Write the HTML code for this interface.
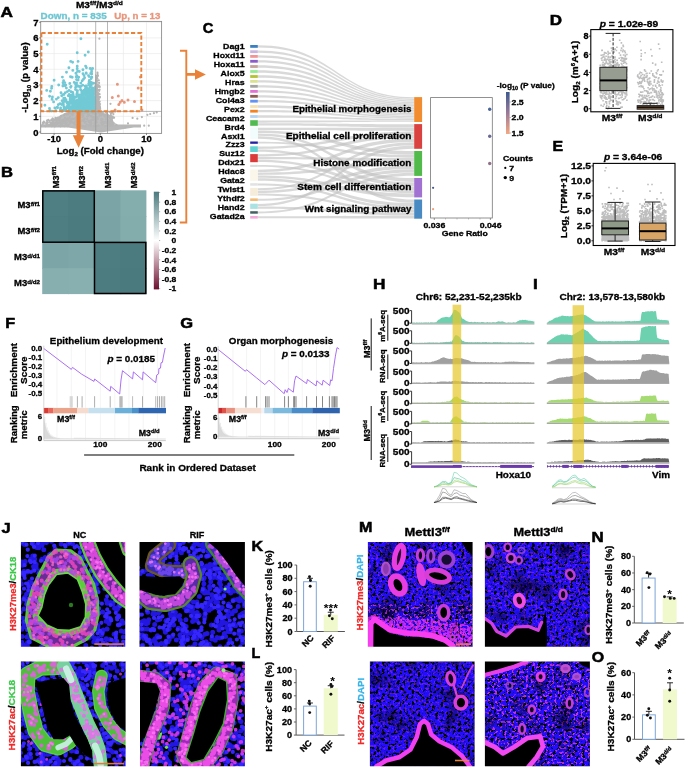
<!DOCTYPE html>
<html><head><meta charset="utf-8"><style>
html,body{margin:0;padding:0;background:#fff;width:685px;height:769px;overflow:hidden}
svg{display:block;filter:blur(0.3px)}
text{font-family:"Liberation Sans",sans-serif}
</style></head><body>
<svg width="685" height="769" viewBox="0 0 685 769" font-family="Liberation Sans, sans-serif"><text x="0" y="0" font-size="15.0" font-weight="bold" fill="#000" stroke="#000" stroke-width="0.55" transform="translate(0.60 17.40) scale(1.150 1)">A</text>
<text x="0" y="3.24" font-size="9.0" font-weight="bold" text-anchor="middle" fill="#000" stroke="#000" stroke-width="0.3" transform="translate(99.40 4.90) scale(1.12 1)">M3<tspan font-size="5.94" dy="-2.70">f/f</tspan><tspan dy="2.7" font-size="9.0">/M3</tspan><tspan font-size="5.9" dy="-2.7">d/d</tspan></text>
<text x="0" y="3.20" font-size="8.9" font-weight="bold" text-anchor="start" fill="#6ec6d3" stroke="#6ec6d3" stroke-width="0.3" textLength="66.20" lengthAdjust="spacingAndGlyphs" transform="translate(40.60 15.70)">Down, n = 835</text>
<text x="0" y="3.20" font-size="8.9" font-weight="bold" text-anchor="start" fill="#e8967c" stroke="#e8967c" stroke-width="0.3" textLength="46.20" lengthAdjust="spacingAndGlyphs" transform="translate(114.20 15.70)">Up, n = 13</text>
<line x1="54.10" y1="21.40" x2="54.10" y2="133.40" stroke="#e6e6e6" stroke-width="0.6"/>
<line x1="77.20" y1="21.40" x2="77.20" y2="133.40" stroke="#e6e6e6" stroke-width="0.6"/>
<line x1="123.40" y1="21.40" x2="123.40" y2="133.40" stroke="#e6e6e6" stroke-width="0.6"/>
<line x1="146.50" y1="21.40" x2="146.50" y2="133.40" stroke="#e6e6e6" stroke-width="0.6"/>
<line x1="40.70" y1="116.32" x2="161.60" y2="116.32" stroke="#e6e6e6" stroke-width="0.6"/>
<line x1="40.70" y1="100.64" x2="161.60" y2="100.64" stroke="#e6e6e6" stroke-width="0.6"/>
<line x1="40.70" y1="84.96" x2="161.60" y2="84.96" stroke="#e6e6e6" stroke-width="0.6"/>
<line x1="40.70" y1="69.28" x2="161.60" y2="69.28" stroke="#e6e6e6" stroke-width="0.6"/>
<line x1="40.70" y1="53.60" x2="161.60" y2="53.60" stroke="#e6e6e6" stroke-width="0.6"/>
<line x1="40.70" y1="37.92" x2="161.60" y2="37.92" stroke="#e6e6e6" stroke-width="0.6"/>
<line x1="40.70" y1="22.24" x2="161.60" y2="22.24" stroke="#e6e6e6" stroke-width="0.6"/>
<path d="M41 124.6 H141 V127.4 H134 L101 132.6 L68 127.4 H41 Z" fill="#b8b8b8"/>
<path d="M50 126 L54 119 L60 115.5 L66 112.5 L72 111.4 L94.8 111.4 L95.2 74 L97.6 76 L98.1 100 L99.5 110.5 L104 113 L109 116 L113 121 L117 124.8 L100 125 Z" fill="#bcbcbc"/>
<path d="M65.7 124.3h0M89.2 125.4h0M80.9 121.1h0M47.6 125.2h0M72.9 114.2h0M51.4 123.2h0M87.5 112.4h0M83.9 120.6h0M112.5 125.8h0M104.0 122.2h0M52.9 124.8h0M64.6 114.4h0M55.5 117.8h0M88.3 121.0h0M81.8 125.6h0M46.8 123.4h0M91.3 120.1h0M65.0 117.8h0M75.0 122.0h0M99.4 116.1h0M60.0 118.0h0M80.2 113.5h0M94.8 122.2h0M112.7 124.8h0M72.5 115.2h0M53.4 119.2h0M97.3 118.0h0M105.2 121.8h0M92.3 117.7h0M84.1 119.7h0M102.7 112.4h0M76.5 116.6h0M88.9 111.7h0M101.4 122.3h0M70.2 116.6h0M54.6 124.8h0M51.8 122.8h0M70.5 113.5h0M48.3 119.8h0M81.9 113.4h0M101.2 113.6h0M62.5 120.3h0M68.2 113.3h0M111.1 124.3h0M55.2 123.1h0M59.3 119.3h0M84.7 122.6h0M69.0 118.1h0M110.8 116.2h0M79.5 117.3h0M91.0 125.7h0M107.0 114.9h0M105.2 114.6h0M70.6 120.6h0M47.0 125.5h0M57.5 124.1h0M66.9 125.7h0M42.6 124.3h0M49.8 121.1h0M86.5 124.3h0M60.6 121.3h0M68.6 124.7h0M103.3 111.7h0M75.9 119.3h0M48.7 125.0h0M67.1 122.6h0M101.9 124.1h0M80.4 124.3h0M81.4 126.1h0M80.4 111.9h0M104.4 116.1h0M61.2 121.0h0M80.7 114.9h0M66.2 123.2h0M100.7 111.8h0M103.6 114.5h0M101.2 115.5h0M58.8 118.8h0M68.0 126.1h0M44.6 122.3h0M61.1 116.2h0M111.0 119.9h0M109.7 111.8h0M110.9 121.1h0M58.3 123.1h0M56.6 123.5h0M87.2 113.1h0M102.7 119.4h0M89.3 114.6h0M107.7 114.9h0M96.3 119.4h0M66.4 114.6h0M112.1 120.6h0M71.3 112.4h0M94.5 124.0h0M51.6 124.3h0M107.3 114.5h0M112.7 116.7h0M67.6 118.3h0M51.9 126.3h0M112.1 116.8h0M80.3 112.6h0M73.6 113.5h0M101.7 123.4h0M60.6 122.1h0M59.8 117.8h0M61.1 120.3h0M67.9 119.7h0M84.3 113.0h0M72.7 112.8h0M78.5 118.6h0M80.0 126.2h0M74.1 123.8h0M54.9 119.5h0M94.5 118.2h0M65.9 118.8h0M82.3 114.8h0M60.3 122.4h0M97.9 118.9h0M82.8 115.2h0M107.9 119.9h0M86.4 119.0h0M79.2 116.2h0M74.9 118.6h0M76.8 112.5h0M92.6 113.5h0M110.0 122.6h0M82.6 112.5h0M102.7 124.5h0M51.3 119.9h0M47.7 122.9h0M98.7 113.1h0M89.8 124.4h0M105.8 112.1h0M71.1 119.3h0M113.4 114.1h0M54.1 120.1h0M79.5 121.5h0M56.6 121.8h0M94.3 126.2h0M82.2 120.0h0M43.8 121.6h0M87.2 118.9h0M99.0 112.0h0M50.1 122.6h0M61.9 124.6h0M72.8 112.9h0M101.2 122.7h0M83.4 116.1h0M49.0 125.7h0M91.8 120.2h0M88.0 114.6h0M75.0 121.5h0M82.2 112.7h0M61.7 124.6h0M80.3 123.0h0M50.4 124.1h0M46.2 123.5h0M64.9 122.0h0M96.9 122.2h0M78.4 123.9h0M67.4 126.2h0M60.5 126.3h0M95.0 118.3h0M56.1 119.4h0M109.5 124.9h0M101.2 120.1h0M78.0 114.1h0M70.7 119.0h0M91.8 111.9h0M67.1 114.1h0M93.2 117.0h0M71.5 121.3h0M46.4 124.6h0M60.9 124.1h0M104.9 116.5h0M62.7 122.9h0M63.5 119.7h0M53.8 119.9h0M112.2 118.4h0M64.7 121.2h0M76.5 119.0h0M56.9 119.0h0M42.9 122.6h0M49.0 120.6h0M45.5 126.2h0M64.3 123.0h0M84.5 118.6h0M96.3 116.7h0M93.8 113.4h0M70.4 121.7h0M113.1 124.3h0M94.4 116.9h0M106.4 117.2h0M95.1 114.4h0M52.5 118.7h0M78.7 114.1h0M100.2 114.2h0M84.4 113.2h0M91.5 116.2h0M59.0 126.0h0M52.1 121.1h0M82.5 117.2h0M87.4 116.4h0M77.6 126.5h0M99.7 115.4h0M78.6 118.5h0M89.8 125.5h0M95.3 122.8h0M47.9 122.6h0M94.8 123.5h0M95.5 112.0h0M77.9 120.8h0M76.9 116.3h0M97.5 117.3h0M88.6 125.4h0M53.1 122.7h0M95.8 122.0h0M83.2 126.3h0M46.9 122.5h0M90.7 116.2h0M90.9 122.2h0M79.5 119.6h0M75.9 124.7h0M106.5 123.5h0M112.6 112.6h0M101.3 112.1h0M74.7 122.5h0M57.6 117.9h0M52.7 118.7h0M110.8 124.5h0M101.3 118.9h0M106.1 116.0h0M77.4 126.1h0M74.8 122.0h0M52.6 121.4h0M65.2 114.0h0M102.6 124.7h0M108.9 115.9h0M107.1 122.2h0M69.2 120.7h0M114.1 117.7h0M68.4 120.1h0M62.3 125.8h0M60.4 122.6h0M79.1 123.7h0M69.3 112.3h0M105.9 114.4h0M87.7 112.9h0M109.9 118.3h0M94.1 125.8h0M95.0 119.8h0M96.4 116.9h0M63.0 125.8h0M108.9 124.6h0M76.4 121.4h0M63.9 115.5h0M112.5 122.6h0M89.5 122.0h0M82.5 120.6h0M54.5 124.1h0M78.1 123.2h0M107.4 111.7h0M74.8 124.4h0M56.3 125.2h0M67.0 125.2h0M59.7 122.7h0M83.3 113.3h0M96.2 120.4h0M72.2 118.7h0M69.5 121.5h0M47.0 122.4h0M111.8 124.6h0M78.6 117.1h0M104.3 123.3h0M62.0 122.8h0M71.2 119.9h0M110.9 113.9h0M105.1 126.2h0M106.7 119.5h0M84.6 126.5h0M70.6 112.7h0M101.7 113.8h0M112.2 122.8h0M50.4 124.2h0M80.0 116.4h0M110.0 115.8h0M88.9 115.1h0M75.3 118.3h0M88.8 122.0h0M51.7 122.8h0M88.1 116.1h0M50.6 125.5h0M80.1 117.8h0M70.3 123.2h0M85.6 126.4h0M64.1 119.6h0M111.2 116.9h0M105.8 119.4h0M59.4 122.8h0M111.3 116.0h0M64.6 126.2h0M78.2 116.5h0M72.6 122.7h0M90.3 112.7h0M58.8 126.0h0M66.8 120.2h0M91.4 123.6h0M99.6 115.5h0M78.7 123.5h0M112.0 121.9h0M101.3 123.1h0M78.1 123.7h0M58.5 120.3h0M90.2 112.4h0M53.0 120.7h0M52.7 125.7h0M46.9 120.7h0M106.9 113.4h0M95.0 111.7h0M109.3 121.6h0M96.0 126.0h0M90.1 120.9h0M69.3 121.6h0M54.7 126.5h0M62.6 121.3h0M111.0 124.7h0M111.6 123.4h0M68.1 114.3h0M101.4 120.1h0M69.2 112.8h0M56.4 121.1h0M106.8 126.1h0M72.0 114.4h0M97.5 125.9h0M45.0 125.6h0M108.4 122.7h0M96.1 113.1h0M66.8 122.5h0M111.1 117.3h0M61.3 115.8h0M65.2 122.4h0M108.2 117.1h0M110.1 126.2h0M59.3 119.4h0M111.1 112.3h0M70.2 122.8h0M73.3 119.2h0M109.0 123.8h0M100.0 115.5h0M101.5 115.0h0M86.0 121.6h0M65.4 121.1h0M98.6 125.3h0M60.3 125.5h0M105.8 111.8h0M61.5 125.3h0M93.4 119.9h0M59.3 120.3h0M87.0 116.5h0M96.1 113.9h0M90.1 124.7h0M102.8 122.1h0M83.1 121.0h0M95.4 123.5h0M60.3 122.9h0M98.0 99.4h0M97.6 103.4h0M99.2 85.5h0M100.2 108.9h0M97.4 78.5h0M95.0 100.8h0M95.4 105.2h0M99.9 97.4h0M99.6 94.2h0M96.2 80.3h0M100.0 108.7h0M98.1 86.9h0M96.0 97.6h0M95.5 104.5h0M96.2 87.8h0M98.4 104.6h0M94.8 99.3h0M98.5 105.3h0M96.5 104.6h0M99.2 90.0h0M95.1 108.9h0M96.9 89.9h0M98.3 109.3h0M95.7 83.7h0M97.0 101.2h0M96.5 89.2h0M96.7 95.6h0M96.8 104.8h0M98.8 104.6h0M97.1 78.5h0M97.0 75.8h0M97.3 106.3h0M94.8 89.8h0M95.2 86.8h0M96.8 91.8h0M95.6 101.2h0M97.6 74.0h0M95.4 92.4h0M95.9 107.8h0M97.4 110.9h0M99.9 96.8h0M99.8 86.9h0M99.3 106.4h0M99.1 103.8h0M97.0 77.4h0M99.4 105.4h0M96.0 96.3h0M97.6 96.9h0M95.4 102.7h0M95.0 89.4h0M99.0 111.6h0M99.4 108.2h0M98.1 89.9h0M98.2 100.2h0M97.1 88.5h0M97.1 85.3h0M97.2 94.6h0M97.5 103.2h0M97.3 105.6h0M97.4 108.7h0M95.5 95.0h0M95.3 94.5h0M97.6 111.5h0M98.3 109.7h0M98.8 80.3h0M97.6 110.9h0M97.5 97.2h0M100.0 107.4h0M97.5 72.7h0M99.8 106.2h0M95.1 98.3h0M98.9 106.5h0M99.7 101.5h0M99.3 107.1h0M97.5 74.2h0M95.9 102.1h0M97.6 99.7h0M95.0 105.5h0M95.4 90.7h0M98.3 98.0h0M99.6 89.7h0M98.0 75.8h0M98.2 96.5h0M99.2 102.0h0M96.8 80.8h0M97.2 105.7h0M98.9 111.1h0M99.3 102.4h0M98.0 85.1h0M96.5 113.1h0M94.9 106.9h0M98.2 94.9h0M97.6 75.3h0M95.5 103.6h0M98.4 112.2h0M94.8 98.2h0M95.3 98.1h0M96.0 88.5h0M98.0 104.5h0M98.2 93.1h0M96.1 106.9h0M95.3 86.2h0M97.0 102.0h0M97.9 98.4h0M98.3 94.4h0M95.0 90.7h0M97.0 103.1h0M94.8 89.9h0M100.0 107.2h0M95.9 87.4h0M97.6 86.0h0M99.3 105.8h0M96.5 100.5h0M99.1 82.9h0M98.9 93.5h0M98.9 94.0h0M96.0 108.7h0M96.0 111.5h0M96.6 81.4h0M98.7 101.9h0M97.8 94.7h0M99.1 91.0h0M96.2 86.0h0M100.1 104.0h0M99.6 112.5h0M96.2 103.2h0M98.9 99.3h0M144.2 125.7h0M148.8 125.7h0M128.0 123.4h0M132.6 117.9h0M137.3 118.7h0M141.9 117.1h0M147.4 114.8h0M150.2 114.0h0M153.9 113.2h0M156.7 112.4h0M125.7 127.3h0M116.5 124.9h0M99.4 38.7h0M110.5 103.8h0M115.1 111.6h0M43.5 123.4h0M47.2 122.6h0M107.2 117.9h0M111.8 119.5h0" stroke="#b5b5b5" stroke-width="2.2" stroke-linecap="round" fill="none"/>
<path d="M66 111.4 L74 104 L80 97 L86 91 L94.8 86 L94.8 111.4 Z" fill="#78cbd7"/>
<path d="M83.9 107.4h0M84.6 77.7h0M77.3 95.9h0M63.5 94.4h0M88.7 83.8h0M70.1 99.4h0M84.5 106.1h0M89.3 110.2h0M72.2 77.2h0M92.4 109.7h0M91.7 74.0h0M89.6 110.9h0M87.1 110.7h0M86.4 94.5h0M72.7 92.5h0M74.4 104.9h0M85.8 87.3h0M79.9 110.3h0M63.0 82.7h0M60.4 109.7h0M74.3 108.1h0M91.4 84.7h0M91.9 87.7h0M74.1 97.2h0M71.6 106.5h0M88.6 91.3h0M90.3 108.1h0M87.4 111.0h0M78.9 107.1h0M89.4 104.8h0M68.9 105.8h0M75.6 84.4h0M90.3 97.7h0M77.9 103.2h0M91.4 90.4h0M79.9 100.4h0M73.4 107.9h0M90.0 87.1h0M89.2 108.7h0M83.6 91.0h0M75.4 101.8h0M94.2 88.8h0M87.0 105.3h0M76.9 86.1h0M92.1 106.6h0M54.9 107.9h0M88.7 109.7h0M76.2 97.0h0M69.2 94.4h0M80.5 89.5h0M83.9 104.1h0M83.5 104.2h0M89.3 80.4h0M90.3 110.9h0M91.2 78.6h0M82.2 101.5h0M69.7 107.5h0M71.0 102.6h0M67.4 91.6h0M89.3 96.6h0M86.2 108.9h0M82.7 85.2h0M80.4 108.7h0M71.4 103.2h0M91.5 109.4h0M73.1 102.6h0M85.6 108.3h0M86.7 106.2h0M85.5 108.9h0M64.1 108.9h0M94.5 100.9h0M80.0 108.8h0M85.3 92.9h0M60.6 109.8h0M69.3 104.5h0M65.3 92.7h0M91.8 103.2h0M86.9 109.7h0M72.4 108.0h0M91.4 104.1h0M91.9 89.2h0M87.9 97.2h0M76.4 102.5h0M80.5 104.0h0M77.2 92.2h0M80.0 99.3h0M85.1 91.8h0M84.2 93.2h0M89.1 81.4h0M90.9 84.3h0M69.2 95.2h0M83.2 106.0h0M80.5 97.3h0M80.6 89.8h0M84.7 93.7h0M86.1 103.5h0M85.6 102.7h0M82.4 95.4h0M83.0 73.7h0M84.9 90.1h0M72.6 104.4h0M49.8 110.8h0M91.9 100.2h0M79.3 71.5h0M70.2 101.0h0M77.3 100.3h0M81.9 93.5h0M71.1 86.4h0M92.9 100.9h0M60.6 108.0h0M73.2 95.0h0M72.7 109.5h0M91.3 106.8h0M90.3 104.1h0M77.5 103.6h0M93.3 94.4h0M86.9 107.7h0M84.3 92.2h0M75.8 107.8h0M87.3 88.5h0M85.8 109.3h0M87.5 90.2h0M86.1 102.4h0M72.8 99.7h0M88.3 105.2h0M52.4 96.9h0M81.9 102.4h0M67.0 106.4h0M86.5 86.0h0M92.2 105.1h0M87.0 104.6h0M84.2 107.2h0M85.2 111.3h0M90.0 93.2h0M92.3 106.2h0M82.5 102.1h0M73.4 96.1h0M84.5 105.0h0M65.3 110.5h0M80.6 86.5h0M70.6 109.2h0M78.5 86.2h0M92.8 111.1h0M92.6 68.5h0M87.7 109.8h0M84.3 109.1h0M91.8 105.3h0M66.1 109.0h0M70.5 108.7h0M78.1 80.0h0M72.2 95.7h0M76.5 79.6h0M87.2 108.2h0M63.9 94.6h0M67.9 103.2h0M89.5 81.1h0M82.5 107.5h0M90.3 109.2h0M89.0 102.4h0M94.5 109.1h0M75.3 100.4h0M93.7 83.3h0M62.9 102.4h0M93.4 99.6h0M78.6 104.7h0M67.3 103.6h0M88.4 97.0h0M93.1 97.0h0M72.3 95.1h0M90.7 73.5h0M72.0 101.2h0M53.6 101.9h0M91.3 93.4h0M92.1 97.5h0M77.3 104.9h0M66.7 102.2h0M66.6 108.0h0M90.2 103.2h0M76.1 86.6h0M84.9 106.4h0M86.8 101.4h0M79.8 106.8h0M49.6 96.3h0M92.9 89.1h0M87.7 106.3h0M82.1 98.8h0M75.5 110.7h0M72.9 93.2h0M79.0 110.6h0M81.0 106.3h0M84.0 75.4h0M94.3 98.1h0M78.7 77.3h0M70.2 98.0h0M77.4 94.5h0M79.1 98.5h0M89.9 95.8h0M84.3 102.7h0M94.1 108.5h0M87.1 110.8h0M89.1 96.3h0M58.3 104.8h0M81.9 99.6h0M68.5 107.1h0M89.2 105.9h0M78.3 103.4h0M70.4 110.5h0M64.6 99.5h0M86.6 87.8h0M92.7 99.2h0M79.0 111.1h0M85.9 104.4h0M73.3 102.2h0M88.2 96.7h0M90.7 107.9h0M93.1 111.2h0M92.4 95.1h0M63.5 110.0h0M64.8 82.6h0M92.6 93.4h0M92.5 107.4h0M93.7 110.6h0M84.1 90.3h0M87.3 92.8h0M62.9 110.1h0M76.7 102.6h0M75.9 73.3h0M93.7 93.5h0M51.8 111.1h0M70.7 87.3h0M92.5 110.1h0M84.7 108.7h0M69.8 83.5h0M88.9 104.8h0M94.3 99.2h0M71.6 109.1h0M85.4 88.8h0M79.1 97.3h0M76.6 103.7h0M72.8 70.4h0M75.5 89.6h0M82.1 110.4h0M85.7 105.6h0M64.9 98.2h0M63.7 98.3h0M90.3 106.1h0M63.4 104.6h0M79.7 95.0h0M66.4 88.1h0M73.6 106.6h0M81.8 103.6h0M94.6 98.8h0M80.8 110.7h0M62.9 86.0h0M82.1 99.3h0M63.8 106.8h0M76.8 95.0h0M70.5 76.7h0M90.7 99.9h0M89.0 88.8h0M86.3 73.4h0M68.4 107.5h0M75.2 102.5h0M79.2 108.0h0M93.9 89.2h0M67.0 102.6h0M69.1 90.4h0M79.0 107.6h0M63.6 80.8h0M77.8 100.9h0M72.8 108.3h0M91.5 108.3h0M83.9 104.9h0M71.3 99.6h0M78.3 109.0h0M83.2 110.7h0M78.7 109.7h0M94.5 97.2h0M92.5 98.5h0M85.3 105.3h0M91.4 110.8h0M82.0 99.5h0M80.4 107.0h0M91.6 70.0h0M77.5 90.7h0M76.8 107.2h0M55.9 110.8h0M91.6 110.1h0M84.7 110.6h0M63.3 102.7h0M82.9 69.8h0M89.6 98.4h0M91.5 104.2h0M64.1 107.1h0M66.0 99.6h0M68.3 95.7h0M62.6 104.3h0M93.9 107.1h0M90.2 105.2h0M65.2 85.7h0M74.1 110.6h0M88.8 96.6h0M86.0 91.5h0M91.6 71.7h0M88.5 98.7h0M82.2 91.3h0M83.2 107.1h0M85.7 109.4h0M84.7 107.5h0M93.6 109.1h0M93.6 93.5h0M92.4 108.2h0M57.6 107.8h0M86.2 72.9h0M71.4 109.2h0M68.9 102.9h0M63.4 85.2h0M72.9 97.3h0M80.3 86.9h0M90.3 102.1h0M88.4 107.8h0M88.1 110.5h0M90.0 109.1h0M74.2 82.4h0M93.0 108.9h0M77.7 106.8h0M86.7 108.7h0M82.1 101.8h0M79.8 109.6h0M61.7 95.7h0M82.4 108.0h0M81.2 107.1h0M92.8 108.1h0M83.5 79.3h0M86.8 110.5h0M81.0 111.1h0M89.4 109.2h0M80.5 111.3h0M84.7 108.4h0M77.1 103.2h0M84.8 99.3h0M88.6 109.2h0M82.6 93.8h0M68.9 108.2h0M88.5 98.1h0M91.4 101.6h0M93.1 97.9h0M83.6 93.9h0M86.5 108.1h0M74.4 110.3h0M92.9 93.3h0M77.8 110.5h0M89.2 85.3h0M80.8 83.1h0M91.8 77.3h0M94.6 102.2h0M85.7 108.4h0M85.3 86.2h0M88.1 104.8h0M87.4 98.6h0M74.6 103.0h0M94.2 101.1h0M75.6 87.4h0M76.6 83.0h0M83.4 104.5h0M71.1 91.7h0M82.1 101.7h0M74.4 100.4h0M93.0 111.0h0M83.2 108.5h0M92.4 109.8h0M94.7 110.9h0M64.1 109.9h0M91.3 111.1h0M84.4 98.4h0M76.8 94.2h0M85.4 109.8h0M76.7 110.7h0M75.4 109.4h0M75.2 106.7h0M94.0 109.5h0M87.3 98.7h0M89.7 83.4h0M81.7 91.9h0M77.4 108.8h0M76.7 104.4h0M60.0 103.6h0M83.9 104.2h0M77.6 71.3h0M92.2 107.4h0M79.8 105.5h0M51.6 88.3h0M76.3 76.9h0M81.9 110.5h0M65.1 101.0h0M57.3 107.3h0M84.6 103.6h0M84.1 100.6h0M83.0 110.3h0M76.8 111.0h0M86.7 109.2h0M66.5 72.3h0M89.3 97.1h0M82.2 80.8h0M62.6 110.8h0M86.5 95.3h0M84.6 106.8h0M58.3 97.6h0M84.8 107.2h0M77.2 68.8h0M92.5 106.5h0M86.6 109.5h0M72.2 98.6h0M75.5 106.9h0M89.3 102.4h0M85.5 109.4h0M92.8 109.3h0M90.2 106.5h0M78.4 107.4h0M77.0 85.5h0M83.8 98.0h0M73.0 108.1h0M84.5 93.8h0M74.4 97.9h0M89.7 102.4h0M90.2 107.8h0M83.3 101.2h0M78.4 111.1h0M80.0 105.2h0M86.8 99.8h0M85.4 101.8h0M84.1 106.4h0M46.7 90.4h0M91.4 82.4h0M89.6 103.1h0M79.5 103.1h0M88.5 92.5h0M85.6 66.1h0M87.2 92.4h0M86.2 105.2h0M82.3 95.4h0M70.6 87.0h0M73.1 101.0h0M92.8 91.2h0M67.4 102.2h0M89.1 76.6h0M69.3 109.4h0M93.7 90.8h0M93.6 98.9h0M52.1 99.3h0M94.2 103.7h0M87.7 98.1h0M61.7 104.6h0M77.2 93.2h0M89.3 106.4h0M78.4 104.5h0M81.3 105.8h0M87.3 101.5h0M63.3 103.0h0M89.1 109.1h0M81.8 99.2h0M88.5 75.6h0M91.3 105.8h0M77.2 66.3h0M68.3 108.1h0M62.0 111.2h0M78.5 110.6h0M76.8 75.6h0M87.0 90.3h0M80.5 101.0h0M88.2 105.1h0M79.6 98.6h0M70.8 95.4h0M62.2 100.8h0M81.7 104.1h0M85.4 99.7h0M79.4 101.9h0M86.2 105.4h0M64.7 108.7h0M89.0 105.9h0M47.2 44.2h0M80.9 38.7h0M77.2 52.8h0M78.1 61.4h0M70.7 61.4h0M72.6 62.2h0M68.9 67.7h0M88.3 52.0h0M85.1 55.2h0M44.9 105.3h0M49.5 108.5h0M54.1 80.3h0M51.8 86.5h0M58.7 85.0h0M62.4 77.1h0M65.7 85.0h0M86.4 67.7h0M90.1 68.5h0M56.4 99.1h0M50.4 91.2h0M61.0 92.8h0" stroke="#72c9d6" stroke-width="2.9" stroke-linecap="round" fill="none"/>
<path d="M117.4 84.2h0M118.3 95.9h0M122.0 100.6h0M120.2 102.2h0M124.3 102.2h0M128.0 99.9h0M134.5 101.4h0M138.2 88.1h0M140.5 77.1h0M112.3 97.5h0M118.8 104.6h0M115.1 110.0h0M141.9 110.0h0" stroke="#e8967c" stroke-width="3.0" stroke-linecap="round" fill="none"/>
<line x1="95.70" y1="21.40" x2="95.70" y2="133.40" stroke="#9a9a9a" stroke-width="0.7"/>
<line x1="107.50" y1="21.40" x2="107.50" y2="133.40" stroke="#9a9a9a" stroke-width="0.7"/>
<line x1="40.70" y1="111.40" x2="161.60" y2="111.40" stroke="#9a9a9a" stroke-width="0.7"/>
<rect x="40.70" y="21.40" width="120.90" height="112.00" fill="none" stroke="#8c8c8c" stroke-width="0.9"/>
<text x="0" y="3.10" font-size="8.6" font-weight="bold" text-anchor="end" fill="#000" stroke="#000" stroke-width="0.3" transform="translate(38.60 132.40) scale(1.1 1)">0</text>
<line x1="39.10" y1="132.00" x2="40.70" y2="132.00" stroke="#555" stroke-width="0.7"/>
<text x="0" y="3.10" font-size="8.6" font-weight="bold" text-anchor="end" fill="#000" stroke="#000" stroke-width="0.3" transform="translate(38.60 116.72) scale(1.1 1)">1</text>
<line x1="39.10" y1="116.32" x2="40.70" y2="116.32" stroke="#555" stroke-width="0.7"/>
<text x="0" y="3.10" font-size="8.6" font-weight="bold" text-anchor="end" fill="#000" stroke="#000" stroke-width="0.3" transform="translate(38.60 101.04) scale(1.1 1)">2</text>
<line x1="39.10" y1="100.64" x2="40.70" y2="100.64" stroke="#555" stroke-width="0.7"/>
<text x="0" y="3.10" font-size="8.6" font-weight="bold" text-anchor="end" fill="#000" stroke="#000" stroke-width="0.3" transform="translate(38.60 85.36) scale(1.1 1)">3</text>
<line x1="39.10" y1="84.96" x2="40.70" y2="84.96" stroke="#555" stroke-width="0.7"/>
<text x="0" y="3.10" font-size="8.6" font-weight="bold" text-anchor="end" fill="#000" stroke="#000" stroke-width="0.3" transform="translate(38.60 69.68) scale(1.1 1)">4</text>
<line x1="39.10" y1="69.28" x2="40.70" y2="69.28" stroke="#555" stroke-width="0.7"/>
<text x="0" y="3.10" font-size="8.6" font-weight="bold" text-anchor="end" fill="#000" stroke="#000" stroke-width="0.3" transform="translate(38.60 54.00) scale(1.1 1)">5</text>
<line x1="39.10" y1="53.60" x2="40.70" y2="53.60" stroke="#555" stroke-width="0.7"/>
<text x="0" y="3.10" font-size="8.6" font-weight="bold" text-anchor="end" fill="#000" stroke="#000" stroke-width="0.3" transform="translate(38.60 38.32) scale(1.1 1)">6</text>
<line x1="39.10" y1="37.92" x2="40.70" y2="37.92" stroke="#555" stroke-width="0.7"/>
<text x="0" y="3.10" font-size="8.6" font-weight="bold" text-anchor="end" fill="#000" stroke="#000" stroke-width="0.3" transform="translate(38.60 22.64) scale(1.1 1)">7</text>
<line x1="39.10" y1="22.24" x2="40.70" y2="22.24" stroke="#555" stroke-width="0.7"/>
<text x="0" y="3.10" font-size="8.6" font-weight="bold" text-anchor="middle" fill="#000" stroke="#000" stroke-width="0.3" transform="translate(54.10 139.20) scale(1.1 1)">-10</text>
<line x1="54.10" y1="133.40" x2="54.10" y2="135.00" stroke="#555" stroke-width="0.7"/>
<text x="0" y="3.10" font-size="8.6" font-weight="bold" text-anchor="middle" fill="#000" stroke="#000" stroke-width="0.3" transform="translate(100.30 139.20) scale(1.1 1)">0</text>
<line x1="100.30" y1="133.40" x2="100.30" y2="135.00" stroke="#555" stroke-width="0.7"/>
<text x="0" y="3.10" font-size="8.6" font-weight="bold" text-anchor="middle" fill="#000" stroke="#000" stroke-width="0.3" transform="translate(146.50 139.20) scale(1.1 1)">10</text>
<line x1="146.50" y1="133.40" x2="146.50" y2="135.00" stroke="#555" stroke-width="0.7"/>
<text x="0" y="3.17" font-size="8.8" font-weight="bold" text-anchor="middle" fill="#000" stroke="#000" stroke-width="0.3" transform="translate(100.30 150.60) scale(1.1 1)">Log<tspan font-size="5.6" dy="2.2">2</tspan><tspan dy="-2.2"> (Fold change)</tspan></text>
<text x="0" y="3.17" font-size="8.8" font-weight="bold" text-anchor="middle" fill="#000" stroke="#000" stroke-width="0.3" transform="translate(25.20 77.50) rotate(-90) scale(1.1 1)">-Log<tspan font-size="5.6" dy="2.2">10</tspan><tspan dy="-2.2"> (p value)</tspan></text>
<rect x="41.4" y="33.0" width="99.9" height="78.2" fill="none" stroke="#e98238" stroke-width="1.9" stroke-dasharray="4.2 2.2"/>
<path d="M76.6 111.2 H80.6 V135.2 H84.4 L78.6 147.8 L72.8 135.2 H76.6 Z" fill="#e98238"/>
<path d="M180 50.8 H186.3 V222.5 H179.8" fill="none" stroke="#e98238" stroke-width="1.9"/>
<path d="M186 73.1 H195 V69.2 L205.9 74.4 L195 79.7 V75.7 H186 Z" fill="#e98238"/>
<text x="0" y="0" font-size="15.0" font-weight="bold" fill="#000" stroke="#000" stroke-width="0.55" transform="translate(1.00 176.70) scale(1.111 1)">B</text>
<rect x="42.20" y="190.30" width="26.85" height="26.75" fill="#4f7f83"/>
<rect x="68.25" y="190.30" width="26.85" height="26.75" fill="#4c7c80"/>
<rect x="94.30" y="190.30" width="26.85" height="26.75" fill="#7aa4a6"/>
<rect x="120.35" y="190.30" width="26.05" height="26.75" fill="#84adae"/>
<rect x="42.20" y="216.25" width="26.85" height="26.75" fill="#4e7e82"/>
<rect x="68.25" y="216.25" width="26.85" height="26.75" fill="#4b7b7f"/>
<rect x="94.30" y="216.25" width="26.85" height="26.75" fill="#79a3a5"/>
<rect x="120.35" y="216.25" width="26.05" height="26.75" fill="#83acad"/>
<rect x="42.20" y="242.20" width="26.85" height="26.75" fill="#7ca5a7"/>
<rect x="68.25" y="242.20" width="26.85" height="26.75" fill="#7ea7a9"/>
<rect x="94.30" y="242.20" width="26.85" height="26.75" fill="#4d7d81"/>
<rect x="120.35" y="242.20" width="26.05" height="26.75" fill="#4b7b7f"/>
<rect x="42.20" y="268.15" width="26.85" height="25.95" fill="#87afb0"/>
<rect x="68.25" y="268.15" width="26.85" height="25.95" fill="#88b0b1"/>
<rect x="94.30" y="268.15" width="26.85" height="25.95" fill="#4c7c80"/>
<rect x="120.35" y="268.15" width="26.05" height="25.95" fill="#4a7a7e"/>
<rect x="42.80" y="190.90" width="51.50" height="51.30" fill="none" stroke="#000" stroke-width="1.5"/>
<rect x="94.50" y="242.40" width="51.30" height="51.10" fill="none" stroke="#000" stroke-width="1.5"/>
<text x="0" y="0.00" font-size="8.6" font-weight="bold" text-anchor="start" fill="#000" stroke="#000" stroke-width="0.3" transform="translate(59.02 188.50) rotate(-90) scale(1.1 1)">M3<tspan font-size="5.68" dy="-2.58">f/f1</tspan></text>
<text x="0" y="0.00" font-size="8.6" font-weight="bold" text-anchor="start" fill="#000" stroke="#000" stroke-width="0.3" transform="translate(85.08 188.50) rotate(-90) scale(1.1 1)">M3<tspan font-size="5.68" dy="-2.58">f/f2</tspan></text>
<text x="0" y="0.00" font-size="8.6" font-weight="bold" text-anchor="start" fill="#000" stroke="#000" stroke-width="0.3" transform="translate(111.12 188.50) rotate(-90) scale(1.1 1)">M3<tspan font-size="5.68" dy="-2.58">d/d1</tspan></text>
<text x="0" y="0.00" font-size="8.6" font-weight="bold" text-anchor="start" fill="#000" stroke="#000" stroke-width="0.3" transform="translate(137.18 188.50) rotate(-90) scale(1.1 1)">M3<tspan font-size="5.68" dy="-2.58">d/d2</tspan></text>
<text x="0" y="3.10" font-size="8.6" font-weight="bold" text-anchor="end" fill="#000" stroke="#000" stroke-width="0.3" transform="translate(40.00 205.28) scale(1.1 1)">M3<tspan font-size="5.68" dy="-2.58">f/f1</tspan></text>
<text x="0" y="3.10" font-size="8.6" font-weight="bold" text-anchor="end" fill="#000" stroke="#000" stroke-width="0.3" transform="translate(40.00 231.23) scale(1.1 1)">M3<tspan font-size="5.68" dy="-2.58">f/f2</tspan></text>
<text x="0" y="3.10" font-size="8.6" font-weight="bold" text-anchor="end" fill="#000" stroke="#000" stroke-width="0.3" transform="translate(40.00 257.18) scale(1.1 1)">M3<tspan font-size="5.68" dy="-2.58">d/d1</tspan></text>
<text x="0" y="3.10" font-size="8.6" font-weight="bold" text-anchor="end" fill="#000" stroke="#000" stroke-width="0.3" transform="translate(40.00 283.12) scale(1.1 1)">M3<tspan font-size="5.68" dy="-2.58">d/d2</tspan></text>
<defs><linearGradient id="cbB" x1="0" y1="0" x2="0" y2="1"><stop offset="0" stop-color="#4a7a7e"/><stop offset="0.5" stop-color="#ffffff"/><stop offset="1" stop-color="#6e0f30"/></linearGradient></defs>
<rect x="153.80" y="191.70" width="5.20" height="97.70" fill="url(#cbB)"/>
<text x="0" y="2.74" font-size="7.6" font-weight="bold" text-anchor="end" fill="#000" stroke="#000" stroke-width="0.3" transform="translate(176.30 192.50) scale(1.12 1)">1</text>
<line x1="159.00" y1="192.50" x2="160.20" y2="192.50" stroke="#666" stroke-width="0.5"/>
<text x="0" y="2.74" font-size="7.6" font-weight="bold" text-anchor="end" fill="#000" stroke="#000" stroke-width="0.3" transform="translate(176.30 202.11) scale(1.12 1)">0.8</text>
<line x1="159.00" y1="202.11" x2="160.20" y2="202.11" stroke="#666" stroke-width="0.5"/>
<text x="0" y="2.74" font-size="7.6" font-weight="bold" text-anchor="end" fill="#000" stroke="#000" stroke-width="0.3" transform="translate(176.30 211.72) scale(1.12 1)">0.6</text>
<line x1="159.00" y1="211.72" x2="160.20" y2="211.72" stroke="#666" stroke-width="0.5"/>
<text x="0" y="2.74" font-size="7.6" font-weight="bold" text-anchor="end" fill="#000" stroke="#000" stroke-width="0.3" transform="translate(176.30 221.33) scale(1.12 1)">0.4</text>
<line x1="159.00" y1="221.33" x2="160.20" y2="221.33" stroke="#666" stroke-width="0.5"/>
<text x="0" y="2.74" font-size="7.6" font-weight="bold" text-anchor="end" fill="#000" stroke="#000" stroke-width="0.3" transform="translate(176.30 230.94) scale(1.12 1)">0.2</text>
<line x1="159.00" y1="230.94" x2="160.20" y2="230.94" stroke="#666" stroke-width="0.5"/>
<text x="0" y="2.74" font-size="7.6" font-weight="bold" text-anchor="end" fill="#000" stroke="#000" stroke-width="0.3" transform="translate(176.30 240.55) scale(1.12 1)">0</text>
<line x1="159.00" y1="240.55" x2="160.20" y2="240.55" stroke="#666" stroke-width="0.5"/>
<text x="0" y="2.74" font-size="7.6" font-weight="bold" text-anchor="end" fill="#000" stroke="#000" stroke-width="0.3" transform="translate(176.30 250.16) scale(1.12 1)">-0.2</text>
<line x1="159.00" y1="250.16" x2="160.20" y2="250.16" stroke="#666" stroke-width="0.5"/>
<text x="0" y="2.74" font-size="7.6" font-weight="bold" text-anchor="end" fill="#000" stroke="#000" stroke-width="0.3" transform="translate(176.30 259.77) scale(1.12 1)">-0.4</text>
<line x1="159.00" y1="259.77" x2="160.20" y2="259.77" stroke="#666" stroke-width="0.5"/>
<text x="0" y="2.74" font-size="7.6" font-weight="bold" text-anchor="end" fill="#000" stroke="#000" stroke-width="0.3" transform="translate(176.30 269.38) scale(1.12 1)">-0.6</text>
<line x1="159.00" y1="269.38" x2="160.20" y2="269.38" stroke="#666" stroke-width="0.5"/>
<text x="0" y="2.74" font-size="7.6" font-weight="bold" text-anchor="end" fill="#000" stroke="#000" stroke-width="0.3" transform="translate(176.30 278.99) scale(1.12 1)">-0.8</text>
<line x1="159.00" y1="278.99" x2="160.20" y2="278.99" stroke="#666" stroke-width="0.5"/>
<text x="0" y="2.74" font-size="7.6" font-weight="bold" text-anchor="end" fill="#000" stroke="#000" stroke-width="0.3" transform="translate(176.30 288.60) scale(1.12 1)">-1</text>
<line x1="159.00" y1="288.60" x2="160.20" y2="288.60" stroke="#666" stroke-width="0.5"/>
<text x="0" y="0" font-size="15.0" font-weight="bold" fill="#000" stroke="#000" stroke-width="0.55" transform="translate(202.70 33.40) scale(0.982 1)">C</text>
<text x="0" y="2.81" font-size="7.8" font-weight="bold" text-anchor="end" fill="#000" stroke="#000" stroke-width="0.3" transform="translate(244.60 46.40) scale(1.13 1)">Dag1</text>
<text x="0" y="2.81" font-size="7.8" font-weight="bold" text-anchor="end" fill="#000" stroke="#000" stroke-width="0.3" transform="translate(244.60 55.33) scale(1.13 1)">Hoxd11</text>
<text x="0" y="2.81" font-size="7.8" font-weight="bold" text-anchor="end" fill="#000" stroke="#000" stroke-width="0.3" transform="translate(244.60 64.26) scale(1.13 1)">Hoxa11</text>
<text x="0" y="2.81" font-size="7.8" font-weight="bold" text-anchor="end" fill="#000" stroke="#000" stroke-width="0.3" transform="translate(244.60 73.19) scale(1.13 1)">Alox5</text>
<text x="0" y="2.81" font-size="7.8" font-weight="bold" text-anchor="end" fill="#000" stroke="#000" stroke-width="0.3" transform="translate(244.60 82.12) scale(1.13 1)">Hras</text>
<text x="0" y="2.81" font-size="7.8" font-weight="bold" text-anchor="end" fill="#000" stroke="#000" stroke-width="0.3" transform="translate(244.60 91.05) scale(1.13 1)">Hmgb2</text>
<text x="0" y="2.81" font-size="7.8" font-weight="bold" text-anchor="end" fill="#000" stroke="#000" stroke-width="0.3" transform="translate(244.60 99.98) scale(1.13 1)">Col4a3</text>
<text x="0" y="2.81" font-size="7.8" font-weight="bold" text-anchor="end" fill="#000" stroke="#000" stroke-width="0.3" transform="translate(244.60 108.91) scale(1.13 1)">Pex2</text>
<text x="0" y="2.81" font-size="7.8" font-weight="bold" text-anchor="end" fill="#000" stroke="#000" stroke-width="0.3" transform="translate(244.60 117.84) scale(1.13 1)">Ceacam2</text>
<text x="0" y="2.81" font-size="7.8" font-weight="bold" text-anchor="end" fill="#000" stroke="#000" stroke-width="0.3" transform="translate(244.60 126.77) scale(1.13 1)">Brd4</text>
<text x="0" y="2.81" font-size="7.8" font-weight="bold" text-anchor="end" fill="#000" stroke="#000" stroke-width="0.3" transform="translate(244.60 135.70) scale(1.13 1)">Asxl1</text>
<text x="0" y="2.81" font-size="7.8" font-weight="bold" text-anchor="end" fill="#000" stroke="#000" stroke-width="0.3" transform="translate(244.60 144.63) scale(1.13 1)">Zzz3</text>
<text x="0" y="2.81" font-size="7.8" font-weight="bold" text-anchor="end" fill="#000" stroke="#000" stroke-width="0.3" transform="translate(244.60 153.56) scale(1.13 1)">Suz12</text>
<text x="0" y="2.81" font-size="7.8" font-weight="bold" text-anchor="end" fill="#000" stroke="#000" stroke-width="0.3" transform="translate(244.60 162.49) scale(1.13 1)">Ddx21</text>
<text x="0" y="2.81" font-size="7.8" font-weight="bold" text-anchor="end" fill="#000" stroke="#000" stroke-width="0.3" transform="translate(244.60 171.42) scale(1.13 1)">Hdac8</text>
<text x="0" y="2.81" font-size="7.8" font-weight="bold" text-anchor="end" fill="#000" stroke="#000" stroke-width="0.3" transform="translate(244.60 180.35) scale(1.13 1)">Gata2</text>
<text x="0" y="2.81" font-size="7.8" font-weight="bold" text-anchor="end" fill="#000" stroke="#000" stroke-width="0.3" transform="translate(244.60 189.28) scale(1.13 1)">Twist1</text>
<text x="0" y="2.81" font-size="7.8" font-weight="bold" text-anchor="end" fill="#000" stroke="#000" stroke-width="0.3" transform="translate(244.60 198.21) scale(1.13 1)">Ythdf2</text>
<text x="0" y="2.81" font-size="7.8" font-weight="bold" text-anchor="end" fill="#000" stroke="#000" stroke-width="0.3" transform="translate(244.60 207.14) scale(1.13 1)">Hand2</text>
<text x="0" y="2.81" font-size="7.8" font-weight="bold" text-anchor="end" fill="#000" stroke="#000" stroke-width="0.3" transform="translate(244.60 216.07) scale(1.13 1)">Gatad2a</text>
<g fill="#c2c2c2" fill-opacity="0.62"><path d="M257.8 45.25 C336.0 45.25 336.0 97.22 414.2 97.22 L414.2 98.53 C336.0 98.53 336.0 47.55 257.8 47.55 Z"/><path d="M257.8 50.55 C336.0 50.55 336.0 98.78 414.2 98.78 L414.2 100.09 C336.0 100.09 336.0 52.85 257.8 52.85 Z"/><path d="M257.8 55.25 C336.0 55.25 336.0 100.34 414.2 100.34 L414.2 101.64 C336.0 101.64 336.0 57.55 257.8 57.55 Z"/><path d="M257.8 60.15 C336.0 60.15 336.0 101.89 414.2 101.89 L414.2 103.20 C336.0 103.20 336.0 62.45 257.8 62.45 Z"/><path d="M257.8 65.35 C336.0 65.35 336.0 103.45 414.2 103.45 L414.2 104.76 C336.0 104.76 336.0 67.65 257.8 67.65 Z"/><path d="M257.8 70.35 C336.0 70.35 336.0 105.01 414.2 105.01 L414.2 106.31 C336.0 106.31 336.0 72.65 257.8 72.65 Z"/><path d="M257.8 75.35 C336.0 75.35 336.0 106.56 414.2 106.56 L414.2 107.87 C336.0 107.87 336.0 77.65 257.8 77.65 Z"/><path d="M257.8 80.25 C336.0 80.25 336.0 108.12 414.2 108.12 L414.2 109.42 C336.0 109.42 336.0 82.55 257.8 82.55 Z"/><path d="M257.8 85.15 C336.0 85.15 336.0 109.67 414.2 109.67 L414.2 110.98 C336.0 110.98 336.0 87.45 257.8 87.45 Z"/><path d="M257.8 90.25 C336.0 90.25 336.0 111.23 414.2 111.23 L414.2 112.54 C336.0 112.54 336.0 92.55 257.8 92.55 Z"/><path d="M257.8 95.15 C336.0 95.15 336.0 112.79 414.2 112.79 L414.2 114.09 C336.0 114.09 336.0 97.45 257.8 97.45 Z"/><path d="M257.8 100.05 C336.0 100.05 336.0 114.34 414.2 114.34 L414.2 115.65 C336.0 115.65 336.0 102.35 257.8 102.35 Z"/><path d="M257.8 105.35 C336.0 105.35 336.0 115.90 414.2 115.90 L414.2 117.21 C336.0 117.21 336.0 107.65 257.8 107.65 Z"/><path d="M257.8 110.05 C336.0 110.05 336.0 117.46 414.2 117.46 L414.2 118.76 C336.0 118.76 336.0 112.35 257.8 112.35 Z"/><path d="M257.8 115.35 C336.0 115.35 336.0 119.01 414.2 119.01 L414.2 120.32 C336.0 120.32 336.0 117.65 257.8 117.65 Z"/><path d="M257.8 120.45 C336.0 120.45 336.0 120.57 414.2 120.57 L414.2 121.87 C336.0 121.87 336.0 122.75 257.8 122.75 Z"/><path d="M257.8 123.25 C336.0 123.25 336.0 124.22 414.2 124.22 L414.2 127.56 C336.0 127.56 336.0 125.55 257.8 125.55 Z"/><path d="M257.8 127.75 C336.0 127.75 336.0 127.81 414.2 127.81 L414.2 131.21 C336.0 131.21 336.0 130.10 257.8 130.10 Z"/><path d="M257.8 130.60 C336.0 130.60 336.0 151.12 414.2 151.12 L414.2 154.72 C336.0 154.72 336.0 132.95 257.8 132.95 Z"/><path d="M257.8 133.45 C336.0 133.45 336.0 178.12 414.2 178.12 L414.2 182.02 C336.0 182.02 336.0 135.80 257.8 135.80 Z"/><path d="M257.8 136.30 C336.0 136.30 336.0 199.62 414.2 199.62 L414.2 202.79 C336.0 202.79 336.0 138.65 257.8 138.65 Z"/><path d="M257.8 141.75 C336.0 141.75 336.0 154.97 414.2 154.97 L414.2 157.83 C336.0 157.83 336.0 143.55 257.8 143.55 Z"/><path d="M257.8 146.55 C336.0 146.55 336.0 131.46 414.2 131.46 L414.2 134.86 C336.0 134.86 336.0 148.90 257.8 148.90 Z"/><path d="M257.8 149.40 C336.0 149.40 336.0 182.27 414.2 182.27 L414.2 186.16 C336.0 186.16 336.0 151.75 257.8 151.75 Z"/><path d="M257.8 154.35 C336.0 154.35 336.0 135.11 414.2 135.11 L414.2 138.32 C336.0 138.32 336.0 156.55 257.8 156.55 Z"/><path d="M257.8 157.05 C336.0 157.05 336.0 158.08 414.2 158.08 L414.2 161.48 C336.0 161.48 336.0 159.25 257.8 159.25 Z"/><path d="M257.8 159.75 C336.0 159.75 336.0 186.41 414.2 186.41 L414.2 190.08 C336.0 190.08 336.0 161.95 257.8 161.95 Z"/><path d="M257.8 165.05 C336.0 165.05 336.0 190.33 414.2 190.33 L414.2 193.13 C336.0 193.13 336.0 166.65 257.8 166.65 Z"/><path d="M257.8 169.75 C336.0 169.75 336.0 138.57 414.2 138.57 L414.2 141.97 C336.0 141.97 336.0 172.10 257.8 172.10 Z"/><path d="M257.8 172.60 C336.0 172.60 336.0 161.73 414.2 161.73 L414.2 165.33 C336.0 165.33 336.0 174.95 257.8 174.95 Z"/><path d="M257.8 175.45 C336.0 175.45 336.0 193.38 414.2 193.38 L414.2 197.27 C336.0 197.27 336.0 177.80 257.8 177.80 Z"/><path d="M257.8 178.30 C336.0 178.30 336.0 203.04 414.2 203.04 L414.2 206.20 C336.0 206.20 336.0 180.65 257.8 180.65 Z"/><path d="M257.8 183.45 C336.0 183.45 336.0 206.45 414.2 206.45 L414.2 209.19 C336.0 209.19 336.0 185.45 257.8 185.45 Z"/><path d="M257.8 188.15 C336.0 188.15 336.0 142.22 414.2 142.22 L414.2 145.34 C336.0 145.34 336.0 190.28 257.8 190.28 Z"/><path d="M257.8 190.78 C336.0 190.78 336.0 165.58 414.2 165.58 L414.2 168.89 C336.0 168.89 336.0 192.92 257.8 192.92 Z"/><path d="M257.8 193.42 C336.0 193.42 336.0 209.44 414.2 209.44 L414.2 212.35 C336.0 212.35 336.0 195.55 257.8 195.55 Z"/><path d="M257.8 198.65 C336.0 198.65 336.0 169.14 414.2 169.14 L414.2 172.40 C336.0 172.40 336.0 200.75 257.8 200.75 Z"/><path d="M257.8 203.95 C336.0 203.95 336.0 145.59 414.2 145.59 L414.2 148.67 C336.0 148.67 336.0 206.05 257.8 206.05 Z"/><path d="M257.8 206.55 C336.0 206.55 336.0 212.60 414.2 212.60 L414.2 215.46 C336.0 215.46 336.0 208.65 257.8 208.65 Z"/><path d="M257.8 211.45 C336.0 211.45 336.0 172.65 414.2 172.65 L414.2 175.78 C336.0 175.78 336.0 213.45 257.8 213.45 Z"/><path d="M257.8 216.25 C336.0 216.25 336.0 215.71 414.2 215.71 L414.2 218.57 C336.0 218.57 336.0 218.35 257.8 218.35 Z"/></g>
<rect x="250.20" y="45.00" width="7.60" height="2.80" fill="#3b7fc0"/>
<rect x="250.20" y="50.30" width="7.60" height="2.80" fill="#c7b3dd"/>
<rect x="250.20" y="55.00" width="7.60" height="2.80" fill="#f09494"/>
<rect x="250.20" y="59.90" width="7.60" height="2.80" fill="#8c5cc9"/>
<rect x="250.20" y="65.10" width="7.60" height="2.80" fill="#c4a29a"/>
<rect x="250.20" y="70.10" width="7.60" height="2.80" fill="#92ea92"/>
<rect x="250.20" y="75.10" width="7.60" height="2.80" fill="#b2c232"/>
<rect x="250.20" y="80.00" width="7.60" height="2.80" fill="#dae292"/>
<rect x="250.20" y="84.90" width="7.60" height="2.80" fill="#a2a2a2"/>
<rect x="250.20" y="90.00" width="7.60" height="2.80" fill="#e272d2"/>
<rect x="250.20" y="94.90" width="7.60" height="2.80" fill="#8c5c52"/>
<rect x="250.20" y="99.80" width="7.60" height="2.80" fill="#6292f2"/>
<rect x="250.20" y="105.10" width="7.60" height="2.80" fill="#f2e2b2"/>
<rect x="250.20" y="109.80" width="7.60" height="2.80" fill="#f28222"/>
<rect x="250.20" y="115.10" width="7.60" height="2.80" fill="#b2d2f2"/>
<rect x="250.20" y="120.20" width="7.60" height="5.60" fill="#52ba52"/>
<rect x="250.20" y="127.50" width="7.60" height="11.40" fill="#f2fcfc"/>
<rect x="250.20" y="141.50" width="7.60" height="2.30" fill="#2222a2"/>
<rect x="250.20" y="146.30" width="7.60" height="5.70" fill="#62d2d2"/>
<rect x="250.20" y="154.10" width="7.60" height="8.10" fill="#da3a3a"/>
<rect x="250.20" y="164.80" width="7.60" height="2.10" fill="#dadada"/>
<rect x="250.20" y="169.50" width="7.60" height="11.40" fill="#faf6ea"/>
<rect x="250.20" y="183.20" width="7.60" height="2.50" fill="#e2e2e2"/>
<rect x="250.20" y="187.90" width="7.60" height="7.90" fill="#f6ecda"/>
<rect x="250.20" y="198.40" width="7.60" height="2.60" fill="#f2ba72"/>
<rect x="250.20" y="203.70" width="7.60" height="5.20" fill="#aae2e2"/>
<rect x="250.20" y="211.20" width="7.60" height="2.50" fill="#426262"/>
<rect x="250.20" y="216.00" width="7.60" height="2.60" fill="#f2aada"/>
<rect x="414.20" y="97.10" width="7.90" height="24.90" fill="#f28c30"/>
<rect x="414.20" y="124.10" width="7.90" height="24.70" fill="#da4242"/>
<rect x="414.20" y="151.00" width="7.90" height="24.90" fill="#52ba4a"/>
<rect x="414.20" y="178.00" width="7.90" height="19.40" fill="#a272d2"/>
<rect x="414.20" y="199.50" width="7.90" height="19.20" fill="#4a8ac2"/>
<text x="0" y="3.31" font-size="9.2" font-weight="bold" text-anchor="end" fill="#000" stroke="#000" stroke-width="0.3" textLength="119.00" lengthAdjust="spacingAndGlyphs" transform="translate(411.40 108.60)">Epithelial morphogenesis</text>
<text x="0" y="3.31" font-size="9.2" font-weight="bold" text-anchor="end" fill="#000" stroke="#000" stroke-width="0.3" textLength="125.50" lengthAdjust="spacingAndGlyphs" transform="translate(411.40 135.30)">Epithelial cell proliferation</text>
<text x="0" y="3.31" font-size="9.2" font-weight="bold" text-anchor="end" fill="#000" stroke="#000" stroke-width="0.3" textLength="98.20" lengthAdjust="spacingAndGlyphs" transform="translate(411.40 162.90)">Histone modification</text>
<text x="0" y="3.31" font-size="9.2" font-weight="bold" text-anchor="end" fill="#000" stroke="#000" stroke-width="0.3" textLength="114.20" lengthAdjust="spacingAndGlyphs" transform="translate(411.40 187.00)">Stem cell differentiation</text>
<text x="0" y="3.31" font-size="9.2" font-weight="bold" text-anchor="end" fill="#000" stroke="#000" stroke-width="0.3" textLength="106.60" lengthAdjust="spacingAndGlyphs" transform="translate(411.40 208.80)">Wnt signaling pathway</text>
<rect x="430.60" y="97.60" width="61.70" height="120.40" fill="none" stroke="#777" stroke-width="0.8"/>
<line x1="434.30" y1="218.00" x2="434.30" y2="220.00" stroke="#555" stroke-width="0.6"/>
<line x1="490.40" y1="218.00" x2="490.40" y2="220.00" stroke="#555" stroke-width="0.6"/>
<line x1="445.50" y1="218.00" x2="445.50" y2="219.50" stroke="#888" stroke-width="0.5"/>
<line x1="457.00" y1="218.00" x2="457.00" y2="219.50" stroke="#888" stroke-width="0.5"/>
<line x1="468.50" y1="218.00" x2="468.50" y2="219.50" stroke="#888" stroke-width="0.5"/>
<line x1="480.00" y1="218.00" x2="480.00" y2="219.50" stroke="#888" stroke-width="0.5"/>
<circle cx="489.7" cy="109.3" r="1.7" fill="#47659a"/>
<circle cx="489.7" cy="136.3" r="1.7" fill="#6a6a94"/>
<circle cx="489.7" cy="163.5" r="1.7" fill="#8f7088"/>
<circle cx="433.1" cy="187.8" r="1.1" fill="#4a5a8c"/>
<circle cx="433.1" cy="209.2" r="1.1" fill="#f0a07c"/>
<text x="0" y="2.74" font-size="7.6" font-weight="bold" text-anchor="middle" fill="#000" stroke="#000" stroke-width="0.3" transform="translate(434.40 224.80) scale(1.15 1)">0.036</text>
<text x="0" y="2.74" font-size="7.6" font-weight="bold" text-anchor="middle" fill="#000" stroke="#000" stroke-width="0.3" transform="translate(490.60 224.80) scale(1.15 1)">0.046</text>
<text x="0" y="2.74" font-size="7.6" font-weight="bold" text-anchor="middle" fill="#000" stroke="#000" stroke-width="0.3" transform="translate(464.70 233.00) scale(1.15 1)">Gene Ratio</text>
<defs><linearGradient id="cbC" x1="0" y1="0" x2="0" y2="1"><stop offset="0" stop-color="#3c5a8e"/><stop offset="0.5" stop-color="#9a7a98"/><stop offset="1" stop-color="#f4a882"/></linearGradient></defs>
<rect x="506.00" y="92.00" width="3.60" height="42.00" fill="url(#cbC)"/>
<text x="0" y="2.66" font-size="7.4" font-weight="bold" text-anchor="start" fill="#000" stroke="#000" stroke-width="0.3" transform="translate(496.80 85.60) scale(1.12 1)">-log<tspan font-size="4.9" dy="1.8">10</tspan><tspan dy="-1.8"> (P value)</tspan></text>
<text x="0" y="2.74" font-size="7.6" font-weight="bold" text-anchor="start" fill="#000" stroke="#000" stroke-width="0.3" transform="translate(511.60 102.00) scale(1.15 1)">2.5</text>
<line x1="509.60" y1="102.00" x2="510.80" y2="102.00" stroke="#555" stroke-width="0.5"/>
<text x="0" y="2.74" font-size="7.6" font-weight="bold" text-anchor="start" fill="#000" stroke="#000" stroke-width="0.3" transform="translate(511.60 117.50) scale(1.15 1)">2.0</text>
<line x1="509.60" y1="117.50" x2="510.80" y2="117.50" stroke="#555" stroke-width="0.5"/>
<text x="0" y="2.74" font-size="7.6" font-weight="bold" text-anchor="start" fill="#000" stroke="#000" stroke-width="0.3" transform="translate(511.60 133.00) scale(1.15 1)">1.5</text>
<line x1="509.60" y1="133.00" x2="510.80" y2="133.00" stroke="#555" stroke-width="0.5"/>
<text x="0" y="2.74" font-size="7.6" font-weight="bold" text-anchor="start" fill="#000" stroke="#000" stroke-width="0.3" transform="translate(503.00 158.00) scale(1.15 1)">Counts</text>
<circle cx="505.3" cy="167.9" r="1.1" fill="#000"/>
<text x="0" y="2.74" font-size="7.6" font-weight="bold" text-anchor="start" fill="#000" stroke="#000" stroke-width="0.3" transform="translate(509.20 167.90) scale(1.15 1)">7</text>
<circle cx="505.3" cy="177.6" r="1.7" fill="#000"/>
<text x="0" y="2.74" font-size="7.6" font-weight="bold" text-anchor="start" fill="#000" stroke="#000" stroke-width="0.3" transform="translate(509.20 177.80) scale(1.15 1)">9</text>
<text x="0" y="0" font-size="15.0" font-weight="bold" fill="#000" stroke="#000" stroke-width="0.55" transform="translate(549.70 25.40) scale(1.133 1)">D</text>
<text x="0" y="3.24" font-size="9.0" font-weight="bold" text-anchor="middle" fill="#000" stroke="#000" stroke-width="0.3" transform="translate(628.90 23.30) scale(1.14 1)"><tspan font-style="italic">p</tspan> = 1.02e-89</text>
<path d="M613.8 51.1h0M603.0 83.6h0M622.2 61.1h0M626.7 94.2h0M604.2 67.4h0M607.8 90.1h0M605.1 97.9h0M604.9 81.0h0M609.5 94.0h0M626.8 95.0h0M611.1 82.6h0M621.3 83.1h0M600.1 87.9h0M608.2 57.5h0M618.0 68.4h0M605.3 96.8h0M607.2 99.2h0M617.5 79.4h0M615.5 90.0h0M604.2 86.3h0M620.5 75.5h0M604.6 74.1h0M614.1 75.3h0M621.8 70.2h0M601.7 98.7h0M608.7 53.3h0M619.3 77.6h0M607.2 85.4h0M602.7 72.2h0M609.4 62.9h0M612.1 91.2h0M624.0 83.6h0M615.7 76.3h0M616.7 63.6h0M606.7 83.8h0M623.1 45.4h0M608.5 69.9h0M608.2 56.8h0M616.3 96.5h0M625.6 62.2h0M606.6 84.1h0M606.0 98.6h0M608.3 64.0h0M621.4 67.1h0M606.6 92.2h0M605.0 72.9h0M626.2 66.8h0M603.1 84.7h0M614.4 60.5h0M601.8 91.5h0M603.3 69.3h0M606.6 73.1h0M605.2 92.4h0M600.9 82.0h0M617.9 68.6h0M619.1 84.5h0M602.5 72.1h0M603.5 83.3h0M612.0 50.6h0M604.3 65.3h0M609.5 103.6h0M625.9 82.2h0M605.6 94.4h0M606.1 62.2h0M612.2 85.2h0M607.0 63.2h0M624.3 62.0h0M606.6 92.3h0M616.4 87.4h0M603.3 72.4h0M613.9 49.2h0M620.8 91.5h0M610.4 82.9h0M608.4 90.6h0M610.5 96.4h0M623.0 71.4h0M608.7 74.7h0M615.2 83.5h0M609.8 86.0h0M601.8 92.6h0M608.4 79.7h0M619.4 78.5h0M607.6 71.7h0M620.9 107.4h0M623.8 60.4h0M607.5 74.4h0M600.8 85.9h0M609.5 89.4h0M611.1 100.2h0M606.7 92.6h0M622.9 99.8h0M604.9 92.7h0M603.1 62.3h0M619.2 58.2h0M601.1 92.8h0M605.3 70.8h0M608.2 77.4h0M608.4 82.9h0M617.2 76.7h0M615.4 67.0h0M619.3 53.0h0M618.5 80.1h0M609.4 63.2h0M621.0 50.4h0M607.7 79.5h0M616.4 50.5h0M601.3 71.6h0M621.4 79.4h0M605.7 72.2h0M602.3 57.6h0M618.8 92.8h0M622.4 99.8h0M607.6 63.8h0M611.4 48.1h0M625.1 59.7h0M622.4 88.7h0M617.0 103.3h0M618.9 84.6h0M611.6 78.2h0M603.4 82.3h0M619.0 79.3h0M621.8 84.3h0M626.2 81.0h0M617.2 60.3h0M601.6 90.9h0M609.7 82.8h0M608.4 88.5h0M603.7 74.2h0M606.4 85.8h0M606.5 101.8h0M625.3 96.3h0M609.5 81.3h0M603.8 89.4h0M615.2 49.1h0M614.8 93.9h0M620.5 55.1h0M616.2 68.5h0M612.5 59.7h0M603.1 76.7h0M607.8 108.6h0M601.6 86.4h0M607.6 71.6h0M612.1 71.8h0M603.1 57.0h0M609.8 87.5h0M604.5 64.2h0M626.8 77.6h0M620.3 78.7h0M626.5 58.5h0M615.2 67.3h0M611.7 65.8h0M605.1 68.4h0M624.8 81.6h0M617.4 80.2h0M617.6 104.7h0M606.8 105.6h0M600.7 79.4h0M620.9 71.2h0M605.0 72.8h0M617.2 90.6h0M604.5 59.7h0M620.0 73.4h0M608.8 108.0h0M608.6 68.1h0M610.0 53.2h0M622.4 93.7h0M606.5 84.3h0M617.0 60.4h0M622.1 74.5h0M625.5 88.9h0M604.3 97.8h0M608.1 79.0h0M618.6 85.2h0M604.4 82.7h0M602.4 65.4h0M605.2 63.6h0M619.5 75.5h0M623.1 50.1h0M621.2 79.1h0M617.9 90.9h0M613.9 74.0h0M611.8 92.0h0M618.0 73.0h0M604.4 64.3h0M615.2 84.4h0M609.4 63.7h0M608.7 77.5h0M612.4 73.5h0M623.4 46.5h0M626.3 85.7h0M621.9 58.8h0M601.6 84.8h0M608.0 89.1h0M615.4 98.6h0M617.5 62.8h0M608.1 84.8h0M600.8 97.4h0M605.1 52.9h0M602.3 86.9h0M617.8 94.8h0M611.2 93.8h0M614.3 65.0h0M603.1 93.9h0M604.9 85.8h0M603.0 64.7h0M623.3 92.1h0M614.3 79.8h0M606.8 72.8h0M606.1 99.2h0M615.5 78.3h0M615.9 65.6h0M602.2 67.6h0M611.9 84.7h0M623.3 76.4h0M620.4 102.9h0M603.1 87.3h0M602.8 55.0h0M622.4 81.1h0M625.9 87.0h0M615.2 73.7h0M621.0 78.4h0M601.6 87.9h0M600.4 78.4h0M616.0 64.8h0M619.1 76.7h0M611.5 67.0h0M623.5 63.2h0M615.2 93.5h0M604.5 52.6h0M620.1 95.1h0M618.4 93.9h0M622.3 57.7h0M619.9 69.0h0M625.6 69.3h0M616.3 80.5h0M602.7 84.2h0M603.1 106.2h0M625.0 88.1h0M605.2 85.0h0M612.1 90.2h0M603.1 69.0h0M600.6 97.0h0M605.0 58.4h0M615.0 61.9h0M610.3 85.5h0M603.9 56.9h0M618.6 66.1h0M621.8 93.2h0M609.2 77.2h0M604.1 80.5h0M621.6 80.0h0M622.1 70.1h0M618.3 77.5h0M604.3 93.3h0M622.8 68.7h0M616.5 104.2h0M602.0 60.2h0M624.1 84.8h0M615.9 70.2h0M609.7 70.6h0M612.6 77.1h0M609.5 93.2h0M600.2 86.8h0M600.6 91.9h0M612.4 86.3h0M603.9 75.0h0M618.1 80.1h0M613.5 81.4h0M607.1 67.5h0M625.8 96.8h0M626.8 87.6h0M620.8 60.3h0M623.6 75.5h0M617.1 76.3h0M609.8 101.3h0M623.6 85.1h0M625.3 52.7h0M620.6 85.2h0M620.0 91.6h0M609.5 101.5h0M614.9 80.9h0M609.1 84.2h0M608.7 76.6h0M609.9 62.0h0M606.6 80.9h0M603.7 78.3h0M600.2 65.4h0M612.0 68.0h0M615.4 91.9h0M601.8 82.7h0M608.1 70.8h0M614.9 88.6h0M625.3 56.5h0M615.8 98.4h0M602.2 50.3h0M626.7 70.9h0M609.6 61.3h0M623.4 77.2h0M601.8 95.8h0M607.4 76.5h0M604.4 79.8h0M607.2 76.3h0M610.8 82.7h0M605.4 90.0h0M617.5 104.3h0M605.3 98.2h0M616.2 83.7h0M623.6 55.0h0M609.2 66.2h0M614.5 73.2h0M623.6 72.1h0M605.7 101.9h0M608.8 106.6h0M610.9 79.8h0M618.3 102.0h0M611.2 82.4h0M601.2 75.1h0M613.3 89.4h0M616.1 89.6h0M600.4 80.4h0M625.0 62.5h0M601.5 97.6h0M608.9 98.3h0M602.5 95.9h0M620.7 74.9h0M602.4 72.5h0M614.5 73.3h0M615.9 94.6h0M616.2 100.9h0M608.9 87.3h0M619.2 80.3h0M620.6 91.6h0M620.9 77.5h0M626.4 92.8h0M614.1 91.6h0M625.4 76.0h0M612.8 78.3h0M617.7 78.1h0M626.7 77.4h0M606.2 94.1h0M600.8 79.4h0M603.6 86.4h0M615.0 62.7h0M604.9 72.9h0M604.0 66.0h0M604.8 85.1h0M604.4 82.3h0M606.5 53.3h0M626.5 74.8h0M609.3 101.6h0M621.6 79.5h0M624.4 92.9h0M602.9 76.3h0M617.4 80.3h0M610.9 85.3h0M615.2 76.1h0M611.1 83.8h0M616.9 47.2h0M606.1 97.7h0M611.7 79.8h0M606.2 67.6h0M617.4 72.1h0M608.1 54.7h0M615.4 68.9h0M604.2 80.0h0M607.2 59.4h0M620.3 103.3h0M609.0 74.1h0M613.1 90.9h0M618.4 72.6h0M616.1 85.5h0M623.8 99.1h0M605.7 73.8h0M621.1 68.8h0M623.3 89.4h0M626.9 66.9h0M608.0 51.6h0M626.3 72.2h0M600.3 78.5h0M619.9 72.2h0M602.6 84.3h0M602.4 68.2h0M609.2 59.3h0M623.8 58.3h0M626.5 91.7h0M621.4 68.6h0M618.6 77.3h0M606.3 61.9h0M611.6 75.3h0M626.8 77.2h0M608.5 77.8h0M613.2 74.0h0M603.7 85.1h0M618.5 88.4h0M604.0 75.5h0M603.0 81.0h0M609.5 97.8h0M609.4 78.8h0M623.8 70.9h0M619.7 40.2h0M607.1 81.0h0M601.9 70.1h0M611.0 61.9h0M615.0 74.7h0M618.6 81.1h0M617.6 77.9h0M618.6 98.4h0M626.5 85.0h0M610.8 62.4h0M608.6 97.1h0M610.5 59.5h0M603.9 91.6h0M627.0 69.2h0M625.0 58.6h0M606.9 79.0h0M606.5 91.2h0M605.4 89.3h0M621.2 57.5h0M624.5 59.9h0M608.8 57.1h0M617.4 72.4h0M626.2 92.5h0M600.0 83.7h0M613.8 80.4h0M606.3 107.1h0M610.2 97.1h0M619.2 98.2h0M616.5 94.5h0M618.3 68.0h0M614.7 89.2h0M606.0 60.1h0M624.5 88.9h0M612.8 87.5h0M612.9 83.0h0M606.0 98.1h0M614.3 57.5h0M614.1 52.1h0M606.4 107.5h0M604.7 84.5h0M617.3 72.2h0M622.3 95.1h0M601.2 55.3h0M610.3 98.8h0M603.3 65.6h0M604.2 104.4h0M609.6 79.7h0M621.7 72.5h0M602.4 96.4h0M610.7 81.9h0M612.1 55.9h0M612.9 80.1h0M604.0 71.9h0M618.4 104.5h0M606.4 92.2h0M610.0 65.8h0M600.5 87.8h0M605.4 66.9h0M604.8 84.5h0M619.4 81.9h0M606.5 81.8h0M622.5 66.2h0M623.2 61.2h0M605.4 67.8h0M616.7 103.9h0M610.0 67.0h0M609.9 63.6h0M619.2 75.1h0M617.5 84.1h0M621.9 64.5h0M615.6 88.8h0M625.0 67.5h0M619.2 64.9h0M610.1 41.3h0M601.9 86.6h0M620.4 91.6h0M613.4 93.3h0M624.3 66.7h0M616.0 79.5h0M612.5 83.2h0M611.2 108.3h0M612.8 72.7h0M613.3 66.8h0M613.8 90.2h0M620.0 69.3h0M610.8 100.2h0M615.0 57.1h0M620.8 73.8h0M606.0 78.7h0M602.1 87.3h0M602.4 76.7h0M620.3 86.2h0M618.4 84.4h0M619.2 81.7h0M618.7 84.8h0M611.3 79.1h0M622.1 107.1h0M609.0 73.7h0M614.0 85.9h0M607.4 77.9h0M606.9 80.7h0M623.2 66.3h0M611.3 97.0h0M601.4 86.0h0M621.7 90.1h0M623.1 50.5h0M601.4 80.1h0M614.5 69.3h0M613.2 91.8h0M615.8 67.4h0M605.4 98.1h0M624.8 58.9h0M608.5 84.4h0M614.4 81.4h0M608.7 96.4h0M607.4 68.9h0M619.2 76.0h0M621.7 91.9h0M625.2 93.9h0M612.0 89.0h0M611.7 75.8h0M617.3 83.3h0M601.9 50.4h0M616.1 70.4h0M615.1 64.8h0M621.6 48.1h0M618.2 102.8h0M608.0 79.4h0M603.9 72.5h0M624.8 51.1h0M602.6 77.8h0M621.2 72.8h0M617.8 64.4h0M607.0 84.5h0M604.2 60.2h0M601.5 92.7h0M622.6 81.2h0M607.9 83.9h0M608.6 77.4h0M615.1 59.4h0M608.8 60.4h0M622.7 51.7h0M626.5 63.7h0M610.6 57.1h0M617.3 64.9h0M606.0 76.6h0M612.5 86.2h0M619.7 81.6h0M603.1 100.7h0M622.4 69.7h0M626.9 54.5h0M625.4 55.4h0M609.4 92.3h0M620.3 81.8h0M602.5 78.9h0M616.1 76.7h0M603.8 86.1h0M607.3 81.3h0M606.1 56.3h0M625.0 98.2h0M626.1 59.2h0M609.3 75.4h0M601.4 58.5h0M609.0 87.4h0M620.0 90.7h0M604.8 76.0h0M601.9 76.6h0M615.1 92.3h0M621.3 63.5h0M616.1 68.6h0M613.9 83.6h0M602.6 78.7h0M615.6 84.6h0M609.5 86.2h0M604.4 95.7h0M604.6 63.5h0M622.7 66.7h0M623.6 84.6h0M602.5 88.4h0M623.7 78.6h0M614.5 66.3h0M603.2 67.5h0M614.5 88.7h0M613.7 77.8h0M610.9 86.5h0M605.5 72.1h0M623.5 71.7h0M613.5 71.5h0M625.5 77.6h0M613.2 81.4h0M618.6 74.5h0M606.2 99.1h0M607.1 79.7h0M600.8 88.6h0M607.9 94.3h0M624.0 68.1h0M606.3 62.2h0M616.1 69.4h0M601.7 74.5h0M606.6 103.4h0M601.1 105.4h0M622.0 97.1h0M609.2 95.7h0M624.9 73.3h0M600.3 95.6h0M611.0 64.9h0M602.4 85.5h0M618.3 78.8h0M604.1 54.6h0M605.4 84.4h0M605.9 72.6h0M626.9 100.2h0M621.4 42.9h0M621.0 97.6h0M624.5 77.4h0M605.4 79.5h0M616.9 101.6h0M602.5 64.3h0M619.4 102.0h0M626.1 85.0h0M618.2 72.2h0M622.4 79.9h0M625.3 88.0h0M622.5 58.6h0M621.7 94.0h0M622.3 93.6h0M621.2 88.5h0M625.9 70.7h0M614.4 89.1h0M626.1 72.4h0M621.3 82.2h0M649.4 103.1h0M661.1 99.7h0M657.9 81.0h0M659.0 82.1h0M646.3 90.7h0M637.6 76.1h0M658.6 108.1h0M649.4 97.7h0M653.6 105.6h0M644.5 95.5h0M658.5 91.5h0M642.3 107.0h0M646.9 104.8h0M647.8 93.4h0M663.2 71.4h0M641.7 96.0h0M662.1 108.7h0M646.7 77.1h0M647.3 81.4h0M639.5 73.8h0M646.9 91.4h0M651.1 84.0h0M647.0 73.3h0M655.3 106.5h0M660.7 91.2h0M641.1 59.6h0M652.8 73.9h0M656.9 106.9h0M645.1 97.7h0M654.4 92.3h0M662.5 82.3h0M641.7 81.7h0M646.5 76.5h0M660.3 99.3h0M638.9 108.1h0M662.6 99.8h0M662.0 101.4h0M644.3 102.0h0M662.6 94.6h0M659.3 99.6h0M641.5 78.3h0M654.9 90.4h0M661.4 98.0h0M644.3 97.4h0M652.2 107.1h0M644.4 78.2h0M655.1 92.1h0M640.4 100.9h0M655.5 85.4h0M656.8 93.3h0M658.4 78.7h0M651.1 97.1h0M646.3 73.5h0M650.6 81.6h0M648.0 82.6h0M658.0 98.0h0M657.1 102.8h0M656.8 73.6h0M640.9 83.4h0M644.7 81.2h0M643.0 87.1h0M655.1 92.3h0M655.7 77.4h0M641.1 50.3h0M651.9 55.9h0M640.4 107.2h0M652.3 99.6h0M642.9 99.1h0M638.3 77.1h0M648.5 107.6h0M647.9 92.7h0M660.1 85.7h0M646.1 77.3h0M641.0 105.9h0M649.3 82.1h0M648.0 91.7h0M648.9 100.6h0M642.6 86.4h0M656.9 87.7h0M656.2 72.8h0M637.8 100.4h0M644.4 80.5h0M645.4 98.1h0M646.7 91.1h0M640.2 77.3h0M663.3 94.4h0M658.9 77.7h0M652.1 88.0h0M638.1 100.5h0M663.0 81.0h0M659.4 107.1h0M652.7 63.1h0M649.6 81.4h0M651.4 107.1h0M650.1 99.7h0M661.1 100.7h0M652.9 90.5h0M654.0 103.7h0M656.3 91.5h0M647.9 93.5h0M654.4 80.8h0M661.1 90.3h0M663.2 106.3h0M654.0 88.8h0M662.9 107.2h0M661.7 62.3h0M661.7 92.7h0M641.5 72.8h0M656.0 108.4h0M641.7 101.9h0M660.6 104.6h0M652.0 108.6h0M653.0 89.1h0M645.1 52.8h0M658.6 44.1h0M642.9 103.9h0M662.9 107.5h0M656.5 94.9h0M647.1 75.6h0M662.9 108.1h0M640.5 108.4h0M649.3 85.3h0M654.4 100.5h0M661.2 80.1h0M659.6 48.7h0M649.0 102.1h0M646.6 98.8h0M649.0 102.4h0M657.3 83.2h0M644.6 69.9h0M660.5 106.2h0M657.6 95.9h0M640.2 77.7h0M647.0 96.5h0M651.3 71.0h0M648.1 87.7h0M639.8 81.8h0M661.1 107.1h0M642.1 107.2h0M655.5 85.7h0M644.2 79.3h0M662.6 105.1h0M653.0 85.6h0M639.2 96.8h0M641.2 99.4h0M644.6 70.4h0M645.4 101.8h0M649.1 107.2h0M646.4 105.0h0M643.4 107.5h0M644.7 77.4h0M654.6 97.1h0M641.2 82.9h0M647.5 79.4h0M639.2 86.5h0M647.0 104.1h0M644.0 103.3h0M640.4 102.6h0M657.4 105.3h0M643.2 97.3h0M660.1 94.9h0M659.2 93.1h0M649.5 93.4h0M650.0 105.0h0M648.9 105.8h0M661.9 96.2h0M656.8 105.9h0M659.8 74.7h0M651.1 103.0h0M639.7 94.8h0M649.5 83.2h0M645.8 105.8h0M663.1 101.5h0M650.9 49.5h0M656.8 97.0h0M653.2 99.6h0M662.1 103.0h0M661.0 75.2h0M639.6 105.9h0M641.2 56.1h0M648.0 108.6h0M643.6 108.2h0M650.3 88.7h0M659.2 84.5h0M649.4 89.5h0M646.4 96.3h0M641.7 107.8h0M644.2 108.7h0M641.1 86.8h0M662.5 105.6h0M660.5 97.2h0M641.9 95.3h0M660.6 91.0h0M644.5 75.1h0M640.2 41.5h0M660.1 105.7h0M659.6 97.1h0M640.5 83.2h0M660.9 98.2h0M660.8 101.2h0M644.1 101.6h0M651.1 92.5h0M653.7 105.8h0M637.7 82.5h0M654.3 82.2h0M648.7 84.1h0M662.5 100.6h0M646.9 99.6h0M643.3 78.8h0M638.4 102.1h0M652.6 96.1h0M655.8 86.2h0M650.0 100.3h0M662.5 104.8h0M654.0 76.1h0M657.4 71.0h0M658.9 101.0h0M652.8 75.5h0M644.6 90.8h0M655.6 64.3h0M663.2 107.3h0M661.8 97.4h0M651.1 102.9h0M638.9 94.3h0M639.9 100.5h0M658.1 81.5h0M642.4 95.4h0M655.5 64.9h0M658.4 106.5h0M642.5 98.4h0M643.5 77.3h0M642.5 99.0h0M643.8 104.5h0M651.4 92.7h0M643.2 107.5h0M660.9 94.5h0M654.7 91.6h0M659.0 103.0h0M645.6 71.3h0M638.9 100.0h0M641.4 53.8h0M642.6 74.5h0M656.1 91.1h0M639.3 78.4h0M644.1 107.9h0M649.9 100.0h0M649.1 78.6h0M640.2 72.3h0M638.5 83.9h0M649.6 73.2h0M657.0 97.0h0M647.7 91.6h0M657.5 104.1h0M639.3 107.6h0M642.0 81.8h0M640.7 92.1h0M640.5 103.2h0M649.8 106.9h0M649.6 85.1h0M642.5 80.1h0M646.3 104.5h0M649.7 78.1h0M645.9 102.9h0M648.4 108.3h0M637.8 75.0h0M662.3 85.0h0M658.8 95.4h0M647.3 99.3h0M661.1 98.2h0M643.9 88.8h0M656.4 77.3h0M654.6 77.0h0M641.0 85.8h0M646.5 95.6h0M641.1 75.6h0M654.5 79.7h0M646.3 96.2h0M643.1 78.2h0M640.1 95.4h0M639.3 83.1h0M642.7 104.5h0M662.3 93.0h0M660.9 87.9h0M652.4 96.5h0M659.1 85.9h0M660.4 89.8h0M646.9 100.6h0M661.3 81.5h0M648.7 95.7h0M658.8 100.3h0M656.9 94.8h0M663.3 100.2h0M642.7 92.0h0M656.5 93.1h0M641.2 92.3h0M658.2 69.7h0M651.8 103.7h0M661.5 74.8h0M660.9 91.7h0M652.1 88.8h0" stroke="#bebebe" stroke-width="1.6" stroke-linecap="square" fill="none"/>
<line x1="613.10" y1="33.40" x2="613.10" y2="67.30" stroke="#222" stroke-width="1.0" stroke-dasharray="3 1.5"/>
<line x1="613.10" y1="90.60" x2="613.10" y2="108.40" stroke="#222" stroke-width="1.0" stroke-dasharray="3 1.5"/>
<line x1="605.60" y1="33.40" x2="620.40" y2="33.40" stroke="#222" stroke-width="1.0"/>
<line x1="605.60" y1="108.40" x2="620.40" y2="108.40" stroke="#222" stroke-width="1.0"/>
<rect x="599.90" y="67.30" width="26.90" height="23.30" fill="#979d90" stroke="#222" stroke-width="1.0"/>
<line x1="599.90" y1="80.40" x2="626.80" y2="80.40" stroke="#000" stroke-width="2.0"/>
<line x1="650.30" y1="103.30" x2="650.30" y2="105.80" stroke="#222" stroke-width="0.8"/>
<line x1="643.00" y1="103.30" x2="657.50" y2="103.30" stroke="#222" stroke-width="1.0"/>
<rect x="637.10" y="105.60" width="26.70" height="3.60" fill="#7a5a3a" stroke="#222" stroke-width="0.9"/>
<line x1="637.10" y1="107.20" x2="663.80" y2="107.20" stroke="#000" stroke-width="1.2"/>
<rect x="590.80" y="29.60" width="82.10" height="82.20" fill="none" stroke="#000" stroke-width="1.1"/>
<text x="0" y="3.31" font-size="9.2" font-weight="bold" text-anchor="end" fill="#000" stroke="#000" stroke-width="0.3" transform="translate(588.60 108.70) scale(0.98 1)">0</text>
<line x1="588.80" y1="108.70" x2="590.80" y2="108.70" stroke="#000" stroke-width="0.8"/>
<text x="0" y="3.31" font-size="9.2" font-weight="bold" text-anchor="end" fill="#000" stroke="#000" stroke-width="0.3" transform="translate(588.60 90.55) scale(0.98 1)">2</text>
<line x1="588.80" y1="90.55" x2="590.80" y2="90.55" stroke="#000" stroke-width="0.8"/>
<text x="0" y="3.31" font-size="9.2" font-weight="bold" text-anchor="end" fill="#000" stroke="#000" stroke-width="0.3" transform="translate(588.60 72.40) scale(0.98 1)">4</text>
<line x1="588.80" y1="72.40" x2="590.80" y2="72.40" stroke="#000" stroke-width="0.8"/>
<text x="0" y="3.31" font-size="9.2" font-weight="bold" text-anchor="end" fill="#000" stroke="#000" stroke-width="0.3" transform="translate(588.60 54.25) scale(0.98 1)">6</text>
<line x1="588.80" y1="54.25" x2="590.80" y2="54.25" stroke="#000" stroke-width="0.8"/>
<text x="0" y="3.31" font-size="9.2" font-weight="bold" text-anchor="end" fill="#000" stroke="#000" stroke-width="0.3" transform="translate(588.60 36.10) scale(0.98 1)">8</text>
<line x1="588.80" y1="36.10" x2="590.80" y2="36.10" stroke="#000" stroke-width="0.8"/>
<text x="0" y="3.24" font-size="9.0" font-weight="bold" text-anchor="middle" fill="#000" stroke="#000" stroke-width="0.3" transform="translate(612.00 117.40) scale(1.14 1)">M3<tspan font-size="5.94" dy="-2.70">f/f</tspan></text>
<text x="0" y="3.24" font-size="9.0" font-weight="bold" text-anchor="middle" fill="#000" stroke="#000" stroke-width="0.3" transform="translate(650.30 117.40) scale(1.14 1)">M3<tspan font-size="5.94" dy="-2.70">d/d</tspan></text>
<text x="0" y="3.31" font-size="9.2" font-weight="bold" text-anchor="middle" fill="#000" stroke="#000" stroke-width="0.3" transform="translate(574.60 72.00) rotate(-90) scale(1.1 1)">Log<tspan font-size="5.6" dy="2.2">2</tspan><tspan dy="-2.2"> (m</tspan><tspan font-size="5.6" dy="-3">6</tspan><tspan dy="3">A+1)</tspan></text>
<text x="0" y="0" font-size="15.0" font-weight="bold" fill="#000" stroke="#000" stroke-width="0.55" transform="translate(552.40 150.70) scale(1.058 1)">E</text>
<text x="0" y="3.24" font-size="9.0" font-weight="bold" text-anchor="middle" fill="#000" stroke="#000" stroke-width="0.3" transform="translate(633.10 156.50) scale(1.14 1)"><tspan font-style="italic">p</tspan> = 3.64e-06</text>
<path d="M618.7 228.4h0M618.0 224.8h0M615.6 231.6h0M604.4 220.1h0M621.8 238.2h0M608.8 217.2h0M626.0 224.1h0M617.5 218.4h0M620.8 230.1h0M624.2 236.5h0M627.0 238.8h0M623.1 226.9h0M605.8 228.1h0M610.9 230.1h0M608.5 226.1h0M618.4 224.8h0M606.3 221.7h0M610.4 224.6h0M606.9 226.8h0M614.9 227.6h0M607.2 223.0h0M605.8 220.5h0M627.6 216.7h0M611.4 223.4h0M612.4 238.8h0M624.9 218.2h0M621.3 211.4h0M618.7 229.3h0M613.5 225.6h0M621.5 238.3h0M611.7 235.3h0M617.6 210.9h0M611.0 234.7h0M612.7 220.1h0M623.2 214.7h0M610.6 216.4h0M625.7 239.1h0M616.1 229.8h0M614.6 216.7h0M622.8 240.0h0M611.8 221.5h0M616.3 237.8h0M610.8 213.9h0M620.3 234.8h0M623.3 228.8h0M608.0 226.9h0M621.1 231.4h0M616.6 205.1h0M626.5 237.4h0M607.1 214.5h0M604.5 224.1h0M617.8 212.4h0M603.5 239.4h0M602.6 237.4h0M606.3 233.2h0M618.1 233.4h0M627.9 221.1h0M612.4 231.7h0M628.4 227.2h0M606.6 204.2h0M621.5 224.9h0M616.1 222.7h0M623.0 219.9h0M614.0 227.9h0M610.9 218.1h0M626.2 212.2h0M605.8 236.6h0M602.1 240.7h0M615.6 211.1h0M623.1 220.2h0M621.3 236.1h0M627.4 240.7h0M618.3 205.7h0M626.0 235.4h0M622.9 224.7h0M620.2 203.4h0M618.2 229.7h0M624.7 237.5h0M604.2 233.4h0M606.0 212.2h0M617.2 208.6h0M613.3 218.7h0M622.6 237.5h0M625.1 230.8h0M621.2 225.4h0M604.6 231.7h0M621.1 237.8h0M611.8 234.4h0M628.4 205.2h0M617.2 236.4h0M614.1 212.2h0M627.2 225.7h0M605.8 218.3h0M603.4 219.2h0M621.6 220.4h0M608.6 236.1h0M614.7 239.5h0M624.6 237.1h0M614.3 239.5h0M611.1 233.0h0M605.6 233.8h0M606.9 236.3h0M610.9 236.4h0M622.8 220.2h0M626.2 234.6h0M627.7 219.0h0M618.7 237.3h0M604.6 223.7h0M620.1 210.4h0M608.1 238.2h0M626.5 219.2h0M620.1 229.6h0M605.6 234.8h0M615.1 226.8h0M622.2 238.2h0M606.3 221.0h0M627.4 226.9h0M617.4 235.5h0M616.5 226.3h0M605.3 223.6h0M618.7 228.9h0M611.6 216.2h0M616.4 216.9h0M611.5 215.5h0M610.0 234.7h0M627.8 231.6h0M607.5 217.9h0M605.1 229.3h0M620.1 215.6h0M620.0 203.4h0M613.3 227.0h0M617.1 229.0h0M613.0 230.0h0M623.8 218.6h0M624.1 228.3h0M626.7 224.3h0M610.6 221.6h0M620.5 225.5h0M624.0 237.9h0M621.8 236.6h0M619.5 224.6h0M628.3 203.3h0M619.3 222.7h0M611.5 231.8h0M605.8 231.2h0M606.0 239.6h0M615.3 228.2h0M616.9 235.4h0M603.5 231.6h0M608.3 230.5h0M608.4 229.1h0M614.7 212.2h0M607.9 238.4h0M624.1 216.0h0M618.0 229.8h0M603.8 230.4h0M619.2 232.0h0M610.2 226.4h0M606.1 223.4h0M610.6 232.8h0M613.4 214.1h0M624.5 225.3h0M606.1 228.6h0M610.9 219.4h0M621.7 225.9h0M619.7 235.8h0M619.5 230.4h0M607.9 229.4h0M607.3 230.5h0M610.9 239.9h0M619.8 223.3h0M613.4 239.7h0M603.9 221.5h0M604.6 208.5h0M614.9 231.3h0M623.4 235.4h0M626.7 239.8h0M605.7 222.9h0M620.5 219.8h0M627.9 219.6h0M605.0 233.7h0M603.4 234.8h0M620.4 231.5h0M620.9 238.8h0M602.1 219.8h0M621.2 231.4h0M606.1 216.8h0M605.1 213.7h0M603.1 230.4h0M625.2 230.7h0M626.1 228.8h0M627.7 221.6h0M627.1 239.6h0M614.8 226.2h0M611.9 219.1h0M609.4 235.8h0M615.4 233.6h0M616.1 233.2h0M622.4 235.3h0M608.6 227.8h0M611.9 221.5h0M612.7 240.2h0M621.4 225.4h0M614.0 240.0h0M622.0 233.2h0M607.5 221.5h0M619.9 227.0h0M620.4 237.9h0M602.9 221.6h0M619.8 221.0h0M608.1 210.4h0M604.9 226.6h0M611.8 230.9h0M614.9 240.5h0M625.0 215.3h0M613.2 240.2h0M606.2 224.0h0M626.4 231.0h0M624.6 228.3h0M607.1 224.7h0M625.9 233.4h0M612.5 226.6h0M612.3 230.1h0M602.3 228.1h0M620.0 229.4h0M607.0 238.6h0M609.8 236.0h0M624.7 239.9h0M617.5 232.0h0M610.6 231.2h0M618.0 227.7h0M610.3 225.3h0M611.6 225.4h0M628.1 236.4h0M617.6 225.6h0M603.0 235.6h0M622.6 227.2h0M628.2 237.1h0M618.6 235.1h0M624.3 225.3h0M604.8 238.5h0M621.9 218.8h0M614.2 225.8h0M602.1 230.2h0M613.5 222.3h0M609.7 225.0h0M606.5 224.6h0M615.1 232.8h0M625.3 225.8h0M610.9 235.1h0M604.2 237.2h0M605.0 226.9h0M616.1 233.1h0M611.0 238.8h0M627.4 213.7h0M619.6 234.7h0M613.8 226.7h0M614.1 228.2h0M621.4 226.7h0M607.8 213.2h0M619.9 215.1h0M606.6 236.3h0M620.4 228.9h0M618.2 233.2h0M615.5 234.1h0M614.8 234.9h0M605.6 231.6h0M618.3 235.2h0M617.1 240.7h0M617.0 234.7h0M611.6 223.6h0M619.3 212.5h0M618.2 233.4h0M621.3 206.6h0M624.4 240.4h0M602.4 224.6h0M624.0 224.2h0M616.1 240.3h0M625.8 233.1h0M603.8 221.5h0M618.5 228.6h0M609.4 225.7h0M625.1 206.6h0M623.1 224.2h0M626.6 223.3h0M608.0 213.2h0M618.2 219.2h0M620.5 235.4h0M622.8 235.5h0M609.5 222.1h0M624.0 207.4h0M607.9 233.3h0M627.3 239.1h0M602.7 240.3h0M621.7 230.7h0M607.6 227.3h0M612.8 231.6h0M606.1 237.6h0M615.4 223.0h0M611.4 225.1h0M609.3 237.2h0M614.8 215.5h0M613.6 235.9h0M623.2 233.2h0M617.9 224.1h0M605.3 240.6h0M622.8 235.0h0M623.6 211.6h0M607.0 240.6h0M612.9 230.6h0M625.0 226.0h0M605.9 224.6h0M614.6 235.5h0M613.7 232.9h0M626.6 229.1h0M603.0 231.5h0M607.8 240.8h0M610.1 235.1h0M619.2 228.3h0M614.7 217.6h0M606.1 239.1h0M621.4 240.1h0M603.3 219.7h0M604.2 235.2h0M608.6 220.5h0M614.2 224.3h0M605.0 226.3h0M602.2 236.7h0M622.7 218.5h0M603.0 232.9h0M612.9 220.7h0M610.3 226.0h0M613.7 219.1h0M622.4 233.7h0M606.7 222.8h0M619.5 222.4h0M614.2 236.2h0M624.9 229.6h0M611.8 217.8h0M602.4 203.9h0M614.5 239.1h0M610.0 238.0h0M619.0 230.9h0M619.4 236.4h0M617.8 237.9h0M605.4 227.0h0M610.1 233.9h0M623.4 213.5h0M626.8 230.4h0M621.2 233.6h0M615.3 225.9h0M605.2 221.3h0M612.2 237.8h0M608.0 206.2h0M619.1 228.7h0M622.0 226.0h0M613.9 227.8h0M613.7 233.1h0M609.3 228.2h0M626.9 240.0h0M616.9 231.8h0M602.9 231.2h0M617.5 223.0h0M603.7 234.1h0M610.0 236.7h0M605.4 220.8h0M602.4 228.9h0M604.4 229.3h0M615.7 226.1h0M608.7 225.7h0M624.2 239.0h0M627.0 230.2h0M617.8 234.4h0M603.7 237.0h0M609.4 238.5h0M606.9 238.0h0M609.9 232.5h0M619.0 217.5h0M608.1 226.5h0M615.5 240.7h0M612.9 231.8h0M628.0 230.5h0M627.0 203.4h0M623.6 239.1h0M619.2 220.6h0M604.1 219.7h0M608.9 234.2h0M604.5 236.8h0M604.8 226.5h0M603.1 238.6h0M627.4 239.8h0M620.4 238.3h0M619.2 225.8h0M607.0 240.5h0M622.6 204.4h0M624.2 223.2h0M621.7 234.9h0M625.3 213.2h0M622.9 236.8h0M623.2 233.5h0M619.7 208.9h0M606.1 221.5h0M604.7 228.0h0M621.0 221.6h0M624.5 225.1h0M609.1 237.0h0M612.1 219.8h0M624.8 229.2h0M608.1 205.7h0M602.6 230.0h0M615.4 233.2h0M609.6 239.3h0M628.2 226.8h0M624.5 236.1h0M620.4 234.3h0M623.5 234.6h0M612.6 237.3h0M620.8 231.9h0M617.9 227.6h0M617.0 210.1h0M626.6 238.3h0M620.7 223.1h0M619.6 216.4h0M613.8 211.4h0M622.1 224.9h0M623.4 219.7h0M620.1 221.5h0M605.6 236.0h0M628.4 239.7h0M623.0 209.8h0M606.6 218.2h0M614.0 207.3h0M627.3 239.8h0M624.5 228.8h0M610.1 236.1h0M612.5 233.7h0M618.1 238.5h0M610.9 233.2h0M604.5 230.3h0M620.5 235.4h0M617.5 209.2h0M602.3 221.5h0M603.7 231.0h0M612.0 216.7h0M621.4 233.7h0M605.1 218.2h0M625.1 227.5h0M603.2 212.2h0M609.3 215.7h0M625.7 209.6h0M609.8 238.3h0M618.3 234.4h0M617.0 230.4h0M628.3 219.4h0M614.2 235.9h0M618.5 233.7h0M618.8 226.6h0M602.4 236.5h0M625.2 229.3h0M619.2 229.4h0M612.1 231.8h0M620.7 232.3h0M617.5 236.7h0M627.2 211.4h0M615.7 235.3h0M606.6 239.8h0M622.5 215.8h0M609.2 240.1h0M624.3 224.7h0M616.5 232.2h0M610.7 238.4h0M620.6 224.6h0M605.2 223.9h0M605.8 221.7h0M607.7 209.8h0M608.1 210.2h0M604.6 218.0h0M622.5 238.3h0M610.7 216.3h0M610.3 206.0h0M620.1 227.5h0M609.3 219.4h0M624.8 235.0h0M620.5 231.7h0M605.2 231.4h0M604.6 229.2h0M622.4 238.2h0M604.8 227.8h0M625.3 235.2h0M604.4 215.7h0M604.2 222.9h0M612.8 240.1h0M602.8 234.9h0M620.9 229.2h0M616.1 213.1h0M609.8 223.4h0M621.6 223.2h0M624.9 233.6h0M614.7 223.1h0M613.9 210.0h0M624.9 240.7h0M615.3 230.3h0M606.1 225.6h0M612.1 219.1h0M612.0 207.1h0M618.9 230.7h0M610.2 217.5h0M609.6 236.5h0M626.0 230.9h0M627.6 222.8h0M626.4 225.8h0M628.3 223.1h0M624.5 237.1h0M624.0 226.7h0M612.9 229.8h0M623.2 240.8h0M607.9 207.6h0M613.0 216.0h0M618.8 212.2h0M604.8 236.9h0M613.9 239.0h0M611.3 225.2h0M606.6 231.5h0M616.4 218.5h0M615.1 230.0h0M628.0 221.7h0M606.2 229.2h0M622.7 226.9h0M622.7 231.9h0M603.1 240.1h0M619.7 232.8h0M623.7 235.9h0M603.8 215.3h0M603.2 233.9h0M602.9 235.7h0M613.8 235.5h0M606.9 235.5h0M621.0 225.8h0M623.4 239.7h0M616.9 235.4h0M627.8 237.9h0M604.7 238.2h0M608.1 232.8h0M613.8 240.3h0M621.0 211.3h0M609.9 228.4h0M611.3 215.1h0M628.1 235.8h0M628.1 237.8h0M616.4 228.3h0M622.4 231.7h0M616.6 225.7h0M615.0 213.8h0M614.5 229.1h0M608.9 236.7h0M613.7 228.8h0M619.7 238.0h0M621.3 239.0h0M610.2 232.9h0M621.3 222.7h0M606.6 225.0h0M605.9 218.1h0M608.7 219.3h0M626.9 232.5h0M621.9 210.3h0M627.2 236.8h0M610.7 240.3h0M607.3 232.8h0M624.1 228.3h0M602.4 231.3h0M607.6 230.5h0M606.8 233.3h0M617.3 226.4h0M622.5 234.0h0M611.1 219.0h0M616.9 210.9h0M625.5 232.5h0M604.6 225.5h0M602.9 207.3h0M624.1 229.1h0M615.2 218.2h0M613.3 225.2h0M620.8 233.7h0M609.3 217.4h0M606.6 223.0h0M604.6 220.6h0M607.8 226.8h0M614.5 233.8h0M612.5 228.0h0M627.6 227.8h0M616.5 233.2h0M624.5 236.4h0M604.6 230.1h0M622.8 236.9h0M610.4 238.6h0M603.1 238.1h0M623.3 226.3h0M623.5 221.5h0M615.0 232.1h0M624.8 230.6h0M627.1 228.5h0M620.7 237.7h0M618.1 218.3h0M617.8 220.9h0M602.8 230.4h0M603.1 230.6h0M628.4 234.8h0M625.8 228.7h0M617.5 224.8h0M602.1 231.7h0M603.5 218.0h0M627.3 236.9h0M603.1 213.2h0M605.8 240.5h0M623.3 229.5h0M609.1 222.9h0M614.2 237.0h0M615.6 233.4h0M628.2 238.6h0M610.3 221.5h0M613.1 229.1h0M625.3 220.3h0M621.3 235.3h0M607.5 235.0h0M617.8 215.3h0M623.8 225.7h0M605.1 203.9h0M604.8 222.4h0M622.7 230.4h0M616.9 237.7h0M619.4 216.3h0M617.2 235.5h0M613.3 229.4h0M611.6 240.4h0M613.3 224.9h0M602.4 225.9h0M612.5 230.8h0M608.3 237.7h0M625.2 235.0h0M614.3 230.0h0M624.2 211.1h0M608.8 222.8h0M612.3 226.9h0M623.2 240.4h0M605.0 208.4h0M614.2 214.9h0M603.6 231.4h0M619.6 214.2h0M625.6 222.7h0M604.6 217.5h0M626.6 236.4h0M605.2 226.6h0M610.6 236.9h0M623.6 219.6h0M627.0 231.6h0M618.1 228.4h0M612.9 238.5h0M602.9 235.7h0M616.9 236.7h0M625.9 234.6h0M608.7 217.5h0M606.1 232.7h0M613.6 213.5h0M607.1 234.6h0M612.5 228.1h0M612.7 221.6h0M625.9 238.4h0M626.4 220.0h0M620.1 218.4h0M609.2 231.6h0M620.5 223.2h0M616.0 236.0h0M620.1 226.2h0M602.1 222.2h0M608.9 233.3h0M623.8 228.5h0M609.7 233.4h0M611.2 223.6h0M625.5 226.5h0M605.0 237.2h0M616.0 226.2h0M613.4 218.7h0M628.0 223.7h0M628.0 231.6h0M624.5 227.5h0M625.6 235.2h0M604.7 237.4h0M619.0 220.9h0M609.5 226.6h0M603.1 206.3h0M611.3 215.6h0M608.6 231.2h0M618.7 221.4h0M625.2 236.0h0M606.6 230.4h0M616.7 240.7h0M625.7 231.0h0M602.5 212.6h0M605.8 225.3h0M609.8 229.0h0M604.9 214.8h0M623.0 235.0h0M610.5 222.1h0M606.4 218.4h0M616.6 223.4h0M612.7 223.3h0M610.7 237.5h0M626.4 208.2h0M617.2 235.1h0M608.8 233.8h0M612.8 224.0h0M604.7 236.0h0M625.3 225.2h0M605.9 235.2h0M611.1 233.2h0M624.0 238.7h0M610.5 226.7h0M621.8 238.1h0M620.4 227.5h0M616.7 219.6h0M609.3 239.2h0M610.1 210.6h0M603.0 221.7h0M616.7 220.8h0M612.9 206.7h0M604.7 211.8h0M619.8 218.5h0M626.7 224.9h0M602.3 237.8h0M616.1 229.0h0M606.1 235.4h0M612.5 217.1h0M609.4 239.3h0M620.0 211.3h0M623.2 231.3h0M625.4 240.6h0M623.3 239.8h0M627.4 226.3h0M615.0 217.9h0M610.9 235.2h0M623.8 239.1h0M603.2 216.2h0M604.0 230.5h0M613.9 233.3h0M626.1 223.3h0M613.8 219.7h0M627.9 237.1h0M623.9 213.4h0M605.3 235.3h0M628.1 223.0h0M607.9 204.6h0M602.6 222.9h0M610.0 219.0h0M616.9 225.9h0M620.3 234.8h0M614.5 215.2h0M614.3 230.6h0M606.9 227.3h0M624.6 207.6h0M606.7 222.4h0M604.9 232.2h0M611.4 224.0h0M624.4 233.8h0M626.1 232.7h0M627.6 232.0h0M623.9 224.4h0M628.1 236.6h0M611.9 236.9h0M627.4 220.6h0M602.7 234.2h0M616.9 230.8h0M627.1 231.8h0M623.8 231.1h0M613.0 240.5h0M611.7 231.2h0M619.3 228.8h0M626.4 215.0h0M605.8 232.9h0M628.4 238.4h0M627.7 235.1h0M609.3 220.7h0M628.0 225.7h0M612.8 238.9h0M624.5 235.4h0M616.2 228.7h0M605.9 231.7h0M606.9 224.2h0M602.1 238.5h0M620.9 235.5h0M624.8 230.6h0M602.1 234.2h0M617.9 212.6h0M608.3 219.9h0M628.0 228.8h0M604.9 216.9h0M613.6 223.3h0M610.4 228.6h0M620.6 224.9h0M623.1 221.7h0M614.0 219.2h0M621.8 236.8h0M611.8 222.0h0M614.5 239.3h0M620.2 240.5h0M614.3 235.5h0M625.8 227.2h0M610.7 219.8h0M608.6 240.7h0M628.5 240.1h0M619.3 220.5h0M611.2 233.1h0M610.1 238.3h0M621.7 233.9h0M602.0 217.1h0M603.0 236.1h0M618.8 218.5h0M624.7 228.0h0M618.4 221.3h0M609.0 232.3h0M610.5 222.8h0M603.0 221.9h0M618.2 229.8h0M622.7 236.7h0M613.6 239.9h0M626.3 206.1h0M620.6 231.5h0M619.8 212.4h0M610.3 226.0h0M602.5 219.6h0M611.2 235.7h0M623.6 209.5h0M613.1 232.9h0M622.9 232.7h0M605.2 234.3h0M624.0 214.6h0M608.2 219.9h0M610.6 236.3h0M622.4 220.2h0M628.2 218.9h0M626.6 231.1h0M621.9 237.7h0M628.2 234.0h0M613.5 222.2h0M620.6 218.8h0M622.3 230.2h0M620.6 238.0h0M624.5 229.1h0M617.2 221.8h0M604.6 233.5h0M605.3 231.6h0M618.3 233.2h0M621.1 236.4h0M608.0 217.4h0M605.9 236.0h0M626.7 216.9h0M609.0 225.4h0M616.3 222.4h0M626.1 227.1h0M622.8 238.3h0M602.0 239.7h0M605.4 210.9h0M605.5 227.6h0M615.1 216.2h0M607.4 230.5h0M608.9 220.6h0M611.5 234.5h0M602.5 221.2h0M615.1 212.9h0M614.1 227.9h0M623.7 209.5h0M615.3 236.2h0M618.4 223.8h0M618.7 224.4h0M602.4 232.6h0M626.0 208.2h0M622.4 227.5h0M624.8 233.7h0M612.1 209.4h0M617.2 231.0h0M608.2 224.7h0M606.9 216.2h0M609.4 219.9h0M624.6 237.6h0M607.6 238.9h0M605.9 226.6h0M611.3 223.8h0M604.3 216.0h0M602.7 239.9h0M617.0 236.4h0M608.4 215.6h0M616.0 222.0h0M613.2 220.9h0M624.3 233.2h0M616.3 211.8h0M627.7 235.9h0M607.7 233.1h0M622.7 236.5h0M620.8 227.4h0M621.2 238.1h0M623.2 203.1h0M619.7 223.4h0M611.5 220.3h0M614.5 233.8h0M614.8 231.6h0M606.5 225.8h0M616.0 236.5h0M605.5 220.8h0M609.5 227.9h0M610.5 239.3h0M602.1 234.5h0M607.5 229.3h0M627.6 237.6h0M617.3 224.4h0M617.8 216.6h0M603.0 228.2h0M617.4 220.6h0M619.0 230.3h0M626.3 239.3h0M607.9 233.3h0M614.9 210.0h0M607.6 236.4h0M622.8 221.2h0M623.0 225.5h0M623.6 223.1h0M625.6 235.8h0M615.2 230.3h0M606.3 224.5h0M624.9 219.1h0M604.9 240.7h0M626.4 228.7h0M624.8 238.5h0M603.3 218.4h0M608.4 234.6h0M615.6 230.8h0M605.7 240.5h0M616.2 227.3h0M626.4 218.7h0M612.3 238.2h0M608.8 232.0h0M615.4 225.7h0M613.9 207.3h0M614.1 233.0h0M609.4 228.7h0M618.2 240.4h0M621.9 236.0h0M625.3 223.9h0M603.3 233.1h0M627.8 221.6h0M621.0 225.6h0M604.6 239.7h0M613.8 231.2h0M605.2 222.9h0M603.4 238.7h0M627.7 235.1h0M623.0 236.1h0M614.5 232.5h0M605.1 218.2h0M618.5 221.0h0M602.3 240.4h0M609.0 230.9h0M623.0 236.6h0M618.1 219.6h0M618.1 220.4h0M605.0 228.5h0M619.3 240.1h0M623.1 224.3h0M611.5 225.5h0M608.3 218.9h0M613.5 224.4h0M628.2 237.3h0M610.5 224.7h0M620.9 218.5h0M617.9 238.3h0M618.7 223.2h0M608.8 230.4h0M622.3 236.7h0M611.4 231.4h0M626.9 219.3h0M603.9 233.9h0M620.0 211.4h0M613.7 227.1h0M622.9 225.1h0M617.5 222.3h0M602.8 228.5h0M617.2 222.8h0M626.3 219.9h0M614.3 237.8h0M602.1 222.4h0M607.2 230.9h0M626.6 240.7h0M604.3 230.6h0M619.3 234.0h0M602.9 239.3h0M603.2 223.4h0M626.0 240.4h0M626.5 222.3h0M623.4 216.4h0M614.3 217.1h0M605.8 227.9h0M602.2 214.2h0M618.4 229.3h0M617.3 236.8h0M610.8 238.4h0M619.4 232.9h0M626.0 229.4h0M616.4 212.8h0M604.2 222.2h0M606.6 221.2h0M625.9 220.5h0M620.8 236.5h0M609.3 217.5h0M606.2 231.5h0M619.4 236.8h0M609.1 233.5h0M610.1 204.7h0M622.6 232.3h0M620.6 228.3h0M615.8 237.5h0M620.4 228.4h0M617.1 236.9h0M620.8 212.6h0M602.6 239.1h0M603.0 221.9h0M619.3 206.5h0M623.3 225.2h0M618.0 236.2h0M616.4 232.0h0M624.3 212.0h0M604.0 237.7h0M615.0 214.9h0M625.3 225.2h0M616.2 239.2h0M608.9 218.6h0M626.8 234.2h0M609.3 204.2h0M604.8 237.7h0M627.4 219.9h0M611.6 224.9h0M624.4 227.2h0M627.2 238.2h0M612.3 231.3h0M625.0 239.1h0M602.2 228.5h0M619.2 237.4h0M625.8 226.6h0M614.5 228.3h0M618.8 233.4h0M606.2 237.0h0M627.7 235.9h0M627.1 211.0h0M623.4 234.5h0M619.7 235.3h0M624.8 234.5h0M609.7 222.8h0M603.6 238.6h0M611.5 209.3h0M624.7 219.1h0M614.2 237.1h0M615.9 230.3h0M605.7 237.6h0M613.5 234.4h0M626.8 230.7h0M619.2 227.8h0M608.9 232.0h0M613.1 229.7h0M615.8 240.3h0M605.5 224.1h0M611.3 231.8h0M611.7 216.1h0M613.5 229.5h0M616.1 226.5h0M620.8 234.8h0M614.1 238.7h0M613.4 232.8h0M605.0 237.9h0M619.5 227.6h0M626.1 224.4h0M605.8 229.9h0M617.3 223.9h0M613.4 224.7h0M619.4 238.2h0M627.1 222.4h0M618.9 225.0h0M611.9 227.1h0M615.6 232.6h0M620.2 228.8h0M627.3 225.1h0M627.0 207.8h0M605.4 239.9h0M618.3 207.8h0M605.9 239.3h0M609.3 226.1h0M625.2 221.4h0M617.3 239.1h0M619.2 226.8h0M610.6 235.8h0M623.7 240.0h0M606.9 229.0h0M618.8 227.8h0M604.2 236.6h0M614.5 234.7h0M616.8 226.0h0M615.4 229.9h0M611.2 220.7h0M607.0 238.5h0M612.0 209.1h0M602.9 236.1h0M606.3 232.1h0M606.4 228.0h0M618.2 229.8h0M615.8 215.9h0M624.7 219.3h0M624.1 232.9h0M604.0 228.0h0M607.8 220.4h0M618.4 223.3h0M627.2 217.0h0M625.7 234.0h0M617.9 212.0h0M626.1 238.8h0M611.0 205.0h0M624.3 215.2h0M612.5 223.6h0M625.2 236.8h0M602.4 239.9h0M604.3 214.9h0M605.6 232.3h0M620.0 219.4h0M627.1 240.0h0M616.3 236.9h0M605.0 239.1h0M626.6 222.3h0M604.6 238.6h0M616.3 232.4h0M606.9 208.1h0M624.7 226.2h0M610.9 240.3h0M610.0 231.5h0M613.1 226.0h0M614.8 240.4h0M615.1 239.1h0M627.5 219.2h0M607.5 228.4h0M607.4 236.9h0M603.1 223.1h0M615.5 239.3h0M613.8 237.2h0M617.8 210.5h0M604.4 237.8h0M610.2 231.8h0M618.1 235.9h0M606.9 237.6h0M613.0 228.7h0M614.4 233.2h0M621.7 219.7h0M611.9 232.3h0M616.1 216.9h0M606.3 221.0h0M624.5 214.1h0M627.2 227.0h0M602.9 223.8h0M606.3 231.8h0M611.5 225.1h0M614.5 229.8h0M627.6 230.8h0M626.3 234.3h0M616.0 219.5h0M610.5 240.4h0M610.6 225.6h0M617.2 217.5h0M624.4 237.5h0M620.4 234.8h0M621.1 235.2h0M621.9 224.9h0M618.7 223.8h0M614.6 231.9h0M621.9 238.4h0M617.6 237.4h0M607.5 230.5h0M625.3 222.8h0M609.1 235.6h0M618.7 207.8h0M615.8 228.8h0M626.1 233.8h0M603.9 237.0h0M610.1 207.4h0M603.9 217.4h0M623.2 231.4h0M614.3 236.3h0M628.3 210.5h0M621.5 219.2h0M615.5 239.1h0M608.9 223.4h0M620.5 208.9h0M619.7 239.1h0M613.8 230.8h0M614.4 233.0h0M602.9 230.6h0M623.1 212.2h0M626.7 231.1h0M616.4 229.2h0M604.9 222.8h0M623.8 230.4h0M627.4 225.5h0M610.4 224.6h0M604.0 215.9h0M617.4 211.1h0M610.6 232.7h0M616.9 225.8h0M602.4 229.4h0M613.9 219.2h0M621.9 226.2h0M610.4 233.3h0M612.3 216.8h0M627.3 231.0h0M613.2 230.7h0M620.3 240.1h0M628.2 235.4h0M604.8 232.9h0M622.8 230.8h0M614.7 231.6h0M618.1 233.1h0M617.6 240.1h0M609.3 230.2h0M605.0 226.8h0M605.3 206.1h0M627.9 214.2h0M603.8 229.3h0M615.3 240.7h0M620.1 230.3h0M605.3 219.2h0M604.7 225.9h0M625.3 227.4h0M619.2 223.8h0M623.7 234.2h0M607.9 207.2h0M603.2 212.3h0M619.1 223.1h0M608.1 237.2h0M607.6 239.2h0M620.3 217.0h0M622.7 211.5h0M617.6 222.6h0M609.4 229.6h0M607.7 239.8h0M621.1 232.4h0M615.5 232.5h0M615.5 239.4h0M625.4 235.1h0M605.2 226.9h0M610.3 237.4h0M628.4 238.0h0M611.8 229.6h0M618.7 225.0h0M625.3 226.6h0M605.8 228.7h0M611.3 225.1h0M621.3 232.6h0M622.3 206.2h0M607.3 230.8h0M606.7 229.2h0M612.9 220.6h0M620.2 219.7h0M622.0 211.9h0M609.0 229.7h0M605.9 227.3h0M616.5 216.1h0M628.0 232.1h0M617.7 220.2h0M623.5 214.4h0M606.8 232.9h0M604.1 218.3h0M606.6 227.1h0M609.6 211.0h0M605.7 234.8h0M622.9 228.5h0M623.2 234.1h0M621.2 225.8h0M622.2 228.9h0M624.5 231.2h0M606.1 223.5h0M608.8 219.6h0M621.0 227.4h0M619.0 229.1h0M602.2 227.3h0M611.6 206.9h0M619.2 238.8h0M622.4 233.8h0M613.0 218.2h0M612.4 227.5h0M625.5 236.0h0M624.4 215.3h0M622.7 235.8h0M606.5 231.6h0M619.3 217.8h0M612.7 220.6h0M622.0 215.8h0M622.0 221.9h0M617.8 217.4h0M604.4 230.3h0M608.8 232.1h0M622.4 237.5h0M622.5 226.5h0M618.6 232.2h0M619.7 221.1h0M615.5 237.9h0M605.1 225.5h0M611.1 205.4h0M613.1 225.9h0M626.8 224.7h0M619.4 220.3h0M613.1 233.0h0M605.0 218.3h0M615.9 217.1h0M619.9 225.5h0M604.4 229.1h0M603.3 225.4h0M622.6 228.5h0M616.3 237.7h0M618.0 215.2h0M613.6 232.2h0M604.4 238.9h0M628.2 221.5h0M623.5 235.6h0M612.1 230.6h0M602.4 225.9h0M606.6 217.4h0M625.2 230.2h0M627.2 232.0h0M624.3 217.6h0M624.7 223.9h0M622.6 227.3h0M604.2 238.0h0M606.7 240.1h0M627.7 239.1h0M619.8 219.7h0M613.1 229.5h0M609.4 227.3h0M625.8 227.4h0M625.8 221.3h0M613.9 214.0h0M617.0 238.7h0M618.9 228.7h0M613.1 232.5h0M627.4 233.4h0M616.9 220.9h0M622.2 227.3h0M620.4 217.3h0M605.5 240.7h0M628.0 224.4h0M605.6 227.7h0M608.1 217.8h0M618.9 225.2h0M620.9 240.3h0M602.3 240.0h0M615.9 229.2h0M624.4 221.3h0M615.0 210.8h0M624.4 230.3h0M615.0 229.8h0M627.3 228.5h0M615.1 225.5h0M606.4 229.8h0M607.1 239.2h0M628.4 240.0h0M610.9 231.8h0M608.3 240.1h0M624.5 213.1h0M627.8 239.2h0M614.8 238.9h0M605.2 233.8h0M605.5 231.2h0M603.7 239.1h0M614.5 212.3h0M607.5 203.9h0M617.8 225.2h0M622.5 217.4h0M627.2 235.6h0M614.9 216.9h0M624.2 230.2h0M627.4 240.2h0M623.3 230.2h0M604.7 236.9h0M626.5 238.4h0M627.1 215.8h0M607.9 230.4h0M621.7 238.7h0M609.0 221.3h0M625.2 221.4h0M613.6 230.2h0M613.5 233.9h0M609.9 226.5h0M607.7 232.0h0M610.7 236.6h0M610.5 213.7h0M624.4 236.4h0M609.3 221.3h0M616.0 235.4h0M618.7 230.9h0M620.4 226.8h0M605.4 228.9h0M616.7 231.4h0M602.1 228.4h0M627.5 218.4h0M619.4 238.2h0M619.0 233.7h0M626.3 215.1h0M623.8 234.4h0M627.6 215.1h0M612.4 238.1h0M616.3 229.3h0M621.0 233.3h0M612.1 239.3h0M625.9 239.7h0M624.2 240.7h0M609.6 231.8h0M627.9 233.2h0M621.4 234.6h0M617.1 220.7h0M628.0 228.4h0M608.5 232.3h0M619.2 229.4h0M617.0 237.6h0M615.7 229.3h0M619.4 232.9h0M622.1 232.8h0M624.5 227.5h0M623.9 230.6h0M614.0 230.8h0M620.3 234.8h0M603.4 225.0h0M609.8 222.9h0M611.9 233.3h0M605.4 203.7h0M609.5 225.1h0M625.5 220.9h0M610.2 225.4h0M613.4 229.3h0M627.9 233.6h0M619.0 226.8h0M625.5 236.3h0M606.4 238.9h0M622.2 214.5h0M621.5 231.5h0M610.5 231.4h0M618.4 233.7h0M610.7 217.5h0M611.7 204.2h0M613.7 219.9h0M621.2 230.2h0M624.7 223.1h0M627.7 236.4h0M620.7 221.9h0M627.3 206.1h0M616.0 230.9h0M602.0 229.3h0M626.7 229.2h0M619.8 240.7h0M614.9 217.1h0M614.7 222.1h0M623.3 237.4h0M621.5 240.7h0M610.9 228.3h0M612.0 240.2h0M622.6 205.3h0M611.3 219.9h0M616.5 232.0h0M625.6 238.4h0M628.4 231.6h0M613.2 233.1h0M624.7 235.9h0M607.8 213.6h0M615.0 239.1h0M628.0 230.8h0M606.7 209.3h0M612.1 233.1h0M610.0 237.1h0M611.8 236.1h0M628.4 237.8h0M602.1 229.5h0M619.1 221.0h0M612.2 207.2h0M621.3 226.1h0M613.1 227.1h0M624.5 235.4h0M628.2 221.7h0M609.9 238.8h0M625.2 235.0h0M608.6 236.8h0M613.8 216.6h0M606.9 230.0h0M606.9 237.8h0M610.6 220.2h0M621.7 230.6h0M612.0 239.1h0M617.4 223.3h0M616.5 240.1h0M665.2 240.5h0M663.2 231.1h0M639.8 221.5h0M661.5 237.9h0M661.9 226.4h0M642.3 233.0h0M653.5 230.4h0M647.2 234.3h0M657.3 238.7h0M640.7 239.9h0M640.8 233.9h0M641.2 238.1h0M643.8 214.7h0M648.8 229.2h0M659.5 206.5h0M655.0 231.6h0M650.0 239.3h0M650.3 229.4h0M665.0 239.3h0M645.1 239.7h0M660.4 229.0h0M654.8 240.8h0M642.6 231.9h0M657.5 227.7h0M645.6 220.2h0M662.7 239.0h0M649.9 215.2h0M664.7 229.8h0M650.0 222.9h0M652.4 228.5h0M657.8 239.7h0M659.2 228.2h0M646.1 234.0h0M658.6 211.6h0M649.1 226.2h0M642.6 233.0h0M657.7 238.5h0M665.5 230.5h0M653.7 228.7h0M651.4 239.1h0M661.2 214.2h0M655.0 236.6h0M661.0 233.4h0M654.2 222.8h0M659.1 217.2h0M648.3 230.2h0M656.4 234.7h0M644.1 227.9h0M651.6 232.1h0M646.2 221.3h0M641.0 232.1h0M651.8 237.7h0M659.0 229.6h0M641.4 228.6h0M656.7 237.6h0M643.4 228.5h0M663.5 230.9h0M651.1 208.8h0M646.3 227.6h0M644.9 240.6h0M648.8 225.6h0M651.0 214.7h0M649.2 236.6h0M665.3 223.5h0M640.8 236.2h0M660.4 238.0h0M650.9 236.8h0M664.5 219.7h0M657.8 226.6h0M656.9 215.3h0M644.6 239.2h0M641.3 233.6h0M650.5 218.4h0M650.8 213.1h0M650.8 221.5h0M648.1 220.0h0M657.1 233.1h0M661.0 238.2h0M661.3 234.8h0M642.0 219.6h0M656.5 237.7h0M652.4 225.9h0M664.4 236.0h0M654.6 221.0h0M659.4 207.5h0M640.7 239.0h0M656.5 235.8h0M649.8 236.9h0M659.3 209.1h0M664.0 221.4h0M641.6 239.3h0M642.6 239.1h0M657.7 227.7h0M663.6 217.9h0M665.5 216.0h0M661.3 222.9h0M641.7 214.5h0M643.9 235.6h0M643.2 239.8h0M645.1 220.5h0M656.2 236.8h0M644.8 224.0h0M644.4 236.0h0M661.7 237.0h0M662.8 232.7h0M652.2 224.4h0M642.3 233.6h0M647.2 223.6h0M640.9 232.7h0M644.7 225.3h0M641.5 234.3h0M652.9 232.7h0M654.5 203.1h0M643.1 235.1h0M640.9 219.0h0M665.9 218.0h0M642.6 236.4h0M649.3 237.4h0M644.3 230.0h0M663.8 234.1h0M665.9 240.7h0M657.8 222.2h0M642.0 230.5h0M647.9 236.3h0M643.5 235.2h0M658.1 238.9h0M646.0 233.6h0M660.9 225.2h0M664.8 226.2h0M665.3 237.8h0M649.3 211.3h0M650.5 233.8h0M653.3 232.6h0M644.0 239.6h0M655.9 221.1h0M660.6 229.4h0M648.2 234.7h0M643.7 236.7h0M655.3 235.7h0M661.5 239.5h0M650.1 204.4h0M646.9 212.0h0M653.4 231.4h0M663.1 237.1h0M649.6 240.4h0M658.5 238.4h0M641.8 237.4h0M664.4 229.5h0M645.5 229.2h0M650.9 239.6h0M647.1 231.6h0M646.3 212.5h0M650.5 232.5h0M652.8 235.0h0M650.9 224.3h0M648.7 236.3h0M645.6 233.1h0M644.3 240.1h0M663.5 238.3h0M654.2 236.3h0M662.9 237.3h0M641.1 225.8h0M659.5 223.7h0M648.1 239.6h0M643.8 229.3h0M657.8 239.8h0M660.4 223.2h0M657.9 238.5h0M644.5 239.6h0M663.7 235.5h0M641.2 233.7h0M658.5 231.1h0M645.5 235.3h0M651.7 232.2h0M653.6 210.3h0M650.1 240.7h0M643.5 214.7h0M646.7 226.6h0M644.0 240.8h0M656.1 231.3h0M645.4 228.5h0M649.2 233.8h0M654.7 229.4h0M646.3 235.5h0M660.1 229.8h0M641.3 226.2h0M649.9 228.8h0M640.6 239.2h0M650.6 234.9h0M653.5 230.9h0M654.1 237.3h0M657.9 236.4h0M651.9 228.2h0M662.5 214.9h0M653.9 235.6h0M663.7 238.4h0M648.5 221.2h0M664.2 236.6h0M655.9 227.4h0M661.5 237.5h0M659.7 237.9h0M648.0 239.6h0M657.5 211.7h0M649.7 214.5h0M657.3 206.6h0M663.1 235.9h0M651.8 218.4h0M650.1 240.0h0M655.6 233.0h0M650.4 232.6h0M639.8 235.8h0M651.2 223.1h0M663.2 232.7h0M648.0 232.8h0M656.6 239.1h0M665.6 236.0h0M647.2 234.3h0M640.3 228.7h0M659.2 230.4h0M640.2 210.8h0M655.5 225.0h0M661.3 237.7h0M652.0 239.7h0M657.3 224.0h0M639.8 216.1h0M652.9 232.5h0M653.7 238.1h0M643.9 218.1h0M653.4 231.4h0M659.3 213.3h0M658.6 233.8h0M658.1 216.3h0M651.1 229.0h0M658.4 220.4h0M663.0 226.2h0M642.8 238.3h0M644.8 232.4h0M659.0 222.7h0M654.9 231.0h0M658.5 230.8h0M656.9 216.9h0M647.2 221.6h0M658.1 240.3h0M651.6 240.7h0M643.2 226.6h0M663.3 212.1h0M643.6 224.3h0M652.5 240.1h0M665.2 231.4h0M647.0 240.1h0M658.7 232.0h0M646.0 239.5h0M664.0 205.3h0M640.2 227.2h0M665.0 233.7h0M646.4 215.0h0M641.2 236.5h0M644.4 232.9h0M663.2 240.2h0M645.6 225.2h0M651.3 225.0h0M651.4 229.6h0M653.8 229.2h0M648.4 226.5h0M654.3 232.7h0M654.7 224.4h0M649.1 237.2h0M639.9 229.6h0M658.2 237.8h0M642.8 234.7h0M653.0 214.3h0M650.3 208.4h0M651.0 228.1h0M665.8 233.7h0M653.1 229.4h0M650.6 236.0h0M654.6 203.5h0M642.2 232.5h0M660.0 226.6h0M658.4 236.1h0M640.4 234.9h0M646.0 221.0h0M654.2 239.2h0M645.6 231.4h0M650.2 229.7h0M655.1 234.3h0M655.6 239.5h0M643.2 231.8h0M663.9 220.1h0M645.2 218.9h0M657.9 240.0h0M657.5 239.2h0M651.0 212.5h0M648.6 203.3h0M646.0 237.5h0M658.9 228.7h0M655.7 227.5h0M652.2 234.9h0M639.9 240.2h0M647.3 227.0h0M653.8 226.8h0M661.3 232.0h0M645.6 206.3h0M642.9 222.7h0M658.4 239.8h0M655.6 235.6h0M644.4 222.4h0M651.1 212.1h0M644.9 220.3h0M654.4 236.1h0M646.6 239.9h0M643.5 232.2h0M645.6 235.0h0M654.3 238.4h0M658.1 211.6h0M651.1 224.9h0M646.5 228.8h0M663.4 230.0h0M643.2 206.1h0M646.0 228.9h0M653.6 240.2h0M656.3 231.2h0M660.3 225.8h0M643.0 224.9h0M658.3 234.3h0M646.7 228.7h0M648.8 236.5h0M645.3 227.5h0M655.5 240.2h0M640.7 237.0h0M654.0 237.7h0M656.1 230.2h0M659.9 217.8h0M655.2 217.6h0M651.0 220.0h0M652.2 232.8h0M653.2 227.4h0M640.0 226.8h0M653.8 229.1h0M658.6 232.8h0M662.1 230.9h0M660.0 225.4h0M664.8 224.3h0M657.4 225.3h0M664.0 222.7h0M648.8 221.6h0M650.0 229.6h0M657.8 230.0h0M646.3 237.5h0M644.6 212.4h0M642.6 236.2h0M648.4 240.0h0M640.7 233.3h0M641.8 208.0h0M650.8 233.4h0M664.8 229.1h0M655.4 230.3h0M663.7 213.6h0M664.8 234.9h0M659.9 230.4h0M649.9 232.7h0M651.0 229.4h0M643.9 239.0h0M663.3 227.7h0M647.5 219.3h0M642.6 238.3h0M665.0 204.6h0M649.2 223.5h0M657.5 209.9h0M642.3 237.0h0M654.6 233.5h0M645.2 226.8h0M639.6 226.9h0M654.3 235.2h0M651.9 233.8h0M661.7 239.5h0M664.2 210.1h0M653.9 226.9h0M660.3 234.7h0M653.9 231.5h0M639.6 228.1h0M662.7 222.6h0M661.7 235.7h0M655.6 234.5h0M654.5 204.1h0M657.5 239.5h0M649.7 236.0h0M642.1 237.2h0M644.0 227.4h0M650.5 235.7h0M654.1 220.9h0M654.0 224.2h0M653.1 221.1h0M641.9 230.4h0M640.6 226.9h0M659.5 237.3h0M656.0 235.1h0M642.7 229.0h0M646.5 234.7h0M640.4 237.7h0M646.2 236.3h0M650.4 238.9h0M657.5 228.1h0M641.7 224.7h0M639.6 234.4h0M642.1 233.8h0M663.1 234.7h0M641.0 236.0h0M655.8 230.8h0M639.6 230.9h0M650.5 233.3h0M651.0 234.3h0M656.1 234.2h0M655.0 222.4h0M652.3 238.1h0M666.0 239.7h0M652.6 237.5h0M654.2 210.1h0M650.8 228.7h0M646.3 224.1h0M657.0 237.0h0M644.7 235.0h0M657.4 222.5h0M655.1 230.4h0M652.9 230.0h0M651.3 214.2h0M643.0 232.1h0M641.8 232.1h0M658.2 239.1h0M649.8 232.4h0M644.9 221.3h0M641.8 214.2h0M640.2 239.9h0M646.5 220.8h0M654.6 226.3h0M662.3 213.7h0M641.0 215.7h0M645.3 239.9h0M662.4 237.9h0M662.6 236.3h0M656.2 222.7h0M664.6 218.8h0M652.9 238.9h0M665.2 234.5h0M652.5 206.5h0M663.6 213.9h0M647.0 218.1h0M657.8 240.2h0M642.3 233.2h0M661.2 203.2h0M659.3 226.7h0M642.9 237.7h0M648.6 228.8h0M645.8 236.9h0M664.2 211.3h0M644.7 239.0h0M645.5 224.3h0M655.1 233.6h0M657.2 232.4h0M654.6 217.3h0M659.2 235.3h0M651.0 229.7h0M660.9 226.1h0M664.5 239.3h0M660.1 235.6h0M641.9 222.6h0M648.5 225.6h0M656.5 235.5h0M659.1 215.7h0M659.8 228.8h0M665.6 236.2h0M654.5 236.1h0M647.6 230.1h0M657.7 222.7h0M650.0 226.0h0M659.3 235.0h0M646.9 230.1h0M649.9 231.1h0M652.6 238.6h0M659.2 230.3h0M646.1 239.9h0M655.0 237.7h0M648.9 221.4h0M648.5 217.2h0M662.9 229.4h0M660.8 227.9h0M660.8 239.9h0M649.9 231.7h0M657.8 231.4h0M642.3 226.6h0M649.7 221.3h0M665.3 224.7h0M645.5 239.3h0M652.0 230.5h0M644.1 224.4h0M648.6 226.3h0M649.6 231.0h0M645.1 239.0h0M665.4 231.2h0M653.8 227.0h0M648.2 237.9h0M651.1 235.0h0M642.6 237.7h0M653.4 234.6h0M653.4 227.4h0M665.5 237.9h0M639.7 239.8h0M650.1 236.2h0M645.9 239.7h0M654.5 227.9h0M643.0 238.9h0M663.6 219.9h0M642.4 230.9h0M657.7 236.7h0M658.2 238.8h0M653.2 216.6h0M665.3 222.9h0M649.7 230.7h0M647.8 218.2h0M644.5 235.5h0M654.4 226.5h0M643.6 215.2h0M661.7 205.6h0M661.5 225.8h0M658.0 223.9h0M664.6 231.2h0M648.6 219.2h0M660.7 240.7h0M652.7 225.6h0M660.4 220.7h0M646.0 227.1h0M647.6 234.8h0M647.2 230.4h0M663.0 233.3h0M657.2 226.3h0M656.3 224.5h0M640.6 229.3h0M640.9 233.8h0M654.8 226.1h0M647.1 229.3h0M642.4 239.3h0M639.5 222.0h0M654.2 232.9h0M656.5 240.1h0M661.9 230.4h0M654.1 223.6h0M665.3 235.7h0M659.3 221.9h0M658.5 239.2h0M647.7 237.3h0M663.6 228.7h0M650.0 232.9h0M645.0 211.4h0M655.0 224.4h0M641.9 228.0h0M659.0 233.1h0M642.9 231.7h0M659.8 235.8h0M654.5 233.2h0M655.9 220.7h0M655.6 212.8h0M649.5 230.6h0M655.3 235.5h0M646.6 226.9h0M650.9 213.6h0M659.0 236.3h0M660.9 234.2h0M663.7 239.8h0M643.7 239.9h0M647.2 209.9h0M646.0 218.9h0M662.1 237.6h0M646.0 230.3h0M646.3 236.8h0M664.7 240.2h0M665.6 233.1h0M656.5 240.5h0M645.0 222.0h0M665.1 218.1h0M663.3 233.0h0M646.7 214.6h0M663.3 235.8h0M653.2 223.7h0M654.2 232.5h0M663.5 220.6h0M659.0 231.8h0M651.8 226.6h0M649.3 231.2h0M652.5 216.3h0M659.7 238.8h0M643.1 232.3h0M665.1 210.7h0M643.8 223.6h0M648.6 232.6h0M644.0 233.0h0M662.5 235.6h0M644.1 235.4h0M652.8 239.8h0M648.9 234.4h0M661.8 223.3h0M642.9 227.3h0M639.8 228.4h0M644.2 230.4h0M643.3 218.2h0M660.9 219.0h0M661.2 240.5h0M641.6 237.3h0M644.4 226.1h0M656.9 224.5h0M651.4 234.5h0M655.9 220.0h0M656.4 230.2h0M659.1 204.8h0M646.5 235.4h0M660.0 231.9h0M644.0 239.3h0M646.8 224.4h0M656.8 225.8h0M663.2 235.5h0M663.5 235.3h0M659.3 236.4h0M640.6 232.6h0M649.7 236.9h0M651.2 230.4h0M643.0 212.3h0M646.1 228.9h0M644.6 225.3h0M643.2 217.7h0M650.5 239.9h0M665.7 226.4h0M662.6 224.9h0M658.7 208.4h0M653.1 231.4h0M644.3 227.9h0M651.2 212.3h0M649.9 230.0h0M665.2 233.2h0M663.9 225.0h0M657.1 237.1h0M658.0 207.4h0M654.1 216.9h0M664.6 222.5h0M647.5 236.1h0M659.8 229.7h0M648.5 238.1h0M654.9 236.1h0M657.4 232.9h0M664.9 236.6h0M664.4 234.1h0M663.7 235.0h0M649.6 218.3h0M663.1 227.2h0M656.7 235.2h0M645.8 230.0h0M646.6 225.5h0M660.7 230.3h0M656.6 219.0h0M663.9 221.5h0M644.5 219.1h0M647.9 234.0h0M653.4 207.4h0M647.6 228.9h0M663.3 232.4h0M645.1 212.0h0M640.3 216.6h0M644.4 214.4h0M656.4 218.3h0M639.9 229.1h0M641.3 216.5h0M651.5 222.1h0M663.7 220.2h0M649.2 233.6h0M648.4 237.4h0M646.3 213.4h0M658.7 235.1h0M644.1 235.5h0M659.8 223.2h0M645.7 236.6h0M639.6 231.6h0M660.6 239.0h0M651.2 237.4h0M650.1 230.5h0M642.3 219.1h0M662.4 226.6h0M660.1 235.6h0M653.6 218.3h0M642.4 232.7h0M647.2 229.0h0M663.2 229.4h0M655.1 233.6h0M641.2 239.7h0M640.2 232.7h0M662.4 208.2h0M640.1 231.9h0M648.6 226.7h0M643.5 240.2h0M658.4 234.7h0M645.4 239.4h0M652.8 234.2h0M642.6 222.0h0M653.8 231.1h0M648.7 219.3h0M665.9 211.3h0M652.3 237.9h0M654.1 225.8h0M663.1 237.4h0M646.0 229.0h0M665.4 228.6h0M653.3 229.9h0M663.1 238.5h0M662.5 235.5h0M650.7 222.6h0M644.9 224.8h0M647.6 224.2h0M656.1 231.8h0M642.5 239.8h0M655.7 230.7h0M652.8 233.8h0M655.2 211.2h0M661.9 231.5h0M646.2 230.2h0M662.5 237.6h0M646.1 230.6h0M648.2 234.5h0M652.5 220.8h0M663.7 236.0h0M646.7 232.2h0M653.7 239.5h0M645.5 234.9h0M653.2 239.6h0M643.9 239.9h0M658.8 230.0h0M653.1 238.2h0M663.7 235.9h0M649.5 240.2h0M660.8 225.5h0M655.4 231.1h0M650.0 232.2h0M650.3 224.9h0M662.2 235.0h0M646.3 230.5h0M658.6 216.8h0M658.3 239.3h0M665.2 212.8h0M661.6 238.9h0M650.5 224.4h0M643.9 233.2h0M647.5 214.0h0M640.4 240.7h0M653.0 225.9h0M656.8 227.9h0M652.6 208.3h0M641.1 230.6h0M643.0 228.3h0M653.8 240.2h0M654.7 224.6h0M663.4 224.3h0M650.5 228.9h0M660.9 240.4h0M643.4 223.2h0M640.8 228.3h0M643.1 233.4h0M665.5 220.3h0M664.8 232.9h0M643.4 235.3h0M657.0 231.0h0M664.1 225.9h0M665.9 221.3h0M658.4 231.4h0M645.8 233.1h0M645.0 227.1h0M657.1 239.1h0M646.6 229.5h0M641.9 231.5h0M657.4 230.3h0M655.8 228.7h0M650.2 230.4h0M643.6 234.4h0M645.0 230.1h0M644.8 222.4h0M657.9 225.0h0M651.4 233.9h0M640.6 231.9h0M641.7 238.4h0M663.1 227.1h0M646.1 222.4h0M663.0 233.4h0M651.8 230.2h0M664.9 235.5h0M658.2 205.8h0M664.0 231.1h0M662.9 232.4h0M665.2 231.8h0M665.9 229.7h0M652.3 227.5h0M663.3 210.5h0M645.7 226.1h0M662.6 220.9h0M652.9 238.3h0M660.5 219.3h0M657.8 224.1h0M661.0 237.8h0M649.2 203.6h0M654.1 228.7h0M651.9 231.7h0M639.7 228.1h0M643.3 234.3h0M641.6 231.6h0M655.8 239.9h0M645.7 234.2h0M658.4 226.4h0M645.6 224.2h0M663.8 239.4h0M646.4 231.8h0M658.5 229.5h0M643.4 218.5h0M643.3 224.2h0M644.1 238.5h0M663.2 238.1h0M647.4 239.8h0M639.9 238.0h0M640.8 219.9h0M660.3 236.7h0M657.4 236.3h0M657.6 226.5h0M650.0 223.1h0M664.1 222.8h0M664.9 238.1h0M642.6 236.1h0M664.6 238.8h0M665.5 240.7h0M648.8 212.6h0M639.8 238.3h0M662.3 236.6h0M662.1 226.9h0M640.8 239.1h0M664.7 226.7h0M642.1 205.6h0M641.2 230.2h0M641.7 237.8h0M640.8 239.7h0M660.5 220.8h0M660.4 209.5h0M644.5 220.2h0M643.5 228.1h0M652.3 224.0h0M648.9 232.5h0M654.1 233.7h0M656.7 236.2h0M655.6 210.9h0M641.9 238.5h0M644.8 227.8h0M662.1 225.3h0M644.9 229.3h0M665.7 222.3h0M643.9 238.8h0M664.6 230.2h0M662.3 234.7h0M644.2 228.2h0M662.9 218.0h0M660.4 238.4h0M649.1 229.7h0M656.9 229.4h0M654.8 224.6h0M639.6 238.6h0M658.7 228.0h0M650.4 237.1h0M645.9 239.1h0M650.2 218.6h0M650.6 240.6h0M663.3 232.6h0M651.6 229.9h0M652.3 228.1h0M651.7 234.5h0M652.7 227.5h0M647.5 232.5h0M642.2 237.0h0M645.3 225.1h0M652.7 233.4h0M663.2 234.6h0M645.4 225.6h0M652.4 212.3h0M663.6 239.0h0M653.9 236.5h0M639.9 227.4h0M664.8 223.3h0M664.2 237.4h0M662.2 230.9h0M655.1 240.0h0M654.7 231.4h0M640.0 239.9h0M657.2 211.0h0M646.0 208.8h0M654.6 223.6h0M663.3 234.0h0M663.1 235.3h0M656.4 235.3h0M665.9 238.2h0M642.6 230.0h0M656.7 217.1h0M666.0 237.6h0M656.3 231.8h0M654.7 217.2h0M646.5 217.2h0M644.8 234.2h0M649.8 230.7h0M653.4 228.9h0M647.8 227.9h0M649.6 226.6h0M645.9 226.6h0M640.5 233.2h0M647.9 206.3h0M651.7 239.5h0M658.4 228.5h0M661.8 229.2h0M657.2 233.9h0M650.4 216.0h0M647.3 234.5h0M651.6 236.8h0M646.5 219.0h0M654.3 233.3h0M651.8 228.2h0M649.5 236.4h0M644.6 239.7h0M653.5 225.0h0M648.7 222.6h0M642.6 239.8h0M655.8 234.0h0M641.2 234.3h0M653.4 235.1h0M648.6 239.5h0M650.0 235.4h0M652.2 231.2h0M659.5 219.6h0M664.5 203.6h0M658.1 240.4h0M648.1 231.5h0M659.9 236.7h0M644.9 239.3h0M664.1 219.3h0M646.4 218.5h0M656.7 232.1h0M663.6 239.8h0M663.1 238.9h0M657.8 238.1h0M645.4 223.5h0M663.2 232.4h0M644.6 225.4h0M655.9 235.2h0M647.7 205.6h0M647.9 236.9h0M651.3 232.5h0M646.4 215.2h0M645.7 239.7h0M661.8 221.7h0M663.4 237.3h0M658.1 236.6h0M659.8 233.5h0M646.9 219.7h0M653.4 222.4h0M653.6 227.5h0M643.5 237.6h0M643.0 219.5h0M664.2 232.8h0M647.0 204.4h0M657.8 209.8h0M643.2 222.1h0M660.4 235.6h0M661.0 214.6h0M641.5 239.4h0M665.9 216.0h0M656.0 235.7h0M654.3 228.4h0M651.7 230.0h0M644.4 226.3h0M640.9 232.5h0M661.5 218.2h0M662.0 233.4h0M647.4 228.7h0M645.4 238.6h0M665.6 235.5h0M648.8 231.9h0M663.8 237.6h0M665.0 239.6h0M648.1 235.2h0M639.8 232.2h0M662.9 227.4h0M655.1 236.5h0M640.9 228.0h0M654.6 238.7h0M655.7 235.2h0M664.3 228.4h0M653.3 217.5h0M651.5 221.5h0M658.9 240.1h0M655.5 224.3h0M651.3 240.4h0M649.5 221.7h0M644.7 234.8h0M653.6 234.6h0M639.8 238.0h0M653.3 240.3h0M656.8 220.4h0M660.6 239.2h0M651.5 224.7h0M653.9 240.4h0M641.2 236.2h0M666.0 232.0h0M647.3 226.2h0M643.1 231.9h0M649.0 213.1h0M665.4 225.8h0M662.5 237.2h0M651.0 222.7h0M654.8 234.0h0M662.9 228.0h0M660.9 237.6h0M649.0 221.6h0M645.7 238.1h0M661.3 235.6h0M652.8 225.0h0M645.0 225.0h0M644.0 220.7h0M642.0 229.0h0M647.8 231.6h0M649.9 226.7h0M641.5 228.1h0M644.1 227.2h0M659.2 239.2h0M658.4 225.8h0M648.5 230.6h0M660.5 225.0h0M640.4 236.8h0M656.8 217.6h0M644.9 222.8h0M639.9 204.0h0M641.5 233.3h0M661.9 217.8h0M643.3 222.7h0M658.2 233.0h0M649.5 235.7h0M647.4 222.7h0M658.7 206.7h0M656.6 227.2h0M650.7 236.7h0M662.1 230.7h0M662.3 213.0h0M652.7 226.9h0M659.0 229.9h0M647.4 211.4h0M662.5 240.1h0M660.0 220.5h0M653.3 232.1h0M654.6 216.6h0M659.9 235.2h0M648.0 238.0h0M644.2 231.7h0M644.6 203.6h0M652.4 239.2h0M664.5 227.5h0M652.7 204.9h0M641.1 227.9h0M641.2 222.1h0M640.7 233.7h0M657.9 233.2h0M650.7 230.1h0M650.0 222.8h0M653.9 239.7h0M653.1 224.0h0M642.3 234.0h0M642.8 233.9h0M641.2 213.7h0M653.5 233.6h0M664.4 231.2h0M658.5 235.1h0M664.4 227.7h0M658.0 223.7h0M646.1 225.0h0M657.8 236.7h0M640.9 240.3h0M663.8 229.7h0M664.1 237.5h0M655.3 239.4h0M665.8 232.2h0M660.9 238.6h0M652.0 217.7h0M662.8 233.3h0M659.3 213.2h0M643.9 234.3h0M642.1 213.8h0M659.8 227.6h0M657.9 229.0h0M645.5 227.9h0M646.4 235.1h0M648.1 225.0h0M647.8 235.0h0M661.9 238.4h0M641.9 211.5h0M659.4 234.1h0M664.2 217.5h0M647.5 231.4h0M660.2 222.3h0M640.1 236.0h0M662.5 236.1h0M665.9 224.9h0M650.8 237.6h0M657.1 232.7h0M640.0 240.6h0M656.6 236.5h0M645.2 226.6h0M663.0 230.1h0M665.9 205.1h0M654.6 231.5h0M665.1 226.2h0M644.8 238.0h0M663.9 233.1h0M641.7 224.9h0M661.2 224.8h0M651.9 224.4h0M652.4 215.4h0M657.4 240.5h0M646.8 240.5h0M656.7 227.4h0M652.8 234.1h0M646.6 226.3h0M659.3 239.8h0M659.8 236.8h0M656.1 233.1h0M661.1 204.9h0M646.0 218.5h0M662.3 228.1h0M640.0 236.5h0M644.8 231.8h0M643.8 232.1h0M660.7 234.5h0M662.6 237.0h0M658.5 219.6h0M664.5 223.6h0M654.2 237.2h0M641.2 230.4h0M642.1 221.1h0M658.6 229.2h0M643.8 223.6h0M644.4 219.8h0M646.1 235.7h0M643.2 235.6h0M665.1 236.9h0M641.1 233.0h0M640.0 238.3h0M643.5 231.7h0M650.3 233.9h0M642.3 226.7h0M643.3 216.5h0M665.7 228.6h0M651.5 228.4h0M642.6 220.9h0M657.6 233.1h0M641.2 235.3h0M653.9 221.3h0M645.8 211.4h0M641.2 240.7h0M643.2 223.7h0M639.9 238.3h0M654.4 235.5h0M655.2 211.8h0M645.0 240.6h0M650.4 233.2h0M646.6 223.2h0M643.5 240.4h0M654.8 220.5h0M654.2 232.3h0M650.2 229.9h0M663.7 220.7h0M652.5 233.1h0M644.8 236.4h0M664.3 237.2h0M647.6 229.3h0M654.0 237.2h0M656.6 217.5h0M661.6 220.7h0M660.6 228.6h0M644.3 227.8h0M656.8 237.4h0M655.1 238.8h0M654.7 226.6h0M656.0 219.4h0M650.5 223.2h0M645.5 208.7h0M660.8 235.7h0M663.7 224.5h0M650.2 229.6h0M662.2 236.7h0M651.8 222.5h0M647.6 226.2h0M653.5 217.9h0M661.6 240.2h0M662.6 222.2h0M650.8 224.3h0M657.5 230.5h0M657.1 236.5h0M640.5 226.6h0M643.0 238.0h0M655.9 219.2h0M644.6 214.7h0M655.6 233.5h0M645.8 240.7h0M662.6 238.4h0M646.2 235.4h0M661.4 228.4h0M661.1 221.6h0M649.9 232.9h0M653.9 223.7h0M663.3 226.8h0M650.1 240.0h0M652.4 234.0h0M647.4 230.0h0M644.7 204.2h0M643.3 239.3h0M653.8 234.9h0M656.6 224.7h0M639.9 230.0h0M641.4 232.3h0M645.9 215.5h0M652.4 234.3h0M640.8 235.9h0M664.6 235.1h0M640.8 229.5h0M663.8 226.6h0M660.1 213.9h0M658.6 228.4h0M657.9 240.4h0M651.5 216.3h0M655.0 234.7h0M646.3 226.2h0M663.8 232.7h0M643.4 232.3h0M654.9 235.0h0M648.4 235.7h0M644.0 225.8h0M664.1 237.1h0M658.9 235.2h0M640.2 225.7h0M649.5 236.0h0M651.2 215.6h0M644.7 236.6h0M654.6 240.8h0M641.9 227.7h0M650.0 224.4h0M641.3 232.9h0M665.8 232.9h0M645.4 226.1h0M645.7 233.7h0M661.0 233.3h0M640.6 221.7h0M639.7 237.9h0M646.2 235.7h0M660.6 238.8h0M662.0 206.2h0M641.0 223.0h0M643.1 230.0h0M640.8 229.3h0M653.0 228.6h0M658.8 240.2h0M640.3 238.6h0M642.2 210.8h0M656.3 219.0h0M658.4 218.3h0M640.4 230.2h0M662.5 236.1h0M642.6 224.8h0M664.8 235.3h0M656.7 236.4h0M650.9 235.6h0M642.5 225.3h0M655.0 226.1h0M648.2 230.6h0M649.5 213.2h0M641.7 233.0h0M654.0 229.3h0M655.6 227.8h0M664.6 216.0h0M646.7 236.9h0M661.0 240.1h0M653.2 236.7h0M659.0 216.2h0M665.8 212.7h0M653.4 237.5h0M649.3 239.9h0M644.7 233.3h0M652.0 238.6h0M651.2 240.1h0M648.9 212.3h0M641.7 233.8h0M662.6 232.4h0M658.0 235.7h0M647.7 221.1h0M649.5 216.0h0M645.0 231.6h0M642.3 228.0h0M653.5 226.1h0M641.1 217.8h0M647.3 220.9h0M657.8 235.9h0M649.6 223.1h0M651.3 216.8h0M645.9 228.1h0M652.2 226.7h0M645.9 227.0h0M664.7 227.8h0M660.8 215.9h0M663.6 238.5h0M655.1 236.1h0M658.4 237.6h0M654.8 234.7h0M665.2 229.1h0M640.0 227.4h0M665.7 238.7h0M660.9 238.1h0M664.8 212.6h0M656.2 238.7h0M661.2 228.6h0M660.6 234.0h0M655.9 224.8h0M658.0 212.1h0M643.6 235.1h0M657.0 234.4h0M644.6 235.0h0M664.6 234.0h0M641.8 237.6h0M663.9 218.5h0M645.3 226.8h0M647.1 226.4h0M644.5 207.0h0M649.7 204.5h0M659.0 205.1h0M648.5 237.3h0M641.9 236.7h0M658.1 230.7h0M658.3 240.7h0M646.3 220.9h0M651.8 225.6h0M651.0 221.6h0M655.4 239.2h0M664.4 236.9h0M645.1 220.6h0M645.4 210.8h0M645.3 217.1h0M660.1 213.7h0M645.9 229.6h0M653.3 234.3h0M643.2 233.9h0M644.8 238.3h0M644.1 234.4h0M663.3 228.9h0M654.7 210.9h0M656.7 225.9h0M664.9 231.6h0M643.2 235.1h0M652.0 213.9h0M664.7 238.3h0M640.7 221.5h0M641.1 226.9h0M645.5 240.4h0M658.6 239.0h0M643.4 220.0h0M660.4 207.8h0M657.4 234.3h0M661.8 236.6h0M658.7 223.2h0M656.7 207.1h0M643.2 239.5h0M641.8 221.6h0M645.0 238.0h0M653.8 229.8h0M644.4 239.8h0M663.1 212.2h0M664.5 215.2h0M643.6 237.4h0M640.8 220.4h0M648.9 225.0h0M664.9 218.4h0M650.2 228.6h0M665.9 239.3h0M652.0 215.6h0M665.3 239.6h0M665.8 236.4h0M649.6 209.7h0M663.9 226.3h0M652.6 234.3h0M655.9 227.2h0M651.4 234.4h0M658.6 213.3h0M655.1 221.4h0M661.0 232.6h0M659.4 230.1h0M662.8 233.2h0M662.4 221.5h0M643.9 237.2h0M641.4 237.7h0M663.1 238.1h0M658.2 240.4h0M645.9 232.3h0M646.9 224.5h0M658.0 234.0h0M664.6 228.3h0M663.4 234.2h0M658.9 217.8h0M640.5 224.9h0M653.9 233.3h0M650.3 235.3h0M644.5 223.4h0M662.9 234.1h0M652.1 235.0h0M654.9 237.5h0M653.0 239.9h0M648.3 223.0h0M660.5 229.7h0M642.6 234.2h0M665.7 234.2h0M660.9 223.0h0M647.5 226.7h0M659.5 238.5h0M645.3 236.1h0M665.2 222.3h0M640.0 235.2h0M653.3 235.7h0M649.7 234.7h0M640.9 215.9h0M651.0 226.4h0M639.6 231.9h0M658.0 231.6h0M664.3 215.8h0M658.1 220.2h0M656.6 240.2h0M641.6 237.3h0M639.7 212.0h0M640.1 225.9h0M647.9 220.9h0M646.4 211.9h0M647.5 240.5h0M662.3 233.2h0M642.8 239.3h0M653.4 228.3h0M645.2 230.2h0M652.3 238.3h0M643.2 234.4h0M658.1 217.3h0M648.3 226.3h0M658.4 224.3h0M640.6 237.6h0M662.6 239.6h0M665.9 215.7h0M641.9 207.5h0M643.4 240.5h0M641.6 237.2h0M656.1 233.1h0M658.0 235.2h0M650.5 230.6h0M645.0 231.1h0M655.2 235.0h0M654.7 223.7h0M641.5 226.3h0M642.8 234.2h0M661.0 217.5h0M642.4 223.6h0M660.9 229.2h0M649.8 230.9h0M640.4 230.4h0M665.4 219.4h0M663.9 238.2h0M657.3 206.7h0M649.4 233.4h0M665.1 232.5h0M655.6 240.6h0M663.7 228.0h0M639.7 239.6h0M662.6 223.0h0M664.5 220.0h0M651.5 229.9h0M663.9 224.1h0M647.0 234.6h0M656.8 226.3h0M644.7 229.3h0M664.7 234.2h0M651.7 236.5h0M660.1 230.9h0M664.8 225.4h0M662.5 233.4h0M641.6 231.2h0M652.4 240.3h0M660.2 233.8h0M658.4 239.3h0M662.0 224.4h0M649.8 239.9h0M644.3 229.3h0M646.1 225.3h0M646.0 214.9h0M645.4 213.8h0M666.0 238.6h0M664.8 233.6h0M606.0 167.7h0M605.0 170.7h0M609.0 187.5h0M617.0 188.1h0M623.0 191.1h0M611.0 193.5h0M620.0 198.9h0M614.0 199.5h0M648.0 184.5h0M652.0 184.5h0M650.0 191.1h0M661.0 192.9h0M657.0 198.9h0M645.0 199.5h0M663.0 199.5h0" stroke="#bebebe" stroke-width="1.6" stroke-linecap="square" fill="none"/>
<line x1="615.10" y1="202.40" x2="615.10" y2="221.00" stroke="#222" stroke-width="1.0"/>
<line x1="615.10" y1="234.80" x2="615.10" y2="241.10" stroke="#222" stroke-width="1.0"/>
<line x1="607.50" y1="202.40" x2="622.70" y2="202.40" stroke="#222" stroke-width="1.0"/>
<line x1="607.50" y1="241.10" x2="622.70" y2="241.10" stroke="#222" stroke-width="1.0"/>
<rect x="601.80" y="221.00" width="26.70" height="13.80" fill="#909a88" stroke="#222" stroke-width="1.0"/>
<line x1="601.80" y1="228.40" x2="628.50" y2="228.40" stroke="#000" stroke-width="2.0"/>
<line x1="652.70" y1="202.00" x2="652.70" y2="223.10" stroke="#222" stroke-width="1.0"/>
<line x1="652.70" y1="240.00" x2="652.70" y2="241.50" stroke="#222" stroke-width="1.0"/>
<line x1="645.00" y1="202.00" x2="660.50" y2="202.00" stroke="#222" stroke-width="1.0"/>
<line x1="645.00" y1="241.50" x2="660.50" y2="241.50" stroke="#222" stroke-width="1.0"/>
<rect x="639.50" y="223.10" width="26.50" height="16.90" fill="#d8a566" stroke="#222" stroke-width="1.0"/>
<line x1="639.50" y1="231.20" x2="666.00" y2="231.20" stroke="#000" stroke-width="2.0"/>
<rect x="593.20" y="163.40" width="81.80" height="82.10" fill="none" stroke="#000" stroke-width="1.1"/>
<text x="0" y="3.31" font-size="9.2" font-weight="bold" text-anchor="end" fill="#000" stroke="#000" stroke-width="0.3" transform="translate(591.00 240.80) scale(1.12 1)">0.0</text>
<line x1="591.40" y1="240.80" x2="593.20" y2="240.80" stroke="#000" stroke-width="0.8"/>
<text x="0" y="3.31" font-size="9.2" font-weight="bold" text-anchor="end" fill="#000" stroke="#000" stroke-width="0.3" transform="translate(591.00 225.83) scale(1.12 1)">2.5</text>
<line x1="591.40" y1="225.83" x2="593.20" y2="225.83" stroke="#000" stroke-width="0.8"/>
<text x="0" y="3.31" font-size="9.2" font-weight="bold" text-anchor="end" fill="#000" stroke="#000" stroke-width="0.3" transform="translate(591.00 210.85) scale(1.12 1)">5.0</text>
<line x1="591.40" y1="210.85" x2="593.20" y2="210.85" stroke="#000" stroke-width="0.8"/>
<text x="0" y="3.31" font-size="9.2" font-weight="bold" text-anchor="end" fill="#000" stroke="#000" stroke-width="0.3" transform="translate(591.00 195.88) scale(1.12 1)">7.5</text>
<line x1="591.40" y1="195.88" x2="593.20" y2="195.88" stroke="#000" stroke-width="0.8"/>
<text x="0" y="3.31" font-size="9.2" font-weight="bold" text-anchor="end" fill="#000" stroke="#000" stroke-width="0.3" transform="translate(591.00 180.90) scale(1.12 1)">10.0</text>
<line x1="591.40" y1="180.90" x2="593.20" y2="180.90" stroke="#000" stroke-width="0.8"/>
<text x="0" y="3.31" font-size="9.2" font-weight="bold" text-anchor="end" fill="#000" stroke="#000" stroke-width="0.3" transform="translate(591.00 165.93) scale(1.12 1)">12.5</text>
<line x1="591.40" y1="165.93" x2="593.20" y2="165.93" stroke="#000" stroke-width="0.8"/>
<text x="0" y="3.24" font-size="9.0" font-weight="bold" text-anchor="middle" fill="#000" stroke="#000" stroke-width="0.3" transform="translate(614.00 251.80) scale(1.14 1)">M3<tspan font-size="5.94" dy="-2.70">f/f</tspan></text>
<text x="0" y="3.24" font-size="9.0" font-weight="bold" text-anchor="middle" fill="#000" stroke="#000" stroke-width="0.3" transform="translate(653.00 251.80) scale(1.14 1)">M3<tspan font-size="5.94" dy="-2.70">d/d</tspan></text>
<text x="0" y="3.31" font-size="9.2" font-weight="bold" text-anchor="middle" fill="#000" stroke="#000" stroke-width="0.3" transform="translate(563.30 206.00) rotate(-90) scale(1.1 1)">Log<tspan font-size="5.6" dy="2.2">2</tspan><tspan dy="-2.2"> (TPM+1)</tspan></text>
<text x="0" y="0" font-size="15.0" font-weight="bold" fill="#000" stroke="#000" stroke-width="0.55" transform="translate(5.20 328.00) scale(1.076 1)">F</text>
<text x="0" y="0" font-size="15.0" font-weight="bold" fill="#000" stroke="#000" stroke-width="0.55" transform="translate(180.30 328.20) scale(1.100 1)">G</text>
<line x1="57.00" y1="345.60" x2="57.00" y2="440.60" stroke="#ececec" stroke-width="0.6"/>
<line x1="71.30" y1="345.60" x2="71.30" y2="440.60" stroke="#ececec" stroke-width="0.6"/>
<line x1="85.50" y1="345.60" x2="85.50" y2="440.60" stroke="#ececec" stroke-width="0.6"/>
<line x1="100.40" y1="345.60" x2="100.40" y2="440.60" stroke="#ececec" stroke-width="0.6"/>
<line x1="114.80" y1="345.60" x2="114.80" y2="440.60" stroke="#ececec" stroke-width="0.6"/>
<line x1="129.00" y1="345.60" x2="129.00" y2="440.60" stroke="#ececec" stroke-width="0.6"/>
<line x1="143.20" y1="345.60" x2="143.20" y2="440.60" stroke="#ececec" stroke-width="0.6"/>
<line x1="157.40" y1="345.60" x2="157.40" y2="440.60" stroke="#ececec" stroke-width="0.6"/>
<path d="M43.8 438.3 L43.8 416.8 L44.3 419.9 L44.8 422.6 L45.3 424.8 L45.8 426.8 L46.3 428.5 L46.8 429.9 L47.3 431.1 L47.8 432.1 L48.3 433.0 L48.8 433.8 L49.3 434.4 L49.8 435.0 L50.3 435.5 L50.8 435.9 L51.3 436.2 L51.8 436.5 L52.3 436.8 L52.8 437.0 L53.3 437.2 L53.8 437.4 L54.3 437.5 L54.8 437.6 L55.3 437.7 L55.8 437.8 L56.3 437.9 L56.8 437.9 L57.3 438.0 L57.8 438.0 L58.3 438.1 L58.8 438.1 L59.3 438.1 L59.8 438.2 L60.3 438.2 L60.8 438.2 L61.3 438.2 L61.8 438.2 L62.3 438.2 L62.8 438.2 L63.3 438.3 L63.8 438.3 L64.3 438.3 L64.8 438.3 L65.3 438.3 L65.8 438.3 L66.3 438.3 L66.8 438.3 L67.3 438.3 L67.8 438.3 L68.3 438.3 L68.8 438.3 L69.3 438.3 L69.8 438.3 L70.3 438.3 L70.8 438.3 L71.3 438.3 L71.8 438.3 L72.3 438.3 L72.8 438.3 L73.3 438.3 L73.8 438.3 L73.8 437.7 L165.8 438.6 L165.8 439.5 L43.8 439.5Z" fill="#e0e0e0"/>
<line x1="44.80" y1="438.30" x2="44.80" y2="416.80" stroke="#d0d0d0" stroke-width="0.5"/>
<line x1="46.00" y1="438.30" x2="46.00" y2="422.89" stroke="#d0d0d0" stroke-width="0.5"/>
<line x1="47.20" y1="438.30" x2="47.20" y2="427.26" stroke="#d0d0d0" stroke-width="0.5"/>
<line x1="48.40" y1="438.30" x2="48.40" y2="430.39" stroke="#d0d0d0" stroke-width="0.5"/>
<line x1="49.60" y1="438.30" x2="49.60" y2="432.63" stroke="#d0d0d0" stroke-width="0.5"/>
<line x1="50.80" y1="438.30" x2="50.80" y2="434.24" stroke="#d0d0d0" stroke-width="0.5"/>
<line x1="52.00" y1="438.30" x2="52.00" y2="435.39" stroke="#d0d0d0" stroke-width="0.5"/>
<line x1="53.20" y1="438.30" x2="53.20" y2="436.22" stroke="#d0d0d0" stroke-width="0.5"/>
<line x1="54.40" y1="438.30" x2="54.40" y2="436.81" stroke="#d0d0d0" stroke-width="0.5"/>
<line x1="55.60" y1="438.30" x2="55.60" y2="437.23" stroke="#d0d0d0" stroke-width="0.5"/>
<line x1="56.80" y1="438.30" x2="56.80" y2="437.53" stroke="#d0d0d0" stroke-width="0.5"/>
<line x1="58.00" y1="438.30" x2="58.00" y2="437.75" stroke="#d0d0d0" stroke-width="0.5"/>
<line x1="59.20" y1="438.30" x2="59.20" y2="437.91" stroke="#d0d0d0" stroke-width="0.5"/>
<line x1="60.40" y1="438.30" x2="60.40" y2="438.02" stroke="#d0d0d0" stroke-width="0.5"/>
<line x1="61.60" y1="438.30" x2="61.60" y2="438.10" stroke="#d0d0d0" stroke-width="0.5"/>
<line x1="62.80" y1="438.30" x2="62.80" y2="438.16" stroke="#d0d0d0" stroke-width="0.5"/>
<line x1="64.00" y1="438.30" x2="64.00" y2="438.20" stroke="#d0d0d0" stroke-width="0.5"/>
<line x1="65.20" y1="438.30" x2="65.20" y2="438.23" stroke="#d0d0d0" stroke-width="0.5"/>
<line x1="66.40" y1="438.30" x2="66.40" y2="438.25" stroke="#d0d0d0" stroke-width="0.5"/>
<line x1="67.60" y1="438.30" x2="67.60" y2="438.26" stroke="#d0d0d0" stroke-width="0.5"/>
<line x1="43.80" y1="440.60" x2="165.80" y2="440.60" stroke="#bbb" stroke-width="0.8"/>
<line x1="70.20" y1="396.20" x2="70.20" y2="407.60" stroke="#c8c8c8" stroke-width="0.8"/>
<line x1="71.20" y1="396.20" x2="71.20" y2="407.60" stroke="#c8c8c8" stroke-width="0.8"/>
<line x1="72.20" y1="396.20" x2="72.20" y2="407.60" stroke="#c8c8c8" stroke-width="0.8"/>
<line x1="77.40" y1="396.20" x2="77.40" y2="407.60" stroke="#999" stroke-width="0.8"/>
<line x1="82.10" y1="396.20" x2="82.10" y2="407.60" stroke="#999" stroke-width="0.8"/>
<line x1="94.60" y1="396.20" x2="94.60" y2="407.60" stroke="#999" stroke-width="0.8"/>
<line x1="110.20" y1="396.20" x2="110.20" y2="407.60" stroke="#999" stroke-width="0.8"/>
<line x1="119.80" y1="396.20" x2="119.80" y2="407.60" stroke="#aaa" stroke-width="0.8"/>
<line x1="120.60" y1="396.20" x2="120.60" y2="407.60" stroke="#aaa" stroke-width="0.8"/>
<line x1="121.40" y1="396.20" x2="121.40" y2="407.60" stroke="#aaa" stroke-width="0.8"/>
<line x1="122.20" y1="396.20" x2="122.20" y2="407.60" stroke="#aaa" stroke-width="0.8"/>
<line x1="132.60" y1="396.20" x2="132.60" y2="407.60" stroke="#aaa" stroke-width="0.8"/>
<line x1="142.50" y1="396.20" x2="142.50" y2="407.60" stroke="#999" stroke-width="0.8"/>
<line x1="155.70" y1="396.20" x2="155.70" y2="407.60" stroke="#aaa" stroke-width="0.8"/>
<line x1="157.60" y1="396.20" x2="157.60" y2="407.60" stroke="#999" stroke-width="0.8"/>
<line x1="159.50" y1="396.20" x2="159.50" y2="407.60" stroke="#999" stroke-width="0.8"/>
<line x1="161.40" y1="396.20" x2="161.40" y2="407.60" stroke="#999" stroke-width="0.8"/>
<line x1="163.00" y1="396.20" x2="163.00" y2="407.60" stroke="#999" stroke-width="0.8"/>
<line x1="164.70" y1="396.20" x2="164.70" y2="407.60" stroke="#999" stroke-width="0.8"/>
<rect x="43.80" y="407.90" width="4.90" height="5.40" fill="#d93a34"/>
<rect x="48.50" y="407.90" width="5.00" height="5.40" fill="#e8675a"/>
<rect x="53.30" y="407.90" width="23.90" height="5.40" fill="#eba48c"/>
<rect x="77.00" y="407.90" width="11.60" height="5.40" fill="#f6dbcf"/>
<rect x="88.40" y="407.90" width="26.80" height="5.40" fill="#c6e0ef"/>
<rect x="115.00" y="407.90" width="17.20" height="5.40" fill="#6cb0da"/>
<rect x="132.00" y="407.90" width="6.50" height="5.40" fill="#4b92cb"/>
<rect x="138.30" y="407.90" width="27.70" height="5.40" fill="#2e66b1"/>
<path d="M43.8 348.5 L71.3 369.4 L72.5 367.4 L81.7 374.2 L94.0 381.4 L94.6 379.0 L110.2 391.2 L110.7 386.4 L119.7 394.0 L121.0 380.0 L122.5 370.7 L132.6 378.9 L133.4 371.9 L142.5 379.8 L143.1 371.9 L155.7 382.7 L156.7 375.1 L158.6 373.8 L158.9 368.5 L160.5 368.1 L161.0 362.8 L162.4 362.4 L163.5 356.0 L165.2 348.0" fill="none" stroke="#a15ff0" stroke-width="0.9" stroke-linejoin="round"/>
<line x1="43.80" y1="345.60" x2="43.80" y2="440.60" stroke="#bbb" stroke-width="0.6"/>
<text x="0" y="2.59" font-size="7.2" font-weight="bold" text-anchor="end" fill="#000" stroke="#000" stroke-width="0.3" transform="translate(42.20 348.60) scale(1.1 1)">0.0</text>
<text x="0" y="2.59" font-size="7.2" font-weight="bold" text-anchor="end" fill="#000" stroke="#000" stroke-width="0.3" transform="translate(42.20 357.54) scale(1.1 1)">-0.1</text>
<text x="0" y="2.59" font-size="7.2" font-weight="bold" text-anchor="end" fill="#000" stroke="#000" stroke-width="0.3" transform="translate(42.20 366.48) scale(1.1 1)">-0.2</text>
<text x="0" y="2.59" font-size="7.2" font-weight="bold" text-anchor="end" fill="#000" stroke="#000" stroke-width="0.3" transform="translate(42.20 375.42) scale(1.1 1)">-0.3</text>
<text x="0" y="2.59" font-size="7.2" font-weight="bold" text-anchor="end" fill="#000" stroke="#000" stroke-width="0.3" transform="translate(42.20 384.36) scale(1.1 1)">-0.4</text>
<text x="0" y="2.59" font-size="7.2" font-weight="bold" text-anchor="end" fill="#000" stroke="#000" stroke-width="0.3" transform="translate(42.20 393.30) scale(1.1 1)">-0.5</text>
<text x="0" y="2.59" font-size="7.2" font-weight="bold" text-anchor="end" fill="#000" stroke="#000" stroke-width="0.3" transform="translate(42.20 416.80) scale(1.1 1)">6</text>
<text x="0" y="2.59" font-size="7.2" font-weight="bold" text-anchor="end" fill="#000" stroke="#000" stroke-width="0.3" transform="translate(42.20 438.30) scale(1.1 1)">0</text>
<text x="0" y="2.74" font-size="7.6" font-weight="bold" text-anchor="middle" fill="#000" stroke="#000" stroke-width="0.3" transform="translate(100.30 444.50) scale(1.1 1)">100</text>
<text x="0" y="2.74" font-size="7.6" font-weight="bold" text-anchor="middle" fill="#000" stroke="#000" stroke-width="0.3" transform="translate(154.80 444.50) scale(1.1 1)">200</text>
<text x="0" y="3.46" font-size="9.6" font-weight="bold" text-anchor="middle" fill="#000" stroke="#000" stroke-width="0.3" transform="translate(106.40 340.70) scale(1.02 1)">Epithelium development</text>
<text x="0" y="3.46" font-size="9.6" font-weight="bold" text-anchor="start" fill="#000" stroke="#000" stroke-width="0.3" transform="translate(107.40 358.40) scale(1.03 1)"><tspan font-style="italic">p</tspan> = 0.0185</text>
<text x="0" y="3.02" font-size="8.4" font-weight="bold" text-anchor="start" fill="#000" stroke="#000" stroke-width="0.3" transform="translate(57.10 418.70) scale(1.05 1)">M3<tspan font-size="5.54" dy="-2.52">f/f</tspan></text>
<text x="0" y="3.02" font-size="8.4" font-weight="bold" text-anchor="start" fill="#000" stroke="#000" stroke-width="0.3" transform="translate(138.70 432.60) scale(1.05 1)">M3<tspan font-size="5.54" dy="-2.52">d/d</tspan></text>
<text x="0" y="3.46" font-size="9.6" font-weight="bold" text-anchor="middle" fill="#000" stroke="#000" stroke-width="0.3" transform="translate(13.10 370.20) rotate(-90) scale(1.03 1)">Enrichment</text>
<text x="0" y="3.46" font-size="9.6" font-weight="bold" text-anchor="middle" fill="#000" stroke="#000" stroke-width="0.3" transform="translate(23.10 370.20) rotate(-90) scale(1.03 1)">Score</text>
<text x="0" y="3.46" font-size="9.6" font-weight="bold" text-anchor="middle" fill="#000" stroke="#000" stroke-width="0.3" transform="translate(13.10 424.30) rotate(-90)">Ranking</text>
<text x="0" y="3.46" font-size="9.6" font-weight="bold" text-anchor="middle" fill="#000" stroke="#000" stroke-width="0.3" transform="translate(23.10 424.80) rotate(-90)">metric</text>
<line x1="233.00" y1="346.10" x2="233.00" y2="438.70" stroke="#ececec" stroke-width="0.6"/>
<line x1="246.60" y1="346.10" x2="246.60" y2="438.70" stroke="#ececec" stroke-width="0.6"/>
<line x1="260.50" y1="346.10" x2="260.50" y2="438.70" stroke="#ececec" stroke-width="0.6"/>
<line x1="274.70" y1="346.10" x2="274.70" y2="438.70" stroke="#ececec" stroke-width="0.6"/>
<line x1="288.40" y1="346.10" x2="288.40" y2="438.70" stroke="#ececec" stroke-width="0.6"/>
<line x1="302.20" y1="346.10" x2="302.20" y2="438.70" stroke="#ececec" stroke-width="0.6"/>
<line x1="316.50" y1="346.10" x2="316.50" y2="438.70" stroke="#ececec" stroke-width="0.6"/>
<line x1="329.70" y1="346.10" x2="329.70" y2="438.70" stroke="#ececec" stroke-width="0.6"/>
<path d="M218.2 436.4 L218.2 417.4 L218.7 420.1 L219.2 422.5 L219.7 424.5 L220.2 426.2 L220.7 427.7 L221.2 429.0 L221.7 430.0 L222.2 431.0 L222.7 431.7 L223.2 432.4 L223.7 433.0 L224.2 433.5 L224.7 433.9 L225.2 434.3 L225.7 434.6 L226.2 434.8 L226.7 435.1 L227.2 435.3 L227.7 435.4 L228.2 435.6 L228.7 435.7 L229.2 435.8 L229.7 435.9 L230.2 436.0 L230.7 436.0 L231.2 436.1 L231.7 436.1 L232.2 436.2 L232.7 436.2 L233.2 436.2 L233.7 436.3 L234.2 436.3 L234.7 436.3 L235.2 436.3 L235.7 436.3 L236.2 436.3 L236.7 436.3 L237.2 436.3 L237.7 436.4 L238.2 436.4 L238.7 436.4 L239.2 436.4 L239.7 436.4 L240.2 436.4 L240.7 436.4 L241.2 436.4 L241.7 436.4 L242.2 436.4 L242.7 436.4 L243.2 436.4 L243.7 436.4 L244.2 436.4 L244.7 436.4 L245.2 436.4 L245.7 436.4 L246.2 436.4 L246.7 436.4 L247.2 436.4 L247.7 436.4 L248.2 436.4 L248.2 435.8 L339.6 436.7 L339.6 437.6 L218.2 437.6Z" fill="#e0e0e0"/>
<line x1="219.20" y1="436.40" x2="219.20" y2="417.40" stroke="#d0d0d0" stroke-width="0.5"/>
<line x1="220.40" y1="436.40" x2="220.40" y2="422.79" stroke="#d0d0d0" stroke-width="0.5"/>
<line x1="221.60" y1="436.40" x2="221.60" y2="426.65" stroke="#d0d0d0" stroke-width="0.5"/>
<line x1="222.80" y1="436.40" x2="222.80" y2="429.41" stroke="#d0d0d0" stroke-width="0.5"/>
<line x1="224.00" y1="436.40" x2="224.00" y2="431.39" stroke="#d0d0d0" stroke-width="0.5"/>
<line x1="225.20" y1="436.40" x2="225.20" y2="432.81" stroke="#d0d0d0" stroke-width="0.5"/>
<line x1="226.40" y1="436.40" x2="226.40" y2="433.83" stroke="#d0d0d0" stroke-width="0.5"/>
<line x1="227.60" y1="436.40" x2="227.60" y2="434.56" stroke="#d0d0d0" stroke-width="0.5"/>
<line x1="228.80" y1="436.40" x2="228.80" y2="435.08" stroke="#d0d0d0" stroke-width="0.5"/>
<line x1="230.00" y1="436.40" x2="230.00" y2="435.45" stroke="#d0d0d0" stroke-width="0.5"/>
<line x1="231.20" y1="436.40" x2="231.20" y2="435.72" stroke="#d0d0d0" stroke-width="0.5"/>
<line x1="232.40" y1="436.40" x2="232.40" y2="435.91" stroke="#d0d0d0" stroke-width="0.5"/>
<line x1="233.60" y1="436.40" x2="233.60" y2="436.05" stroke="#d0d0d0" stroke-width="0.5"/>
<line x1="234.80" y1="436.40" x2="234.80" y2="436.15" stroke="#d0d0d0" stroke-width="0.5"/>
<line x1="236.00" y1="436.40" x2="236.00" y2="436.22" stroke="#d0d0d0" stroke-width="0.5"/>
<line x1="237.20" y1="436.40" x2="237.20" y2="436.27" stroke="#d0d0d0" stroke-width="0.5"/>
<line x1="238.40" y1="436.40" x2="238.40" y2="436.31" stroke="#d0d0d0" stroke-width="0.5"/>
<line x1="239.60" y1="436.40" x2="239.60" y2="436.33" stroke="#d0d0d0" stroke-width="0.5"/>
<line x1="240.80" y1="436.40" x2="240.80" y2="436.35" stroke="#d0d0d0" stroke-width="0.5"/>
<line x1="242.00" y1="436.40" x2="242.00" y2="436.37" stroke="#d0d0d0" stroke-width="0.5"/>
<line x1="218.20" y1="438.70" x2="339.60" y2="438.70" stroke="#bbb" stroke-width="0.8"/>
<line x1="245.90" y1="396.20" x2="245.90" y2="407.60" stroke="#666" stroke-width="0.8"/>
<line x1="256.70" y1="396.20" x2="256.70" y2="407.60" stroke="#666" stroke-width="0.8"/>
<line x1="265.60" y1="396.20" x2="265.60" y2="407.60" stroke="#666" stroke-width="0.8"/>
<line x1="267.10" y1="396.20" x2="267.10" y2="407.60" stroke="#666" stroke-width="0.8"/>
<line x1="269.00" y1="396.20" x2="269.00" y2="407.60" stroke="#666" stroke-width="0.8"/>
<line x1="284.60" y1="396.20" x2="284.60" y2="407.60" stroke="#666" stroke-width="0.8"/>
<line x1="288.40" y1="396.20" x2="288.40" y2="407.60" stroke="#666" stroke-width="0.8"/>
<line x1="293.70" y1="396.20" x2="293.70" y2="407.60" stroke="#666" stroke-width="0.8"/>
<line x1="294.60" y1="396.20" x2="294.60" y2="407.60" stroke="#666" stroke-width="0.8"/>
<line x1="296.00" y1="396.20" x2="296.00" y2="407.60" stroke="#666" stroke-width="0.8"/>
<line x1="306.60" y1="396.20" x2="306.60" y2="407.60" stroke="#666" stroke-width="0.8"/>
<line x1="316.50" y1="396.20" x2="316.50" y2="407.60" stroke="#666" stroke-width="0.8"/>
<line x1="322.50" y1="396.20" x2="322.50" y2="407.60" stroke="#666" stroke-width="0.8"/>
<line x1="329.40" y1="396.20" x2="329.40" y2="407.60" stroke="#666" stroke-width="0.8"/>
<line x1="332.00" y1="396.20" x2="332.00" y2="407.60" stroke="#666" stroke-width="0.8"/>
<line x1="333.20" y1="396.20" x2="333.20" y2="407.60" stroke="#666" stroke-width="0.8"/>
<line x1="334.50" y1="396.20" x2="334.50" y2="407.60" stroke="#666" stroke-width="0.8"/>
<line x1="335.80" y1="396.20" x2="335.80" y2="407.60" stroke="#666" stroke-width="0.8"/>
<line x1="337.00" y1="396.20" x2="337.00" y2="407.60" stroke="#666" stroke-width="0.8"/>
<rect x="218.20" y="407.90" width="4.00" height="5.40" fill="#cc2a2a"/>
<rect x="222.00" y="407.90" width="4.50" height="5.40" fill="#e05248"/>
<rect x="226.30" y="407.90" width="8.80" height="5.40" fill="#e9917f"/>
<rect x="234.90" y="407.90" width="26.70" height="5.40" fill="#f6ded3"/>
<rect x="261.40" y="407.90" width="3.10" height="5.40" fill="#eef4f8"/>
<rect x="264.30" y="407.90" width="8.70" height="5.40" fill="#b9d8ec"/>
<rect x="272.80" y="407.90" width="19.20" height="5.40" fill="#7bb9dd"/>
<rect x="291.80" y="407.90" width="20.70" height="5.40" fill="#4b8dc8"/>
<rect x="312.30" y="407.90" width="27.50" height="5.40" fill="#2f63ae"/>
<path d="M218.2 349.5 L245.3 371.3 L246.5 369.7 L256.7 378.0 L264.9 384.6 L269.0 380.2 L284.2 393.7 L285.2 389.7 L287.0 392.5 L288.4 388.4 L293.3 392.2 L294.6 380.8 L296.0 376.0 L306.6 383.6 L307.4 379.5 L316.1 385.9 L316.8 380.8 L322.2 385.2 L323.1 380.2 L329.7 385.5 L330.7 379.8 L332.0 380.8 L333.5 368.5 L335.4 356.1 L337.0 347.6 L339.2 349.1" fill="none" stroke="#a15ff0" stroke-width="0.9" stroke-linejoin="round"/>
<line x1="218.20" y1="346.10" x2="218.20" y2="438.70" stroke="#bbb" stroke-width="0.6"/>
<text x="0" y="2.59" font-size="7.2" font-weight="bold" text-anchor="end" fill="#000" stroke="#000" stroke-width="0.3" transform="translate(217.40 349.10) scale(1.1 1)">0.0</text>
<text x="0" y="2.59" font-size="7.2" font-weight="bold" text-anchor="end" fill="#000" stroke="#000" stroke-width="0.3" transform="translate(217.40 358.30) scale(1.1 1)">-0.1</text>
<text x="0" y="2.59" font-size="7.2" font-weight="bold" text-anchor="end" fill="#000" stroke="#000" stroke-width="0.3" transform="translate(217.40 367.50) scale(1.1 1)">-0.2</text>
<text x="0" y="2.59" font-size="7.2" font-weight="bold" text-anchor="end" fill="#000" stroke="#000" stroke-width="0.3" transform="translate(217.40 376.70) scale(1.1 1)">-0.3</text>
<text x="0" y="2.59" font-size="7.2" font-weight="bold" text-anchor="end" fill="#000" stroke="#000" stroke-width="0.3" transform="translate(217.40 385.90) scale(1.1 1)">-0.4</text>
<text x="0" y="2.59" font-size="7.2" font-weight="bold" text-anchor="end" fill="#000" stroke="#000" stroke-width="0.3" transform="translate(217.40 395.10) scale(1.1 1)">-0.5</text>
<text x="0" y="2.59" font-size="7.2" font-weight="bold" text-anchor="end" fill="#000" stroke="#000" stroke-width="0.3" transform="translate(217.40 417.40) scale(1.1 1)">6</text>
<text x="0" y="2.59" font-size="7.2" font-weight="bold" text-anchor="end" fill="#000" stroke="#000" stroke-width="0.3" transform="translate(217.40 436.40) scale(1.1 1)">0</text>
<text x="0" y="2.74" font-size="7.6" font-weight="bold" text-anchor="middle" fill="#000" stroke="#000" stroke-width="0.3" transform="translate(274.70 444.50) scale(1.1 1)">100</text>
<text x="0" y="2.74" font-size="7.6" font-weight="bold" text-anchor="middle" fill="#000" stroke="#000" stroke-width="0.3" transform="translate(328.80 444.50) scale(1.1 1)">200</text>
<text x="0" y="3.46" font-size="9.6" font-weight="bold" text-anchor="middle" fill="#000" stroke="#000" stroke-width="0.3" transform="translate(281.00 340.20) scale(1.02 1)">Organ morphogenesis</text>
<text x="0" y="3.46" font-size="9.6" font-weight="bold" text-anchor="start" fill="#000" stroke="#000" stroke-width="0.3" transform="translate(282.00 353.70) scale(1.03 1)"><tspan font-style="italic">p</tspan> = 0.0133</text>
<text x="0" y="3.02" font-size="8.4" font-weight="bold" text-anchor="start" fill="#000" stroke="#000" stroke-width="0.3" transform="translate(228.80 418.70) scale(1.05 1)">M3<tspan font-size="5.54" dy="-2.52">f/f</tspan></text>
<text x="0" y="3.02" font-size="8.4" font-weight="bold" text-anchor="start" fill="#000" stroke="#000" stroke-width="0.3" transform="translate(318.00 432.60) scale(1.05 1)">M3<tspan font-size="5.54" dy="-2.52">d/d</tspan></text>
<text x="0" y="3.46" font-size="9.6" font-weight="bold" text-anchor="middle" fill="#000" stroke="#000" stroke-width="0.3" transform="translate(187.00 370.20) rotate(-90) scale(1.03 1)">Enrichment</text>
<text x="0" y="3.46" font-size="9.6" font-weight="bold" text-anchor="middle" fill="#000" stroke="#000" stroke-width="0.3" transform="translate(197.00 370.20) rotate(-90) scale(1.03 1)">Score</text>
<text x="0" y="3.46" font-size="9.6" font-weight="bold" text-anchor="middle" fill="#000" stroke="#000" stroke-width="0.3" transform="translate(187.00 424.30) rotate(-90)">Ranking</text>
<text x="0" y="3.46" font-size="9.6" font-weight="bold" text-anchor="middle" fill="#000" stroke="#000" stroke-width="0.3" transform="translate(197.00 424.80) rotate(-90)">metric</text>
<line x1="84.10" y1="455.00" x2="294.30" y2="455.00" stroke="#555" stroke-width="1.3"/>
<text x="0" y="3.53" font-size="9.8" font-weight="bold" text-anchor="middle" fill="#000" stroke="#000" stroke-width="0.3" transform="translate(197.60 467.10) scale(1.02 1)">Rank in Ordered Dataset</text>
<text x="0" y="0" font-size="15.0" font-weight="bold" fill="#000" stroke="#000" stroke-width="0.55" transform="translate(373.00 289.10) scale(1.150 1)">H</text>
<text x="0" y="0" font-size="15.0" font-weight="bold" fill="#000" stroke="#000" stroke-width="0.55" transform="translate(533.00 288.80) scale(1.150 1)">I</text>
<text x="0" y="3.24" font-size="9.0" font-weight="bold" text-anchor="middle" fill="#000" stroke="#000" stroke-width="0.3" transform="translate(468.70 296.80) scale(1.12 1)">Chr6: 52,231-52,235kb</text>
<text x="0" y="3.24" font-size="9.0" font-weight="bold" text-anchor="middle" fill="#000" stroke="#000" stroke-width="0.3" transform="translate(612.30 296.80) scale(1.12 1)">Chr2: 13,578-13,580kb</text>
<path d="M411.8 323.2 L411.8 322.8 L412.5 322.5 L413.2 322.4 L413.9 322.4 L414.6 322.5 L415.3 322.7 L416.0 322.7 L416.7 322.3 L417.4 322.4 L418.1 322.7 L418.8 322.6 L419.5 322.5 L420.2 322.6 L420.9 322.7 L421.6 322.3 L422.3 322.7 L423.0 322.4 L423.7 322.5 L424.4 322.5 L425.1 322.3 L425.8 322.4 L426.5 322.3 L427.2 322.7 L427.9 322.3 L428.6 322.3 L429.3 322.7 L430.0 322.6 L430.7 322.3 L431.4 322.3 L432.1 322.4 L432.8 322.2 L433.5 322.6 L434.2 322.5 L434.9 322.2 L435.6 322.3 L436.3 322.2 L437.0 321.3 L437.7 320.6 L438.4 319.8 L439.1 319.6 L439.8 319.2 L440.5 318.5 L441.2 318.1 L441.9 317.8 L442.6 317.4 L443.3 317.5 L444.0 317.2 L444.7 317.2 L445.4 316.9 L446.1 316.8 L446.8 317.0 L447.5 317.1 L448.2 317.2 L448.9 317.3 L449.6 317.3 L450.3 316.7 L451.0 315.6 L451.7 314.8 L452.4 313.5 L453.1 311.9 L453.8 310.0 L454.5 309.7 L455.2 310.0 L455.9 310.1 L456.6 310.6 L457.3 311.1 L458.0 311.7 L458.7 312.2 L459.4 312.6 L460.1 313.7 L460.8 315.2 L461.5 317.2 L462.2 318.5 L462.9 318.7 L463.6 319.1 L464.3 319.4 L465.0 320.2 L465.7 320.6 L466.4 321.0 L467.1 321.2 L467.8 321.5 L468.5 321.8 L469.2 321.9 L469.9 321.9 L470.6 322.0 L471.3 321.8 L472.0 322.0 L472.7 322.2 L473.4 322.2 L474.1 322.0 L474.8 321.8 L475.5 322.0 L476.2 322.2 L476.9 322.2 L477.6 322.1 L478.3 322.2 L479.0 322.2 L479.7 322.3 L480.4 322.4 L481.1 322.0 L481.8 321.9 L482.5 322.0 L483.2 322.3 L483.9 322.1 L484.6 322.4 L485.3 322.4 L486.0 322.5 L486.7 322.3 L487.4 322.1 L488.1 322.3 L488.8 322.4 L489.5 322.3 L490.2 322.3 L490.9 322.5 L491.6 322.4 L492.3 322.1 L493.0 322.4 L493.7 322.1 L494.4 322.3 L495.1 322.6 L495.8 322.2 L496.5 322.1 L497.2 321.8 L497.9 321.6 L498.6 321.3 L499.3 321.6 L500.0 321.5 L500.7 321.7 L501.4 321.6 L502.1 321.3 L502.8 321.5 L503.5 321.8 L504.2 321.9 L504.9 322.2 L505.6 322.4 L506.3 322.7 L507.0 322.7 L507.7 322.5 L508.4 322.3 L509.1 322.4 L509.8 322.5 L510.5 322.6 L511.2 322.5 L511.9 322.7 L512.6 322.5 L513.3 322.3 L514.0 322.2 L514.7 322.6 L515.4 322.6 L516.1 322.3 L516.8 321.8 L517.5 321.2 L518.2 321.1 L518.9 320.7 L519.6 320.3 L520.3 320.1 L521.0 320.4 L521.7 320.1 L522.4 319.8 L523.1 319.9 L523.8 319.9 L524.5 320.0 L525.2 319.8 L525.9 320.1 L526.6 320.2 L527.3 320.3 L528.0 320.4 L528.7 320.7 L529.4 320.8 L530.1 320.6 L530.8 321.1 L531.5 320.9 L532.2 321.1 L532.9 321.2 L533.6 321.4 L534.3 321.2 L534.4 323.2Z" fill="#6dd0ae"/>
<line x1="411.80" y1="323.80" x2="534.40" y2="323.80" stroke="#a8a8a8" stroke-width="1.2"/>
<path d="M546.8 323.2 L546.8 322.8 L547.5 322.4 L548.2 322.0 L548.9 321.2 L549.6 320.8 L550.3 320.8 L551.0 320.4 L551.7 320.0 L552.4 319.7 L553.1 319.2 L553.8 318.6 L554.5 318.3 L555.2 318.1 L555.9 317.5 L556.6 317.6 L557.3 317.4 L558.0 317.2 L558.7 316.8 L559.4 316.6 L560.1 316.6 L560.8 316.2 L561.5 315.7 L562.2 315.6 L562.9 315.8 L563.6 315.7 L564.3 315.9 L565.0 316.0 L565.7 315.9 L566.4 316.2 L567.1 316.0 L567.8 316.1 L568.5 316.2 L569.2 316.2 L569.9 316.4 L570.6 316.0 L571.3 316.2 L572.0 316.0 L572.7 316.1 L573.4 315.7 L574.1 315.9 L574.8 315.4 L575.5 315.7 L576.2 315.2 L576.9 315.4 L577.6 314.9 L578.3 315.1 L579.0 315.1 L579.7 314.7 L580.4 314.8 L581.1 314.4 L581.8 314.4 L582.5 314.6 L583.2 314.6 L583.9 314.9 L584.6 315.0 L585.3 315.3 L586.0 315.3 L586.7 315.9 L587.4 316.4 L588.1 316.8 L588.8 317.3 L589.5 317.8 L590.2 318.3 L590.9 318.8 L591.6 319.3 L592.3 319.9 L593.0 320.0 L593.7 320.7 L594.4 321.0 L595.1 321.4 L595.8 321.3 L596.5 321.4 L597.2 321.6 L597.9 321.4 L598.6 321.5 L599.3 321.4 L600.0 321.4 L600.7 321.6 L601.4 321.7 L602.1 321.6 L602.8 321.3 L603.5 321.6 L604.2 321.6 L604.9 321.8 L605.6 321.6 L606.3 321.3 L607.0 321.5 L607.7 321.4 L608.4 321.3 L609.1 321.3 L609.8 321.4 L610.5 321.5 L611.2 321.6 L611.9 321.2 L612.6 321.3 L613.3 321.3 L614.0 321.7 L614.7 321.4 L615.4 321.3 L616.1 321.6 L616.8 321.5 L617.5 321.4 L618.2 321.5 L618.9 321.6 L619.6 321.6 L620.3 321.4 L621.0 321.6 L621.7 321.2 L622.4 321.4 L623.1 321.4 L623.8 321.4 L624.5 321.4 L625.2 321.2 L625.9 321.1 L626.6 321.3 L627.3 321.1 L628.0 321.2 L628.7 321.0 L629.4 321.1 L630.1 321.0 L630.8 321.4 L631.5 321.2 L632.2 321.3 L632.9 320.9 L633.6 321.2 L634.3 320.8 L635.0 321.1 L635.7 321.2 L636.4 320.9 L637.1 321.1 L637.8 321.0 L638.5 320.9 L639.2 320.7 L639.9 320.7 L640.6 320.6 L641.3 314.5 L642.0 311.9 L642.7 312.0 L643.4 312.0 L644.1 311.9 L644.8 311.9 L645.5 311.5 L646.2 311.6 L646.9 311.4 L647.6 311.3 L648.3 311.3 L649.0 311.2 L649.7 311.4 L650.4 311.2 L651.1 311.1 L651.8 311.3 L652.5 311.1 L653.2 311.4 L653.9 311.4 L654.6 311.1 L655.3 311.2 L656.0 311.0 L656.7 316.8 L657.4 319.4 L658.1 319.6 L658.8 319.3 L659.5 319.7 L660.2 319.9 L660.9 319.8 L661.6 319.8 L662.3 320.0 L663.0 320.3 L663.7 320.0 L664.4 320.0 L665.1 320.3 L665.8 320.0 L666.5 320.2 L667.2 320.2 L667.9 320.5 L668.6 320.5 L669.3 323.2 L669.3 323.2Z" fill="#6dd0ae"/>
<line x1="546.80" y1="323.80" x2="669.30" y2="323.80" stroke="#a8a8a8" stroke-width="1.2"/>
<line x1="411.60" y1="310.60" x2="411.60" y2="323.20" stroke="#222" stroke-width="0.9"/>
<line x1="409.80" y1="310.60" x2="411.60" y2="310.60" stroke="#222" stroke-width="0.9"/>
<line x1="409.80" y1="323.20" x2="411.60" y2="323.20" stroke="#222" stroke-width="0.9"/>
<text x="0" y="3.17" font-size="8.8" font-weight="bold" text-anchor="end" fill="#000" stroke="#000" stroke-width="0.3" transform="translate(409.60 310.90) scale(1.14 1)">500</text>
<text x="0" y="3.17" font-size="8.8" font-weight="bold" text-anchor="end" fill="#000" stroke="#000" stroke-width="0.3" transform="translate(409.60 322.70) scale(1.14 1)">0</text>
<path d="M411.8 343.1 L411.8 342.6 L412.5 342.6 L413.2 342.6 L413.9 342.9 L414.6 342.5 L415.3 342.9 L416.0 342.8 L416.7 342.8 L417.4 342.7 L418.1 342.9 L418.8 342.7 L419.5 342.8 L420.2 342.7 L420.9 342.7 L421.6 342.8 L422.3 342.5 L423.0 342.9 L423.7 342.8 L424.4 342.4 L425.1 342.7 L425.8 342.4 L426.5 342.7 L427.2 342.6 L427.9 342.6 L428.6 342.6 L429.3 342.3 L430.0 342.6 L430.7 342.4 L431.4 342.6 L432.1 342.6 L432.8 342.4 L433.5 342.3 L434.2 342.8 L434.9 342.5 L435.6 342.4 L436.3 342.5 L437.0 342.6 L437.7 342.4 L438.4 342.7 L439.1 342.5 L439.8 342.7 L440.5 342.3 L441.2 342.3 L441.9 342.4 L442.6 342.2 L443.3 342.2 L444.0 342.1 L444.7 342.3 L445.4 342.0 L446.1 342.0 L446.8 341.7 L447.5 342.1 L448.2 341.9 L448.9 341.7 L449.6 341.9 L450.3 341.6 L451.0 341.5 L451.7 341.8 L452.4 340.6 L453.1 339.2 L453.8 337.7 L454.5 336.6 L455.2 335.6 L455.9 334.9 L456.6 335.3 L457.3 335.5 L458.0 335.9 L458.7 336.6 L459.4 337.0 L460.1 338.1 L460.8 338.9 L461.5 339.8 L462.2 340.8 L462.9 341.0 L463.6 341.1 L464.3 341.7 L465.0 341.8 L465.7 342.0 L466.4 342.1 L467.1 342.1 L467.8 341.9 L468.5 342.3 L469.2 342.0 L469.9 342.2 L470.6 342.3 L471.3 342.1 L472.0 342.3 L472.7 342.2 L473.4 342.3 L474.1 342.2 L474.8 342.3 L475.5 341.9 L476.2 342.3 L476.9 342.2 L477.6 342.1 L478.3 342.1 L479.0 342.4 L479.7 342.0 L480.4 342.2 L481.1 342.4 L481.8 342.2 L482.5 342.1 L483.2 342.3 L483.9 342.1 L484.6 342.3 L485.3 342.1 L486.0 342.0 L486.7 342.1 L487.4 342.4 L488.1 342.3 L488.8 342.2 L489.5 342.3 L490.2 342.4 L490.9 342.2 L491.6 342.4 L492.3 342.4 L493.0 342.3 L493.7 342.0 L494.4 342.3 L495.1 342.0 L495.8 342.2 L496.5 342.2 L497.2 342.1 L497.9 342.2 L498.6 342.2 L499.3 342.3 L500.0 342.2 L500.7 342.1 L501.4 342.6 L502.1 342.1 L502.8 342.5 L503.5 342.2 L504.2 342.5 L504.9 342.2 L505.6 342.4 L506.3 342.5 L507.0 342.2 L507.7 342.5 L508.4 342.1 L509.1 342.4 L509.8 342.3 L510.5 342.4 L511.2 342.2 L511.9 342.4 L512.6 342.4 L513.3 342.5 L514.0 342.5 L514.7 342.6 L515.4 342.5 L516.1 342.5 L516.8 342.3 L517.5 342.6 L518.2 342.6 L518.9 342.2 L519.6 342.3 L520.3 342.6 L521.0 342.2 L521.7 342.3 L522.4 342.4 L523.1 342.2 L523.8 342.4 L524.5 342.6 L525.2 342.7 L525.9 342.7 L526.6 342.5 L527.3 342.4 L528.0 342.3 L528.7 342.7 L529.4 342.7 L530.1 342.7 L530.8 342.5 L531.5 342.3 L532.2 342.3 L532.9 342.7 L533.6 342.4 L534.3 342.7 L534.4 343.1Z" fill="#6dd0ae"/>
<line x1="411.80" y1="343.70" x2="534.40" y2="343.70" stroke="#a8a8a8" stroke-width="1.2"/>
<path d="M546.8 343.1 L546.8 342.7 L547.5 342.1 L548.2 341.6 L548.9 341.1 L549.6 340.6 L550.3 340.0 L551.0 339.4 L551.7 338.9 L552.4 338.4 L553.1 338.1 L553.8 337.8 L554.5 337.1 L555.2 336.7 L555.9 336.3 L556.6 336.0 L557.3 335.5 L558.0 335.5 L558.7 335.2 L559.4 335.3 L560.1 334.8 L560.8 334.6 L561.5 334.3 L562.2 334.2 L562.9 334.6 L563.6 334.2 L564.3 334.7 L565.0 334.4 L565.7 334.6 L566.4 334.4 L567.1 334.5 L567.8 334.6 L568.5 335.0 L569.2 334.8 L569.9 335.1 L570.6 335.0 L571.3 335.2 L572.0 335.2 L572.7 335.0 L573.4 334.4 L574.1 334.3 L574.8 333.8 L575.5 333.2 L576.2 333.1 L576.9 332.6 L577.6 332.1 L578.3 331.8 L579.0 331.2 L579.7 330.7 L580.4 330.5 L581.1 330.1 L581.8 329.2 L582.5 328.7 L583.2 328.8 L583.9 328.9 L584.6 329.8 L585.3 330.1 L586.0 330.2 L586.7 331.0 L587.4 331.1 L588.1 331.8 L588.8 332.3 L589.5 333.4 L590.2 334.0 L590.9 334.7 L591.6 335.5 L592.3 336.1 L593.0 337.2 L593.7 337.7 L594.4 338.2 L595.1 338.9 L595.8 339.6 L596.5 339.8 L597.2 340.5 L597.9 341.1 L598.6 341.0 L599.3 341.0 L600.0 340.9 L600.7 341.1 L601.4 341.3 L602.1 341.3 L602.8 341.1 L603.5 341.3 L604.2 341.0 L604.9 341.3 L605.6 341.0 L606.3 341.3 L607.0 341.0 L607.7 341.2 L608.4 340.9 L609.1 341.1 L609.8 341.1 L610.5 340.9 L611.2 341.2 L611.9 340.9 L612.6 341.2 L613.3 341.3 L614.0 341.2 L614.7 341.2 L615.4 341.1 L616.1 341.3 L616.8 340.9 L617.5 341.0 L618.2 341.0 L618.9 340.9 L619.6 341.3 L620.3 341.0 L621.0 340.9 L621.7 341.2 L622.4 341.1 L623.1 341.2 L623.8 340.8 L624.5 341.0 L625.2 340.8 L625.9 341.1 L626.6 340.9 L627.3 340.8 L628.0 341.0 L628.7 341.0 L629.4 341.1 L630.1 340.8 L630.8 340.9 L631.5 341.0 L632.2 340.9 L632.9 340.9 L633.6 341.0 L634.3 340.7 L635.0 340.9 L635.7 340.9 L636.4 340.8 L637.1 340.5 L637.8 340.6 L638.5 340.7 L639.2 340.2 L639.9 339.9 L640.6 333.0 L641.3 327.9 L642.0 327.7 L642.7 327.6 L643.4 327.2 L644.1 327.1 L644.8 326.9 L645.5 326.6 L646.2 326.6 L646.9 326.6 L647.6 326.5 L648.3 326.0 L649.0 326.1 L649.7 325.9 L650.4 325.9 L651.1 326.2 L651.8 326.3 L652.5 326.1 L653.2 326.3 L653.9 326.3 L654.6 326.3 L655.3 326.1 L656.0 325.9 L656.7 334.6 L657.4 338.1 L658.1 338.3 L658.8 338.5 L659.5 338.8 L660.2 338.9 L660.9 339.1 L661.6 339.4 L662.3 339.7 L663.0 339.6 L663.7 339.6 L664.4 339.9 L665.1 339.9 L665.8 340.1 L666.5 339.9 L667.2 340.1 L667.9 340.0 L668.6 340.2 L669.3 343.1 L669.3 343.1Z" fill="#6dd0ae"/>
<line x1="546.80" y1="343.70" x2="669.30" y2="343.70" stroke="#a8a8a8" stroke-width="1.2"/>
<line x1="411.60" y1="330.75" x2="411.60" y2="343.35" stroke="#222" stroke-width="0.9"/>
<line x1="409.80" y1="330.75" x2="411.60" y2="330.75" stroke="#222" stroke-width="0.9"/>
<line x1="409.80" y1="343.35" x2="411.60" y2="343.35" stroke="#222" stroke-width="0.9"/>
<text x="0" y="3.17" font-size="8.8" font-weight="bold" text-anchor="end" fill="#000" stroke="#000" stroke-width="0.3" transform="translate(409.60 331.05) scale(1.14 1)">500</text>
<text x="0" y="3.17" font-size="8.8" font-weight="bold" text-anchor="end" fill="#000" stroke="#000" stroke-width="0.3" transform="translate(409.60 342.85) scale(1.14 1)">0</text>
<path d="M411.8 363.0 L411.8 362.3 L412.5 362.6 L413.2 362.2 L413.9 362.3 L414.6 362.4 L415.3 362.5 L416.0 362.4 L416.7 362.3 L417.4 362.6 L418.1 362.4 L418.8 362.5 L419.5 362.5 L420.2 362.5 L420.9 362.2 L421.6 362.1 L422.3 362.4 L423.0 362.5 L423.7 362.5 L424.4 362.4 L425.1 362.3 L425.8 362.1 L426.5 362.2 L427.2 362.3 L427.9 362.2 L428.6 362.4 L429.3 362.3 L430.0 362.2 L430.7 362.2 L431.4 361.9 L432.1 361.6 L432.8 361.4 L433.5 361.4 L434.2 361.3 L434.9 360.8 L435.6 360.8 L436.3 360.7 L437.0 360.0 L437.7 360.0 L438.4 359.6 L439.1 359.5 L439.8 358.9 L440.5 358.4 L441.2 358.1 L441.9 358.0 L442.6 357.5 L443.3 357.3 L444.0 357.5 L444.7 357.6 L445.4 358.0 L446.1 358.1 L446.8 358.4 L447.5 358.4 L448.2 358.7 L448.9 358.7 L449.6 358.9 L450.3 358.6 L451.0 359.0 L451.7 359.0 L452.4 358.9 L453.1 359.0 L453.8 358.5 L454.5 358.2 L455.2 358.3 L455.9 358.0 L456.6 357.9 L457.3 358.1 L458.0 358.2 L458.7 358.2 L459.4 358.2 L460.1 358.4 L460.8 358.3 L461.5 358.3 L462.2 358.4 L462.9 358.8 L463.6 359.1 L464.3 359.2 L465.0 359.4 L465.7 359.4 L466.4 359.8 L467.1 359.9 L467.8 360.1 L468.5 360.2 L469.2 360.7 L469.9 360.8 L470.6 361.5 L471.3 361.7 L472.0 361.9 L472.7 361.8 L473.4 362.1 L474.1 361.8 L474.8 361.8 L475.5 362.0 L476.2 362.1 L476.9 362.2 L477.6 362.0 L478.3 362.3 L479.0 362.0 L479.7 362.2 L480.4 362.2 L481.1 362.0 L481.8 362.2 L482.5 362.3 L483.2 362.3 L483.9 362.0 L484.6 362.2 L485.3 362.0 L486.0 362.1 L486.7 362.4 L487.4 362.2 L488.1 362.1 L488.8 362.3 L489.5 362.4 L490.2 361.9 L490.9 362.3 L491.6 362.1 L492.3 362.2 L493.0 362.0 L493.7 362.4 L494.4 362.5 L495.1 362.2 L495.8 362.2 L496.5 362.1 L497.2 362.5 L497.9 362.4 L498.6 362.3 L499.3 362.4 L500.0 362.5 L500.7 362.4 L501.4 362.4 L502.1 362.2 L502.8 362.3 L503.5 362.3 L504.2 362.2 L504.9 361.8 L505.6 361.8 L506.3 361.9 L507.0 361.6 L507.7 361.9 L508.4 361.7 L509.1 361.4 L509.8 361.7 L510.5 361.7 L511.2 361.6 L511.9 361.7 L512.6 361.8 L513.3 361.5 L514.0 361.6 L514.7 361.7 L515.4 361.8 L516.1 361.8 L516.8 361.8 L517.5 361.8 L518.2 362.0 L518.9 361.8 L519.6 362.0 L520.3 362.1 L521.0 362.0 L521.7 361.9 L522.4 362.0 L523.1 362.1 L523.8 362.0 L524.5 362.0 L525.2 362.2 L525.9 361.9 L526.6 362.1 L527.3 362.1 L528.0 362.1 L528.7 362.0 L529.4 362.3 L530.1 362.3 L530.8 362.2 L531.5 362.4 L532.2 362.2 L532.9 362.4 L533.6 362.3 L534.3 362.3 L534.4 363.0Z" fill="#a0a0a0"/>
<line x1="411.80" y1="363.60" x2="534.40" y2="363.60" stroke="#a8a8a8" stroke-width="1.2"/>
<path d="M546.8 363.0 L546.8 362.4 L547.5 362.3 L548.2 362.3 L548.9 361.9 L549.6 361.7 L550.3 361.8 L551.0 361.3 L551.7 361.0 L552.4 360.7 L553.1 360.4 L553.8 360.6 L554.5 360.2 L555.2 360.0 L555.9 359.7 L556.6 359.3 L557.3 359.3 L558.0 359.0 L558.7 358.8 L559.4 358.7 L560.1 358.8 L560.8 358.8 L561.5 359.0 L562.2 358.8 L562.9 358.8 L563.6 358.5 L564.3 358.5 L565.0 358.7 L565.7 358.5 L566.4 358.3 L567.1 358.3 L567.8 358.4 L568.5 358.4 L569.2 358.3 L569.9 358.3 L570.6 358.0 L571.3 358.0 L572.0 357.9 L572.7 357.8 L573.4 358.2 L574.1 357.8 L574.8 357.9 L575.5 357.9 L576.2 357.6 L576.9 357.6 L577.6 357.5 L578.3 357.0 L579.0 357.3 L579.7 357.3 L580.4 357.0 L581.1 356.6 L581.8 356.5 L582.5 356.5 L583.2 356.4 L583.9 356.3 L584.6 355.9 L585.3 355.7 L586.0 355.8 L586.7 355.9 L587.4 356.0 L588.1 356.6 L588.8 356.9 L589.5 356.9 L590.2 357.2 L590.9 357.6 L591.6 358.1 L592.3 358.3 L593.0 358.5 L593.7 359.1 L594.4 359.4 L595.1 359.6 L595.8 360.2 L596.5 360.7 L597.2 360.7 L597.9 360.7 L598.6 360.7 L599.3 360.6 L600.0 360.8 L600.7 360.8 L601.4 360.8 L602.1 360.6 L602.8 360.8 L603.5 360.9 L604.2 360.8 L604.9 360.6 L605.6 360.6 L606.3 360.9 L607.0 360.6 L607.7 360.5 L608.4 360.8 L609.1 360.6 L609.8 360.6 L610.5 360.6 L611.2 360.8 L611.9 360.9 L612.6 360.5 L613.3 360.7 L614.0 360.5 L614.7 360.5 L615.4 360.5 L616.1 360.5 L616.8 360.5 L617.5 360.5 L618.2 360.4 L618.9 360.4 L619.6 360.4 L620.3 360.7 L621.0 360.4 L621.7 360.7 L622.4 360.7 L623.1 360.3 L623.8 360.4 L624.5 360.2 L625.2 360.5 L625.9 360.6 L626.6 360.5 L627.3 360.1 L628.0 360.1 L628.7 360.3 L629.4 360.2 L630.1 360.5 L630.8 360.0 L631.5 360.3 L632.2 360.3 L632.9 360.1 L633.6 360.1 L634.3 360.1 L635.0 359.9 L635.7 360.2 L636.4 359.8 L637.1 360.0 L637.8 359.9 L638.5 359.6 L639.2 359.6 L639.9 359.5 L640.6 359.4 L641.3 358.0 L642.0 354.6 L642.7 354.4 L643.4 354.2 L644.1 354.5 L644.8 354.2 L645.5 354.3 L646.2 354.0 L646.9 354.1 L647.6 353.9 L648.3 354.1 L649.0 354.1 L649.7 354.1 L650.4 354.2 L651.1 354.2 L651.8 354.3 L652.5 354.1 L653.2 354.2 L653.9 354.1 L654.6 354.2 L655.3 354.1 L656.0 354.4 L656.7 354.4 L657.4 354.4 L658.1 354.5 L658.8 354.8 L659.5 355.0 L660.2 355.1 L660.9 355.2 L661.6 355.4 L662.3 355.5 L663.0 355.5 L663.7 355.4 L664.4 355.6 L665.1 355.5 L665.8 355.9 L666.5 355.8 L667.2 355.8 L667.9 355.9 L668.6 356.0 L669.3 363.0 L669.3 363.0Z" fill="#a0a0a0"/>
<line x1="546.80" y1="363.60" x2="669.30" y2="363.60" stroke="#a8a8a8" stroke-width="1.2"/>
<line x1="411.60" y1="350.90" x2="411.60" y2="363.50" stroke="#222" stroke-width="0.9"/>
<line x1="409.80" y1="350.90" x2="411.60" y2="350.90" stroke="#222" stroke-width="0.9"/>
<line x1="409.80" y1="363.50" x2="411.60" y2="363.50" stroke="#222" stroke-width="0.9"/>
<text x="0" y="3.17" font-size="8.8" font-weight="bold" text-anchor="end" fill="#000" stroke="#000" stroke-width="0.3" transform="translate(409.60 351.20) scale(1.14 1)">500</text>
<text x="0" y="3.17" font-size="8.8" font-weight="bold" text-anchor="end" fill="#000" stroke="#000" stroke-width="0.3" transform="translate(409.60 363.00) scale(1.14 1)">0</text>
<path d="M411.8 382.9 L411.8 382.5 L412.5 382.8 L413.2 382.4 L413.9 382.6 L414.6 382.6 L415.3 382.7 L416.0 382.3 L416.7 382.6 L417.4 382.5 L418.1 382.6 L418.8 382.4 L419.5 382.5 L420.2 382.5 L420.9 382.7 L421.6 382.7 L422.3 382.4 L423.0 382.7 L423.7 382.4 L424.4 382.6 L425.1 382.3 L425.8 382.5 L426.5 382.6 L427.2 382.6 L427.9 382.5 L428.6 382.3 L429.3 382.3 L430.0 382.2 L430.7 382.1 L431.4 382.3 L432.1 382.6 L432.8 382.3 L433.5 382.4 L434.2 382.3 L434.9 382.5 L435.6 382.4 L436.3 382.4 L437.0 382.1 L437.7 381.8 L438.4 382.0 L439.1 381.8 L439.8 381.7 L440.5 381.5 L441.2 381.6 L441.9 381.5 L442.6 381.4 L443.3 381.6 L444.0 381.5 L444.7 381.5 L445.4 381.5 L446.1 381.4 L446.8 381.7 L447.5 381.8 L448.2 381.7 L448.9 381.4 L449.6 381.3 L450.3 381.7 L451.0 381.5 L451.7 381.4 L452.4 381.1 L453.1 381.0 L453.8 381.2 L454.5 380.8 L455.2 380.7 L455.9 380.8 L456.6 381.1 L457.3 380.9 L458.0 381.2 L458.7 380.9 L459.4 381.4 L460.1 381.3 L460.8 381.4 L461.5 381.2 L462.2 381.3 L462.9 381.5 L463.6 381.5 L464.3 381.7 L465.0 381.6 L465.7 382.0 L466.4 381.7 L467.1 381.6 L467.8 381.9 L468.5 382.0 L469.2 382.0 L469.9 382.2 L470.6 381.9 L471.3 382.3 L472.0 382.1 L472.7 382.0 L473.4 382.0 L474.1 382.2 L474.8 382.3 L475.5 382.0 L476.2 382.3 L476.9 382.0 L477.6 382.4 L478.3 382.0 L479.0 382.0 L479.7 382.2 L480.4 382.0 L481.1 382.0 L481.8 382.1 L482.5 382.3 L483.2 382.4 L483.9 382.4 L484.6 382.4 L485.3 382.1 L486.0 382.1 L486.7 382.0 L487.4 382.3 L488.1 382.3 L488.8 382.0 L489.5 382.1 L490.2 382.0 L490.9 382.5 L491.6 382.0 L492.3 382.3 L493.0 382.1 L493.7 382.4 L494.4 382.2 L495.1 382.1 L495.8 382.2 L496.5 382.2 L497.2 382.5 L497.9 382.1 L498.6 382.5 L499.3 382.1 L500.0 382.3 L500.7 382.2 L501.4 382.4 L502.1 382.2 L502.8 382.2 L503.5 382.4 L504.2 382.1 L504.9 382.4 L505.6 382.1 L506.3 382.5 L507.0 382.4 L507.7 382.5 L508.4 382.6 L509.1 382.5 L509.8 382.5 L510.5 382.3 L511.2 382.4 L511.9 382.6 L512.6 382.2 L513.3 382.3 L514.0 382.4 L514.7 382.5 L515.4 382.4 L516.1 382.2 L516.8 382.4 L517.5 382.4 L518.2 382.2 L518.9 382.5 L519.6 382.2 L520.3 382.6 L521.0 382.3 L521.7 382.6 L522.4 382.5 L523.1 382.6 L523.8 382.2 L524.5 382.2 L525.2 382.3 L525.9 382.4 L526.6 382.6 L527.3 382.4 L528.0 382.3 L528.7 382.4 L529.4 382.7 L530.1 382.2 L530.8 382.3 L531.5 382.4 L532.2 382.7 L532.9 382.4 L533.6 382.4 L534.3 382.7 L534.4 382.9Z" fill="#a0a0a0"/>
<line x1="411.80" y1="383.50" x2="534.40" y2="383.50" stroke="#a8a8a8" stroke-width="1.2"/>
<path d="M546.8 382.9 L546.8 382.4 L547.5 382.4 L548.2 382.1 L548.9 381.5 L549.6 381.2 L550.3 381.1 L551.0 381.0 L551.7 380.6 L552.4 380.4 L553.1 379.9 L553.8 379.8 L554.5 379.2 L555.2 379.3 L555.9 378.9 L556.6 378.4 L557.3 378.2 L558.0 378.1 L558.7 377.9 L559.4 377.8 L560.1 377.5 L560.8 377.7 L561.5 377.4 L562.2 377.3 L562.9 377.3 L563.6 377.4 L564.3 377.1 L565.0 377.2 L565.7 377.1 L566.4 376.6 L567.1 376.9 L567.8 376.4 L568.5 376.8 L569.2 376.7 L569.9 376.6 L570.6 376.2 L571.3 376.0 L572.0 376.3 L572.7 376.1 L573.4 376.1 L574.1 375.8 L574.8 375.7 L575.5 375.4 L576.2 375.1 L576.9 375.0 L577.6 374.9 L578.3 374.4 L579.0 374.2 L579.7 374.2 L580.4 373.8 L581.1 373.2 L581.8 373.1 L582.5 372.7 L583.2 372.3 L583.9 372.3 L584.6 371.9 L585.3 372.1 L586.0 372.1 L586.7 372.7 L587.4 373.0 L588.1 373.6 L588.8 374.2 L589.5 374.5 L590.2 375.2 L590.9 375.5 L591.6 375.9 L592.3 376.3 L593.0 377.1 L593.7 377.3 L594.4 377.9 L595.1 378.3 L595.8 379.1 L596.5 379.3 L597.2 379.9 L597.9 379.6 L598.6 379.5 L599.3 379.7 L600.0 379.7 L600.7 379.6 L601.4 379.6 L602.1 379.4 L602.8 379.5 L603.5 379.6 L604.2 379.7 L604.9 379.9 L605.6 379.5 L606.3 379.8 L607.0 379.5 L607.7 379.5 L608.4 379.4 L609.1 379.8 L609.8 379.6 L610.5 379.7 L611.2 379.7 L611.9 379.7 L612.6 379.4 L613.3 379.6 L614.0 379.5 L614.7 379.7 L615.4 379.5 L616.1 379.5 L616.8 379.7 L617.5 379.6 L618.2 379.6 L618.9 379.5 L619.6 379.7 L620.3 379.2 L621.0 379.5 L621.7 379.2 L622.4 379.6 L623.1 379.3 L623.8 379.2 L624.5 379.4 L625.2 379.4 L625.9 379.2 L626.6 379.3 L627.3 379.4 L628.0 379.0 L628.7 379.1 L629.4 379.1 L630.1 379.1 L630.8 378.9 L631.5 378.9 L632.2 379.2 L632.9 379.1 L633.6 379.0 L634.3 379.2 L635.0 379.0 L635.7 379.1 L636.4 378.8 L637.1 378.9 L637.8 378.9 L638.5 378.9 L639.2 378.9 L639.9 378.8 L640.6 376.5 L641.3 374.3 L642.0 371.9 L642.7 371.8 L643.4 371.3 L644.1 371.3 L644.8 371.4 L645.5 370.9 L646.2 371.1 L646.9 370.4 L647.6 370.4 L648.3 370.5 L649.0 370.2 L649.7 369.8 L650.4 369.8 L651.1 369.8 L651.8 370.0 L652.5 370.3 L653.2 370.1 L653.9 370.2 L654.6 370.5 L655.3 370.6 L656.0 370.4 L656.7 370.6 L657.4 371.4 L658.1 371.6 L658.8 372.3 L659.5 372.4 L660.2 372.7 L660.9 373.1 L661.6 373.0 L662.3 373.0 L663.0 373.3 L663.7 373.1 L664.4 373.6 L665.1 373.6 L665.8 373.7 L666.5 373.4 L667.2 373.6 L667.9 373.9 L668.6 373.7 L669.3 382.9 L669.3 382.9Z" fill="#a0a0a0"/>
<line x1="546.80" y1="383.50" x2="669.30" y2="383.50" stroke="#a8a8a8" stroke-width="1.2"/>
<line x1="411.60" y1="371.05" x2="411.60" y2="383.65" stroke="#222" stroke-width="0.9"/>
<line x1="409.80" y1="371.05" x2="411.60" y2="371.05" stroke="#222" stroke-width="0.9"/>
<line x1="409.80" y1="383.65" x2="411.60" y2="383.65" stroke="#222" stroke-width="0.9"/>
<text x="0" y="3.17" font-size="8.8" font-weight="bold" text-anchor="end" fill="#000" stroke="#000" stroke-width="0.3" transform="translate(409.60 371.35) scale(1.14 1)">500</text>
<text x="0" y="3.17" font-size="8.8" font-weight="bold" text-anchor="end" fill="#000" stroke="#000" stroke-width="0.3" transform="translate(409.60 383.15) scale(1.14 1)">0</text>
<path d="M411.8 402.8 L411.8 402.5 L412.5 402.5 L413.2 402.5 L413.9 402.4 L414.6 402.6 L415.3 402.5 L416.0 402.6 L416.7 402.4 L417.4 402.3 L418.1 402.6 L418.8 402.4 L419.5 402.5 L420.2 402.6 L420.9 402.6 L421.6 402.6 L422.3 402.3 L423.0 402.6 L423.7 402.5 L424.4 402.4 L425.1 402.5 L425.8 402.3 L426.5 402.4 L427.2 402.5 L427.9 402.2 L428.6 402.3 L429.3 402.1 L430.0 402.4 L430.7 402.2 L431.4 402.2 L432.1 402.2 L432.8 402.5 L433.5 402.4 L434.2 402.3 L434.9 402.5 L435.6 402.4 L436.3 402.1 L437.0 402.4 L437.7 402.2 L438.4 402.3 L439.1 402.2 L439.8 402.3 L440.5 402.3 L441.2 402.1 L441.9 402.1 L442.6 401.7 L443.3 401.9 L444.0 402.0 L444.7 401.7 L445.4 401.9 L446.1 401.5 L446.8 401.5 L447.5 401.3 L448.2 401.5 L448.9 401.3 L449.6 401.2 L450.3 400.8 L451.0 400.2 L451.7 399.4 L452.4 398.8 L453.1 398.3 L453.8 397.6 L454.5 397.0 L455.2 396.8 L455.9 396.9 L456.6 396.5 L457.3 396.7 L458.0 397.2 L458.7 397.9 L459.4 398.5 L460.1 398.9 L460.8 399.0 L461.5 399.4 L462.2 399.8 L462.9 400.1 L463.6 400.1 L464.3 400.7 L465.0 401.0 L465.7 401.1 L466.4 401.5 L467.1 401.4 L467.8 401.6 L468.5 401.4 L469.2 401.7 L469.9 401.9 L470.6 402.0 L471.3 402.3 L472.0 402.0 L472.7 402.0 L473.4 402.5 L474.1 402.2 L474.8 402.1 L475.5 402.0 L476.2 402.0 L476.9 402.0 L477.6 402.0 L478.3 402.4 L479.0 402.0 L479.7 402.0 L480.4 402.2 L481.1 402.0 L481.8 402.4 L482.5 402.3 L483.2 402.4 L483.9 402.3 L484.6 402.0 L485.3 402.1 L486.0 402.3 L486.7 402.3 L487.4 402.4 L488.1 402.3 L488.8 402.4 L489.5 402.3 L490.2 402.2 L490.9 402.3 L491.6 402.2 L492.3 402.3 L493.0 402.3 L493.7 402.3 L494.4 402.1 L495.1 402.1 L495.8 402.2 L496.5 402.1 L497.2 402.4 L497.9 402.5 L498.6 402.4 L499.3 402.5 L500.0 402.2 L500.7 402.1 L501.4 402.2 L502.1 402.4 L502.8 402.5 L503.5 402.2 L504.2 402.3 L504.9 402.5 L505.6 402.1 L506.3 402.2 L507.0 402.1 L507.7 402.1 L508.4 402.2 L509.1 402.1 L509.8 402.1 L510.5 402.5 L511.2 402.4 L511.9 402.3 L512.6 402.3 L513.3 402.5 L514.0 402.4 L514.7 402.2 L515.4 402.1 L516.1 402.4 L516.8 402.1 L517.5 402.2 L518.2 402.1 L518.9 402.5 L519.6 402.4 L520.3 402.3 L521.0 402.2 L521.7 402.2 L522.4 402.6 L523.1 402.3 L523.8 402.6 L524.5 402.5 L525.2 402.6 L525.9 402.4 L526.6 402.6 L527.3 402.3 L528.0 402.4 L528.7 402.2 L529.4 402.5 L530.1 402.1 L530.8 402.6 L531.5 402.6 L532.2 402.4 L532.9 402.4 L533.6 402.2 L534.3 402.6 L534.4 402.8Z" fill="#a6da72"/>
<line x1="411.80" y1="403.40" x2="534.40" y2="403.40" stroke="#a8a8a8" stroke-width="1.2"/>
<path d="M546.8 402.8 L546.8 402.5 L547.5 402.1 L548.2 401.6 L548.9 400.9 L549.6 400.5 L550.3 400.4 L551.0 400.3 L551.7 400.0 L552.4 400.1 L553.1 400.2 L553.8 400.0 L554.5 400.1 L555.2 399.9 L555.9 399.9 L556.6 399.8 L557.3 399.7 L558.0 399.4 L558.7 399.8 L559.4 399.8 L560.1 399.7 L560.8 399.6 L561.5 399.5 L562.2 399.3 L562.9 399.4 L563.6 399.6 L564.3 399.6 L565.0 399.4 L565.7 399.2 L566.4 399.5 L567.1 399.2 L567.8 399.4 L568.5 399.1 L569.2 399.1 L569.9 399.5 L570.6 399.1 L571.3 399.1 L572.0 399.2 L572.7 399.0 L573.4 398.8 L574.1 398.9 L574.8 398.8 L575.5 398.8 L576.2 398.9 L576.9 398.5 L577.6 398.7 L578.3 398.3 L579.0 398.6 L579.7 398.3 L580.4 398.4 L581.1 398.1 L581.8 398.0 L582.5 397.9 L583.2 397.8 L583.9 397.6 L584.6 398.0 L585.3 397.8 L586.0 397.6 L586.7 397.6 L587.4 398.1 L588.1 398.4 L588.8 398.4 L589.5 398.7 L590.2 399.1 L590.9 399.0 L591.6 399.5 L592.3 399.6 L593.0 400.2 L593.7 400.4 L594.4 400.8 L595.1 400.8 L595.8 401.2 L596.5 401.3 L597.2 401.6 L597.9 401.5 L598.6 401.6 L599.3 401.5 L600.0 401.7 L600.7 401.4 L601.4 401.8 L602.1 401.8 L602.8 401.8 L603.5 402.0 L604.2 402.2 L604.9 402.2 L605.6 401.8 L606.3 401.7 L607.0 401.9 L607.7 402.1 L608.4 402.1 L609.1 402.0 L609.8 402.1 L610.5 402.0 L611.2 402.0 L611.9 401.9 L612.6 401.7 L613.3 401.8 L614.0 401.6 L614.7 401.9 L615.4 402.0 L616.1 401.6 L616.8 401.7 L617.5 401.6 L618.2 401.8 L618.9 401.6 L619.6 401.9 L620.3 401.6 L621.0 401.6 L621.7 401.6 L622.4 401.6 L623.1 401.7 L623.8 401.7 L624.5 401.6 L625.2 401.5 L625.9 401.4 L626.6 401.6 L627.3 401.4 L628.0 401.5 L628.7 401.6 L629.4 401.3 L630.1 401.6 L630.8 401.1 L631.5 401.5 L632.2 401.4 L632.9 401.1 L633.6 401.2 L634.3 401.2 L635.0 401.1 L635.7 400.8 L636.4 400.9 L637.1 401.0 L637.8 400.7 L638.5 401.0 L639.2 401.0 L639.9 400.7 L640.6 397.9 L641.3 396.1 L642.0 396.3 L642.7 396.1 L643.4 396.3 L644.1 396.2 L644.8 395.9 L645.5 395.9 L646.2 395.8 L646.9 395.9 L647.6 395.8 L648.3 396.0 L649.0 395.9 L649.7 395.6 L650.4 395.7 L651.1 395.5 L651.8 395.9 L652.5 395.8 L653.2 395.5 L653.9 395.5 L654.6 395.5 L655.3 395.4 L656.0 395.7 L656.7 399.0 L657.4 400.8 L658.1 400.7 L658.8 400.9 L659.5 400.7 L660.2 400.9 L660.9 400.8 L661.6 400.7 L662.3 400.7 L663.0 400.6 L663.7 400.6 L664.4 400.9 L665.1 400.9 L665.8 400.9 L666.5 401.0 L667.2 400.8 L667.9 400.8 L668.6 400.9 L669.3 402.8 L669.3 402.8Z" fill="#a6da72"/>
<line x1="546.80" y1="403.40" x2="669.30" y2="403.40" stroke="#a8a8a8" stroke-width="1.2"/>
<line x1="411.60" y1="391.20" x2="411.60" y2="403.80" stroke="#222" stroke-width="0.9"/>
<line x1="409.80" y1="391.20" x2="411.60" y2="391.20" stroke="#222" stroke-width="0.9"/>
<line x1="409.80" y1="403.80" x2="411.60" y2="403.80" stroke="#222" stroke-width="0.9"/>
<text x="0" y="3.17" font-size="8.8" font-weight="bold" text-anchor="end" fill="#000" stroke="#000" stroke-width="0.3" transform="translate(409.60 391.50) scale(1.14 1)">500</text>
<text x="0" y="3.17" font-size="8.8" font-weight="bold" text-anchor="end" fill="#000" stroke="#000" stroke-width="0.3" transform="translate(409.60 403.30) scale(1.14 1)">0</text>
<path d="M411.8 422.7 L411.8 422.4 L412.5 422.5 L413.2 422.3 L413.9 422.6 L414.6 422.1 L415.3 422.5 L416.0 422.5 L416.7 422.2 L417.4 422.1 L418.1 422.5 L418.8 422.1 L419.5 422.3 L420.2 422.3 L420.9 421.6 L421.6 421.3 L422.3 420.8 L423.0 420.8 L423.7 420.7 L424.4 420.7 L425.1 420.7 L425.8 420.8 L426.5 420.8 L427.2 420.7 L427.9 420.7 L428.6 421.3 L429.3 421.6 L430.0 422.1 L430.7 422.4 L431.4 422.4 L432.1 422.2 L432.8 422.2 L433.5 422.3 L434.2 422.3 L434.9 422.4 L435.6 422.3 L436.3 422.2 L437.0 422.1 L437.7 422.1 L438.4 422.4 L439.1 422.4 L439.8 422.2 L440.5 422.1 L441.2 422.3 L441.9 422.1 L442.6 422.3 L443.3 422.3 L444.0 422.0 L444.7 422.3 L445.4 422.0 L446.1 422.1 L446.8 422.4 L447.5 422.1 L448.2 422.1 L448.9 422.3 L449.6 422.2 L450.3 421.7 L451.0 420.6 L451.7 419.4 L452.4 418.6 L453.1 417.5 L453.8 417.4 L454.5 416.8 L455.2 416.8 L455.9 416.2 L456.6 416.5 L457.3 416.8 L458.0 417.7 L458.7 417.8 L459.4 418.5 L460.1 418.5 L460.8 419.4 L461.5 419.6 L462.2 420.5 L462.9 420.6 L463.6 421.4 L464.3 421.9 L465.0 421.6 L465.7 421.7 L466.4 421.8 L467.1 422.0 L467.8 422.2 L468.5 422.1 L469.2 422.0 L469.9 422.2 L470.6 422.2 L471.3 422.5 L472.0 422.3 L472.7 422.4 L473.4 422.3 L474.1 422.2 L474.8 422.3 L475.5 422.5 L476.2 422.4 L476.9 422.4 L477.6 422.3 L478.3 422.4 L479.0 422.5 L479.7 422.4 L480.4 422.3 L481.1 422.1 L481.8 422.4 L482.5 422.1 L483.2 422.2 L483.9 422.1 L484.6 422.1 L485.3 422.2 L486.0 422.1 L486.7 422.5 L487.4 422.2 L488.1 422.4 L488.8 422.5 L489.5 422.4 L490.2 422.2 L490.9 422.5 L491.6 422.5 L492.3 422.1 L493.0 422.1 L493.7 422.5 L494.4 422.5 L495.1 422.5 L495.8 422.3 L496.5 422.1 L497.2 422.5 L497.9 422.3 L498.6 422.3 L499.3 422.2 L500.0 422.3 L500.7 422.2 L501.4 422.5 L502.1 422.1 L502.8 422.2 L503.5 422.5 L504.2 422.5 L504.9 422.1 L505.6 422.2 L506.3 422.4 L507.0 422.1 L507.7 422.2 L508.4 422.3 L509.1 422.5 L509.8 422.3 L510.5 422.4 L511.2 422.3 L511.9 422.4 L512.6 422.1 L513.3 422.4 L514.0 422.5 L514.7 422.4 L515.4 422.1 L516.1 422.3 L516.8 422.4 L517.5 422.1 L518.2 422.1 L518.9 422.3 L519.6 422.5 L520.3 422.4 L521.0 422.5 L521.7 422.1 L522.4 422.2 L523.1 422.4 L523.8 422.2 L524.5 422.1 L525.2 422.1 L525.9 422.5 L526.6 422.3 L527.3 422.2 L528.0 422.3 L528.7 422.3 L529.4 422.3 L530.1 422.3 L530.8 422.3 L531.5 422.4 L532.2 422.4 L532.9 422.3 L533.6 422.2 L534.3 422.5 L534.4 422.7Z" fill="#a6da72"/>
<line x1="411.80" y1="423.30" x2="534.40" y2="423.30" stroke="#a8a8a8" stroke-width="1.2"/>
<path d="M546.8 422.7 L546.8 422.4 L547.5 422.3 L548.2 421.7 L548.9 421.9 L549.6 421.5 L550.3 420.9 L551.0 420.8 L551.7 420.7 L552.4 420.3 L553.1 420.3 L553.8 420.3 L554.5 420.1 L555.2 420.0 L555.9 419.7 L556.6 419.5 L557.3 419.1 L558.0 419.0 L558.7 419.0 L559.4 418.8 L560.1 418.6 L560.8 418.5 L561.5 418.8 L562.2 418.6 L562.9 418.8 L563.6 418.8 L564.3 418.8 L565.0 418.7 L565.7 418.8 L566.4 418.7 L567.1 418.9 L567.8 418.8 L568.5 418.6 L569.2 418.6 L569.9 418.6 L570.6 418.6 L571.3 418.4 L572.0 418.6 L572.7 418.1 L573.4 418.1 L574.1 417.9 L574.8 418.2 L575.5 417.9 L576.2 417.9 L576.9 417.5 L577.6 417.4 L578.3 417.6 L579.0 417.1 L579.7 417.4 L580.4 417.3 L581.1 416.9 L581.8 416.9 L582.5 416.5 L583.2 416.8 L583.9 416.2 L584.6 416.2 L585.3 416.4 L586.0 416.8 L586.7 416.8 L587.4 417.4 L588.1 417.5 L588.8 417.9 L589.5 418.1 L590.2 418.1 L590.9 418.5 L591.6 419.1 L592.3 419.4 L593.0 419.8 L593.7 420.1 L594.4 420.5 L595.1 420.8 L595.8 421.2 L596.5 421.6 L597.2 421.3 L597.9 421.6 L598.6 421.7 L599.3 421.4 L600.0 421.7 L600.7 421.3 L601.4 421.3 L602.1 421.3 L602.8 421.6 L603.5 421.5 L604.2 421.7 L604.9 421.5 L605.6 421.3 L606.3 421.7 L607.0 421.7 L607.7 421.6 L608.4 421.6 L609.1 421.6 L609.8 421.6 L610.5 421.7 L611.2 421.4 L611.9 421.5 L612.6 421.4 L613.3 421.6 L614.0 421.3 L614.7 421.4 L615.4 421.5 L616.1 421.6 L616.8 421.3 L617.5 421.5 L618.2 421.5 L618.9 421.5 L619.6 421.7 L620.3 421.5 L621.0 421.7 L621.7 421.3 L622.4 421.4 L623.1 421.7 L623.8 421.6 L624.5 421.4 L625.2 421.5 L625.9 421.5 L626.6 421.5 L627.3 421.6 L628.0 421.5 L628.7 421.7 L629.4 421.7 L630.1 421.6 L630.8 421.7 L631.5 421.6 L632.2 421.5 L632.9 421.4 L633.6 421.3 L634.3 421.0 L635.0 421.1 L635.7 421.0 L636.4 421.1 L637.1 421.0 L637.8 421.0 L638.5 421.3 L639.2 421.1 L639.9 421.2 L640.6 420.8 L641.3 421.0 L642.0 420.9 L642.7 421.0 L643.4 420.6 L644.1 420.9 L644.8 420.9 L645.5 417.3 L646.2 413.8 L646.9 413.8 L647.6 413.6 L648.3 413.7 L649.0 413.9 L649.7 413.4 L650.4 413.8 L651.1 413.4 L651.8 413.3 L652.5 413.5 L653.2 413.4 L653.9 413.7 L654.6 413.7 L655.3 413.5 L656.0 413.6 L656.7 418.4 L657.4 420.3 L658.1 420.5 L658.8 420.2 L659.5 420.3 L660.2 420.5 L660.9 420.4 L661.6 420.5 L662.3 420.6 L663.0 420.5 L663.7 420.8 L664.4 420.5 L665.1 420.4 L665.8 420.9 L666.5 420.8 L667.2 420.7 L667.9 420.7 L668.6 420.7 L669.3 422.7 L669.3 422.7Z" fill="#a6da72"/>
<line x1="546.80" y1="423.30" x2="669.30" y2="423.30" stroke="#a8a8a8" stroke-width="1.2"/>
<line x1="411.60" y1="411.35" x2="411.60" y2="423.95" stroke="#222" stroke-width="0.9"/>
<line x1="409.80" y1="411.35" x2="411.60" y2="411.35" stroke="#222" stroke-width="0.9"/>
<line x1="409.80" y1="423.95" x2="411.60" y2="423.95" stroke="#222" stroke-width="0.9"/>
<text x="0" y="3.17" font-size="8.8" font-weight="bold" text-anchor="end" fill="#000" stroke="#000" stroke-width="0.3" transform="translate(409.60 411.65) scale(1.14 1)">500</text>
<text x="0" y="3.17" font-size="8.8" font-weight="bold" text-anchor="end" fill="#000" stroke="#000" stroke-width="0.3" transform="translate(409.60 423.45) scale(1.14 1)">0</text>
<path d="M411.8 442.6 L411.8 442.3 L412.5 442.4 L413.2 442.1 L413.9 442.3 L414.6 442.2 L415.3 442.1 L416.0 442.4 L416.7 442.3 L417.4 442.3 L418.1 442.5 L418.8 442.1 L419.5 442.4 L420.2 442.4 L420.9 442.4 L421.6 442.1 L422.3 441.9 L423.0 441.7 L423.7 441.3 L424.4 441.2 L425.1 441.1 L425.8 441.3 L426.5 441.2 L427.2 440.9 L427.9 441.2 L428.6 441.0 L429.3 441.0 L430.0 441.1 L430.7 441.0 L431.4 441.0 L432.1 441.0 L432.8 440.9 L433.5 441.1 L434.2 441.2 L434.9 441.1 L435.6 440.9 L436.3 441.0 L437.0 441.3 L437.7 441.0 L438.4 440.8 L439.1 441.2 L439.8 441.0 L440.5 441.1 L441.2 441.1 L441.9 441.0 L442.6 441.3 L443.3 441.4 L444.0 441.3 L444.7 441.1 L445.4 441.6 L446.1 441.5 L446.8 441.4 L447.5 441.2 L448.2 440.9 L448.9 440.9 L449.6 440.8 L450.3 440.8 L451.0 440.6 L451.7 440.3 L452.4 440.4 L453.1 440.4 L453.8 439.7 L454.5 439.8 L455.2 439.4 L455.9 439.4 L456.6 439.7 L457.3 440.0 L458.0 439.8 L458.7 440.1 L459.4 440.5 L460.1 441.0 L460.8 441.0 L461.5 441.1 L462.2 441.4 L462.9 441.2 L463.6 441.3 L464.3 441.6 L465.0 441.5 L465.7 441.3 L466.4 441.5 L467.1 441.6 L467.8 441.9 L468.5 442.1 L469.2 442.0 L469.9 441.9 L470.6 442.2 L471.3 442.3 L472.0 441.9 L472.7 442.3 L473.4 442.1 L474.1 441.9 L474.8 442.1 L475.5 442.4 L476.2 442.2 L476.9 442.0 L477.6 442.0 L478.3 442.3 L479.0 442.1 L479.7 442.1 L480.4 442.3 L481.1 442.3 L481.8 442.2 L482.5 442.2 L483.2 441.9 L483.9 442.2 L484.6 441.9 L485.3 442.4 L486.0 442.1 L486.7 442.3 L487.4 442.3 L488.1 442.2 L488.8 442.0 L489.5 442.1 L490.2 442.2 L490.9 442.0 L491.6 442.0 L492.3 442.0 L493.0 442.0 L493.7 442.3 L494.4 442.0 L495.1 441.9 L495.8 442.0 L496.5 442.1 L497.2 442.3 L497.9 442.0 L498.6 442.1 L499.3 442.0 L500.0 441.9 L500.7 442.3 L501.4 442.4 L502.1 441.9 L502.8 442.0 L503.5 442.4 L504.2 442.2 L504.9 442.0 L505.6 442.1 L506.3 442.1 L507.0 441.9 L507.7 442.4 L508.4 442.2 L509.1 442.3 L509.8 441.9 L510.5 442.1 L511.2 442.3 L511.9 442.0 L512.6 442.0 L513.3 442.2 L514.0 441.9 L514.7 442.3 L515.4 442.1 L516.1 441.9 L516.8 442.3 L517.5 442.1 L518.2 442.0 L518.9 442.0 L519.6 442.3 L520.3 442.2 L521.0 442.4 L521.7 442.2 L522.4 442.0 L523.1 442.3 L523.8 442.0 L524.5 442.3 L525.2 442.2 L525.9 442.1 L526.6 442.0 L527.3 442.0 L528.0 442.3 L528.7 442.2 L529.4 442.1 L530.1 442.0 L530.8 442.0 L531.5 442.3 L532.2 442.0 L532.9 442.1 L533.6 442.2 L534.3 442.3 L534.4 442.6Z" fill="#606060"/>
<line x1="411.80" y1="443.20" x2="534.40" y2="443.20" stroke="#a8a8a8" stroke-width="1.2"/>
<path d="M546.8 442.6 L546.8 442.4 L547.5 442.5 L548.2 442.1 L548.9 442.1 L549.6 441.8 L550.3 441.8 L551.0 441.8 L551.7 441.7 L552.4 441.5 L553.1 441.6 L553.8 441.4 L554.5 441.1 L555.2 441.2 L555.9 440.7 L556.6 440.7 L557.3 440.7 L558.0 440.6 L558.7 440.5 L559.4 440.3 L560.1 440.3 L560.8 440.2 L561.5 439.9 L562.2 439.9 L562.9 439.9 L563.6 439.9 L564.3 440.0 L565.0 439.8 L565.7 440.0 L566.4 440.1 L567.1 440.2 L567.8 440.0 L568.5 439.8 L569.2 439.8 L569.9 439.8 L570.6 440.1 L571.3 439.9 L572.0 439.8 L572.7 439.9 L573.4 439.8 L574.1 439.8 L574.8 440.0 L575.5 439.8 L576.2 440.0 L576.9 439.7 L577.6 439.9 L578.3 439.9 L579.0 439.6 L579.7 439.6 L580.4 439.6 L581.1 439.6 L581.8 439.7 L582.5 439.4 L583.2 439.4 L583.9 439.4 L584.6 439.3 L585.3 439.7 L586.0 439.4 L586.7 439.4 L587.4 439.8 L588.1 439.9 L588.8 439.6 L589.5 440.0 L590.2 439.9 L590.9 439.8 L591.6 440.2 L592.3 440.2 L593.0 440.7 L593.7 440.5 L594.4 440.7 L595.1 441.2 L595.8 441.2 L596.5 441.8 L597.2 441.6 L597.9 441.6 L598.6 441.7 L599.3 442.0 L600.0 441.8 L600.7 441.7 L601.4 441.6 L602.1 441.7 L602.8 441.6 L603.5 441.7 L604.2 441.6 L604.9 441.8 L605.6 441.8 L606.3 441.5 L607.0 441.6 L607.7 441.7 L608.4 441.7 L609.1 441.7 L609.8 441.6 L610.5 441.7 L611.2 441.6 L611.9 441.6 L612.6 441.6 L613.3 441.6 L614.0 441.7 L614.7 441.3 L615.4 441.6 L616.1 441.3 L616.8 441.2 L617.5 441.5 L618.2 441.5 L618.9 441.3 L619.6 441.2 L620.3 441.3 L621.0 441.1 L621.7 441.2 L622.4 441.0 L623.1 440.8 L623.8 440.5 L624.5 440.5 L625.2 440.2 L625.9 440.0 L626.6 440.2 L627.3 440.1 L628.0 440.3 L628.7 440.1 L629.4 440.0 L630.1 439.9 L630.8 440.2 L631.5 439.9 L632.2 439.9 L632.9 439.8 L633.6 440.2 L634.3 440.0 L635.0 440.1 L635.7 439.8 L636.4 439.8 L637.1 440.0 L637.8 439.7 L638.5 439.7 L639.2 439.9 L639.9 440.0 L640.6 439.7 L641.3 439.9 L642.0 439.7 L642.7 439.9 L643.4 439.6 L644.1 439.8 L644.8 439.3 L645.5 439.0 L646.2 438.5 L646.9 438.8 L647.6 438.6 L648.3 438.6 L649.0 438.5 L649.7 438.4 L650.4 438.5 L651.1 438.3 L651.8 438.7 L652.5 438.4 L653.2 438.5 L653.9 438.6 L654.6 438.6 L655.3 438.5 L656.0 438.5 L656.7 438.5 L657.4 438.3 L658.1 438.3 L658.8 438.5 L659.5 438.3 L660.2 438.4 L660.9 438.7 L661.6 438.3 L662.3 438.3 L663.0 438.5 L663.7 438.6 L664.4 438.4 L665.1 438.4 L665.8 438.6 L666.5 438.9 L667.2 438.7 L667.9 438.9 L668.6 438.8 L669.3 442.6 L669.3 442.6Z" fill="#606060"/>
<line x1="546.80" y1="443.20" x2="669.30" y2="443.20" stroke="#a8a8a8" stroke-width="1.2"/>
<line x1="411.60" y1="431.50" x2="411.60" y2="444.10" stroke="#222" stroke-width="0.9"/>
<line x1="409.80" y1="431.50" x2="411.60" y2="431.50" stroke="#222" stroke-width="0.9"/>
<line x1="409.80" y1="444.10" x2="411.60" y2="444.10" stroke="#222" stroke-width="0.9"/>
<text x="0" y="3.17" font-size="8.8" font-weight="bold" text-anchor="end" fill="#000" stroke="#000" stroke-width="0.3" transform="translate(409.60 431.80) scale(1.14 1)">500</text>
<text x="0" y="3.17" font-size="8.8" font-weight="bold" text-anchor="end" fill="#000" stroke="#000" stroke-width="0.3" transform="translate(409.60 443.60) scale(1.14 1)">0</text>
<path d="M411.8 462.5 L411.8 462.3 L412.5 462.4 L413.2 462.3 L413.9 462.3 L414.6 462.3 L415.3 462.2 L416.0 462.2 L416.7 462.2 L417.4 462.3 L418.1 462.3 L418.8 462.2 L419.5 462.3 L420.2 462.2 L420.9 462.2 L421.6 462.2 L422.3 462.2 L423.0 462.2 L423.7 462.2 L424.4 462.3 L425.1 462.2 L425.8 462.2 L426.5 461.9 L427.2 462.2 L427.9 461.9 L428.6 461.7 L429.3 461.7 L430.0 461.6 L430.7 461.6 L431.4 461.6 L432.1 461.7 L432.8 461.5 L433.5 461.6 L434.2 461.2 L434.9 461.3 L435.6 461.4 L436.3 461.4 L437.0 461.2 L437.7 461.4 L438.4 461.1 L439.1 461.1 L439.8 461.4 L440.5 461.2 L441.2 461.3 L441.9 461.0 L442.6 461.3 L443.3 461.4 L444.0 461.3 L444.7 460.9 L445.4 461.1 L446.1 461.0 L446.8 461.1 L447.5 460.9 L448.2 461.0 L448.9 461.0 L449.6 460.9 L450.3 460.8 L451.0 460.7 L451.7 460.8 L452.4 460.7 L453.1 461.0 L453.8 460.9 L454.5 460.5 L455.2 460.9 L455.9 460.8 L456.6 461.0 L457.3 460.9 L458.0 461.1 L458.7 460.8 L459.4 461.3 L460.1 461.0 L460.8 461.0 L461.5 461.3 L462.2 461.2 L462.9 461.3 L463.6 461.6 L464.3 461.5 L465.0 461.7 L465.7 461.7 L466.4 461.9 L467.1 461.9 L467.8 461.6 L468.5 461.8 L469.2 461.7 L469.9 462.0 L470.6 462.1 L471.3 462.0 L472.0 462.2 L472.7 461.9 L473.4 462.3 L474.1 462.3 L474.8 462.2 L475.5 462.1 L476.2 462.2 L476.9 462.3 L477.6 462.1 L478.3 461.9 L479.0 462.1 L479.7 462.2 L480.4 462.1 L481.1 462.2 L481.8 462.3 L482.5 462.2 L483.2 462.2 L483.9 462.0 L484.6 462.2 L485.3 461.9 L486.0 462.3 L486.7 462.2 L487.4 462.3 L488.1 462.0 L488.8 462.3 L489.5 462.1 L490.2 462.1 L490.9 462.0 L491.6 462.1 L492.3 462.2 L493.0 461.9 L493.7 462.1 L494.4 462.3 L495.1 462.1 L495.8 462.1 L496.5 462.3 L497.2 462.4 L497.9 462.1 L498.6 462.0 L499.3 462.2 L500.0 462.1 L500.7 462.3 L501.4 462.0 L502.1 462.0 L502.8 462.1 L503.5 461.9 L504.2 462.2 L504.9 462.2 L505.6 462.4 L506.3 462.2 L507.0 462.0 L507.7 462.0 L508.4 462.2 L509.1 462.2 L509.8 462.1 L510.5 462.4 L511.2 462.2 L511.9 462.0 L512.6 462.4 L513.3 462.4 L514.0 462.2 L514.7 462.1 L515.4 462.2 L516.1 462.2 L516.8 462.0 L517.5 461.9 L518.2 461.9 L518.9 462.3 L519.6 462.3 L520.3 462.3 L521.0 462.0 L521.7 462.1 L522.4 462.2 L523.1 462.4 L523.8 462.0 L524.5 461.9 L525.2 462.3 L525.9 462.3 L526.6 462.4 L527.3 462.0 L528.0 462.3 L528.7 462.4 L529.4 462.0 L530.1 462.1 L530.8 462.2 L531.5 462.3 L532.2 462.0 L532.9 462.3 L533.6 462.1 L534.3 462.1 L534.4 462.5Z" fill="#606060"/>
<line x1="411.80" y1="463.10" x2="534.40" y2="463.10" stroke="#a8a8a8" stroke-width="1.2"/>
<path d="M546.8 462.5 L546.8 462.3 L547.5 462.2 L548.2 462.2 L548.9 462.3 L549.6 462.3 L550.3 462.3 L551.0 462.1 L551.7 461.8 L552.4 461.8 L553.1 462.0 L553.8 461.9 L554.5 461.6 L555.2 461.6 L555.9 461.8 L556.6 461.8 L557.3 461.8 L558.0 461.5 L558.7 461.6 L559.4 461.5 L560.1 461.5 L560.8 461.4 L561.5 461.5 L562.2 461.8 L562.9 461.4 L563.6 461.6 L564.3 461.3 L565.0 461.4 L565.7 461.3 L566.4 461.3 L567.1 461.2 L567.8 461.2 L568.5 461.1 L569.2 461.2 L569.9 461.4 L570.6 461.1 L571.3 461.2 L572.0 461.0 L572.7 461.0 L573.4 460.9 L574.1 461.1 L574.8 461.0 L575.5 460.9 L576.2 460.9 L576.9 460.4 L577.6 460.3 L578.3 460.5 L579.0 460.4 L579.7 460.3 L580.4 460.2 L581.1 460.4 L581.8 459.9 L582.5 460.3 L583.2 460.3 L583.9 459.9 L584.6 460.0 L585.3 459.8 L586.0 459.8 L586.7 459.8 L587.4 459.7 L588.1 459.6 L588.8 459.9 L589.5 459.9 L590.2 460.1 L590.9 460.1 L591.6 460.7 L592.3 460.7 L593.0 461.0 L593.7 461.2 L594.4 461.0 L595.1 461.2 L595.8 461.5 L596.5 461.6 L597.2 461.7 L597.9 461.5 L598.6 461.7 L599.3 461.9 L600.0 462.0 L600.7 462.0 L601.4 461.9 L602.1 462.1 L602.8 461.6 L603.5 461.8 L604.2 461.7 L604.9 461.6 L605.6 462.0 L606.3 462.0 L607.0 461.8 L607.7 461.8 L608.4 461.8 L609.1 461.7 L609.8 461.4 L610.5 461.5 L611.2 461.4 L611.9 461.5 L612.6 461.3 L613.3 461.2 L614.0 461.6 L614.7 461.3 L615.4 461.1 L616.1 461.2 L616.8 461.3 L617.5 461.3 L618.2 461.4 L618.9 461.3 L619.6 461.4 L620.3 461.4 L621.0 461.0 L621.7 461.1 L622.4 461.1 L623.1 460.9 L623.8 461.1 L624.5 460.8 L625.2 461.1 L625.9 461.1 L626.6 461.0 L627.3 460.6 L628.0 460.6 L628.7 460.9 L629.4 460.5 L630.1 461.0 L630.8 460.6 L631.5 460.7 L632.2 460.8 L632.9 460.6 L633.6 460.7 L634.3 460.5 L635.0 460.4 L635.7 460.5 L636.4 460.3 L637.1 460.2 L637.8 460.6 L638.5 460.5 L639.2 460.6 L639.9 460.4 L640.6 460.2 L641.3 459.6 L642.0 459.3 L642.7 458.7 L643.4 458.6 L644.1 458.3 L644.8 458.3 L645.5 458.5 L646.2 458.4 L646.9 458.6 L647.6 458.6 L648.3 458.2 L649.0 458.6 L649.7 458.4 L650.4 458.5 L651.1 458.5 L651.8 458.5 L652.5 458.4 L653.2 458.1 L653.9 458.4 L654.6 458.2 L655.3 458.4 L656.0 458.0 L656.7 458.0 L657.4 458.2 L658.1 458.0 L658.8 458.1 L659.5 458.1 L660.2 458.3 L660.9 458.5 L661.6 458.6 L662.3 458.2 L663.0 458.2 L663.7 458.5 L664.4 458.3 L665.1 458.3 L665.8 458.6 L666.5 458.4 L667.2 458.5 L667.9 458.6 L668.6 458.8 L669.3 462.5 L669.3 462.5Z" fill="#606060"/>
<line x1="546.80" y1="463.10" x2="669.30" y2="463.10" stroke="#a8a8a8" stroke-width="1.2"/>
<line x1="411.60" y1="451.65" x2="411.60" y2="464.25" stroke="#222" stroke-width="0.9"/>
<line x1="409.80" y1="451.65" x2="411.60" y2="451.65" stroke="#222" stroke-width="0.9"/>
<line x1="409.80" y1="464.25" x2="411.60" y2="464.25" stroke="#222" stroke-width="0.9"/>
<text x="0" y="3.17" font-size="8.8" font-weight="bold" text-anchor="end" fill="#000" stroke="#000" stroke-width="0.3" transform="translate(409.60 451.95) scale(1.14 1)">500</text>
<text x="0" y="3.17" font-size="8.8" font-weight="bold" text-anchor="end" fill="#000" stroke="#000" stroke-width="0.3" transform="translate(409.60 463.75) scale(1.14 1)">0</text>
<rect x="452.6" y="304.7" width="8.6" height="157.4" fill="#e4c82c" fill-opacity="0.72"/>
<rect x="572.6" y="305.2" width="11.4" height="157.8" fill="#e4c82c" fill-opacity="0.72"/>
<line x1="411.00" y1="466.60" x2="534.00" y2="466.60" stroke="#6a3aa8" stroke-width="1.0"/>
<rect x="411.00" y="465.30" width="42.00" height="2.60" fill="#6a3aa8"/>
<rect x="453.00" y="464.90" width="8.70" height="3.00" fill="#6a3aa8"/>
<rect x="500.20" y="464.90" width="31.70" height="3.00" fill="#6a3aa8"/>
<line x1="462" y1="466.4" x2="500" y2="466.4" stroke="#fff" stroke-width="0.6" stroke-dasharray="1 2.2"/>
<line x1="547.00" y1="466.40" x2="669.00" y2="466.40" stroke="#6a3aa8" stroke-width="0.9"/>
<line x1="547" y1="466.4" x2="669" y2="466.4" stroke="#6a3aa8" stroke-width="2.2" stroke-dasharray="0.9 2.1"/>
<rect x="562.60" y="464.90" width="5.80" height="3.00" fill="#6a3aa8"/>
<rect x="573.30" y="464.90" width="9.20" height="3.00" fill="#6a3aa8"/>
<rect x="621.20" y="464.90" width="6.70" height="3.00" fill="#6a3aa8"/>
<rect x="656.00" y="464.90" width="12.80" height="3.00" fill="#6a3aa8"/>
<text x="0" y="3.31" font-size="9.2" font-weight="bold" text-anchor="end" fill="#000" stroke="#000" stroke-width="0.3" transform="translate(531.00 474.90) scale(1.08 1)">Hoxa10</text>
<text x="0" y="3.31" font-size="9.2" font-weight="bold" text-anchor="end" fill="#000" stroke="#000" stroke-width="0.3" transform="translate(670.00 474.90) scale(1.08 1)">Vim</text>
<line x1="371.20" y1="318.40" x2="371.20" y2="370.50" stroke="#111" stroke-width="1.0"/>
<line x1="371.20" y1="406.00" x2="371.20" y2="460.00" stroke="#111" stroke-width="1.0"/>
<line x1="387.80" y1="314.70" x2="387.80" y2="340.70" stroke="#111" stroke-width="1.0"/>
<line x1="387.80" y1="354.40" x2="387.80" y2="379.20" stroke="#111" stroke-width="1.0"/>
<line x1="387.80" y1="396.00" x2="387.80" y2="421.00" stroke="#111" stroke-width="1.0"/>
<line x1="387.80" y1="437.00" x2="387.80" y2="462.00" stroke="#111" stroke-width="1.0"/>
<text x="0" y="3.10" font-size="8.6" font-weight="bold" text-anchor="middle" fill="#000" stroke="#000" stroke-width="0.3" transform="translate(366.60 348.90) rotate(-90) scale(1.05 1)">M3<tspan font-size="5.68" dy="-2.58">f/f</tspan></text>
<text x="0" y="3.10" font-size="8.6" font-weight="bold" text-anchor="middle" fill="#000" stroke="#000" stroke-width="0.3" transform="translate(366.60 430.90) rotate(-90) scale(1.05 1)">M3<tspan font-size="5.68" dy="-2.58">d/d</tspan></text>
<text x="0" y="2.74" font-size="7.6" font-weight="bold" text-anchor="middle" fill="#000" stroke="#000" stroke-width="0.3" transform="translate(382.00 325.90) rotate(-90) scale(1.05 1)">m<tspan font-size="4.6" dy="-2.6">6</tspan><tspan dy="2.6">A-seq</tspan></text>
<text x="0" y="2.74" font-size="7.6" font-weight="bold" text-anchor="middle" fill="#000" stroke="#000" stroke-width="0.3" transform="translate(382.00 366.20) rotate(-90) scale(1.05 1)">RNA-seq</text>
<text x="0" y="2.74" font-size="7.6" font-weight="bold" text-anchor="middle" fill="#000" stroke="#000" stroke-width="0.3" transform="translate(382.00 406.70) rotate(-90) scale(1.05 1)">m<tspan font-size="4.6" dy="-2.6">6</tspan><tspan dy="2.6">A-seq</tspan></text>
<text x="0" y="2.74" font-size="7.6" font-weight="bold" text-anchor="middle" fill="#000" stroke="#000" stroke-width="0.3" transform="translate(382.00 450.60) rotate(-90) scale(1.05 1)">RNA-seq</text>
<line x1="434.00" y1="486.80" x2="477.00" y2="486.80" stroke="#bbb" stroke-width="0.6"/>
<path d="M434.0 486.8 L436.9 486.0 L439.7 483.7 L442.6 481.4 L445.5 483.0 L448.3 483.7 L451.2 482.2 L454.1 472.3 L456.9 473.0 L459.8 476.1 L462.7 477.6 L465.5 479.1 L468.4 482.2 L471.3 484.5 L474.1 486.0 L477.0 486.8" fill="none" stroke="#6dd0ae" stroke-width="0.6"/>
<path d="M434.0 486.8 L436.9 486.0 L439.7 484.5 L442.6 482.2 L445.5 481.4 L448.3 483.7 L451.2 483.0 L454.1 477.6 L456.9 478.4 L459.8 479.1 L462.7 480.7 L465.5 481.4 L468.4 483.7 L471.3 485.3 L474.1 486.0 L477.0 486.8" fill="none" stroke="#4cc0a0" stroke-width="0.6"/>
<path d="M434.0 486.8 L436.9 486.3 L439.7 485.3 L442.6 483.7 L445.5 483.7 L448.3 484.5 L451.2 483.7 L454.1 480.7 L456.9 479.9 L459.8 481.4 L462.7 482.2 L465.5 483.0 L468.4 484.5 L471.3 485.6 L474.1 486.3 L477.0 486.8" fill="none" stroke="#a6da72" stroke-width="0.6"/>
<path d="M434.0 486.8 L436.9 486.5 L439.7 485.6 L442.6 484.5 L445.5 484.5 L448.3 485.0 L451.2 484.5 L454.1 482.2 L456.9 481.4 L459.8 482.2 L462.7 483.0 L465.5 483.7 L468.4 485.3 L471.3 486.0 L474.1 486.5 L477.0 486.8" fill="none" stroke="#90d060" stroke-width="0.6"/>
<line x1="434.00" y1="502.60" x2="477.00" y2="502.60" stroke="#bbb" stroke-width="0.6"/>
<path d="M434.0 502.6 L436.9 499.6 L439.7 495.1 L442.6 488.3 L445.5 489.0 L448.3 493.5 L451.2 495.1 L454.1 489.8 L456.9 490.5 L459.8 492.0 L462.7 493.5 L465.5 493.5 L468.4 496.6 L471.3 499.6 L474.1 501.1 L477.0 502.6" fill="none" stroke="#999" stroke-width="0.6"/>
<path d="M434.0 502.6 L436.9 501.1 L439.7 498.1 L442.6 492.0 L445.5 492.8 L448.3 495.1 L451.2 496.6 L454.1 493.5 L456.9 492.8 L459.8 495.1 L462.7 495.8 L465.5 496.6 L468.4 498.1 L471.3 500.3 L474.1 501.8 L477.0 502.6" fill="none" stroke="#777" stroke-width="0.6"/>
<path d="M434.0 502.6 L436.9 501.8 L439.7 500.3 L442.6 497.3 L445.5 497.3 L448.3 498.1 L451.2 498.8 L454.1 497.3 L456.9 496.6 L459.8 498.1 L462.7 498.8 L465.5 499.6 L468.4 500.3 L471.3 501.1 L474.1 501.8 L477.0 502.6" fill="none" stroke="#444" stroke-width="0.6"/>
<path d="M434.0 502.6 L436.9 501.8 L439.7 501.1 L442.6 498.8 L445.5 498.1 L448.3 498.8 L451.2 499.6 L454.1 498.1 L456.9 498.1 L459.8 498.8 L462.7 499.6 L465.5 500.3 L468.4 501.1 L471.3 501.8 L474.1 502.1 L477.0 502.6" fill="none" stroke="#222" stroke-width="0.6"/>
<line x1="552.20" y1="487.80" x2="595.60" y2="487.80" stroke="#bbb" stroke-width="0.6"/>
<path d="M552.2 486.4 L555.1 483.8 L558.0 480.4 L560.9 479.7 L563.8 481.7 L566.7 481.1 L569.6 478.4 L572.5 475.7 L575.3 475.0 L578.2 478.4 L581.1 479.7 L584.0 478.4 L586.9 480.4 L589.8 483.8 L592.7 486.4 L595.6 487.1" fill="none" stroke="#6dd0ae" stroke-width="0.6"/>
<path d="M552.2 486.4 L555.1 484.4 L558.0 481.7 L560.9 481.1 L563.8 482.4 L566.7 481.7 L569.6 479.7 L572.5 477.7 L575.3 477.0 L578.2 479.7 L581.1 481.1 L584.0 480.4 L586.9 481.7 L589.8 484.4 L592.7 486.4 L595.6 487.1" fill="none" stroke="#4cc0a0" stroke-width="0.6"/>
<path d="M552.2 487.1 L555.1 485.8 L558.0 483.8 L560.9 483.1 L563.8 483.8 L566.7 483.8 L569.6 482.4 L572.5 481.1 L575.3 480.4 L578.2 481.7 L581.1 482.4 L584.0 482.4 L586.9 483.8 L589.8 485.8 L592.7 487.1 L595.6 487.5" fill="none" stroke="#a6da72" stroke-width="0.6"/>
<path d="M552.2 487.1 L555.1 486.4 L558.0 484.4 L560.9 483.8 L563.8 484.4 L566.7 484.4 L569.6 483.8 L572.5 482.4 L575.3 481.7 L578.2 483.1 L581.1 483.8 L584.0 483.8 L586.9 485.1 L589.8 486.4 L592.7 487.1 L595.6 487.5" fill="none" stroke="#90d060" stroke-width="0.6"/>
<line x1="552.20" y1="504.00" x2="595.60" y2="504.00" stroke="#bbb" stroke-width="0.6"/>
<path d="M552.2 503.4 L555.1 501.5 L558.0 499.1 L560.9 498.5 L563.8 499.7 L566.7 498.5 L569.6 495.4 L572.5 492.9 L575.3 492.3 L578.2 494.2 L581.1 496.6 L584.0 497.9 L586.9 499.7 L589.8 501.5 L592.7 502.8 L595.6 503.4" fill="none" stroke="#999" stroke-width="0.6"/>
<path d="M552.2 503.4 L555.1 502.2 L558.0 500.3 L560.9 499.7 L563.8 500.3 L566.7 499.7 L569.6 497.9 L572.5 496.0 L575.3 495.4 L578.2 496.6 L581.1 497.9 L584.0 499.1 L586.9 500.3 L589.8 502.2 L592.7 503.4 L595.6 503.6" fill="none" stroke="#777" stroke-width="0.6"/>
<path d="M552.2 503.8 L555.1 502.8 L558.0 501.5 L560.9 500.9 L563.8 501.5 L566.7 500.9 L569.6 500.3 L572.5 499.1 L575.3 499.1 L578.2 499.7 L581.1 500.3 L584.0 500.9 L586.9 501.5 L589.8 502.8 L592.7 503.4 L595.6 503.8" fill="none" stroke="#444" stroke-width="0.6"/>
<path d="M552.2 503.8 L555.1 503.4 L558.0 502.2 L560.9 501.5 L563.8 502.2 L566.7 501.5 L569.6 500.9 L572.5 500.3 L575.3 500.3 L578.2 500.9 L581.1 501.5 L584.0 501.5 L586.9 502.2 L589.8 502.8 L592.7 503.4 L595.6 503.8" fill="none" stroke="#222" stroke-width="0.6"/>
<defs>
<filter id="fNucJ" x="0" y="0" width="1" height="1" color-interpolation-filters="sRGB">
 <feTurbulence type="fractalNoise" baseFrequency="0.21" numOctaves="2" seed="4" result="t"/>
 <feColorMatrix in="t" type="matrix" values="0 0 0 0 0.14  0 0 0 0 0.10  0 0 0 0 0.98  9 0 0 0 -3.9" result="c"/>
 <feComposite in="c" in2="SourceAlpha" operator="in"/>
</filter>
<filter id="fMagJ" x="0" y="0" width="1" height="1" color-interpolation-filters="sRGB">
 <feTurbulence type="fractalNoise" baseFrequency="0.26" numOctaves="2" seed="9" result="t"/>
 <feColorMatrix in="t" type="matrix" values="0 0 0 0 0.93  0 0 0 0 0.28  0 0 0 0 0.88  9 0 0 0 -3.9" result="c"/>
 <feComposite in="c" in2="SourceAlpha" operator="in"/>
</filter>
<filter id="fSpB" x="0" y="0" width="1" height="1" color-interpolation-filters="sRGB">
 <feTurbulence type="fractalNoise" baseFrequency="0.34" numOctaves="2" seed="2" result="t"/>
 <feColorMatrix in="t" type="matrix" values="0 0 0 0 0.13  0 0 0 0 0.05  0 0 0 0 1  7 0 0 0 -2.45" result="c"/>
 <feComposite in="c" in2="SourceAlpha" operator="in"/>
</filter>
<filter id="fSpM" x="0" y="0" width="1" height="1" color-interpolation-filters="sRGB">
 <feTurbulence type="fractalNoise" baseFrequency="0.42" numOctaves="2" seed="11" result="t"/>
 <feColorMatrix in="t" type="matrix" values="0 0 0 0 0.95  0 0 0 0 0.25  0 0 0 0 0.9  10 0 0 0 -5.6" result="c"/>
 <feComposite in="c" in2="SourceAlpha" operator="in"/>
</filter>
<filter id="fSpM2" x="0" y="0" width="1" height="1" color-interpolation-filters="sRGB">
 <feTurbulence type="fractalNoise" baseFrequency="0.38" numOctaves="2" seed="13" result="t"/>
 <feColorMatrix in="t" type="matrix" values="0 0 0 0 1  0 0 0 0 0.2  0 0 0 0 0.95  8 0 0 0 -3.2" result="c"/>
 <feComposite in="c" in2="SourceAlpha" operator="in"/>
</filter>
<filter id="fFog" x="0" y="0" width="1" height="1" color-interpolation-filters="sRGB">
 <feTurbulence type="fractalNoise" baseFrequency="0.045" numOctaves="2" seed="5" result="t"/>
 <feColorMatrix in="t" type="matrix" values="0 0 0 0 0  0 0 0 0 0  0 0 0 0 0  2.0 0 0 0 -1.05" result="c"/>
 <feComposite in="c" in2="SourceAlpha" operator="in"/>
</filter>
<filter id="fBl" x="-0.05" y="-0.05" width="1.1" height="1.1"><feGaussianBlur stdDeviation="0.6"/></filter>
<filter id="fBl2" x="-0.1" y="-0.1" width="1.2" height="1.2"><feGaussianBlur stdDeviation="1.1"/></filter>
</defs>
<defs><clipPath id="cp1"><rect x="20.9" y="541.9" width="104.4" height="104.89999999999998"/></clipPath></defs>
<g clip-path="url(#cp1)"><g filter="url(#fBl)"><rect x="18.9" y="539.9" width="108.4" height="108.89999999999998" fill="#000"/><path d="M54.9 569.2h0M75.5 578.4h0M62.3 574.1h0M33.8 570.3h0M91.1 570.5h0M115.8 634.8h0M68.7 572.1h0M89.8 636.7h0M107.4 562.9h0M42.0 545.2h0M121.1 570.3h0M61.5 623.4h0M50.5 618.5h0M20.7 584.2h0M21.8 629.2h0M49.9 628.5h0M100.8 552.0h0M51.4 626.4h0M93.1 585.7h0M33.3 558.2h0M56.7 593.5h0M89.7 634.5h0M93.8 600.4h0M76.2 606.6h0M24.5 544.6h0M77.9 586.8h0M112.8 565.2h0M56.6 567.3h0M89.8 627.3h0M29.7 581.9h0M92.7 620.3h0M102.3 557.8h0M97.0 589.0h0M115.0 561.2h0M109.8 639.6h0M84.8 558.4h0M56.5 580.0h0M114.5 558.7h0M63.8 580.1h0M76.5 619.2h0M22.2 565.3h0M27.8 593.5h0M89.1 625.5h0M97.6 557.6h0M126.5 541.6h0M40.0 608.5h0M88.8 582.4h0M92.7 589.1h0M52.8 574.1h0M65.4 551.7h0M96.3 558.3h0M81.7 640.9h0M107.1 628.9h0M39.0 627.6h0M20.3 564.5h0M48.7 613.7h0M125.4 563.1h0M73.0 571.2h0M97.4 541.1h0M117.2 572.6h0M38.2 629.8h0M97.9 625.7h0M114.2 589.3h0M65.5 626.2h0M72.5 566.5h0M85.4 587.6h0M101.5 634.8h0M104.8 547.4h0M78.8 588.6h0M23.9 571.3h0M19.7 616.8h0M42.0 559.3h0M112.7 569.2h0M93.3 612.2h0M87.6 548.3h0M42.4 629.6h0M61.1 572.7h0M72.6 543.7h0M96.0 624.1h0M123.7 574.3h0M93.7 642.0h0M112.1 590.2h0M122.5 599.0h0M80.1 602.6h0M39.1 582.5h0M73.5 625.6h0M79.7 577.6h0M124.2 548.5h0M38.1 577.9h0M125.1 590.8h0M62.3 629.5h0M44.0 627.0h0M27.1 604.6h0M120.8 605.6h0M45.3 563.1h0M106.2 568.8h0M119.7 586.7h0M29.7 619.3h0M99.0 612.9h0M20.0 580.2h0M72.1 639.5h0M29.1 586.8h0M56.9 608.0h0M67.9 574.6h0M71.3 599.1h0M23.3 574.7h0M46.3 570.1h0M57.6 569.9h0M58.7 614.4h0M44.2 643.7h0M27.4 572.0h0M97.6 611.1h0M52.0 570.8h0M96.4 580.9h0M106.2 638.8h0M35.3 613.3h0M44.2 601.5h0M116.0 609.0h0M113.9 576.9h0M49.8 598.9h0M57.9 596.9h0M46.3 562.6h0M84.9 552.1h0M43.8 549.7h0M93.7 557.1h0M48.6 633.2h0M75.4 590.7h0M54.5 596.2h0M103.1 579.2h0M33.8 559.9h0M94.9 592.0h0M119.7 563.9h0M96.3 582.3h0M49.5 618.0h0M53.6 564.0h0M67.6 586.2h0M28.0 647.2h0M62.1 579.4h0M32.7 556.0h0M38.8 547.7h0M78.4 610.3h0M111.1 568.4h0M106.1 621.3h0M25.2 561.4h0M40.8 634.7h0M99.8 546.8h0M45.2 557.5h0M86.9 586.6h0M121.2 631.1h0M49.8 569.6h0M73.3 584.1h0M105.0 560.9h0M112.9 604.0h0M61.6 645.2h0M56.7 623.9h0M123.3 637.1h0M125.5 588.1h0M102.9 630.7h0M51.2 589.2h0M118.7 625.0h0M52.0 624.2h0M31.5 582.7h0M81.1 573.3h0M20.0 602.5h0M85.5 612.0h0M36.9 547.6h0M23.8 599.1h0M23.0 562.1h0M73.0 580.8h0M93.2 554.5h0M74.9 585.9h0M40.1 638.9h0M120.0 644.9h0M46.1 542.6h0M94.5 638.0h0M56.7 572.3h0M106.3 600.1h0M83.1 617.3h0M75.4 629.2h0M79.2 620.3h0M20.1 592.4h0M116.9 592.9h0M93.9 597.7h0M119.9 548.2h0M49.5 558.0h0M113.3 646.1h0M39.7 571.0h0M45.6 605.8h0M95.8 567.7h0M108.6 589.1h0M72.8 579.7h0M68.3 543.5h0M23.2 645.3h0M50.2 578.1h0M125.0 573.7h0M28.9 634.6h0M62.2 610.5h0M51.2 553.7h0M42.6 623.4h0M77.4 612.1h0M98.0 602.2h0M92.6 561.0h0M38.8 587.5h0M110.1 564.3h0M103.3 630.0h0M98.6 551.7h0M32.9 627.9h0M42.7 542.4h0M82.2 615.8h0M108.1 617.7h0M83.6 579.1h0M119.4 569.0h0M68.0 552.0h0M81.3 614.7h0M74.8 580.7h0M23.8 609.0h0M23.5 622.5h0M85.9 633.8h0M90.5 622.8h0M49.4 642.3h0M82.4 599.6h0M60.5 631.7h0M87.4 600.2h0M85.3 625.5h0M126.1 561.4h0M123.1 570.8h0M66.0 619.9h0M107.0 577.1h0M52.3 597.7h0M70.9 583.7h0M51.4 541.2h0M119.9 578.0h0M118.0 608.2h0M30.8 559.3h0M59.5 561.3h0M30.2 623.3h0M72.2 556.5h0M74.8 614.0h0M109.6 587.3h0M41.9 544.0h0M82.8 597.3h0M126.7 566.9h0M24.7 597.6h0M94.2 565.4h0M48.8 560.4h0M110.5 602.5h0M48.7 579.0h0M46.5 542.4h0M109.0 623.6h0M53.1 577.4h0M119.8 568.6h0M95.0 639.7h0M51.9 625.3h0M53.3 646.5h0M34.6 558.9h0M94.4 577.5h0M68.4 633.2h0M36.2 564.5h0M85.7 565.5h0M67.9 563.7h0M87.8 611.2h0M24.2 625.7h0M120.5 572.6h0M104.2 573.5h0M116.4 644.0h0M95.5 584.6h0M56.3 560.0h0M114.5 641.4h0M95.6 639.9h0M55.2 548.9h0M70.9 648.7h0M83.4 631.1h0M89.3 584.7h0M71.8 566.2h0M61.2 644.4h0M118.7 606.6h0M95.5 575.2h0M88.7 638.1h0M27.2 646.1h0M37.6 544.9h0M21.4 584.0h0M99.0 566.2h0M121.1 623.4h0M34.0 624.9h0M41.9 617.4h0M24.3 627.0h0M56.7 614.9h0M26.5 594.3h0M60.8 555.8h0M64.7 645.8h0M22.8 644.6h0M55.9 627.5h0M107.1 603.3h0M85.8 645.5h0M67.1 627.9h0M71.2 575.2h0M126.9 555.2h0M122.1 620.9h0M37.9 636.7h0M23.2 618.2h0M123.2 623.0h0M118.5 615.8h0M98.0 638.6h0M119.5 580.0h0M37.8 581.2h0M30.2 638.4h0M65.4 646.3h0M30.7 589.7h0M84.3 580.2h0M95.8 568.7h0M22.1 636.6h0M77.2 575.4h0M104.1 551.1h0M51.8 593.6h0M111.8 603.7h0M68.9 608.1h0M119.9 580.7h0M39.1 598.5h0M33.5 566.5h0M90.3 588.9h0M38.1 540.1h0M124.3 631.7h0M87.8 600.8h0M70.7 645.4h0M126.3 643.1h0M89.1 611.5h0M119.3 565.1h0M72.5 601.8h0M54.1 604.2h0M82.1 640.5h0M69.0 584.3h0M78.5 540.2h0M22.1 543.0h0M114.1 634.3h0M100.9 568.2h0M85.5 556.3h0M77.3 597.2h0M92.3 553.1h0M119.4 604.0h0M127.2 550.0h0M97.7 629.0h0M126.6 565.6h0M54.3 637.1h0M94.7 552.0h0M84.6 572.3h0M105.6 551.4h0M97.2 583.5h0M36.1 567.5h0M105.5 643.0h0M123.6 544.2h0M114.6 608.2h0M61.2 544.1h0M96.6 598.3h0M42.3 598.1h0M27.6 642.7h0M110.7 619.8h0M126.5 559.3h0M71.4 643.9h0M116.8 609.7h0M30.9 593.8h0M78.8 598.4h0M50.0 564.1h0M51.6 566.8h0M123.2 558.3h0M41.3 646.9h0M32.9 543.5h0M61.4 600.5h0M90.2 634.4h0M118.2 541.5h0M105.8 563.8h0M85.0 629.6h0M32.1 598.9h0M119.8 584.4h0M88.2 623.4h0M58.4 551.7h0M94.1 542.3h0M119.5 592.3h0M78.9 555.4h0M77.0 587.8h0M89.7 550.0h0M50.0 598.9h0M102.7 612.0h0M21.8 642.3h0M61.7 609.2h0M125.6 631.0h0M57.9 567.7h0M74.0 594.4h0M33.5 606.4h0M110.2 559.3h0M85.8 598.5h0M41.9 633.2h0M33.8 624.9h0M26.9 636.9h0M48.4 615.8h0M90.9 613.3h0M102.5 569.4h0" stroke="#2016e0" stroke-width="5.00" stroke-linecap="round" fill="none"/><path d="M66.7 604.4h0M96.1 584.4h0M57.3 608.0h0M28.9 598.7h0M62.3 614.4h0M54.4 546.0h0M94.4 574.7h0M26.6 544.7h0M121.9 594.7h0M34.0 546.9h0M79.4 587.2h0M23.9 599.0h0M73.9 603.1h0M30.7 540.5h0M86.5 540.1h0M74.1 582.3h0M112.8 597.5h0M34.8 555.7h0M107.8 565.0h0M83.4 578.1h0M52.0 579.8h0M86.1 579.2h0M55.3 579.0h0M111.0 646.2h0M101.4 622.8h0M60.2 619.3h0M91.8 647.5h0M45.0 540.1h0M74.4 616.9h0M53.3 645.8h0M40.4 609.8h0M111.2 647.2h0M60.8 619.4h0M34.4 594.4h0M33.6 624.4h0M76.8 546.1h0M124.6 593.6h0M111.5 639.8h0M82.6 587.7h0M92.6 594.2h0M38.6 540.0h0M101.7 639.7h0M96.4 597.9h0M109.8 576.0h0M49.3 625.4h0M114.8 600.7h0M76.2 606.9h0M61.1 586.2h0M26.4 603.9h0M106.1 578.3h0M95.0 619.6h0M93.4 558.8h0M67.2 605.5h0M114.5 542.2h0M30.0 560.9h0M104.8 557.0h0M76.9 572.8h0M94.1 586.4h0M48.5 597.8h0M115.6 633.9h0M76.9 617.9h0M119.0 617.1h0M85.8 623.8h0M31.2 602.1h0M47.3 594.3h0M28.2 571.0h0M74.9 628.5h0M125.1 646.1h0M86.3 628.1h0M61.2 553.1h0M52.3 613.6h0M79.9 552.2h0M42.4 614.7h0M120.9 588.4h0M75.1 637.5h0M99.2 613.2h0M77.7 628.9h0M54.2 545.7h0M106.7 613.9h0M29.7 642.3h0M69.1 589.7h0M27.4 556.1h0M106.4 616.9h0M80.7 597.6h0M57.5 625.8h0M124.9 549.5h0M47.6 624.0h0M93.7 625.1h0M33.7 584.4h0M69.9 542.4h0M80.4 557.9h0M73.0 623.4h0M28.8 641.9h0M99.9 579.5h0M29.1 614.7h0M65.6 648.4h0M69.9 606.7h0M55.6 556.0h0M63.3 563.8h0M73.7 567.0h0M97.5 633.3h0M92.3 570.9h0M24.7 621.7h0M62.3 646.2h0M32.0 606.9h0M111.9 573.6h0M61.5 568.2h0M20.6 644.7h0M62.3 629.9h0M19.4 638.0h0M71.9 630.4h0M52.0 565.3h0M68.9 584.6h0M54.9 559.2h0M22.0 542.1h0M34.7 562.2h0M109.3 612.3h0M79.7 547.8h0M53.0 643.5h0M115.9 637.7h0M57.9 610.7h0M46.0 609.9h0M76.7 603.9h0M24.7 565.2h0M49.5 596.3h0M52.6 580.8h0M72.7 601.3h0M57.7 577.6h0M81.0 608.0h0M99.1 608.4h0M32.0 578.5h0M88.2 617.5h0M117.2 619.5h0M83.8 606.4h0M48.1 602.5h0M58.5 576.2h0M42.9 644.0h0M123.8 573.2h0M74.7 547.3h0M108.7 569.1h0M111.2 565.4h0M74.5 615.1h0M83.5 638.6h0M98.5 592.1h0M61.2 583.1h0M68.2 629.9h0M22.1 573.0h0M94.6 551.8h0M105.6 578.3h0M114.7 565.7h0M102.6 633.4h0M54.2 601.4h0M102.9 642.5h0M81.1 637.2h0M115.4 645.6h0M41.1 589.6h0M85.5 606.5h0M30.0 602.5h0M118.6 598.8h0M38.5 573.4h0M117.4 585.6h0M27.9 570.9h0M80.9 557.8h0M72.1 592.5h0M90.9 570.1h0M39.3 590.6h0M38.6 600.9h0M61.6 632.6h0M38.9 597.5h0M49.1 554.9h0M33.6 600.8h0M75.2 607.2h0M92.6 548.1h0M124.1 642.0h0M47.1 558.3h0M105.0 549.1h0M88.4 573.6h0M123.5 554.5h0M72.1 553.6h0M32.8 617.9h0M104.3 556.8h0M126.6 556.2h0M51.0 567.0h0M46.5 604.9h0M20.2 627.7h0M107.3 644.0h0M89.2 554.3h0M50.2 554.1h0M120.0 605.8h0M96.4 623.5h0M100.3 645.3h0M38.8 579.7h0M70.2 606.4h0M73.1 567.1h0M53.1 613.3h0M27.2 629.9h0M28.4 586.2h0M113.6 560.0h0M75.1 562.6h0M31.1 606.5h0M116.4 584.6h0M118.3 575.3h0M92.5 634.5h0M38.2 619.4h0M49.4 583.1h0M34.5 637.6h0M50.2 583.4h0M110.6 584.3h0M81.4 603.9h0M104.4 588.8h0M114.8 564.8h0M126.6 541.1h0M107.1 596.3h0M113.9 557.2h0M28.7 623.8h0M63.7 570.0h0M110.6 605.1h0M41.6 602.8h0M83.9 545.2h0M75.6 605.0h0M39.2 637.7h0M59.6 600.9h0M53.2 587.0h0M125.1 581.5h0M69.5 567.8h0M63.0 570.9h0M123.1 641.8h0M34.6 623.8h0M115.8 612.8h0M120.8 569.5h0M117.9 625.1h0M92.7 590.2h0M97.4 642.8h0M38.1 542.9h0M87.9 547.0h0M116.3 632.7h0M126.9 554.3h0M65.4 546.7h0M95.1 552.5h0M30.9 562.2h0M36.4 634.8h0M118.7 616.2h0M94.8 587.0h0M40.9 560.8h0M27.8 549.7h0M49.5 600.1h0M26.6 601.2h0M73.0 573.1h0M27.4 583.8h0M111.2 620.4h0M95.9 572.8h0M37.4 623.8h0M28.2 590.2h0M57.9 560.8h0M24.4 572.8h0M80.9 594.4h0M107.2 609.4h0M123.3 564.5h0M51.8 578.2h0M34.5 570.5h0M73.2 582.2h0M50.5 624.5h0M97.9 640.3h0M77.8 603.3h0M83.6 640.5h0M54.6 632.8h0M73.8 623.6h0M103.9 571.5h0M83.2 589.2h0M36.7 581.6h0M122.3 576.7h0M33.1 614.7h0M70.1 606.4h0M32.7 597.0h0M67.5 602.2h0M70.3 600.1h0M126.1 552.4h0M24.7 578.0h0M31.8 543.6h0M100.1 630.9h0M19.5 560.2h0M41.8 581.3h0M126.3 548.4h0M61.0 597.4h0M40.7 576.6h0M95.3 614.2h0M105.2 616.0h0M55.2 554.8h0M20.7 612.4h0M105.2 616.4h0M84.3 584.4h0M24.0 588.7h0M31.0 572.0h0M101.9 603.7h0M115.7 633.6h0M97.1 641.8h0M35.4 620.6h0M87.5 599.8h0M32.0 594.3h0M117.0 617.7h0M119.7 624.8h0M26.1 583.5h0M110.5 618.4h0M72.0 589.4h0M61.5 580.0h0M57.3 591.2h0M83.0 556.7h0M37.3 608.6h0M81.1 593.3h0M75.3 578.5h0M127.0 572.4h0M76.6 572.5h0M84.1 573.1h0M64.8 545.2h0M55.8 589.3h0M85.7 624.0h0M24.4 575.0h0M45.2 590.1h0M117.2 641.2h0M97.4 641.7h0M73.2 607.2h0M33.5 618.7h0M47.7 600.2h0M44.1 595.7h0" stroke="#3428ff" stroke-width="4.20" stroke-linecap="round" fill="none"/><polygon points="93.5,541.9 128.8,541.9 128.8,593.0 117.6,586.6 107.9,575.3 99.9,562.5 95.1,549.6" fill="#000"/><polygon points="56.5,550.0 71.0,550.9 80.3,558.0 86.7,570.8 93.5,583.7 97.3,599.7 98.0,615.5 94.8,629.9 86.7,639.2 71.0,647.3 50.1,647.3 31.2,637.6 26.4,620.3 28.0,604.2 32.8,588.2 40.8,571.3 48.8,556.4" fill="#6a2c98" stroke="#58c83c" stroke-width="3.2" stroke-linejoin="round"/><polygon points="56.5,574.5 67.8,572.9 77.4,579.3 82.2,591.4 85.8,604.2 85.4,617.1 80.6,626.7 69.4,630.3 58.1,629.9 46.9,625.1 38.1,615.5 41.8,607.4 44.5,594.6 48.5,585.0 54.1,577.7" fill="none" stroke="#5ccc3c" stroke-width="11.0" stroke-linejoin="round"/><path d="M54.7 635.5h0M56.0 552.0h0M37.1 582.2h0M77.4 558.8h0M42.0 640.3h0M88.9 633.3h0M58.2 646.0h0M34.3 596.9h0M33.2 629.0h0M92.8 622.6h0M38.7 637.3h0M72.7 563.4h0M47.1 584.2h0M37.5 628.1h0M63.5 647.2h0M62.0 561.8h0M71.7 572.8h0M92.3 612.9h0M75.2 571.0h0M90.3 588.8h0M94.6 610.2h0M77.4 632.9h0M51.2 632.6h0M51.4 631.1h0M70.9 561.6h0M35.4 618.9h0M33.5 637.1h0M33.9 596.3h0M77.2 557.0h0M64.6 567.2h0M56.9 644.6h0M36.8 592.9h0M48.3 585.5h0M42.1 588.6h0M85.9 627.3h0M65.8 646.4h0M30.1 623.7h0M31.5 602.0h0M53.6 629.5h0M44.2 629.9h0M88.3 622.6h0M52.1 560.3h0M75.3 576.3h0M49.4 568.0h0M34.3 620.5h0M74.6 637.9h0M39.6 593.7h0M31.4 621.5h0M50.9 556.9h0M54.0 552.2h0M52.8 575.6h0M87.0 577.1h0M65.2 553.4h0M82.8 633.3h0M36.0 620.8h0M47.0 565.2h0M72.4 645.9h0M62.4 641.7h0M46.5 629.6h0M88.7 609.2h0M54.7 634.8h0M75.4 629.2h0M75.4 567.0h0M78.2 572.9h0M34.7 611.6h0M53.6 646.3h0M60.7 630.9h0M73.9 558.3h0M41.7 580.7h0M33.3 607.0h0M88.8 582.6h0M86.2 634.3h0M67.5 634.0h0M60.6 562.2h0M36.9 613.1h0M32.5 597.9h0M62.3 644.1h0M33.4 593.7h0M83.7 632.0h0M96.4 614.2h0M42.4 572.6h0M83.2 576.5h0M45.5 584.1h0M40.4 627.2h0M81.8 569.6h0M95.7 601.7h0M45.3 628.3h0M80.8 562.4h0M50.4 644.0h0M46.7 637.6h0M48.7 579.0h0M49.9 641.1h0M61.6 551.6h0M54.0 634.8h0M57.8 646.5h0M76.2 636.4h0M88.8 606.3h0M53.5 570.1h0M50.3 629.5h0M87.8 585.2h0M29.2 616.2h0M48.3 557.4h0M85.7 595.5h0M66.3 552.7h0M72.3 632.7h0M81.0 628.2h0M91.5 589.3h0M85.7 611.2h0M44.4 625.3h0M81.9 631.4h0M33.5 589.0h0M87.4 588.0h0M38.5 594.4h0M46.7 584.5h0M93.2 596.9h0M34.6 605.6h0M93.8 613.2h0M55.5 550.9h0M34.7 585.4h0M53.6 553.0h0M95.3 624.6h0M43.6 642.9h0M61.3 569.2h0M82.5 571.0h0M53.9 646.2h0M94.7 620.2h0M31.4 623.2h0M50.7 557.2h0M79.3 573.8h0M42.3 636.8h0M91.2 617.1h0M88.5 578.1h0M29.5 607.5h0M52.7 645.5h0M81.7 631.7h0M35.2 629.4h0M33.4 604.5h0M47.6 572.7h0M40.5 633.5h0M64.7 635.3h0M38.8 637.7h0M56.3 636.1h0M51.8 560.7h0M65.9 557.1h0M60.6 640.0h0M89.0 602.6h0M95.1 615.7h0M34.7 632.1h0M82.9 578.9h0M74.2 566.1h0" stroke="#ec48c0" stroke-width="4.20" stroke-linecap="round" fill="none" stroke-opacity="0.85"/><path d="M35.0 623.2h0M93.5 603.8h0M68.5 560.3h0M38.1 608.0h0M36.1 617.8h0M32.4 634.0h0M91.8 593.7h0M75.1 558.1h0M50.6 576.7h0M42.7 633.7h0M88.4 609.2h0M49.4 581.9h0M45.9 642.9h0M47.4 559.6h0M49.3 633.7h0M87.8 609.3h0M51.1 641.3h0M54.5 560.5h0M49.0 641.9h0M34.4 622.1h0M46.9 560.2h0M94.2 620.0h0M49.4 570.3h0M60.1 571.1h0M65.3 563.3h0M34.4 598.9h0M62.5 571.6h0M91.4 603.0h0M83.0 626.5h0M44.7 571.6h0M79.2 561.8h0M83.7 640.4h0M43.0 596.5h0M37.2 587.4h0M96.3 598.8h0M84.6 567.5h0M87.9 624.7h0M49.8 628.7h0M92.4 612.0h0M75.3 572.8h0M72.4 556.4h0M36.0 638.1h0M30.4 609.8h0M94.4 612.0h0M82.8 578.3h0M71.4 571.0h0M93.6 602.2h0M83.7 572.6h0M90.3 633.5h0M56.3 574.2h0M85.2 597.6h0M93.5 593.4h0M95.5 615.5h0M56.4 561.4h0M28.3 607.2h0M93.3 614.7h0M95.1 604.9h0M90.8 618.7h0M50.5 645.8h0M70.0 557.0h0M86.5 620.3h0M94.2 605.6h0M34.3 607.0h0M89.1 582.2h0M70.2 571.9h0M68.4 573.1h0M64.3 568.2h0M63.1 566.5h0M65.7 569.8h0M92.6 632.0h0M72.3 574.9h0M82.5 624.3h0M64.5 645.6h0M92.5 606.5h0M37.7 622.9h0M35.3 628.4h0M89.1 591.2h0M41.1 605.0h0M44.2 582.8h0M59.3 566.1h0M36.1 589.3h0M35.1 610.8h0M30.2 598.8h0M92.2 616.5h0M74.3 558.5h0M68.8 553.6h0M33.5 635.9h0M30.0 621.1h0M33.3 587.2h0M39.2 589.4h0M42.9 591.8h0M42.6 623.2h0M36.1 631.0h0M39.2 604.3h0M39.9 622.9h0M31.9 600.4h0M85.9 625.9h0M65.6 551.8h0M77.2 635.8h0M91.6 591.8h0M35.1 598.1h0M37.4 578.7h0M39.3 631.9h0M68.5 635.7h0M91.8 591.1h0M40.1 629.4h0M88.0 607.7h0M29.2 610.2h0M33.3 598.6h0M43.9 625.7h0M80.6 638.0h0M32.0 613.3h0M54.1 559.6h0M35.6 588.7h0M37.0 601.0h0M89.3 594.2h0M91.5 593.8h0M62.8 634.9h0M28.2 625.5h0M57.6 558.3h0" stroke="#a848f0" stroke-width="4.00" stroke-linecap="round" fill="none" stroke-opacity="0.8"/><path d="M72.1 645.1h0M52.9 562.8h0M64.3 555.8h0M96.2 611.4h0M60.5 557.2h0M36.0 597.0h0M75.1 554.3h0M93.8 610.9h0M65.8 553.6h0M60.7 570.0h0M33.6 635.2h0M58.9 634.2h0M82.0 578.5h0M39.8 604.7h0M91.0 582.4h0M91.4 603.0h0M55.3 572.5h0M83.7 589.9h0M38.3 607.9h0M61.1 557.2h0M44.6 637.4h0M90.3 591.0h0M88.2 599.6h0M48.3 580.7h0M90.9 634.4h0M50.3 573.9h0M36.9 581.8h0M49.6 577.2h0M50.4 627.2h0M63.2 637.2h0M35.8 609.8h0M92.0 620.1h0M68.9 567.0h0M41.1 597.0h0M67.3 554.7h0M49.0 576.4h0M71.7 636.5h0M65.1 637.2h0M78.8 636.8h0M67.7 569.7h0M37.8 584.0h0M95.5 607.8h0M85.4 629.2h0M48.8 628.7h0M30.9 627.3h0M88.4 595.4h0M34.1 639.0h0M78.0 572.5h0M93.3 604.8h0M67.2 642.6h0M64.4 570.0h0M48.4 580.4h0M52.6 564.9h0M91.1 583.3h0M60.5 556.7h0M58.1 563.7h0M60.4 562.7h0M43.8 643.2h0M29.7 599.3h0M85.2 624.2h0" stroke="#ff70c8" stroke-width="2.80" stroke-linecap="round" fill="none" stroke-opacity="0.75"/><path d="M87.1 541.9 L93.5 557.7 L101.5 572.1 L111.1 585.0 L120.8 596.2 L130.4 602.6" fill="none" stroke="#5ccc3c" stroke-width="16.0" stroke-linejoin="round" stroke-linecap="round"/><path d="M87.1 541.9 L93.5 557.7 L101.5 572.1 L111.1 585.0 L120.8 596.2 L130.4 602.6" fill="none" stroke="#6a2a9a" stroke-width="11.5" stroke-linejoin="round" stroke-linecap="round"/><path d="M92.8 551.3h0M105.4 580.9h0M125.0 599.5h0M95.0 550.0h0M104.7 582.1h0M93.1 560.6h0M119.5 587.7h0M92.7 555.5h0M96.8 556.1h0M113.7 583.0h0M105.9 585.5h0M90.2 543.4h0M90.2 548.9h0M115.8 594.0h0M98.3 563.0h0M105.8 578.5h0M85.8 548.8h0M116.9 595.1h0M89.0 548.1h0M87.4 553.2h0M95.7 553.3h0M104.9 576.5h0M99.9 573.5h0M107.5 578.9h0M124.1 595.2h0M108.5 574.9h0M120.0 591.1h0M105.7 580.8h0M92.9 546.2h0M103.5 576.5h0M94.0 555.1h0M126.1 601.4h0M91.1 554.5h0M98.8 558.4h0M84.8 543.6h0M129.4 599.0h0M113.2 591.1h0M87.7 554.8h0M125.7 594.5h0M92.2 559.7h0M102.6 567.0h0M84.6 545.5h0M126.9 599.7h0M114.3 591.1h0M131.0 600.8h0M102.5 575.0h0M124.4 603.2h0M117.3 592.6h0M93.8 567.4h0M112.3 592.9h0M95.9 561.4h0M102.8 572.6h0M123.1 597.6h0M115.2 589.8h0M122.7 601.2h0M92.4 565.1h0M119.8 598.9h0M113.0 586.3h0M94.5 550.3h0M97.4 567.2h0M123.0 596.4h0M112.9 588.4h0M122.0 601.7h0M85.3 543.5h0M92.4 564.1h0M90.0 546.1h0M87.1 544.9h0M92.0 543.8h0M110.4 578.7h0M84.1 543.9h0M120.3 595.6h0M120.5 597.0h0M124.5 594.3h0M86.6 545.3h0M95.6 562.9h0M115.5 590.2h0M92.5 564.4h0M99.8 568.1h0M108.4 574.2h0M105.3 578.9h0M90.2 554.5h0M98.6 575.1h0M102.6 566.1h0M126.5 597.6h0M126.9 602.1h0M98.1 565.9h0M115.8 595.7h0M92.7 550.8h0M89.6 548.6h0M97.2 560.2h0M108.1 588.1h0M92.7 556.4h0M100.4 571.4h0M99.9 563.3h0M92.7 564.1h0M100.6 577.9h0M90.2 542.1h0" stroke="#e04ae0" stroke-width="4.00" stroke-linecap="round" fill="none" stroke-opacity="0.92"/><path d="M127.5 596.4h0M110.3 578.9h0M91.1 551.3h0M122.0 597.7h0M89.9 541.9h0M128.4 604.5h0M106.4 576.0h0M100.6 561.7h0M90.9 559.6h0M95.9 568.6h0M126.8 602.2h0M96.5 561.9h0M92.8 549.4h0M101.8 563.9h0M121.2 596.5h0M97.3 566.9h0M103.4 571.9h0M99.9 568.1h0M97.6 562.5h0M100.0 575.6h0M116.2 596.0h0M99.4 576.3h0M85.8 547.2h0M115.4 583.2h0" stroke="#ff78f4" stroke-width="2.80" stroke-linecap="round" fill="none" stroke-opacity="0.8"/><path d="M124.0 541.9 L127.2 551.2" fill="none" stroke="#5ccc3c" stroke-width="10.5" stroke-linejoin="round" stroke-linecap="round"/><path d="M124.0 541.9 L127.2 551.2" fill="none" stroke="#6a2a9a" stroke-width="6.0" stroke-linejoin="round" stroke-linecap="round"/><path d="M127.5 549.5h0M128.0 546.9h0M125.3 548.2h0M125.9 545.0h0M124.7 550.0h0M124.9 541.6h0" stroke="#e04ae0" stroke-width="4.00" stroke-linecap="round" fill="none" stroke-opacity="0.92"/><path d="M126.5 546.5h0" stroke="#ff78f4" stroke-width="2.80" stroke-linecap="round" fill="none" stroke-opacity="0.8"/><polygon points="56.5,574.5 67.8,572.9 77.4,579.3 82.2,591.4 85.8,604.2 85.4,617.1 80.6,626.7 69.4,630.3 58.1,629.9 46.9,625.1 38.1,615.5 41.8,607.4 44.5,594.6 48.5,585.0 54.1,577.7" fill="#000" stroke="#6ad848" stroke-width="1.6" stroke-linejoin="round"/><ellipse cx="71.0" cy="605.0" rx="2.2" ry="2.2" transform="rotate(0 71.0 605.0)" fill="#2a7a20"/></g></g>
<line x1="94.30" y1="644.10" x2="124.00" y2="644.10" stroke="#e8783a" stroke-width="1.6"/>
<defs><clipPath id="cp2"><rect x="139.5" y="541.9" width="105.4" height="104.89999999999998"/></clipPath></defs>
<g clip-path="url(#cp2)"><g filter="url(#fBl)"><rect x="137.5" y="539.9" width="109.4" height="108.89999999999998" fill="#000"/><path d="M173.4 601.4h0M230.2 627.5h0M179.9 634.9h0M244.5 555.8h0M157.6 646.1h0M148.1 567.7h0M246.6 628.8h0M159.2 584.2h0M246.3 567.4h0M222.3 567.4h0M184.0 642.1h0M209.6 586.4h0M242.9 637.6h0M240.9 597.2h0M150.9 574.5h0M157.3 570.6h0M154.2 613.1h0M222.5 542.2h0M226.7 627.5h0M193.0 646.8h0M148.5 543.8h0M150.3 555.6h0M221.3 608.4h0M150.9 629.9h0M215.6 602.4h0M166.9 581.8h0M244.7 605.9h0M143.6 587.2h0M199.2 615.1h0M196.0 563.2h0M211.9 594.7h0M210.6 647.3h0M236.7 574.6h0M220.9 562.7h0M175.4 546.1h0M223.6 564.1h0M228.4 605.3h0M227.4 615.4h0M157.4 620.0h0M226.3 587.4h0M223.4 574.9h0M147.9 595.2h0M145.4 579.7h0M238.7 633.4h0M219.5 583.0h0M153.7 596.5h0M146.9 623.6h0M225.2 549.4h0M172.3 597.6h0M179.7 615.6h0M141.5 622.1h0M210.1 564.5h0M146.1 554.4h0M154.4 590.4h0M154.5 541.2h0M178.3 544.5h0M140.3 628.6h0M203.0 568.3h0M168.9 584.9h0M183.9 607.0h0M156.3 605.9h0M207.1 633.6h0M226.5 623.4h0M201.5 545.5h0M235.5 610.8h0M203.4 579.3h0M147.1 552.1h0M236.7 590.4h0M180.9 637.7h0M190.6 575.5h0M181.4 593.9h0M204.7 617.2h0M142.0 621.8h0M215.3 640.3h0M176.0 553.3h0M244.3 571.3h0M229.9 640.1h0M217.3 570.9h0M193.4 601.9h0M167.5 603.0h0M245.0 603.6h0M203.3 588.6h0M165.4 632.3h0M147.5 591.4h0M204.9 647.4h0M156.4 643.4h0M208.1 545.1h0M172.6 555.1h0M233.6 611.4h0M234.9 544.9h0M185.4 633.3h0M152.8 577.0h0M204.9 634.3h0M161.4 564.3h0M142.0 601.9h0M208.0 544.6h0M151.6 590.6h0M206.2 545.0h0M234.1 600.0h0M205.2 609.7h0M178.8 604.7h0M180.3 620.3h0M193.7 545.7h0M178.7 546.8h0M235.0 548.3h0M185.9 619.8h0M183.1 542.4h0M159.6 584.8h0M165.0 630.0h0M161.3 643.4h0M212.3 565.0h0M183.5 603.3h0M155.3 638.4h0M152.9 614.1h0M193.1 631.4h0M147.1 555.1h0M199.0 567.6h0M164.7 574.4h0M221.4 597.9h0M153.4 610.1h0M155.2 540.0h0M167.1 582.0h0M191.0 565.9h0M153.8 629.6h0M149.4 597.0h0M225.7 578.2h0M209.8 569.7h0M208.6 547.9h0M242.7 642.6h0M242.5 613.6h0M187.6 607.3h0M225.6 636.6h0M191.4 576.1h0M158.5 571.7h0M214.5 549.2h0M204.6 545.2h0M222.9 564.1h0M186.6 633.4h0M219.1 552.6h0M210.7 581.8h0M245.6 565.0h0M204.9 591.1h0M192.4 609.2h0M183.3 625.0h0M205.8 567.6h0M160.3 610.8h0M197.7 557.4h0M184.7 640.2h0M183.1 572.1h0M205.5 546.2h0M176.4 639.9h0M141.4 554.7h0M175.8 564.0h0M141.9 595.8h0M204.3 542.4h0M216.4 599.6h0M206.6 566.0h0M206.6 648.7h0M235.5 580.3h0M139.8 579.3h0M220.6 584.8h0M205.0 614.1h0M185.0 563.6h0M219.4 591.0h0M194.6 577.1h0M197.1 606.3h0M228.2 616.4h0M198.0 632.1h0M221.4 624.2h0M148.2 640.9h0M186.8 569.1h0M219.2 558.8h0M205.3 545.9h0M211.4 625.0h0M217.0 598.0h0M222.9 562.6h0M189.4 600.6h0M168.0 640.7h0M239.3 601.0h0M139.5 574.7h0M217.3 597.1h0M216.1 600.8h0M224.4 633.4h0M241.4 593.9h0M219.1 630.1h0M165.2 642.8h0M148.8 589.2h0M145.9 636.1h0M218.4 545.7h0M174.2 616.4h0M161.5 560.1h0M171.7 582.7h0M192.5 566.4h0M169.2 639.5h0M142.8 561.6h0M160.2 593.9h0M207.8 592.7h0M240.9 592.5h0M149.1 552.9h0M202.9 549.9h0M220.8 616.8h0M165.2 644.7h0M243.5 578.9h0M153.4 590.7h0M169.2 628.7h0M151.7 593.4h0M182.1 629.1h0M181.4 552.8h0M139.4 586.5h0M178.9 584.2h0M217.6 577.7h0M195.4 551.7h0M138.4 585.4h0M212.6 575.2h0M241.0 548.0h0M149.7 566.3h0M160.5 552.6h0M156.2 646.5h0M172.3 636.2h0M235.9 588.4h0M222.4 621.3h0M207.1 603.1h0M203.6 548.2h0M206.8 605.7h0M234.0 623.6h0M191.3 606.8h0M167.9 565.6h0M154.8 604.7h0M170.0 564.2h0M217.0 637.4h0M151.4 646.9h0M176.3 586.5h0M211.8 638.9h0M230.0 631.7h0M204.5 608.4h0M138.2 598.4h0M144.1 638.5h0M168.5 609.5h0M143.9 629.0h0M158.5 546.6h0M170.3 613.7h0M202.2 571.5h0M182.7 540.9h0M157.6 551.1h0M242.3 560.8h0M209.1 610.3h0M146.1 623.8h0M225.3 622.9h0M148.5 546.8h0M209.2 644.3h0M216.7 541.9h0M210.3 551.4h0M159.6 583.5h0M213.5 577.6h0M166.0 620.8h0M175.3 580.7h0M147.0 570.1h0M220.1 541.5h0M194.5 571.4h0M208.9 566.4h0M189.9 610.9h0M239.5 554.9h0M192.6 607.2h0M139.8 554.6h0M161.4 584.8h0M137.8 563.2h0M186.1 626.5h0M242.9 637.6h0M148.1 550.0h0M199.4 596.5h0M151.2 595.1h0M239.2 592.2h0M186.2 576.3h0M205.8 644.5h0M201.7 577.6h0M213.4 598.4h0M203.9 583.8h0M148.0 622.8h0M171.4 547.0h0M177.6 563.4h0M215.3 542.3h0M228.7 603.9h0M148.8 619.7h0M181.9 604.8h0M169.8 556.3h0M174.1 604.1h0M245.1 612.3h0M192.6 621.4h0M220.0 581.3h0M142.5 635.1h0M153.5 558.1h0M171.0 615.9h0M183.9 585.0h0M154.7 624.6h0M218.2 608.3h0M235.7 543.9h0M227.0 624.4h0M189.7 581.3h0M245.1 626.0h0M241.3 544.0h0M218.9 569.8h0M141.3 629.2h0M234.9 625.6h0M196.9 601.9h0M147.7 612.3h0M168.6 629.2h0M146.4 561.1h0M166.5 597.8h0M171.5 581.2h0M191.4 556.2h0M196.0 542.0h0M185.0 605.2h0M194.9 541.8h0M194.7 638.5h0M178.3 569.2h0M228.1 631.5h0M225.4 590.6h0M161.2 552.6h0M206.5 556.4h0M209.6 555.1h0M186.2 610.4h0M208.2 573.8h0M201.9 637.5h0M220.9 589.0h0M141.9 549.0h0M159.4 543.0h0M211.5 608.6h0M142.6 645.2h0M187.7 637.9h0M158.6 612.7h0M240.0 615.3h0M168.0 641.8h0M172.7 582.9h0M191.3 570.6h0M233.9 591.1h0M148.2 575.4h0M219.7 638.0h0M144.3 620.8h0M231.8 540.2h0M196.9 638.4h0M206.1 641.8h0M214.8 566.8h0M230.7 593.1h0M150.1 582.8h0M139.6 636.3h0M139.8 635.8h0M155.4 548.0h0M210.5 601.5h0M195.7 572.9h0M179.3 585.5h0M237.2 599.4h0M233.0 600.6h0M174.3 554.7h0M193.4 612.7h0M140.0 579.3h0M211.1 570.3h0M243.8 601.0h0M220.0 560.7h0M228.9 577.8h0M152.0 588.3h0M158.3 589.3h0M237.0 582.6h0M159.9 619.2h0M175.9 603.8h0M225.3 568.2h0M161.9 552.1h0M209.3 547.6h0M238.5 547.0h0M230.5 624.9h0M220.0 646.7h0M178.7 616.5h0M201.4 540.0h0M197.1 612.6h0M171.0 570.5h0M148.0 543.3h0M156.2 545.7h0M140.3 573.3h0M193.4 617.4h0M153.3 640.5h0M229.9 589.6h0M148.8 601.1h0M139.4 553.7h0M204.2 578.1h0M238.2 606.4h0M212.7 632.2h0M191.9 584.0h0M208.3 551.2h0M157.2 550.8h0M222.2 607.6h0M157.4 635.7h0M153.9 562.0h0M173.7 624.9h0M203.9 648.3h0M218.3 625.4h0M216.5 621.1h0M195.1 644.0h0M218.3 595.7h0M204.5 593.0h0M175.4 612.6h0M228.4 611.2h0M143.5 582.2h0M183.1 647.2h0M170.2 571.1h0M144.7 543.4h0M176.1 585.5h0M198.5 544.4h0M241.4 631.1h0M156.5 588.8h0M216.6 551.3h0M162.8 565.0h0M196.9 620.5h0M225.1 578.7h0M140.3 550.7h0M177.5 550.0h0M169.3 626.1h0M190.1 572.5h0M182.8 631.5h0M245.7 615.6h0M147.2 629.0h0M233.7 588.7h0M155.0 613.7h0M226.5 646.7h0M227.6 565.3h0M155.8 642.9h0M232.1 613.7h0M143.9 553.2h0M200.5 644.4h0M217.6 602.3h0M202.6 591.2h0M229.9 590.9h0M234.6 587.7h0M189.1 647.6h0M209.9 588.5h0M138.7 585.7h0M162.3 584.6h0M142.4 584.5h0M178.4 628.2h0M172.6 620.6h0M201.7 605.5h0M223.9 635.8h0M152.3 570.5h0M141.7 603.3h0M143.4 571.8h0M236.4 583.5h0M181.6 569.6h0M223.8 595.6h0M190.5 633.6h0M155.1 542.0h0M235.5 625.8h0M218.6 627.5h0M194.6 550.1h0" stroke="#2016e0" stroke-width="5.00" stroke-linecap="round" fill="none"/><path d="M158.7 617.3h0M152.6 605.3h0M181.8 640.8h0M221.4 578.6h0M150.9 599.2h0M207.0 543.7h0M190.2 555.6h0M172.9 621.2h0M238.3 551.0h0M175.6 595.8h0M240.5 637.2h0M224.5 557.0h0M220.1 613.5h0M141.8 584.8h0M193.2 560.3h0M154.8 584.4h0M137.9 576.4h0M193.9 569.4h0M194.5 637.1h0M188.6 581.8h0M211.9 636.2h0M150.7 630.0h0M236.9 639.5h0M158.2 637.5h0M174.0 578.1h0M168.8 626.0h0M206.7 556.0h0M170.7 603.0h0M228.4 606.2h0M210.3 573.5h0M230.7 606.9h0M203.4 570.7h0M200.0 574.6h0M181.1 642.4h0M186.0 560.6h0M182.6 564.8h0M215.0 563.0h0M215.1 590.4h0M182.9 603.3h0M244.5 604.5h0M160.4 574.8h0M153.2 608.9h0M237.0 546.6h0M167.0 552.3h0M195.3 631.0h0M154.1 630.1h0M181.2 598.4h0M203.3 642.0h0M240.5 646.6h0M201.2 644.1h0M223.5 602.6h0M202.5 573.7h0M154.6 589.7h0M165.2 540.1h0M239.5 562.8h0M243.2 594.5h0M165.8 583.3h0M147.7 600.1h0M171.6 540.2h0M161.6 585.4h0M237.8 563.9h0M228.1 587.7h0M175.4 582.5h0M193.6 574.8h0M204.3 622.3h0M234.5 585.6h0M201.2 556.1h0M194.2 635.9h0M158.2 548.1h0M138.2 567.3h0M178.6 599.5h0M180.2 647.1h0M199.4 635.4h0M163.1 566.7h0M196.5 540.4h0M214.9 574.6h0M215.7 595.9h0M229.6 562.0h0M240.3 646.7h0M182.3 602.8h0M138.1 601.0h0M183.6 624.7h0M218.7 616.7h0M245.5 542.0h0M174.8 606.6h0M237.1 574.6h0M222.6 628.5h0M191.0 615.9h0M219.3 612.3h0M229.7 546.2h0M228.5 545.6h0M202.1 579.0h0M195.1 631.6h0M168.8 594.7h0M219.9 598.2h0M198.4 606.6h0M244.2 548.8h0M184.9 628.6h0M141.7 624.6h0M176.5 559.3h0M220.8 614.6h0M217.6 621.4h0M219.4 647.9h0M230.6 547.1h0M146.9 610.5h0M174.1 576.2h0M237.3 566.4h0M182.9 645.4h0M211.2 605.2h0M159.5 627.4h0M182.0 644.2h0M177.8 582.3h0M183.3 639.2h0M218.7 606.0h0M141.7 557.0h0M174.0 618.7h0M175.1 578.4h0M183.9 541.5h0M226.3 573.0h0M243.0 638.9h0M201.8 604.8h0M215.6 546.6h0M246.2 605.4h0M198.7 616.2h0M201.5 629.9h0M194.2 575.0h0M156.5 572.2h0M179.5 575.1h0M197.2 606.4h0M174.8 590.8h0M213.2 648.7h0M158.8 547.0h0M213.4 624.9h0M218.9 576.8h0M145.7 579.6h0M228.0 563.6h0M210.1 578.1h0M236.2 541.5h0M203.4 571.3h0M217.0 598.1h0M183.4 647.3h0M187.6 610.5h0M207.0 574.2h0M201.7 642.9h0M245.3 586.7h0M205.5 613.7h0M149.2 569.5h0M200.2 635.1h0M184.8 628.2h0M200.2 630.3h0M238.9 575.7h0M180.0 544.7h0M224.0 596.1h0M233.1 550.2h0M186.9 631.3h0M159.8 598.5h0M233.2 624.8h0M160.2 587.7h0M178.4 587.2h0M146.0 638.4h0M198.2 633.9h0M210.6 547.1h0M176.5 556.8h0M170.2 623.5h0M222.4 541.9h0M220.5 543.6h0M139.4 638.7h0M147.5 606.5h0M225.9 545.5h0M227.6 577.9h0M229.7 625.6h0M189.6 606.2h0M184.0 549.8h0M202.4 606.9h0M145.1 592.1h0M164.5 582.8h0M204.4 569.5h0M175.5 543.0h0M215.8 626.4h0M246.1 590.3h0M180.4 579.6h0M205.3 602.9h0M146.2 589.3h0M238.5 574.1h0M204.4 646.4h0M150.3 643.4h0M174.1 595.6h0M171.2 571.4h0M186.4 611.2h0M199.6 549.8h0M216.6 589.7h0M146.3 581.0h0M239.6 617.1h0M237.6 572.5h0M150.9 545.7h0M160.2 637.1h0M141.9 614.6h0M141.4 540.3h0M242.1 622.6h0M233.6 569.1h0M152.7 628.9h0M221.0 568.1h0M214.3 607.5h0M142.3 645.8h0M155.2 609.2h0M171.3 592.7h0M224.5 553.9h0M167.9 586.2h0M172.8 611.4h0M230.8 629.5h0M206.7 598.3h0M209.9 571.1h0M214.4 559.1h0M239.1 623.3h0M218.6 591.0h0M202.8 589.4h0M209.9 548.6h0M192.9 584.6h0M233.6 549.1h0M232.2 643.1h0M242.3 570.3h0M170.4 556.8h0M224.3 617.4h0M162.4 616.4h0M164.8 625.3h0M144.2 635.9h0M183.3 636.6h0M194.1 553.3h0M221.7 618.2h0M140.4 555.7h0M152.7 584.3h0M197.6 604.0h0M237.9 591.8h0M196.8 615.5h0M242.2 640.2h0M195.7 581.5h0M149.1 557.7h0M159.2 590.5h0M203.5 551.2h0M194.6 635.3h0M234.2 633.7h0M228.4 591.5h0M191.9 548.0h0M243.6 586.1h0M139.1 634.2h0M218.9 611.9h0M161.6 547.3h0M201.3 562.8h0M196.5 616.7h0M177.6 629.6h0M233.5 647.0h0M141.5 592.4h0M219.1 577.2h0M217.4 554.7h0M192.1 648.6h0M179.9 548.5h0M198.0 558.6h0M193.7 636.7h0M243.3 616.1h0M213.5 585.8h0M208.5 598.0h0M181.7 576.5h0M188.9 541.1h0M217.9 606.2h0M174.8 619.5h0M218.3 591.8h0M197.2 550.4h0M142.1 629.0h0M168.2 619.5h0M181.6 623.6h0M232.6 547.0h0M154.0 588.7h0M147.9 540.9h0M182.9 549.4h0M238.9 630.4h0M140.4 607.0h0M216.9 549.0h0M140.4 563.5h0M221.0 552.9h0M154.0 617.9h0M188.0 598.0h0M149.1 553.0h0M179.8 596.2h0M182.7 630.1h0M217.1 618.7h0M209.6 576.6h0M202.2 564.1h0M236.8 581.9h0M204.5 619.8h0M216.4 554.5h0M142.3 571.0h0M195.4 574.2h0M167.1 621.7h0M151.7 561.0h0M188.6 551.7h0M227.9 605.8h0M236.2 570.9h0M194.1 593.1h0M229.2 584.3h0M207.1 644.4h0M186.0 548.5h0M214.5 568.9h0M208.4 648.1h0M236.1 555.5h0M146.9 641.1h0M175.6 570.2h0M193.7 568.6h0M201.4 564.2h0M222.4 637.6h0M228.4 643.3h0M164.3 577.4h0M183.8 547.8h0M194.0 556.6h0M231.4 557.6h0M163.2 561.5h0M216.0 595.5h0M171.1 601.8h0M200.4 636.1h0M150.8 599.4h0M165.3 558.3h0M240.4 625.2h0M162.9 627.7h0M157.7 558.9h0M166.3 642.6h0M234.7 619.3h0M168.5 636.7h0M208.3 556.1h0M238.1 584.3h0M232.5 540.8h0M239.6 567.4h0M233.0 601.0h0M139.7 583.1h0M187.7 640.0h0M214.0 549.4h0M181.2 648.0h0M216.8 588.7h0M166.0 640.8h0M152.9 583.4h0M188.7 605.2h0M229.7 620.5h0M201.5 627.3h0M219.7 573.2h0M149.0 639.7h0M216.8 562.8h0M197.2 586.2h0M172.2 553.2h0M217.7 568.5h0M145.3 582.3h0M173.2 634.6h0M159.7 544.6h0M242.4 593.0h0M167.7 629.9h0M189.8 581.8h0M191.4 607.0h0M137.6 645.1h0M187.4 605.4h0M226.0 610.6h0M139.7 614.7h0M175.2 596.5h0M222.9 550.1h0M152.7 563.3h0M245.8 602.5h0M198.8 623.0h0M240.5 647.2h0M163.5 648.5h0M246.3 587.0h0M137.9 616.4h0M159.7 545.2h0M192.8 638.6h0" stroke="#3428ff" stroke-width="4.20" stroke-linecap="round" fill="none"/><polygon points="138.9,541.0 166.5,541.0 160.1,545.9 150.0,554.9 148.0,562.0 138.9,566.5" fill="#000"/><path d="M168.9 544.8 L154.9 556.1 L152.1 565.7 L165.1 571.5 L180.0 572.4 L190.6 570.5" fill="none" stroke="#6a5a20" stroke-width="14.5" stroke-linejoin="round" stroke-linecap="round"/><path d="M168.9 544.8 L154.9 556.1 L152.1 565.7 L165.1 571.5 L180.0 572.4 L190.6 570.5" fill="none" stroke="#3a2ab0" stroke-width="10.0" stroke-linejoin="round" stroke-linecap="round"/><path d="M164.1 548.3h0M180.2 572.7h0M186.6 574.6h0M165.1 550.6h0M172.3 569.3h0M157.1 569.1h0M165.0 549.4h0M182.9 575.9h0M158.5 564.9h0M163.4 553.8h0M168.4 573.6h0M151.2 565.3h0M190.1 568.8h0M159.5 569.4h0M158.2 556.6h0M176.2 572.3h0M186.1 570.0h0M151.2 562.6h0M176.3 573.0h0M189.8 572.2h0M155.9 566.0h0M187.1 571.4h0M169.9 567.8h0M159.6 569.0h0M181.7 570.1h0M163.3 572.2h0M175.3 573.7h0M158.2 565.8h0M157.1 553.4h0M168.1 544.1h0M178.5 570.1h0M167.2 569.2h0M188.4 572.4h0M186.0 569.5h0M166.0 545.3h0M183.2 574.7h0M185.8 568.6h0M148.6 563.3h0M161.8 574.0h0M155.1 564.6h0M169.8 573.8h0M175.6 574.3h0M190.5 574.1h0M170.3 570.5h0M157.8 564.6h0M152.5 564.7h0M150.8 561.1h0M165.6 548.3h0M154.5 562.3h0M169.4 572.4h0M183.2 574.0h0M174.9 575.3h0M186.6 572.0h0M157.5 556.8h0M165.5 572.6h0M155.8 550.3h0M164.0 566.7h0M153.7 556.3h0M153.9 556.7h0M159.7 573.1h0M170.4 548.5h0M152.2 556.4h0M153.5 563.4h0M181.2 576.1h0M178.2 575.3h0M160.4 568.8h0M155.5 565.5h0M154.3 562.4h0M156.2 566.7h0M167.8 545.1h0M152.1 563.0h0M183.1 575.2h0M152.3 562.9h0M188.9 574.8h0M156.5 557.1h0" stroke="#7048f0" stroke-width="4.00" stroke-linecap="round" fill="none" stroke-opacity="0.92"/><path d="M158.0 548.9h0M159.8 566.8h0M182.4 575.1h0M153.9 557.3h0M150.3 562.3h0M187.2 574.4h0M157.6 558.6h0M157.9 553.2h0M174.2 572.2h0M181.9 571.0h0M158.5 568.4h0M179.2 573.0h0M155.6 566.1h0M187.8 570.6h0M165.3 543.6h0M190.0 572.5h0M151.9 561.8h0M164.4 552.1h0" stroke="#ff78f4" stroke-width="2.80" stroke-linecap="round" fill="none" stroke-opacity="0.8"/><path d="M190.6 564.1 L194.1 575.0 L190.0 589.9 L180.0 600.1 L165.1 604.1 L150.0 602.0 L139.1 593.0" fill="none" stroke="#5a8a28" stroke-width="16.0" stroke-linejoin="round" stroke-linecap="round"/><path d="M190.6 564.1 L194.1 575.0 L190.0 589.9 L180.0 600.1 L165.1 604.1 L150.0 602.0 L139.1 593.0" fill="none" stroke="#5a2aa8" stroke-width="11.5" stroke-linejoin="round" stroke-linecap="round"/><path d="M190.2 593.1h0M177.4 598.8h0M171.2 603.1h0M148.5 602.5h0M190.2 576.7h0M179.7 604.1h0M162.6 607.8h0M152.2 603.0h0M171.5 599.8h0M164.8 599.8h0M189.7 594.0h0M156.6 598.7h0M168.9 606.4h0M174.2 604.2h0M178.8 596.0h0M187.5 582.6h0M165.4 603.0h0M194.0 578.5h0M147.1 597.8h0M146.5 595.8h0M143.6 599.0h0M194.1 587.6h0M192.1 574.9h0M187.2 596.8h0M192.5 589.0h0M185.6 593.6h0M141.3 594.6h0M142.3 592.5h0M172.9 601.7h0M193.4 576.0h0M194.4 590.9h0M188.7 596.9h0M179.3 600.5h0M190.5 576.1h0M182.8 599.5h0M168.6 606.9h0M182.1 597.2h0M197.1 577.1h0M190.5 575.8h0M166.3 600.3h0M169.6 602.1h0M183.0 599.3h0M178.7 603.6h0M142.1 595.9h0M188.9 581.8h0M143.3 600.2h0M149.2 596.6h0M175.4 602.9h0M189.6 565.8h0M173.9 597.9h0M165.4 600.6h0M162.6 601.9h0M141.9 596.6h0M140.0 592.8h0M188.4 583.9h0M156.0 605.1h0M182.2 602.1h0M156.3 600.7h0M162.1 606.0h0M193.7 575.1h0M183.3 600.0h0M145.6 596.8h0M182.5 594.9h0M190.2 579.8h0M193.3 574.9h0M166.3 604.8h0M144.2 591.4h0M168.0 606.1h0M189.1 582.4h0M187.5 594.0h0M177.2 602.4h0M195.3 573.3h0M187.1 595.0h0M189.1 568.2h0M144.1 601.3h0M158.7 601.3h0M156.2 599.9h0M187.1 595.0h0M151.2 600.0h0M182.1 598.5h0M170.2 606.2h0M193.4 575.2h0M169.8 600.5h0M190.1 571.1h0M194.0 568.3h0M193.9 564.6h0M164.8 601.8h0M149.3 597.0h0M144.5 600.9h0M176.2 604.1h0M164.1 606.3h0M146.4 595.4h0M155.2 598.7h0M187.1 586.1h0M170.9 599.2h0M161.2 603.0h0M188.2 568.8h0M167.6 606.2h0M178.6 601.5h0M141.6 597.4h0M187.0 567.7h0M146.4 603.0h0M164.3 607.6h0M148.6 601.9h0M190.9 582.6h0M150.5 600.9h0M191.7 571.9h0M184.0 590.8h0M147.1 595.8h0" stroke="#c84ae0" stroke-width="4.00" stroke-linecap="round" fill="none" stroke-opacity="0.92"/><path d="M167.8 600.4h0M187.3 590.8h0M138.8 597.2h0M155.2 601.9h0M189.5 569.3h0M159.0 605.9h0M140.8 592.0h0M154.8 602.7h0M195.6 577.4h0M153.7 598.9h0M187.8 587.8h0M195.4 573.8h0M155.1 600.8h0M189.1 576.9h0M165.0 601.2h0M142.1 591.5h0M170.7 604.3h0M183.2 592.2h0M142.7 590.4h0M168.6 604.9h0M178.5 598.4h0M192.4 577.0h0M193.5 567.7h0M175.5 597.3h0M149.7 601.4h0M192.6 581.1h0M186.8 584.6h0" stroke="#ff78f4" stroke-width="2.80" stroke-linecap="round" fill="none" stroke-opacity="0.8"/><path d="M211.5 544.0 L221.1 556.9 L230.7 571.3 L238.8 584.2 L248.4 594.6" fill="none" stroke="#3a8a28" stroke-width="13.0" stroke-linejoin="round" stroke-linecap="round"/><path d="M211.5 544.0 L221.1 556.9 L230.7 571.3 L238.8 584.2 L248.4 594.6" fill="none" stroke="#4a2ab8" stroke-width="8.5" stroke-linejoin="round" stroke-linecap="round"/><path d="M212.3 544.4h0M221.5 558.0h0M233.1 574.5h0M209.4 546.5h0M223.5 559.7h0M229.2 566.2h0M223.9 556.4h0M244.0 592.3h0M223.8 565.7h0M212.2 547.0h0M237.0 586.1h0M238.3 578.5h0M235.8 578.6h0M225.2 565.9h0M235.5 578.4h0M216.5 555.2h0M231.7 570.1h0M226.4 566.9h0M222.2 558.0h0M236.2 582.0h0M229.7 571.7h0M221.2 562.7h0M246.3 595.6h0M238.3 577.8h0M225.7 561.0h0M244.7 592.0h0M234.5 578.7h0M248.3 594.6h0M217.6 557.7h0M220.6 557.9h0M228.9 574.1h0M235.7 585.5h0M238.6 585.3h0M218.5 549.6h0M225.6 561.8h0M217.5 553.7h0M243.7 590.0h0M239.1 583.0h0M224.7 563.9h0M216.1 552.6h0M237.0 579.3h0M244.0 592.9h0M237.1 581.0h0M231.1 573.6h0M247.5 595.0h0M219.3 558.4h0M233.2 574.6h0M233.4 575.3h0M225.6 564.1h0M240.3 589.7h0M244.8 592.4h0M210.0 546.0h0M210.2 546.6h0M226.3 564.3h0M223.9 564.3h0M238.9 588.5h0M219.7 560.9h0M225.0 563.3h0M234.5 573.0h0" stroke="#b84ae0" stroke-width="4.00" stroke-linecap="round" fill="none" stroke-opacity="0.92"/><path d="M232.1 570.9h0M221.5 552.1h0M235.4 573.3h0M235.9 581.5h0M238.1 580.8h0M239.7 589.1h0M237.0 578.1h0M243.7 589.5h0M223.5 558.2h0M224.6 561.8h0M243.2 586.2h0M231.6 568.0h0M217.4 551.4h0M227.1 563.3h0" stroke="#ff78f4" stroke-width="2.80" stroke-linecap="round" fill="none" stroke-opacity="0.8"/><polygon points="139.1,575.7 159.9,577.3 180.0,576.3 184.2,580.1 181.9,585.8 175.0,594.3 159.9,595.6 145.0,591.7 139.1,589.5" fill="#000"/><polygon points="208.3,541.9 246.8,541.9 246.8,588.2 236.4,575.7 226.7,561.7 217.1,549.6" fill="#000"/><ellipse cx="225.1" cy="589.0" rx="1.6" ry="1.6" transform="rotate(0 225.1 589.0)" fill="#80f060"/></g></g>
<defs><clipPath id="cp3"><rect x="20.9" y="661.4" width="104.69999999999999" height="104.89999999999998"/></clipPath></defs>
<g clip-path="url(#cp3)"><g filter="url(#fBl)"><rect x="18.9" y="659.4" width="108.69999999999999" height="108.89999999999998" fill="#000"/><path d="M109.9 661.2h0M24.4 667.3h0M20.4 696.1h0M46.8 740.8h0M55.8 671.7h0M73.2 762.2h0M75.4 677.1h0M106.4 669.1h0M47.1 740.6h0M96.9 714.9h0M63.4 667.6h0M73.8 707.0h0M35.8 738.5h0M45.2 687.3h0M53.3 719.9h0M75.6 740.4h0M63.4 705.8h0M64.3 660.1h0M117.1 692.0h0M102.1 742.4h0M110.3 736.3h0M113.9 690.3h0M93.6 677.1h0M127.6 762.9h0M64.8 723.3h0M45.6 726.2h0M88.2 666.2h0M26.7 757.1h0M22.2 707.4h0M96.9 686.1h0M51.1 743.9h0M62.4 671.6h0M77.9 692.3h0M47.7 754.5h0M39.7 746.3h0M47.8 762.9h0M88.1 678.2h0M115.1 684.9h0M42.8 752.6h0M121.4 664.4h0M118.8 711.2h0M75.9 660.4h0M117.2 671.0h0M105.0 704.1h0M45.2 761.1h0M110.2 744.8h0M34.0 719.5h0M34.1 718.8h0M118.0 722.6h0M111.2 695.0h0M75.6 701.7h0M87.9 732.7h0M52.2 712.0h0M101.4 688.1h0M50.7 736.1h0M117.0 680.0h0M92.1 682.4h0M20.3 668.5h0M36.0 767.8h0M123.8 677.8h0M66.8 746.5h0M105.4 757.2h0M32.2 700.3h0M86.0 703.4h0M47.9 700.8h0M57.4 758.8h0M96.4 698.2h0M77.9 698.3h0M87.6 748.4h0M59.6 693.2h0M91.2 663.2h0M53.7 683.1h0M72.6 703.8h0M43.2 681.0h0M90.5 720.6h0M26.6 758.4h0M24.7 693.2h0M39.3 721.8h0M33.0 668.7h0M24.4 716.0h0M25.7 723.2h0M86.1 731.0h0M79.1 676.0h0M124.4 717.7h0M21.8 734.7h0M25.1 695.6h0M68.4 748.1h0M85.1 745.8h0M50.4 753.6h0M59.7 748.4h0M46.8 693.7h0M29.3 749.3h0M93.3 730.7h0M58.4 710.9h0M102.0 729.3h0M24.8 693.8h0M113.0 735.5h0M125.1 700.6h0M30.7 715.4h0M66.3 715.5h0M119.8 742.4h0M55.9 727.0h0M92.4 694.3h0M75.8 744.2h0M36.7 695.9h0M58.7 729.7h0M67.6 660.1h0M46.9 765.5h0M82.8 696.6h0M34.1 665.4h0M21.3 724.3h0M70.5 723.5h0M54.5 757.9h0M95.1 673.2h0M40.3 703.5h0M108.6 677.7h0M30.1 683.3h0M65.0 750.7h0M44.8 730.0h0M64.3 728.1h0M70.7 682.7h0M63.7 689.8h0M67.0 669.2h0M82.8 731.3h0M126.5 667.3h0M74.3 722.1h0M95.8 660.0h0M21.7 714.2h0M79.7 716.5h0M91.4 667.2h0M41.5 699.1h0M53.4 766.0h0M111.2 742.7h0M88.1 749.0h0M105.3 690.6h0M59.3 744.2h0M127.1 735.5h0M123.3 737.6h0M91.3 668.0h0M123.3 718.8h0M63.7 685.6h0M61.9 667.4h0M94.9 734.5h0M127.3 725.0h0M110.3 750.2h0M93.8 669.2h0M93.2 685.1h0M52.4 696.8h0M80.0 744.0h0M36.1 734.8h0M118.5 695.9h0M39.2 728.3h0M36.9 677.4h0M127.2 700.8h0M108.1 716.8h0M18.9 719.0h0M52.5 676.1h0M33.4 726.8h0M47.4 679.7h0M100.4 698.3h0M41.7 667.6h0M50.5 713.1h0M56.4 742.4h0M69.4 659.7h0M19.1 693.5h0M106.9 747.1h0M55.2 764.3h0M76.4 729.0h0M95.4 753.9h0M97.2 676.1h0M36.1 697.7h0M58.5 767.4h0M64.5 686.5h0M41.9 685.6h0M83.8 661.7h0M47.0 750.5h0M29.4 754.0h0M60.8 740.6h0M78.3 661.7h0M121.7 684.5h0M31.1 701.2h0M118.5 707.3h0M104.5 694.6h0M52.6 666.3h0M42.9 763.3h0M65.5 753.1h0M27.0 731.4h0M79.7 682.9h0M105.8 723.0h0M59.6 704.5h0M48.7 712.3h0M112.9 730.2h0M77.4 671.6h0M24.7 682.6h0M79.9 702.0h0M106.3 682.9h0M123.3 665.8h0M91.8 711.4h0M111.6 668.2h0M104.6 740.1h0M77.3 741.8h0M91.2 722.1h0M53.9 751.3h0M46.3 718.9h0M19.1 679.5h0M42.0 759.3h0M34.6 745.7h0M39.6 721.6h0M83.3 741.0h0M114.4 667.1h0M53.3 724.0h0M109.1 734.7h0M122.6 709.6h0M105.9 699.2h0M126.4 674.1h0M116.5 679.7h0M80.9 757.3h0M100.2 760.3h0M105.3 738.8h0M124.8 737.9h0M105.1 662.3h0M120.3 759.7h0M63.5 668.7h0M68.6 696.9h0M41.2 735.8h0M85.6 725.7h0M124.2 681.6h0M115.6 729.8h0M47.2 766.3h0M83.2 660.6h0M25.3 722.8h0M125.6 664.9h0M25.0 737.6h0M86.6 748.8h0M24.5 717.9h0M64.1 684.6h0M118.5 756.3h0M90.0 749.1h0M106.0 719.5h0M123.1 665.9h0M115.6 704.5h0M50.2 715.5h0M116.3 729.7h0M98.7 733.3h0M56.2 745.4h0M83.4 674.5h0M37.5 671.1h0M66.1 676.6h0M81.0 671.7h0M102.0 753.6h0M106.8 689.5h0M94.3 698.2h0M60.5 675.1h0M105.0 707.0h0M40.5 689.9h0M41.8 714.5h0M111.4 768.1h0M75.0 676.0h0M106.5 747.2h0M29.7 733.7h0M84.6 721.0h0M30.6 757.6h0M75.7 715.3h0M42.8 689.5h0M83.2 686.3h0M91.1 741.7h0M124.8 738.5h0M72.5 741.5h0M58.8 763.1h0M60.5 689.5h0M117.9 730.9h0M35.7 693.9h0M51.2 662.1h0M22.7 760.1h0M84.2 674.1h0M71.6 750.9h0M37.3 688.6h0M72.8 704.9h0M126.9 699.9h0M84.8 671.2h0M43.2 755.6h0M44.8 660.1h0M100.7 764.2h0M53.7 691.4h0M73.3 714.4h0M60.4 733.0h0M108.2 659.9h0M63.1 714.5h0M108.7 666.9h0M124.3 695.4h0M28.9 701.0h0M26.1 695.6h0M21.9 694.8h0M62.3 730.8h0M116.7 720.6h0M107.7 682.9h0M37.3 749.3h0M105.5 707.1h0M102.7 665.4h0M111.1 688.6h0M67.5 669.0h0M112.7 752.1h0M26.6 725.7h0M42.9 708.7h0M79.3 763.6h0M68.7 671.9h0M66.6 720.8h0M19.7 760.2h0M102.9 723.3h0M49.3 702.3h0M59.4 761.0h0M41.9 747.1h0M112.0 685.8h0M122.6 754.3h0M89.9 757.4h0M70.4 674.2h0M59.6 697.7h0M121.5 719.3h0M90.5 672.1h0M59.8 752.3h0M27.3 667.1h0M56.8 691.1h0M76.1 762.2h0M103.1 735.1h0M71.2 710.9h0M76.1 751.5h0M105.6 696.0h0M28.1 696.3h0M67.4 767.2h0M39.0 664.7h0M79.9 668.4h0M82.5 689.1h0M97.9 704.1h0M47.8 735.0h0M54.5 700.6h0M105.6 671.4h0M107.1 707.9h0M115.5 682.9h0M40.8 679.0h0M43.4 679.5h0M78.5 747.0h0M34.8 711.2h0M118.7 718.5h0M118.0 741.9h0M19.5 693.2h0M112.7 701.1h0M110.1 720.4h0M23.4 683.4h0M32.7 708.6h0M107.2 714.6h0M19.9 748.8h0M19.6 756.8h0M89.5 702.9h0M57.0 689.7h0M61.4 715.2h0M125.9 685.7h0M108.8 755.7h0M87.9 757.0h0M86.8 754.3h0M31.5 704.2h0M99.2 760.2h0M41.1 726.8h0M71.0 688.4h0M73.4 715.6h0M28.7 735.9h0M81.7 732.0h0M44.4 662.1h0M77.6 767.5h0M82.4 684.4h0M91.4 663.0h0M31.6 670.3h0M38.9 760.0h0M82.5 733.1h0M62.1 668.1h0M88.5 694.3h0M40.9 666.4h0M116.5 740.0h0M59.0 682.8h0M125.3 764.2h0M78.4 703.7h0M108.4 721.5h0M56.4 765.2h0M119.1 688.0h0M125.2 752.0h0M126.3 763.5h0M52.3 746.6h0M39.3 678.9h0M46.5 692.2h0M54.6 751.3h0M87.9 661.1h0M108.3 677.2h0M104.1 686.6h0M122.9 729.1h0M85.9 689.6h0M111.4 667.8h0M108.8 720.4h0" stroke="#2016e0" stroke-width="5.00" stroke-linecap="round" fill="none"/><path d="M63.3 703.3h0M21.5 713.0h0M70.7 699.9h0M40.7 722.8h0M68.0 682.8h0M43.8 678.2h0M21.5 737.4h0M38.7 733.5h0M59.8 670.6h0M42.5 738.1h0M54.2 720.5h0M28.1 762.9h0M68.6 746.8h0M42.9 761.8h0M44.2 734.0h0M116.4 728.2h0M30.8 754.0h0M104.0 733.4h0M86.4 665.3h0M51.6 695.6h0M44.3 746.8h0M32.8 687.9h0M37.9 678.2h0M114.0 663.5h0M23.9 743.3h0M51.5 691.2h0M36.8 725.4h0M31.0 706.0h0M88.1 659.5h0M66.7 674.0h0M23.0 745.8h0M21.6 679.5h0M122.8 664.5h0M66.6 736.3h0M80.6 765.0h0M65.5 755.6h0M47.3 701.5h0M127.1 705.7h0M84.3 751.7h0M114.2 759.4h0M21.4 699.0h0M120.8 699.3h0M43.8 686.3h0M110.5 721.0h0M60.6 680.1h0M48.1 686.5h0M72.4 665.5h0M77.2 724.5h0M100.3 718.9h0M101.6 677.9h0M109.3 682.6h0M56.4 725.1h0M30.3 748.3h0M107.1 737.5h0M54.8 679.4h0M39.8 684.0h0M87.4 685.2h0M80.3 743.2h0M115.0 740.7h0M54.5 738.5h0M122.1 730.5h0M28.0 717.4h0M70.4 661.1h0M50.5 752.4h0M70.2 759.8h0M111.7 710.9h0M77.2 679.3h0M89.9 675.3h0M77.2 711.6h0M94.6 736.5h0M119.2 756.6h0M110.2 675.4h0M67.2 736.0h0M64.5 659.5h0M82.9 671.2h0M21.5 677.9h0M43.8 683.5h0M63.0 740.7h0M84.7 703.0h0M60.0 709.4h0M56.4 756.0h0M62.0 740.7h0M79.2 707.2h0M83.1 744.5h0M70.4 731.6h0M49.8 732.9h0M43.9 690.3h0M120.4 734.9h0M88.5 692.0h0M81.2 691.8h0M42.7 729.4h0M33.4 662.6h0M90.9 698.3h0M56.0 728.2h0M114.3 730.7h0M32.5 742.3h0M78.2 760.7h0M30.4 697.9h0M27.9 692.2h0M69.0 708.1h0M56.6 739.9h0M120.2 722.2h0M68.9 746.6h0M85.6 726.2h0M46.4 720.2h0M94.3 673.0h0M82.9 725.1h0M80.9 735.5h0M119.8 762.5h0M120.6 750.0h0M36.3 737.7h0M96.9 716.7h0M67.9 700.7h0M59.9 703.5h0M40.9 747.6h0M82.4 765.1h0M74.7 764.2h0M122.7 670.2h0M76.5 727.9h0M118.1 705.0h0M101.8 686.8h0M57.6 703.5h0M83.8 688.1h0M36.6 662.3h0M37.2 754.1h0M111.6 693.0h0M68.2 703.3h0M80.0 685.4h0M23.3 720.0h0M123.6 749.7h0M85.7 672.4h0M64.3 713.2h0M126.2 726.9h0M96.5 710.8h0M99.8 678.8h0M125.6 762.6h0M92.1 703.9h0M111.7 660.5h0M45.3 726.3h0M108.5 689.7h0M94.5 758.3h0M105.4 715.0h0M105.7 754.7h0M68.7 685.0h0M55.9 699.6h0M123.0 660.2h0M86.6 679.0h0M37.6 700.1h0M65.3 742.4h0M47.5 734.3h0M24.2 697.3h0M53.5 675.0h0M76.0 697.3h0M50.2 689.6h0M103.2 700.7h0M93.1 735.7h0M107.7 749.5h0M93.2 715.2h0M55.5 762.9h0M27.7 670.6h0M30.1 702.7h0M115.4 761.3h0M93.2 761.1h0M44.5 719.5h0M55.5 719.4h0M115.0 676.9h0M74.8 668.0h0M31.9 697.1h0M73.6 662.7h0M109.6 660.7h0M102.7 691.5h0M58.0 747.9h0M22.3 709.9h0M35.7 740.5h0M98.5 682.1h0M105.6 676.0h0M35.5 677.8h0M64.0 761.0h0M49.3 707.2h0M77.1 752.2h0M41.3 695.9h0M34.6 761.9h0M99.9 714.0h0M57.6 723.3h0M58.1 698.3h0M93.6 666.5h0M29.9 678.8h0M127.4 676.6h0M65.0 704.3h0M70.1 734.3h0M98.2 751.3h0M41.5 765.2h0M89.2 735.5h0M54.7 720.9h0M20.8 752.9h0M60.0 730.7h0M79.7 722.9h0M48.0 736.8h0M41.3 756.4h0M70.4 759.0h0M22.6 663.9h0M25.9 714.2h0M28.6 718.2h0M33.8 670.7h0M87.0 758.6h0M95.1 665.8h0M77.3 761.4h0M41.1 760.1h0M110.4 744.0h0M84.2 697.6h0M31.3 674.9h0M26.0 756.6h0M99.0 704.5h0M113.0 717.3h0M93.3 664.8h0M121.3 689.2h0M58.8 701.2h0M69.6 731.8h0M48.0 723.2h0M70.1 684.4h0M107.2 673.2h0M82.0 688.0h0M102.8 687.9h0M89.9 705.6h0M84.5 718.8h0M67.5 739.2h0M106.3 663.5h0M26.4 714.9h0M101.6 739.7h0M95.7 696.4h0M76.2 720.7h0M29.7 731.5h0M21.9 716.0h0M67.2 712.4h0M111.0 737.0h0M84.1 711.4h0M92.6 730.1h0M46.6 707.1h0M36.8 761.4h0M66.6 721.3h0M114.9 706.3h0M63.7 665.1h0M70.2 699.2h0M79.1 734.7h0M77.6 688.3h0M114.0 740.0h0M41.2 754.0h0M64.9 669.4h0M81.7 719.1h0M84.2 733.4h0M53.2 758.0h0M27.5 662.3h0M100.5 673.6h0M82.4 678.5h0M56.6 697.0h0M75.6 674.1h0M88.2 727.2h0M46.8 767.3h0M69.4 663.0h0M123.1 704.9h0M80.9 743.2h0M108.9 736.5h0M118.7 761.0h0M125.4 720.3h0M53.9 696.6h0M89.4 737.8h0M87.6 667.0h0M49.2 703.6h0M100.8 724.1h0M96.4 762.6h0M92.4 741.9h0M49.5 738.5h0M113.5 734.5h0M50.4 760.5h0M60.9 722.8h0M58.9 710.2h0M110.1 724.4h0M116.2 752.4h0M26.9 757.7h0M121.5 683.5h0M105.9 733.1h0M88.7 678.1h0M115.2 699.6h0M70.0 662.6h0M39.8 762.7h0M50.8 761.6h0M40.7 738.3h0M67.0 732.2h0M19.6 725.6h0M71.1 691.3h0M89.0 676.2h0M48.8 668.0h0M89.4 671.7h0M116.5 766.0h0M42.9 758.5h0M20.1 733.3h0M101.1 746.2h0M85.8 680.2h0M108.0 742.9h0M56.5 700.7h0M53.0 737.3h0M28.7 744.9h0M72.6 707.4h0M66.6 701.5h0M57.7 711.1h0M30.9 688.8h0M78.6 708.6h0M23.2 711.6h0M68.9 695.1h0M25.1 708.6h0M114.8 682.8h0M24.1 680.4h0M66.4 722.4h0M66.8 743.8h0M91.1 755.4h0M126.0 755.5h0M42.6 679.8h0M97.5 762.0h0M111.4 742.5h0M45.4 712.2h0M83.3 733.0h0M84.2 732.4h0M41.0 710.8h0M69.8 670.2h0" stroke="#3428ff" stroke-width="4.20" stroke-linecap="round" fill="none"/><path d="M38.7 729.8h0M68.6 708.7h0M120.5 755.6h0M79.3 726.4h0M105.0 765.9h0M85.2 711.0h0M28.5 741.4h0M23.9 691.2h0M39.9 753.3h0M87.3 722.0h0M20.1 685.4h0M120.5 673.9h0M60.4 689.9h0M34.2 673.2h0M100.7 710.1h0M49.7 746.5h0M68.1 729.9h0M34.7 660.4h0M52.5 664.0h0M113.0 704.1h0M31.5 743.1h0M47.2 745.6h0M86.2 747.8h0M31.2 743.5h0M41.2 762.0h0M105.8 661.0h0M46.7 759.2h0M81.1 705.1h0M87.0 669.2h0M74.5 706.6h0M127.6 659.9h0M87.6 704.8h0M61.9 716.9h0M101.6 679.4h0M90.5 722.1h0M28.8 715.5h0M82.6 713.4h0M41.1 704.4h0M52.0 738.4h0M40.2 672.3h0" stroke="#e040e0" stroke-width="3.00" stroke-linecap="round" fill="none" stroke-opacity="0.8"/><path d="M58.1 667.0 L40.5 667.8 L27.6 674.3 L26.8 691.1 L30.8 712.0 L35.7 731.3 L45.3 744.1 L58.1 747.6 L69.4 741.2" fill="none" stroke="#58d040" stroke-width="16.0" stroke-linejoin="round" stroke-linecap="round"/><path d="M58.1 667.0 L40.5 667.8 L27.6 674.3 L26.8 691.1 L30.8 712.0 L35.7 731.3 L45.3 744.1 L58.1 747.6 L69.4 741.2" fill="none" stroke="#4cc038" stroke-width="13.5" stroke-linejoin="round" stroke-linecap="round"/><path d="M26.5 675.4h0M52.4 671.7h0M29.5 688.7h0M49.3 747.4h0M33.2 719.1h0M33.6 672.8h0M66.3 747.6h0M28.6 716.1h0M29.3 715.7h0M54.8 663.3h0M62.8 747.6h0M48.5 746.0h0M40.2 671.0h0M26.6 694.9h0M33.1 695.5h0M34.2 725.0h0M25.8 689.5h0M31.1 721.9h0M32.8 735.9h0M41.4 745.5h0M51.4 664.9h0M23.5 677.1h0M38.6 670.3h0M35.4 709.7h0M32.5 734.5h0M39.3 671.8h0M31.7 675.3h0M36.7 714.5h0M30.7 724.4h0M25.7 680.4h0M25.5 675.1h0M31.1 688.1h0M43.9 670.2h0M34.0 737.4h0M54.1 664.0h0M35.2 666.1h0M32.0 703.9h0M49.1 748.4h0M29.5 697.5h0M38.1 732.5h0M65.5 749.0h0M29.5 721.4h0M41.9 668.5h0M28.7 694.3h0M23.6 684.7h0M34.7 675.6h0M57.6 665.5h0M53.3 662.8h0M36.1 721.1h0M23.5 694.9h0M40.0 667.7h0M29.1 705.1h0M51.9 743.2h0M35.0 713.6h0M34.4 706.1h0M42.8 667.1h0M39.7 737.6h0M54.2 665.7h0M48.3 748.8h0M52.0 664.6h0M55.1 664.8h0M33.8 702.5h0M29.7 687.4h0M41.5 736.7h0M28.9 698.3h0M58.1 672.4h0M24.7 680.6h0M33.2 704.1h0M44.4 665.6h0M35.3 707.8h0M21.6 689.1h0M24.6 704.2h0M64.1 738.4h0M28.5 669.1h0M52.4 671.0h0" stroke="#e060e0" stroke-width="4.00" stroke-linecap="round" fill="none" stroke-opacity="0.92"/><path d="M24.2 692.3h0M30.9 691.0h0M32.9 718.7h0M34.4 705.4h0M38.8 734.0h0M37.7 665.6h0M27.2 700.5h0M47.9 669.8h0M31.3 717.2h0M52.6 744.3h0M31.4 723.0h0M54.1 669.7h0M40.5 729.1h0M48.7 745.5h0M27.8 691.9h0M50.4 743.0h0M27.0 700.0h0M27.3 686.1h0" stroke="#ff78f4" stroke-width="2.80" stroke-linecap="round" fill="none" stroke-opacity="0.8"/><path d="M63.8 666.2 L69.4 676.7 L74.5 691.1 L81.0 707.2 L87.4 723.2 L93.8 736.1 L98.6 748.9 L100.7 765.0" fill="none" stroke="#70d878" stroke-width="14.0" stroke-linejoin="round" stroke-linecap="round"/><path d="M63.8 666.2 L69.4 676.7 L74.5 691.1 L81.0 707.2 L87.4 723.2 L93.8 736.1 L98.6 748.9 L100.7 765.0" fill="none" stroke="#78d0a0" stroke-width="11.5" stroke-linejoin="round" stroke-linecap="round"/><path d="M96.2 753.6h0M99.5 756.8h0M83.5 705.4h0M103.3 751.2h0M93.3 736.8h0M98.1 734.5h0M69.3 676.8h0M77.0 690.8h0M100.8 753.8h0M74.5 682.5h0M76.1 690.6h0M96.6 732.6h0M87.9 726.7h0M90.0 730.1h0M64.9 668.7h0M76.5 696.4h0M92.5 732.8h0M87.1 723.7h0M98.2 760.4h0M89.5 728.7h0M72.6 674.4h0M90.9 726.7h0M78.8 695.9h0M75.1 690.4h0M71.3 676.7h0M82.0 700.4h0M95.2 757.2h0M84.3 726.7h0M90.8 735.2h0M73.0 695.7h0M98.3 742.2h0M72.9 684.8h0M83.9 715.8h0M84.6 709.3h0M84.7 726.8h0M98.9 755.7h0M92.7 744.4h0M64.3 669.0h0M95.8 730.5h0M61.3 669.8h0M101.6 755.9h0M101.7 764.4h0M93.8 735.3h0M66.2 679.7h0M86.6 720.8h0M67.5 668.3h0M90.2 737.9h0M88.7 733.4h0M96.7 747.1h0M79.1 701.5h0M69.4 684.7h0M74.2 698.6h0M77.1 686.6h0M69.6 680.3h0M85.2 729.0h0" stroke="#e070e8" stroke-width="4.00" stroke-linecap="round" fill="none" stroke-opacity="0.92"/><path d="M75.1 701.4h0M71.6 671.9h0M93.0 733.6h0M73.0 688.5h0M81.5 713.4h0M81.9 706.2h0M86.6 722.2h0M78.7 698.6h0M95.9 739.0h0M87.0 712.7h0M72.7 691.8h0M98.9 753.9h0M76.9 699.5h0" stroke="#ff78f4" stroke-width="2.80" stroke-linecap="round" fill="none" stroke-opacity="0.8"/><path d="M101.5 675.9 L98.3 691.1 L100.2 707.2 L108.3 723.2 L117.9 734.5 L130.4 740.9" fill="none" stroke="#58d040" stroke-width="12.5" stroke-linejoin="round" stroke-linecap="round"/><path d="M101.5 675.9 L98.3 691.1 L100.2 707.2 L108.3 723.2 L117.9 734.5 L130.4 740.9" fill="none" stroke="#4cc038" stroke-width="10.0" stroke-linejoin="round" stroke-linecap="round"/><path d="M113.7 735.7h0M104.3 679.8h0M104.6 707.5h0M105.8 716.1h0M104.0 678.4h0M101.4 716.6h0M99.7 695.1h0M104.9 723.2h0M105.7 722.7h0M101.7 702.5h0M120.0 736.8h0M97.6 685.7h0M97.8 682.4h0M108.8 728.4h0M102.2 706.6h0M127.4 735.1h0M105.1 713.4h0M102.1 684.6h0M131.5 737.9h0M126.4 737.4h0M113.0 727.2h0M100.1 677.7h0M103.2 685.2h0M95.9 686.7h0M98.8 699.6h0M100.9 703.2h0M103.9 683.5h0M117.7 731.4h0M127.7 735.6h0M118.7 737.9h0M119.2 735.3h0M98.6 680.1h0M119.1 732.5h0M118.2 729.1h0M110.8 719.4h0M99.9 685.2h0M121.9 739.6h0M116.2 727.0h0M127.2 736.5h0M108.9 724.1h0M100.5 703.2h0M116.6 729.5h0M122.6 740.7h0M99.0 698.3h0M120.7 736.1h0" stroke="#e060e0" stroke-width="4.00" stroke-linecap="round" fill="none" stroke-opacity="0.92"/><path d="M99.9 680.0h0M96.7 687.6h0M98.7 687.7h0M97.9 698.5h0M127.2 741.4h0M99.6 703.4h0M110.7 723.1h0M103.7 714.2h0M97.6 686.5h0M97.4 689.3h0M124.5 738.6h0" stroke="#ff78f4" stroke-width="2.80" stroke-linecap="round" fill="none" stroke-opacity="0.8"/><path d="M66.2 668.6 L71.0 679.9" fill="none" stroke="#c8f0e0" stroke-width="6.42" stroke-linejoin="round" stroke-linecap="round"/><path d="M95.1 745.7 L99.1 755.4 L100.7 765.0" fill="none" stroke="#c0f0d8" stroke-width="6.42" stroke-linejoin="round" stroke-linecap="round"/><path d="M58.1 747.6 L66.2 744.1 L71.0 739.3" fill="none" stroke="#c0ecd8" stroke-width="5.46" stroke-linejoin="round" stroke-linecap="round"/><polygon points="34.9,683.1 50.1,679.6 63.3,677.9 69.1,684.7 70.7,701.1 75.2,715.5 81.0,726.8 86.4,738.0 92.2,750.9 92.2,758.9 85.1,755.4 75.2,744.4 69.7,735.4 63.3,739.3 53.7,739.3 47.2,728.4 43.7,712.3 39.2,696.3" fill="#000"/><polygon points="108.3,683.1 128.8,676.7 128.8,734.5 116.3,723.2 109.9,710.7 106.6,696.3" fill="#000"/></g></g>
<line x1="94.00" y1="763.60" x2="124.00" y2="763.60" stroke="#e8783a" stroke-width="1.6"/>
<defs><clipPath id="cp4"><rect x="140" y="661.4" width="104.9" height="104.89999999999998"/></clipPath></defs>
<g clip-path="url(#cp4)"><g filter="url(#fBl)"><rect x="138" y="659.4" width="108.9" height="108.89999999999998" fill="#000"/><path d="M234.1 722.7h0M182.6 711.6h0M226.6 745.8h0M195.4 723.3h0M170.2 678.3h0M196.4 674.2h0M171.1 667.7h0M203.7 680.4h0M152.5 662.1h0M176.8 759.7h0M187.5 714.6h0M186.6 682.0h0M231.8 737.7h0M180.7 721.8h0M230.6 728.7h0M152.4 660.4h0M143.1 691.0h0M241.0 721.4h0M157.5 721.9h0M204.8 743.6h0M219.3 733.7h0M168.2 685.1h0M153.3 689.0h0M173.3 704.8h0M157.1 731.7h0M225.9 718.6h0M185.0 682.0h0M224.5 676.5h0M161.1 695.2h0M225.2 717.4h0M159.3 666.9h0M233.1 763.7h0M236.6 746.4h0M195.5 749.9h0M161.9 665.8h0M203.4 717.6h0M221.8 712.3h0M166.6 753.3h0M212.0 693.1h0M159.6 721.3h0M180.2 697.1h0M192.5 751.2h0M200.0 676.4h0M226.5 701.1h0M148.4 674.4h0M171.5 660.1h0M235.3 703.9h0M145.1 740.1h0M222.8 664.9h0M172.2 727.5h0M192.2 712.2h0M213.9 667.5h0M142.8 763.7h0M177.8 713.1h0M189.4 671.6h0M231.3 686.8h0M224.4 723.1h0M185.3 690.0h0M231.0 712.2h0M245.1 742.0h0M172.1 744.6h0M229.8 745.0h0M178.1 708.1h0M165.5 737.1h0M151.8 741.2h0M161.7 663.6h0M199.4 682.9h0M202.7 756.6h0M239.1 742.9h0M191.9 755.4h0M169.6 720.4h0M163.2 756.2h0M208.5 756.7h0M148.0 708.4h0M144.3 764.1h0M223.6 677.9h0M146.5 717.0h0M212.5 669.3h0M156.9 742.6h0M177.8 696.9h0M158.3 698.5h0M189.2 682.3h0M214.3 714.2h0M214.3 724.4h0M228.1 665.3h0M232.5 746.7h0M185.5 685.9h0M148.2 751.3h0M239.2 739.6h0M189.0 670.1h0M243.0 742.8h0M143.2 673.9h0M234.7 694.2h0M179.0 670.0h0M144.8 697.5h0M241.1 739.4h0M182.6 699.5h0M230.3 681.6h0M176.1 742.5h0M201.8 736.6h0M167.2 711.7h0M185.5 707.0h0M165.9 745.6h0M151.3 718.8h0M174.8 673.0h0M207.0 757.6h0M207.2 709.8h0M173.5 687.7h0M156.4 746.0h0M207.7 684.0h0M207.9 723.5h0M138.9 741.6h0M211.7 668.4h0M166.4 758.3h0M179.1 730.6h0M196.0 718.8h0M139.3 750.4h0M185.7 731.0h0M202.2 696.3h0M176.9 659.6h0M170.9 665.6h0M190.5 697.5h0M164.9 722.8h0M206.9 659.5h0M140.0 721.9h0M163.0 724.7h0M199.8 663.0h0M243.9 674.8h0M209.4 706.3h0M219.3 732.6h0M213.8 711.0h0M153.3 672.9h0M209.0 684.6h0M192.0 715.0h0M231.0 682.3h0M240.7 731.1h0M245.1 729.5h0M144.2 761.0h0M153.0 721.7h0M182.3 684.7h0M240.2 720.7h0M245.8 733.8h0M151.5 719.3h0M214.7 710.8h0M155.0 756.9h0M159.8 752.4h0M176.9 705.7h0M158.0 696.4h0M165.6 756.9h0M180.3 664.6h0M236.0 732.7h0M200.1 712.7h0M139.5 667.0h0M160.2 747.9h0M214.8 716.6h0M155.2 764.9h0M165.0 745.0h0M181.0 660.1h0M187.9 717.7h0M201.9 706.2h0M142.2 758.7h0M237.4 755.2h0M223.4 739.4h0M188.1 687.9h0M182.4 667.5h0M227.4 689.8h0M166.5 715.9h0M210.7 735.3h0M236.4 737.0h0M199.8 756.7h0M208.6 764.5h0M191.7 668.3h0M191.6 757.9h0M216.0 711.9h0M198.8 667.4h0M242.8 685.6h0M181.4 689.4h0M139.5 663.4h0M195.5 703.8h0M139.2 673.6h0M219.5 664.3h0M213.8 701.7h0M197.4 734.9h0M170.6 738.5h0M162.9 713.0h0M196.4 701.1h0M195.1 745.4h0M197.6 671.6h0M153.7 703.8h0M203.5 725.2h0M150.4 746.6h0M237.3 698.4h0M169.7 682.0h0M205.9 660.8h0M153.5 765.8h0M189.8 746.2h0M243.2 703.1h0M222.7 666.8h0M190.9 750.4h0M230.8 746.7h0M204.4 731.0h0M177.1 757.0h0M200.9 670.5h0M191.9 673.7h0M150.9 662.3h0M193.5 669.5h0M170.8 699.3h0M241.1 765.2h0M152.3 751.4h0M187.8 738.7h0M191.1 688.7h0M182.5 725.4h0M217.1 752.8h0M169.6 762.6h0M244.0 659.6h0M188.9 679.1h0M186.8 669.6h0M239.3 765.1h0M160.9 673.2h0M189.4 740.2h0M171.1 731.3h0M218.8 680.8h0M187.4 761.6h0M155.7 707.3h0M190.1 668.0h0M246.1 687.3h0M203.7 759.6h0M138.1 742.7h0M200.1 763.5h0M218.5 677.1h0M141.8 752.6h0M179.1 720.8h0M162.1 726.7h0M195.6 761.7h0M167.9 761.0h0M161.0 750.3h0M164.1 761.9h0M217.6 681.9h0M225.0 761.2h0M219.4 707.7h0M160.6 682.5h0M196.8 697.6h0M160.5 736.8h0M155.6 672.8h0M232.7 667.2h0M161.6 689.9h0M223.9 698.0h0M206.1 699.9h0M170.4 749.2h0M146.0 697.8h0M142.1 731.9h0M167.0 759.7h0M214.9 743.2h0M187.7 720.7h0M198.6 660.8h0M236.3 673.6h0M187.9 726.9h0M201.5 687.6h0M178.9 743.9h0M192.0 740.4h0M214.5 745.1h0M202.5 733.2h0M232.0 725.5h0M178.5 760.2h0M177.2 734.1h0M154.2 745.2h0M146.7 717.7h0M192.9 747.2h0M221.5 707.3h0M232.8 738.4h0M171.0 717.2h0M211.9 759.0h0M195.4 685.2h0M236.8 764.7h0M161.9 699.9h0M217.3 762.6h0M183.5 669.7h0M178.1 668.0h0M226.5 683.5h0M164.2 738.0h0M183.3 730.7h0M152.6 660.4h0M193.7 751.7h0M177.8 757.2h0M176.9 707.2h0M215.3 683.5h0M204.7 768.1h0M220.1 731.6h0M241.8 741.8h0M201.0 665.4h0M206.8 731.7h0M237.3 670.0h0M226.0 676.0h0M224.8 752.3h0M173.5 661.1h0M140.9 717.7h0M155.5 720.7h0M245.5 739.4h0M237.9 746.4h0M160.6 668.3h0M244.7 764.4h0M177.4 723.0h0M238.0 692.8h0M180.2 715.6h0M233.8 666.7h0M202.0 716.8h0M180.7 680.2h0M186.6 723.4h0M151.5 738.7h0M190.6 699.0h0M173.8 729.6h0M161.1 728.6h0M187.1 665.5h0M165.9 665.5h0M148.5 684.7h0M156.9 722.1h0M167.0 699.7h0M218.1 660.7h0M164.7 676.5h0M166.9 671.0h0M175.8 743.7h0M138.8 669.8h0M194.2 680.6h0M191.1 713.6h0M164.2 700.3h0M212.5 660.0h0M160.8 719.6h0M148.1 708.7h0M243.7 671.3h0M169.7 721.9h0" stroke="#2016e0" stroke-width="5.00" stroke-linecap="round" fill="none"/><path d="M172.2 717.2h0M149.8 730.2h0M187.3 762.3h0M230.5 677.1h0M148.3 672.5h0M223.5 695.1h0M160.5 665.7h0M177.3 726.6h0M243.9 693.7h0M225.9 765.6h0M181.6 678.7h0M141.6 686.4h0M161.6 723.5h0M173.5 738.2h0M199.9 724.2h0M210.4 703.9h0M209.4 666.5h0M187.6 709.2h0M187.5 742.4h0M205.0 665.4h0M192.8 746.5h0M237.3 694.1h0M237.8 695.5h0M226.8 752.1h0M163.6 728.7h0M193.0 737.7h0M240.3 677.7h0M244.9 662.0h0M140.0 718.9h0M157.7 694.7h0M193.6 717.5h0M167.7 672.5h0M232.2 734.8h0M228.7 760.7h0M232.4 713.7h0M144.2 758.1h0M175.3 729.2h0M154.8 701.9h0M211.4 708.8h0M150.0 699.2h0M185.6 762.4h0M232.8 751.9h0M138.3 762.1h0M214.5 663.4h0M190.7 759.1h0M182.8 720.7h0M170.0 765.5h0M173.8 678.4h0M221.0 724.4h0M228.6 728.6h0M175.2 748.6h0M196.4 716.9h0M173.7 699.0h0M138.4 740.6h0M215.9 702.3h0M161.7 675.3h0M149.4 723.5h0M201.4 716.7h0M225.1 704.3h0M190.9 691.7h0M190.3 661.4h0M235.2 746.5h0M199.8 737.3h0M241.7 691.8h0M240.1 678.7h0M204.9 729.5h0M146.2 745.6h0M150.4 675.1h0M165.6 731.0h0M241.9 726.7h0M144.3 706.6h0M217.0 665.6h0M206.4 712.0h0M207.7 700.6h0M203.3 673.5h0M147.9 669.9h0M181.5 759.6h0M245.3 684.2h0M168.4 745.8h0M244.3 760.5h0M191.0 696.2h0M231.6 691.0h0M164.5 673.1h0M166.9 664.4h0M186.1 768.0h0M196.8 696.7h0M219.4 685.7h0M163.3 732.0h0M245.4 679.4h0M141.5 756.0h0M230.8 709.4h0M174.4 663.0h0M193.9 676.9h0M176.7 669.7h0M242.6 737.9h0M217.8 717.1h0M224.1 712.3h0M176.7 739.7h0M239.2 669.1h0M188.3 731.0h0M215.8 662.1h0M207.6 736.5h0M182.8 694.2h0M219.8 714.9h0M164.8 721.3h0M149.2 700.5h0M222.5 685.2h0M165.2 717.4h0M182.9 767.6h0M230.9 735.6h0M210.8 702.7h0M171.3 730.2h0M169.4 676.2h0M229.1 687.5h0M243.7 727.9h0M155.5 723.5h0M228.9 692.1h0M242.0 715.4h0M191.3 681.9h0M148.9 715.6h0M238.9 716.0h0M195.8 717.8h0M233.0 736.6h0M195.4 681.3h0M144.9 750.9h0M207.4 714.2h0M203.3 741.6h0M157.2 714.4h0M220.7 755.4h0M207.2 747.6h0M204.4 748.4h0M213.3 766.4h0M181.1 761.3h0M191.2 724.5h0M222.8 710.3h0M185.1 702.7h0M171.5 735.7h0M153.0 722.5h0M158.7 680.8h0M202.3 713.6h0M152.1 675.6h0M219.5 729.9h0M212.9 694.9h0M202.4 695.1h0M182.8 692.6h0M155.5 762.1h0M147.3 712.9h0M160.8 761.1h0M242.6 762.3h0M167.2 715.6h0M204.7 751.2h0M212.1 704.3h0M203.1 702.1h0M225.7 758.4h0M199.6 684.7h0M189.9 748.1h0M237.2 713.1h0M211.9 675.9h0M228.1 761.9h0M145.7 702.6h0M189.3 686.7h0M229.8 666.1h0M233.4 715.8h0M169.9 663.6h0M187.5 753.4h0M167.1 708.7h0M241.2 764.4h0M227.6 743.0h0M226.9 677.2h0M244.5 757.2h0M221.8 675.4h0M139.9 750.2h0M160.4 665.2h0M149.8 726.0h0M213.6 662.0h0M220.0 682.9h0M234.3 695.2h0M205.1 758.5h0M202.4 695.1h0M145.4 728.1h0M239.1 694.4h0M208.2 689.4h0M216.0 717.0h0M223.2 681.5h0M191.6 675.8h0M200.7 663.5h0M162.6 667.8h0M223.5 697.7h0M186.6 664.8h0M158.5 761.2h0M158.5 736.8h0M217.9 691.7h0M208.9 716.4h0M243.2 673.5h0M173.5 714.2h0M215.3 682.9h0M187.1 743.5h0M158.4 663.1h0M154.7 713.4h0M188.9 764.0h0M142.3 714.7h0M148.4 684.8h0M162.4 721.0h0M194.8 757.8h0M164.6 730.0h0M214.2 724.0h0M222.1 688.8h0M157.9 674.2h0M140.3 766.2h0M155.9 712.6h0M200.7 685.5h0M234.1 686.6h0M234.6 739.0h0M202.5 726.4h0M145.4 735.1h0M144.2 661.7h0M239.8 716.4h0M139.8 687.4h0M185.2 686.9h0M176.2 709.7h0M181.0 695.7h0M140.6 722.0h0M203.4 709.2h0M217.7 768.0h0M196.6 717.9h0M208.8 751.3h0M229.5 708.4h0M145.1 705.3h0M153.6 671.8h0M153.4 674.4h0M203.0 723.8h0M229.0 707.3h0M141.7 743.8h0M189.2 697.6h0M236.1 680.5h0M145.4 754.0h0M242.2 754.3h0M142.9 688.3h0M204.5 739.6h0M206.3 728.2h0M222.6 759.9h0M198.0 716.6h0M192.5 708.5h0M209.1 680.1h0M141.0 762.6h0M192.2 749.7h0M227.3 678.4h0M232.2 700.9h0M190.8 711.9h0M182.8 754.4h0M162.4 715.3h0M188.3 690.6h0M146.4 741.6h0M220.3 666.7h0M191.7 715.5h0M212.2 678.7h0M239.3 735.8h0M153.2 767.7h0M195.3 740.6h0M213.8 707.5h0M189.6 663.0h0M228.0 732.6h0M146.2 727.3h0M218.6 680.0h0M231.1 734.3h0M173.9 718.4h0M218.9 750.9h0M228.8 691.1h0M196.9 761.3h0M221.0 678.7h0" stroke="#3428ff" stroke-width="4.20" stroke-linecap="round" fill="none"/><path d="M152.9 761.1h0M139.4 673.8h0M141.6 726.5h0M141.8 689.5h0M239.0 686.9h0M186.4 696.4h0M222.0 662.0h0M184.5 665.0h0M243.0 760.9h0M233.1 708.3h0M240.3 742.1h0M156.6 705.5h0M192.9 675.4h0M205.2 739.0h0M146.4 724.1h0M220.2 755.1h0M227.4 736.6h0M149.7 732.1h0M207.7 699.1h0M158.3 699.4h0M148.2 730.5h0M195.1 766.0h0M167.4 694.9h0M155.7 759.4h0M187.2 745.0h0M140.5 754.9h0M227.5 715.2h0M164.8 723.2h0M245.1 679.7h0M193.1 765.3h0M219.1 661.2h0M151.8 708.7h0M169.5 687.6h0M198.1 737.7h0M206.0 747.8h0M157.2 682.2h0M146.6 726.7h0M241.3 680.0h0M172.6 715.0h0M157.1 752.9h0M163.5 737.2h0M151.0 768.0h0M180.7 709.8h0M182.4 720.5h0M168.8 716.7h0M199.7 672.1h0M182.7 751.4h0M181.5 724.7h0M138.2 727.9h0M146.0 698.6h0M240.6 710.8h0M166.9 743.7h0M186.3 705.0h0M163.7 688.6h0M151.8 715.2h0M183.6 713.5h0M179.3 724.8h0M170.8 678.4h0M195.2 693.3h0M141.6 721.7h0M186.7 701.5h0M156.2 754.1h0M241.8 674.6h0M224.0 759.3h0M158.5 749.3h0M215.9 711.8h0M204.9 699.0h0M177.6 732.9h0M232.5 692.1h0M155.9 712.9h0M211.8 683.6h0M147.1 665.2h0M169.5 732.3h0M209.4 761.3h0M158.9 675.4h0M210.9 726.0h0M169.8 662.3h0M197.9 716.4h0M190.7 692.4h0M198.9 721.8h0M208.2 673.5h0M190.7 747.8h0M152.4 734.8h0M243.9 666.4h0M162.6 741.7h0M197.0 717.6h0M227.1 693.0h0M198.2 759.3h0M243.8 700.0h0M189.6 671.4h0M196.1 735.5h0M151.4 735.3h0M206.4 728.0h0M183.4 674.8h0M224.5 744.0h0M213.5 734.6h0M152.9 756.5h0M212.9 765.9h0M145.9 757.9h0M180.3 662.9h0M219.0 728.2h0M142.2 694.1h0M192.4 763.3h0M169.4 662.3h0M244.9 677.4h0M226.0 666.2h0M193.2 726.5h0M201.7 766.5h0M166.4 690.7h0M198.2 678.7h0M216.0 735.6h0M180.8 689.1h0M173.2 714.3h0M186.5 665.6h0M158.0 744.3h0M241.5 678.2h0M186.9 707.9h0M179.7 720.9h0M138.1 766.7h0M246.4 723.2h0M210.1 712.2h0M161.5 753.0h0M156.5 662.8h0M241.4 741.9h0M144.4 745.3h0M172.1 734.5h0M153.6 754.8h0M186.2 719.7h0M195.9 665.4h0M190.8 717.5h0M148.2 727.3h0M190.0 748.2h0M162.9 720.2h0M177.1 685.5h0M152.8 707.1h0M153.1 682.6h0M223.5 742.0h0M236.4 745.9h0M184.7 666.2h0M145.5 733.5h0M242.5 750.7h0M176.7 752.1h0M222.5 728.3h0M231.0 683.9h0M209.2 743.6h0M194.2 747.5h0M213.0 686.2h0M210.0 740.0h0M207.6 688.0h0M144.3 708.9h0M218.6 741.4h0M238.2 748.6h0M191.1 693.8h0M195.7 755.5h0M170.1 680.7h0M234.9 762.4h0M217.1 765.8h0M225.9 725.9h0M211.2 719.1h0M233.3 688.2h0M223.2 735.4h0M182.5 662.0h0M146.2 755.2h0M214.7 751.7h0M197.3 695.0h0M184.2 702.0h0M164.6 694.8h0M183.3 676.4h0M153.3 757.7h0M232.4 663.8h0M166.0 714.9h0M184.9 745.8h0M192.1 693.3h0M202.7 736.7h0M206.3 670.0h0M245.3 702.1h0M158.2 698.7h0M150.9 681.2h0M238.9 679.1h0M237.0 746.2h0M163.7 758.2h0M145.4 705.5h0M245.5 693.1h0M230.5 719.0h0M209.8 761.3h0M226.7 685.6h0M211.7 700.7h0M205.5 746.2h0M167.0 685.7h0M154.1 675.2h0M245.6 750.9h0M154.7 671.0h0M148.4 729.2h0M221.1 715.7h0M167.3 688.8h0M163.8 718.6h0M142.6 754.4h0M221.7 702.4h0M238.5 756.5h0M199.2 663.7h0M199.3 693.5h0M224.5 721.7h0M223.8 684.3h0M165.4 684.9h0M177.1 717.6h0M188.0 764.6h0M208.3 727.7h0M169.1 740.1h0M141.1 725.0h0M245.4 671.6h0M232.3 688.8h0M174.9 701.6h0M177.9 760.8h0M187.3 699.0h0M146.2 761.2h0M193.5 767.4h0M162.5 695.3h0M198.5 756.3h0M229.0 749.8h0M145.4 712.3h0M193.5 739.3h0M156.2 705.0h0M213.7 660.3h0M187.1 708.6h0M237.2 767.5h0M219.3 725.0h0M233.8 736.6h0M147.0 715.2h0M143.6 679.3h0M220.8 760.3h0M150.3 735.3h0M219.1 764.2h0M210.1 739.3h0M204.6 764.8h0M146.7 704.9h0M175.8 766.3h0M240.2 692.5h0M156.9 720.9h0M165.2 765.4h0M213.9 744.3h0M175.4 717.8h0M200.9 739.2h0M193.4 704.1h0M158.2 684.6h0M220.3 731.0h0M205.8 755.6h0M153.9 752.9h0M177.7 700.4h0M243.1 698.2h0M165.9 763.4h0M218.0 710.9h0M208.5 670.8h0M169.7 716.9h0M222.9 759.4h0M242.2 753.5h0M230.9 732.8h0M205.7 671.9h0M209.7 751.1h0M180.7 672.5h0M160.0 756.7h0M232.6 690.7h0M156.9 738.2h0M182.2 689.8h0M236.1 675.4h0M206.2 764.2h0M149.2 724.1h0M147.1 726.4h0M146.3 719.7h0M201.6 742.8h0M180.7 673.8h0M235.6 729.6h0M210.5 713.8h0M239.0 718.2h0M163.9 711.0h0M216.2 710.7h0M185.2 693.8h0M168.2 699.1h0M175.8 735.0h0M202.1 660.1h0M176.9 659.4h0M215.9 688.1h0M230.6 730.3h0M210.2 745.4h0M202.3 739.7h0M223.1 667.0h0M212.0 751.3h0M166.1 700.7h0M232.1 760.6h0M163.8 713.6h0M191.1 722.6h0M160.2 701.1h0M231.0 685.3h0M231.6 764.8h0M146.5 758.7h0M166.9 672.7h0M189.5 768.2h0M202.7 689.1h0M201.3 736.6h0M156.6 761.8h0M188.6 675.3h0" stroke="#d838e8" stroke-width="3.80" stroke-linecap="round" fill="none" stroke-opacity="0.9"/><path d="M140.0 675.9 L155.3 677.9 L165.2 686.3 L163.6 707.2 L155.6 726.4 L149.2 744.1 L144.0 761.8 L142.4 771.4" fill="none" stroke="#40a030" stroke-width="12.5" stroke-linejoin="round" stroke-linecap="round"/><path d="M140.0 675.9 L155.3 677.9 L165.2 686.3 L163.6 707.2 L155.6 726.4 L149.2 744.1 L144.0 761.8 L142.4 771.4" fill="none" stroke="#9a2ab8" stroke-width="10.5" stroke-linejoin="round" stroke-linecap="round"/><path d="M153.4 732.4h0M161.7 691.3h0M142.2 674.3h0M158.0 728.4h0M142.5 678.4h0M158.2 677.0h0M164.5 703.5h0M164.3 714.8h0M152.8 746.2h0M153.1 730.4h0M165.4 683.8h0M142.0 762.3h0M168.2 690.4h0M151.9 745.9h0M158.5 682.8h0M155.3 722.7h0M151.2 676.0h0M141.1 769.4h0M165.7 700.2h0M151.3 675.2h0M156.8 729.0h0M152.8 738.4h0M141.1 672.1h0M143.2 677.8h0M146.4 751.9h0M148.3 745.6h0M159.0 678.1h0M163.5 701.2h0M144.5 750.2h0M161.2 703.9h0M163.9 693.8h0M150.5 735.4h0M148.9 739.8h0M162.2 687.3h0M147.3 741.1h0M165.8 690.6h0M161.5 697.4h0M158.0 717.8h0M146.7 756.5h0M159.2 718.1h0M164.5 694.3h0M159.3 726.6h0M157.8 724.4h0M160.5 684.2h0M144.9 753.2h0M149.3 753.4h0M166.0 705.8h0M148.0 678.4h0M154.4 680.9h0M160.1 716.9h0M147.5 755.5h0M143.7 756.7h0M150.6 732.5h0M160.7 717.0h0M154.3 738.1h0M153.6 741.7h0M140.3 761.7h0M166.1 692.4h0M148.5 734.8h0M161.2 714.2h0M162.5 718.3h0M144.9 754.4h0M147.9 739.6h0M154.9 676.2h0M154.3 737.9h0M157.6 721.3h0M168.2 693.4h0M159.7 725.1h0M146.7 741.9h0M155.1 679.4h0M155.1 725.5h0M166.8 693.2h0M141.3 764.4h0M152.5 675.1h0M164.6 701.6h0M153.9 681.1h0M152.9 738.4h0M166.7 703.9h0M166.4 684.5h0M144.7 758.1h0M148.0 680.3h0M168.4 695.5h0M147.6 742.2h0M151.1 749.2h0M147.3 760.6h0M150.5 728.3h0M152.2 738.6h0M153.5 731.7h0M153.0 731.7h0M141.9 761.8h0M161.8 703.3h0M154.2 736.2h0M151.5 736.1h0M158.7 681.5h0M158.0 720.2h0M145.6 750.3h0M147.4 760.3h0M142.8 755.1h0M141.0 675.4h0M147.1 757.8h0M147.3 764.4h0M143.3 749.6h0M155.1 727.8h0M159.2 720.3h0M162.7 694.5h0M162.9 705.0h0M145.5 680.8h0M144.8 768.6h0M149.3 742.7h0M151.3 745.9h0M147.1 752.0h0M153.8 727.8h0M144.4 676.6h0M153.4 741.0h0M162.8 708.4h0M159.9 684.9h0M165.4 687.9h0M160.0 723.3h0M151.9 749.7h0M156.1 681.6h0M151.7 731.9h0M143.3 758.2h0M150.4 748.7h0M141.8 764.5h0M161.6 701.5h0M162.5 686.6h0M154.5 738.2h0M143.5 756.7h0M159.7 710.2h0M158.1 711.8h0M145.1 673.0h0M152.1 736.2h0M161.1 717.3h0M148.8 733.0h0M159.6 710.9h0M164.0 705.3h0" stroke="#f050e8" stroke-width="4.00" stroke-linecap="round" fill="none" stroke-opacity="0.92"/><path d="M156.7 716.5h0M168.2 698.1h0M145.7 744.8h0M144.8 764.3h0M161.4 678.4h0M164.7 687.2h0M165.1 695.0h0M152.0 737.0h0M167.0 700.5h0M150.4 754.2h0M159.1 717.9h0M145.1 761.9h0M153.1 732.9h0M147.6 748.8h0M143.0 765.4h0M153.7 681.4h0M151.3 673.6h0M162.8 700.9h0M157.9 730.1h0M153.2 728.2h0M151.0 736.9h0M168.0 697.6h0M154.0 674.7h0M159.9 713.0h0M157.0 719.4h0M166.9 699.2h0M153.6 724.1h0M166.9 701.8h0M147.2 762.5h0M154.2 733.0h0M160.0 707.4h0M160.9 686.1h0M141.3 761.0h0M140.3 769.6h0" stroke="#ff78f4" stroke-width="2.80" stroke-linecap="round" fill="none" stroke-opacity="0.8"/><path d="M216.3 672.2 L231.1 677.9 L233.0 699.1 L228.2 726.4 L218.5 749.3 L207.0 763.7 L187.1 765.3 L181.9 755.7 L188.7 731.3 L195.4 707.2 L203.4 686.0 L216.3 672.2" fill="none" stroke="#40a030" stroke-width="11.5" stroke-linejoin="round" stroke-linecap="round"/><path d="M216.3 672.2 L231.1 677.9 L233.0 699.1 L228.2 726.4 L218.5 749.3 L207.0 763.7 L187.1 765.3 L181.9 755.7 L188.7 731.3 L195.4 707.2 L203.4 686.0 L216.3 672.2" fill="none" stroke="#9a2ab8" stroke-width="9.5" stroke-linejoin="round" stroke-linecap="round"/><path d="M232.6 680.3h0M233.2 683.3h0M207.9 763.7h0M205.2 690.9h0M188.7 731.8h0M196.5 695.3h0M224.4 678.5h0M192.1 762.2h0M186.9 739.0h0M217.4 747.2h0M207.7 681.7h0M230.6 716.7h0M224.5 728.6h0M222.9 738.1h0M219.4 753.4h0M204.5 686.8h0M188.3 727.4h0M208.7 680.0h0M219.9 753.0h0M188.2 737.2h0M181.8 745.5h0M210.0 760.5h0M223.6 671.2h0M194.3 767.7h0M184.7 737.8h0M192.9 711.3h0M221.6 744.9h0M190.5 727.6h0M198.7 694.5h0M200.4 688.1h0M199.7 702.9h0M186.4 732.1h0M232.7 681.6h0M206.5 758.6h0M228.4 717.2h0M214.4 759.5h0M212.7 673.1h0M234.7 687.7h0M225.1 676.5h0M218.3 674.9h0M232.5 710.7h0M194.8 701.2h0M196.7 716.2h0M194.4 705.2h0M230.1 700.8h0M232.2 679.4h0M185.2 753.0h0M183.0 757.8h0M223.7 733.0h0M191.9 728.5h0M209.0 758.0h0M219.8 751.9h0M178.8 754.1h0M229.0 696.6h0M218.6 740.3h0M209.5 677.6h0M203.8 694.2h0M193.2 709.1h0M207.2 761.2h0M191.6 732.5h0M207.9 759.8h0M227.6 679.5h0M224.8 730.2h0M219.8 672.8h0M204.4 764.0h0M194.8 761.0h0M196.6 701.5h0M229.8 675.0h0M196.6 708.9h0M192.6 763.0h0M231.4 709.5h0M208.2 764.2h0M205.9 766.7h0M186.3 761.5h0M189.6 762.9h0M198.8 701.4h0M210.1 761.4h0M219.8 738.1h0M231.4 675.2h0M221.3 748.8h0M188.5 745.2h0M187.2 737.9h0M195.9 765.5h0M199.1 762.7h0M225.7 737.9h0M235.2 707.2h0M187.1 762.5h0M231.5 704.3h0M206.9 766.5h0M230.4 693.4h0M202.5 684.7h0M182.7 758.2h0M193.1 766.2h0M194.5 767.3h0M231.7 721.3h0M195.6 763.7h0M183.8 762.2h0M183.6 747.5h0M204.4 683.3h0M233.0 693.5h0M223.4 731.4h0M193.5 726.6h0M204.3 761.9h0M181.9 744.2h0M228.4 681.9h0M206.6 681.3h0M230.5 675.4h0M194.9 705.6h0M191.4 727.3h0M230.3 729.4h0M233.8 704.9h0M229.8 717.7h0M187.4 736.2h0M225.8 722.3h0M220.4 676.2h0M211.7 754.6h0M218.3 669.1h0M209.0 679.7h0M200.8 767.6h0M199.1 694.2h0M203.6 681.4h0M218.2 743.2h0M205.5 688.7h0M228.6 679.2h0M199.9 703.4h0M186.9 728.7h0M199.3 767.0h0M221.6 674.9h0M186.5 749.7h0M228.6 679.4h0M200.3 762.4h0M227.9 727.4h0M188.4 727.7h0M224.8 673.9h0M183.8 736.8h0M215.3 673.4h0M190.3 768.2h0M192.4 719.9h0M214.8 750.6h0M234.4 692.7h0M197.9 693.6h0M210.0 682.5h0M216.4 675.5h0M180.5 752.7h0M196.3 711.9h0M209.2 682.5h0M228.5 679.8h0M189.9 728.5h0M227.9 674.4h0M231.8 674.3h0M212.4 762.6h0M184.8 732.8h0M210.0 682.0h0M213.5 753.8h0M229.4 698.6h0M182.1 759.8h0M233.4 683.9h0M228.4 719.2h0M222.8 743.2h0M214.1 752.7h0M206.6 685.6h0M229.4 694.1h0M235.0 682.2h0M189.1 732.0h0M229.2 694.8h0M190.3 717.6h0M189.3 719.0h0M195.0 764.9h0M214.7 759.2h0M188.5 729.4h0M199.0 687.6h0M223.6 730.3h0M197.5 767.4h0M197.4 694.2h0M190.1 764.9h0M193.5 766.7h0M230.2 715.9h0M189.4 763.2h0M183.3 738.0h0M193.9 717.4h0M214.6 748.7h0M191.0 723.5h0M232.2 719.6h0M192.5 723.8h0M195.8 695.7h0M184.7 744.4h0M227.8 675.7h0M202.9 683.4h0M202.3 690.9h0M189.7 724.4h0M199.2 696.3h0M230.2 708.2h0M183.3 749.1h0M228.7 718.4h0M229.6 706.4h0M230.9 696.0h0M205.4 763.0h0M198.9 696.1h0M184.7 759.0h0M202.9 697.5h0M212.8 680.3h0M185.4 745.7h0M232.8 686.7h0M233.2 709.7h0M208.7 763.0h0M232.4 680.3h0M185.7 745.7h0M197.7 703.7h0M217.3 749.2h0M208.0 680.9h0M212.7 751.3h0M192.3 718.1h0M222.6 746.1h0M190.8 734.5h0M216.5 748.1h0M205.7 680.5h0M188.7 722.5h0M208.3 680.3h0M233.7 688.8h0M223.3 728.4h0M205.4 767.0h0M227.9 716.4h0M180.1 754.1h0M222.6 735.9h0M189.4 719.2h0M195.1 703.4h0M212.8 757.9h0M194.6 704.9h0M194.3 765.0h0M195.0 763.2h0M198.7 697.3h0M191.1 718.4h0M222.4 746.5h0M223.7 733.7h0M231.2 716.6h0M232.7 687.8h0M220.8 748.6h0M217.5 669.3h0M191.0 725.4h0M199.0 689.1h0M213.1 678.8h0M222.4 741.2h0M219.1 739.4h0" stroke="#f050e8" stroke-width="4.00" stroke-linecap="round" fill="none" stroke-opacity="0.92"/><path d="M181.2 760.6h0M228.2 729.4h0M200.9 764.1h0M195.9 701.5h0M195.0 714.1h0M183.9 754.2h0M201.0 698.8h0M179.4 752.6h0M234.9 684.5h0M224.1 672.6h0M218.3 750.4h0M192.0 764.7h0M185.9 737.6h0M195.2 718.0h0M231.4 698.8h0M209.1 756.8h0M212.5 760.7h0M182.2 751.3h0M210.2 674.9h0M190.2 730.7h0M197.2 705.1h0M230.0 688.6h0M195.6 768.1h0M206.5 678.0h0M232.3 686.1h0M202.1 693.6h0M194.2 712.7h0M215.3 757.8h0M200.0 692.5h0M182.8 761.3h0M227.5 719.5h0M233.3 697.2h0M185.7 745.3h0M200.0 766.6h0M207.1 687.0h0M195.6 717.3h0M207.4 676.7h0M231.3 715.0h0M230.5 680.4h0M187.5 738.4h0M199.6 697.7h0M185.6 749.7h0M195.7 719.1h0M224.4 676.1h0M229.0 707.9h0M197.1 708.7h0M226.5 673.3h0M228.9 701.2h0M200.8 700.1h0M189.6 730.6h0M190.9 722.1h0M204.8 686.6h0M219.4 751.3h0M182.2 756.5h0M231.1 725.6h0M204.7 692.3h0M227.8 736.9h0M230.3 681.5h0M184.9 752.6h0M191.2 725.4h0" stroke="#ff78f4" stroke-width="2.80" stroke-linecap="round" fill="none" stroke-opacity="0.8"/><polygon points="140.0,681.8 156.6,683.4 159.8,691.4 155.6,707.5 150.1,723.6 145.3,736.4 140.0,742.8" fill="#000"/><path d="M218.2 677.9 L225.9 681.8 L226.9 699.5 L222.7 723.6 L213.1 742.8 L203.4 758.9 L191.4 762.1 L186.6 757.3 L193.8 734.8 L200.2 712.3 L208.3 691.4Z" fill="none" stroke="#40b030" stroke-width="2.57" stroke-linejoin="round" stroke-linecap="round"/><polygon points="218.2,677.9 225.9,681.8 226.9,699.5 222.7,723.6 213.1,742.8 203.4,758.9 191.4,762.1 186.6,757.3 193.8,734.8 200.2,712.3 208.3,691.4" fill="#000"/><ellipse cx="160.1" cy="736.1" rx="1.3" ry="4.0" transform="rotate(20 160.1 736.1)" fill="#70e050"/><ellipse cx="166.5" cy="747.3" rx="1.6" ry="1.6" transform="rotate(0 166.5 747.3)" fill="#70e050"/><ellipse cx="223.5" cy="670.2" rx="1.9" ry="1.9" transform="rotate(0 223.5 670.2)" fill="#90f080"/></g></g>
<defs><clipPath id="cp5"><rect x="367.9" y="541.9" width="104.70000000000005" height="104.89999999999998"/></clipPath></defs>
<g clip-path="url(#cp5)"><g filter="url(#fBl)"><rect x="365.9" y="539.9" width="108.70000000000005" height="108.89999999999998" fill="#000"/><rect x="367.9" y="541.9" width="104.70000000000005" height="104.89999999999998" fill="#fff" filter="url(#fSpB)"/><g opacity="0.35"><rect x="367.9" y="541.9" width="104.70000000000005" height="104.89999999999998" fill="#fff" filter="url(#fSpM)"/></g><rect x="367.9" y="541.9" width="104.70000000000005" height="104.89999999999998" fill="#fff" filter="url(#fFog)"/><g opacity="0.55"><polygon points="367.9,604.2 472.6,604.2 472.6,646.8 367.9,646.8" fill="#fff" filter="url(#fSpM)"/></g><polygon points="367.9,617.1 374.6,615.5 384.3,618.7 397.1,615.5 413.2,620.3 429.2,618.7 442.1,623.5 454.9,621.9 472.6,626.7 472.6,646.8 367.9,646.8" fill="#fff" filter="url(#fSpM2)" opacity="0.72"/><polygon points="372.2,623.8 372.2,647.3 453.0,647.3 445.3,643.1 432.4,638.6 418.0,636.7 405.1,636.4 389.1,632.7 381.1,627.0 375.4,621.4" fill="#000"/><polygon points="461.4,541.9 472.9,541.9 472.9,556.1 466.2,549.6" fill="#000"/><path d="M370.6 647.3 L370.8 623.5 L374.6 619.0 L381.1 623.8 L389.1 629.3 L405.1 633.1 L418.0 633.8 L432.4 635.7 L445.3 640.2 L453.0 646.0" fill="none" stroke="#f83cf0" stroke-width="5.46" stroke-linejoin="round" stroke-linecap="round"/><ellipse cx="399.0" cy="556.9" rx="4.2" ry="11.6" transform="rotate(12 399.0 556.9)" fill="#200a30" stroke="#e83ce0" stroke-width="5.20"/><ellipse cx="397.9" cy="585.0" rx="6.7" ry="9.3" transform="rotate(-25 397.9 585.0)" fill="#000" stroke="#e83ce0" stroke-width="5.64"/><ellipse cx="421.2" cy="574.5" rx="3.5" ry="10.9" transform="rotate(-10 421.2 574.5)" fill="#e040e0" stroke="#e040e0" stroke-width="2.17"/><ellipse cx="438.1" cy="576.1" rx="11.6" ry="5.8" transform="rotate(12 438.1 576.1)" fill="#000" stroke="#d83cd8" stroke-width="4.77"/><ellipse cx="446.6" cy="559.6" rx="7.1" ry="7.1" transform="rotate(0 446.6 559.6)" fill="#180830" stroke="#9a40d8" stroke-width="3.90"/><ellipse cx="420.4" cy="555.3" rx="3.2" ry="5.5" transform="rotate(0 420.4 555.3)" fill="#100020" stroke="#c040d8" stroke-width="3.04"/><ellipse cx="430.8" cy="556.1" rx="3.2" ry="6.1" transform="rotate(0 430.8 556.1)" fill="#200a40" stroke="#a040d8" stroke-width="3.04"/><ellipse cx="385.9" cy="568.9" rx="3.9" ry="6.4" transform="rotate(0 385.9 568.9)" fill="#8a3ab0" stroke="#b050c8" stroke-width="2.17"/><ellipse cx="443.7" cy="612.6" rx="5.1" ry="7.1" transform="rotate(0 443.7 612.6)" fill="#000" stroke="#c83cd8" stroke-width="3.47"/><ellipse cx="452.5" cy="637.2" rx="2.2" ry="2.2" transform="rotate(0 452.5 637.2)" fill="#000" stroke="#c03cd0" stroke-width="2.17"/></g></g>
<line x1="455.70" y1="644.10" x2="471.00" y2="644.10" stroke="#e8843a" stroke-width="1.6"/>
<defs><clipPath id="cp6"><rect x="484.9" y="541.9" width="105.0" height="104.89999999999998"/></clipPath></defs>
<g clip-path="url(#cp6)"><g filter="url(#fBl)"><rect x="482.9" y="539.9" width="109.0" height="108.89999999999998" fill="#000"/><rect x="484.9" y="541.9" width="105.0" height="104.89999999999998" fill="#fff" filter="url(#fSpB)"/><g opacity="0.35"><rect x="484.9" y="541.9" width="105.0" height="104.89999999999998" fill="#fff" filter="url(#fSpM)"/></g><rect x="484.9" y="541.9" width="105.0" height="104.89999999999998" fill="#fff" filter="url(#fFog)"/><polygon points="484.9,619.5 484.9,647.3 546.6,647.3 547.2,629.9 545.6,610.7 541.7,623.5 538.2,631.5 528.6,627.5 515.7,627.5 506.1,636.4 496.5,632.3 491.6,625.1" fill="#000"/><polygon points="484.9,544.8 490.0,544.8 491.6,557.7 484.9,559.3" fill="#000"/><path d="M484.9 618.4 L491.6 623.2 L496.5 631.2 L506.1 636.0 L515.7 627.0 L528.6 626.4 L538.2 630.3 L541.7 622.2" fill="none" stroke="#d040e0" stroke-width="3.21" stroke-linejoin="round" stroke-linecap="round"/><ellipse cx="507.7" cy="547.2" rx="3.2" ry="3.9" transform="rotate(0 507.7 547.2)" fill="#100020" stroke="#c040d8" stroke-width="2.17"/><ellipse cx="510.9" cy="558.0" rx="3.9" ry="4.3" transform="rotate(0 510.9 558.0)" fill="#100020" stroke="#c848d8" stroke-width="2.60"/><ellipse cx="518.9" cy="560.4" rx="3.1" ry="3.4" transform="rotate(0 518.9 560.4)" fill="#100020" stroke="#b040d0" stroke-width="2.17"/><ellipse cx="521.3" cy="550.4" rx="3.2" ry="2.7" transform="rotate(0 521.3 550.4)" fill="none" stroke="#8040d0" stroke-width="1.73"/><ellipse cx="488.4" cy="551.6" rx="4.5" ry="6.1" transform="rotate(0 488.4 551.6)" fill="#000" stroke="#a040d0" stroke-width="3.04"/><ellipse cx="519.3" cy="600.5" rx="4.5" ry="5.8" transform="rotate(-15 519.3 600.5)" fill="#200020" stroke="#f050e0" stroke-width="3.90"/><ellipse cx="570.3" cy="574.5" rx="3.9" ry="4.8" transform="rotate(-30 570.3 574.5)" fill="#100020" stroke="#c040d0" stroke-width="2.60"/><ellipse cx="563.1" cy="594.6" rx="3.4" ry="4.8" transform="rotate(0 563.1 594.6)" fill="#100020" stroke="#c040d0" stroke-width="2.60"/><ellipse cx="588.3" cy="629.9" rx="2.9" ry="4.2" transform="rotate(0 588.3 629.9)" fill="#100020" stroke="#b040d0" stroke-width="2.17"/></g></g>
<defs><clipPath id="cp7"><rect x="369.9" y="661.4" width="104.70000000000005" height="104.89999999999998"/></clipPath></defs>
<g clip-path="url(#cp7)"><g filter="url(#fBl)"><rect x="367.9" y="659.4" width="108.70000000000005" height="108.89999999999998" fill="#000"/><rect x="369.9" y="661.4" width="104.70000000000005" height="104.89999999999998" fill="#fff" filter="url(#fSpB)"/><g opacity="0.3"><rect x="369.9" y="661.4" width="104.70000000000005" height="104.89999999999998" fill="#fff" filter="url(#fSpM)"/></g><rect x="369.9" y="661.4" width="104.70000000000005" height="104.89999999999998" fill="#fff" filter="url(#fFog)"/><path d="M453.7 684.7 L456.9 695.9" fill="none" stroke="#d840d8" stroke-width="2.25" stroke-linejoin="round" stroke-linecap="round"/><path d="M461.7 687.9 L469.8 670.2 L473.0 665.4" fill="none" stroke="#c040d8" stroke-width="1.93" stroke-linejoin="round" stroke-linecap="round"/><polygon points="376.6,766.3 386.3,760.5 399.1,757.3 410.4,749.7 416.8,736.9 420.0,724.0 424.0,720.8 428.0,724.0 431.2,734.5 439.3,741.2 452.1,747.6 461.7,755.7 469.8,766.3" fill="#000"/><path d="M376.6 766.3 L386.3 760.5 L399.1 757.3 L410.4 749.7 L416.8 736.9 L420.0 724.0 L424.0 720.8 L428.0 724.0 L431.2 734.5 L439.3 741.2 L452.1 747.6 L461.7 755.7 L469.8 766.3" fill="none" stroke="#f040f0" stroke-width="4.50" stroke-linejoin="round" stroke-linecap="round"/><ellipse cx="450.8" cy="678.6" rx="3.9" ry="6.4" transform="rotate(-10 450.8 678.6)" fill="#100020" stroke="#d840d8" stroke-width="3.04"/><ellipse cx="460.9" cy="702.7" rx="5.8" ry="6.4" transform="rotate(0 460.9 702.7)" fill="#000" stroke="#d840d8" stroke-width="3.47"/></g></g>
<line x1="455.00" y1="760.50" x2="469.50" y2="760.50" stroke="#e8843a" stroke-width="1.6"/>
<defs><clipPath id="cp8"><rect x="484.9" y="661.4" width="105.0" height="104.89999999999998"/></clipPath></defs>
<g clip-path="url(#cp8)"><g filter="url(#fBl)"><rect x="482.9" y="659.4" width="109.0" height="108.89999999999998" fill="#000"/><rect x="484.9" y="661.4" width="105.0" height="104.89999999999998" fill="#fff" filter="url(#fSpB)"/><g opacity="0.75"><rect x="484.9" y="661.4" width="105.0" height="104.89999999999998" fill="#fff" filter="url(#fSpM)"/></g><rect x="484.9" y="661.4" width="105.0" height="104.89999999999998" fill="#fff" filter="url(#fFog)"/><polygon points="484.9,660.9 525.7,660.9 517.7,664.6 498.1,669.6 484.9,673.8" fill="#000"/><polygon points="484.9,744.1 494.8,748.6 502.9,755.0 514.1,748.6 527.0,739.8 539.5,737.7 541.7,746.5 535.3,757.3 527.3,766.9 484.9,766.9" fill="#000"/><polygon points="578.4,660.9 589.9,660.9 589.9,668.6 581.6,665.4" fill="#000"/><path d="M484.9 675.1 L498.1 671.5 L514.1 666.7 L526.6 661.9" fill="none" stroke="#e840e8" stroke-width="4.18" stroke-linejoin="round" stroke-linecap="round"/><path d="M484.9 742.5 L494.8 747.0 L502.9 753.4 L514.1 747.0 L527.0 738.2 L540.1 736.4 L543.0 746.5 L536.6 757.3 L528.6 766.9" fill="none" stroke="#f048f0" stroke-width="4.82" stroke-linejoin="round" stroke-linecap="round"/><ellipse cx="540.6" cy="676.7" rx="3.5" ry="4.0" transform="rotate(0 540.6 676.7)" fill="#100020" stroke="#e040e0" stroke-width="3.04"/><ellipse cx="531.8" cy="709.6" rx="3.2" ry="4.0" transform="rotate(0 531.8 709.6)" fill="#100020" stroke="#c040d8" stroke-width="2.60"/><ellipse cx="569.5" cy="703.2" rx="2.9" ry="4.8" transform="rotate(0 569.5 703.2)" fill="#100020" stroke="#c040d8" stroke-width="2.60"/><ellipse cx="522.1" cy="728.9" rx="2.9" ry="4.8" transform="rotate(0 522.1 728.9)" fill="#100020" stroke="#c040d8" stroke-width="2.60"/><ellipse cx="509.3" cy="685.5" rx="3.2" ry="3.2" transform="rotate(0 509.3 685.5)" fill="none" stroke="#9040c8" stroke-width="1.73"/><ellipse cx="565.5" cy="668.6" rx="4.0" ry="3.2" transform="rotate(0 565.5 668.6)" fill="#a040c0" stroke="#c050d0" stroke-width="2.60"/><ellipse cx="576.7" cy="676.7" rx="3.5" ry="2.9" transform="rotate(0 576.7 676.7)" fill="#9040c0" stroke="#b050d0" stroke-width="2.17"/><ellipse cx="587.2" cy="692.7" rx="2.4" ry="4.0" transform="rotate(0 587.2 692.7)" fill="none" stroke="#a040d0" stroke-width="1.73"/></g></g>
<text x="0" y="3.02" font-size="8.4" font-weight="bold" text-anchor="middle" fill="#000" stroke="#000" stroke-width="0.3" transform="translate(79.70 534.70) scale(1.08 1)">NC</text>
<text x="0" y="3.02" font-size="8.4" font-weight="bold" text-anchor="middle" fill="#000" stroke="#000" stroke-width="0.3" transform="translate(197.00 534.70) scale(1.08 1)">RIF</text>
<text x="0" y="3.24" font-size="9.0" font-weight="bold" text-anchor="middle" fill="#000" stroke="#000" stroke-width="0.3" textLength="74.20" lengthAdjust="spacingAndGlyphs" transform="translate(12.75 594.00) rotate(-90)"><tspan fill="#ee2a2a" stroke="#ee2a2a">H3K27me3</tspan>/<tspan fill="#3cc84a" stroke="#3cc84a">CK18</tspan></text>
<text x="0" y="3.24" font-size="9.0" font-weight="bold" text-anchor="middle" fill="#000" stroke="#000" stroke-width="0.3" textLength="70.40" lengthAdjust="spacingAndGlyphs" transform="translate(11.60 715.20) rotate(-90)"><tspan fill="#ee2a2a" stroke="#ee2a2a">H3K27ac</tspan>/<tspan fill="#3cc84a" stroke="#3cc84a">CK18</tspan></text>
<text x="0" y="0" font-size="15.0" font-weight="bold" fill="#000" stroke="#000" stroke-width="0.55" transform="translate(1.50 532.50) scale(1.099 1)">J</text>
<text x="0" y="0" font-size="15.0" font-weight="bold" fill="#000" stroke="#000" stroke-width="0.55" transform="translate(359.00 532.20) scale(1.073 1)">M</text>
<text x="0" y="4.18" font-size="11.6" font-weight="bold" text-anchor="middle" fill="#000" stroke="#000" stroke-width="0.35" textLength="45.50" lengthAdjust="spacingAndGlyphs" transform="translate(427.20 531.40)">Mettl3<tspan font-size="7.6" dy="-3.6">f/f</tspan></text>
<text x="0" y="4.18" font-size="11.6" font-weight="bold" text-anchor="middle" fill="#000" stroke="#000" stroke-width="0.35" textLength="49.50" lengthAdjust="spacingAndGlyphs" transform="translate(538.20 531.40)">Mettl3<tspan font-size="7.6" dy="-3.6">d/d</tspan></text>
<text x="0" y="3.46" font-size="9.6" font-weight="bold" text-anchor="middle" fill="#000" stroke="#000" stroke-width="0.3" textLength="76.00" lengthAdjust="spacingAndGlyphs" transform="translate(360.00 592.40) rotate(-90)"><tspan fill="#ee2a2a" stroke="#ee2a2a">H3K27me3</tspan>/<tspan fill="#3ab4e8" stroke="#3ab4e8">DAPI</tspan></text>
<text x="0" y="3.46" font-size="9.6" font-weight="bold" text-anchor="middle" fill="#000" stroke="#000" stroke-width="0.3" textLength="66.80" lengthAdjust="spacingAndGlyphs" transform="translate(360.60 711.30) rotate(-90)"><tspan fill="#ee2a2a" stroke="#ee2a2a">H3K27ac</tspan>/<tspan fill="#3ab4e8" stroke="#3ab4e8">DAPI</tspan></text>
<line x1="296.70" y1="565.00" x2="296.70" y2="631.50" stroke="#555" stroke-width="1.0"/>
<line x1="296.70" y1="631.50" x2="344.90" y2="631.50" stroke="#555" stroke-width="1.0"/>
<line x1="294.50" y1="631.50" x2="296.70" y2="631.50" stroke="#555" stroke-width="0.9"/>
<text x="0" y="3.02" font-size="8.4" font-weight="bold" text-anchor="end" fill="#000" stroke="#000" stroke-width="0.3" transform="translate(292.60 631.50) scale(1.08 1)">0</text>
<line x1="294.50" y1="618.20" x2="296.70" y2="618.20" stroke="#555" stroke-width="0.9"/>
<text x="0" y="3.02" font-size="8.4" font-weight="bold" text-anchor="end" fill="#000" stroke="#000" stroke-width="0.3" transform="translate(292.60 618.20) scale(1.08 1)">20</text>
<line x1="294.50" y1="604.90" x2="296.70" y2="604.90" stroke="#555" stroke-width="0.9"/>
<text x="0" y="3.02" font-size="8.4" font-weight="bold" text-anchor="end" fill="#000" stroke="#000" stroke-width="0.3" transform="translate(292.60 604.90) scale(1.08 1)">40</text>
<line x1="294.50" y1="591.60" x2="296.70" y2="591.60" stroke="#555" stroke-width="0.9"/>
<text x="0" y="3.02" font-size="8.4" font-weight="bold" text-anchor="end" fill="#000" stroke="#000" stroke-width="0.3" transform="translate(292.60 591.60) scale(1.08 1)">60</text>
<line x1="294.50" y1="578.30" x2="296.70" y2="578.30" stroke="#555" stroke-width="0.9"/>
<text x="0" y="3.02" font-size="8.4" font-weight="bold" text-anchor="end" fill="#000" stroke="#000" stroke-width="0.3" transform="translate(292.60 578.30) scale(1.08 1)">80</text>
<line x1="294.50" y1="565.00" x2="296.70" y2="565.00" stroke="#555" stroke-width="0.9"/>
<text x="0" y="3.02" font-size="8.4" font-weight="bold" text-anchor="end" fill="#000" stroke="#000" stroke-width="0.3" transform="translate(292.60 565.00) scale(1.08 1)">100</text>
<rect x="303.60" y="581.73" width="12.70" height="49.77" fill="#fff" stroke="#7ea6d8" stroke-width="1.0"/>
<line x1="309.95" y1="581.23" x2="309.95" y2="578.30" stroke="#111" stroke-width="0.9"/>
<line x1="306.95" y1="578.30" x2="312.95" y2="578.30" stroke="#111" stroke-width="0.9"/>
<circle cx="309.5" cy="576.8" r="1.45" fill="#111"/>
<circle cx="310.5" cy="580.5" r="1.45" fill="#111"/>
<circle cx="310.2" cy="586.2" r="1.45" fill="#111"/>
<rect x="323.70" y="614.81" width="14.10" height="16.69" fill="#f0f9cc"/>
<line x1="330.75" y1="614.81" x2="330.75" y2="612.22" stroke="#111" stroke-width="0.9"/>
<line x1="327.75" y1="612.22" x2="333.75" y2="612.22" stroke="#111" stroke-width="0.9"/>
<circle cx="330.5" cy="610.1" r="1.45" fill="#111"/>
<circle cx="329.4" cy="615.8" r="1.45" fill="#111"/>
<circle cx="332.3" cy="618.7" r="1.45" fill="#111"/>
<text x="0" y="3.78" font-size="10.5" font-weight="bold" text-anchor="middle" fill="#000" transform="translate(330.80 608.00) scale(1.15 1)">***</text>
<text x="0" y="3.35" font-size="9.3" font-weight="bold" text-anchor="middle" fill="#000" stroke="#000" stroke-width="0.3" textLength="97.40" lengthAdjust="spacingAndGlyphs" transform="translate(268.30 598.80) rotate(-90)">H3K27me3<tspan font-size="5.6" dy="-3.2">+</tspan><tspan dy="3.2"> cells (%)</tspan></text>
<text x="0" y="3.02" font-size="8.4" font-weight="bold" text-anchor="middle" fill="#000" stroke="#000" stroke-width="0.3" transform="translate(307.60 640.80) rotate(-45) scale(1.05 1)">NC</text>
<text x="0" y="3.02" font-size="8.4" font-weight="bold" text-anchor="middle" fill="#000" stroke="#000" stroke-width="0.3" transform="translate(328.50 641.50) rotate(-45) scale(1.05 1)">RIF</text>
<text x="0" y="0" font-size="15.0" font-weight="bold" fill="#000" stroke="#000" stroke-width="0.55" transform="translate(251.40 551.20) scale(1.073 1)">K</text>
<line x1="296.10" y1="669.60" x2="296.10" y2="735.10" stroke="#555" stroke-width="1.0"/>
<line x1="296.10" y1="735.10" x2="344.50" y2="735.10" stroke="#555" stroke-width="1.0"/>
<line x1="293.90" y1="735.10" x2="296.10" y2="735.10" stroke="#555" stroke-width="0.9"/>
<text x="0" y="3.02" font-size="8.4" font-weight="bold" text-anchor="end" fill="#000" stroke="#000" stroke-width="0.3" transform="translate(292.00 735.10) scale(1.08 1)">0</text>
<line x1="293.90" y1="722.00" x2="296.10" y2="722.00" stroke="#555" stroke-width="0.9"/>
<text x="0" y="3.02" font-size="8.4" font-weight="bold" text-anchor="end" fill="#000" stroke="#000" stroke-width="0.3" transform="translate(292.00 722.00) scale(1.08 1)">20</text>
<line x1="293.90" y1="708.90" x2="296.10" y2="708.90" stroke="#555" stroke-width="0.9"/>
<text x="0" y="3.02" font-size="8.4" font-weight="bold" text-anchor="end" fill="#000" stroke="#000" stroke-width="0.3" transform="translate(292.00 708.90) scale(1.08 1)">40</text>
<line x1="293.90" y1="695.80" x2="296.10" y2="695.80" stroke="#555" stroke-width="0.9"/>
<text x="0" y="3.02" font-size="8.4" font-weight="bold" text-anchor="end" fill="#000" stroke="#000" stroke-width="0.3" transform="translate(292.00 695.80) scale(1.08 1)">60</text>
<line x1="293.90" y1="682.70" x2="296.10" y2="682.70" stroke="#555" stroke-width="0.9"/>
<text x="0" y="3.02" font-size="8.4" font-weight="bold" text-anchor="end" fill="#000" stroke="#000" stroke-width="0.3" transform="translate(292.00 682.70) scale(1.08 1)">80</text>
<line x1="293.90" y1="669.60" x2="296.10" y2="669.60" stroke="#555" stroke-width="0.9"/>
<text x="0" y="3.02" font-size="8.4" font-weight="bold" text-anchor="end" fill="#000" stroke="#000" stroke-width="0.3" transform="translate(292.00 669.60) scale(1.08 1)">100</text>
<rect x="303.60" y="706.12" width="12.70" height="28.98" fill="#fff" stroke="#7ea6d8" stroke-width="1.0"/>
<line x1="309.95" y1="705.62" x2="309.95" y2="703.00" stroke="#111" stroke-width="0.9"/>
<line x1="306.95" y1="703.00" x2="312.95" y2="703.00" stroke="#111" stroke-width="0.9"/>
<circle cx="309.3" cy="701.1" r="1.45" fill="#111"/>
<circle cx="309.6" cy="703.8" r="1.45" fill="#111"/>
<circle cx="309.7" cy="712.6" r="1.45" fill="#111"/>
<rect x="323.70" y="688.27" width="14.10" height="46.83" fill="#f0f9cc"/>
<line x1="330.75" y1="688.27" x2="330.75" y2="685.71" stroke="#111" stroke-width="0.9"/>
<line x1="327.75" y1="685.71" x2="333.75" y2="685.71" stroke="#111" stroke-width="0.9"/>
<circle cx="330.9" cy="684.5" r="1.45" fill="#111"/>
<circle cx="331.9" cy="686.6" r="1.45" fill="#111"/>
<circle cx="330.9" cy="694.2" r="1.45" fill="#111"/>
<text x="0" y="3.78" font-size="10.5" font-weight="bold" text-anchor="middle" fill="#000" transform="translate(332.50 681.20) scale(1.15 1)">*</text>
<text x="0" y="3.35" font-size="9.3" font-weight="bold" text-anchor="middle" fill="#000" stroke="#000" stroke-width="0.3" textLength="90.00" lengthAdjust="spacingAndGlyphs" transform="translate(268.30 706.80) rotate(-90)">H3K27ac<tspan font-size="5.6" dy="-3.2">+</tspan><tspan dy="3.2"> cells (%)</tspan></text>
<text x="0" y="3.02" font-size="8.4" font-weight="bold" text-anchor="middle" fill="#000" stroke="#000" stroke-width="0.3" transform="translate(305.60 745.80) rotate(-45) scale(1.05 1)">NC</text>
<text x="0" y="3.02" font-size="8.4" font-weight="bold" text-anchor="middle" fill="#000" stroke="#000" stroke-width="0.3" transform="translate(327.20 747.00) rotate(-45) scale(1.05 1)">RIF</text>
<text x="0" y="0" font-size="15.0" font-weight="bold" fill="#000" stroke="#000" stroke-width="0.55" transform="translate(251.40 658.00) scale(0.957 1)">L</text>
<line x1="634.30" y1="556.30" x2="634.30" y2="623.00" stroke="#555" stroke-width="1.0"/>
<line x1="634.30" y1="623.00" x2="683.80" y2="623.00" stroke="#555" stroke-width="1.0"/>
<line x1="632.10" y1="623.00" x2="634.30" y2="623.00" stroke="#555" stroke-width="0.9"/>
<text x="0" y="3.02" font-size="8.4" font-weight="bold" text-anchor="end" fill="#000" stroke="#000" stroke-width="0.3" transform="translate(631.00 623.00) scale(1.08 1)">0</text>
<line x1="632.10" y1="606.33" x2="634.30" y2="606.33" stroke="#555" stroke-width="0.9"/>
<text x="0" y="3.02" font-size="8.4" font-weight="bold" text-anchor="end" fill="#000" stroke="#000" stroke-width="0.3" transform="translate(631.00 606.33) scale(1.08 1)">20</text>
<line x1="632.10" y1="589.65" x2="634.30" y2="589.65" stroke="#555" stroke-width="0.9"/>
<text x="0" y="3.02" font-size="8.4" font-weight="bold" text-anchor="end" fill="#000" stroke="#000" stroke-width="0.3" transform="translate(631.00 589.65) scale(1.08 1)">40</text>
<line x1="632.10" y1="572.97" x2="634.30" y2="572.97" stroke="#555" stroke-width="0.9"/>
<text x="0" y="3.02" font-size="8.4" font-weight="bold" text-anchor="end" fill="#000" stroke="#000" stroke-width="0.3" transform="translate(631.00 572.97) scale(1.08 1)">60</text>
<line x1="632.10" y1="556.30" x2="634.30" y2="556.30" stroke="#555" stroke-width="0.9"/>
<text x="0" y="3.02" font-size="8.4" font-weight="bold" text-anchor="end" fill="#000" stroke="#000" stroke-width="0.3" transform="translate(631.00 556.30) scale(1.08 1)">80</text>
<rect x="642.10" y="578.06" width="13.00" height="44.94" fill="#fff" stroke="#7ea6d8" stroke-width="1.0"/>
<line x1="648.60" y1="577.56" x2="648.60" y2="573.39" stroke="#111" stroke-width="0.9"/>
<line x1="645.60" y1="573.39" x2="651.60" y2="573.39" stroke="#111" stroke-width="0.9"/>
<circle cx="647.2" cy="572.7" r="1.45" fill="#111"/>
<circle cx="650.0" cy="574.0" r="1.45" fill="#111"/>
<circle cx="648.9" cy="587.6" r="1.45" fill="#111"/>
<rect x="662.70" y="597.99" width="13.90" height="25.01" fill="#f0f9cc"/>
<line x1="669.65" y1="597.99" x2="669.65" y2="596.90" stroke="#111" stroke-width="0.9"/>
<line x1="666.65" y1="596.90" x2="672.65" y2="596.90" stroke="#111" stroke-width="0.9"/>
<circle cx="664.5" cy="596.8" r="1.45" fill="#111"/>
<circle cx="670.3" cy="598.4" r="1.45" fill="#111"/>
<circle cx="674.2" cy="598.4" r="1.45" fill="#111"/>
<text x="0" y="3.78" font-size="10.5" font-weight="bold" text-anchor="middle" fill="#000" transform="translate(669.50 594.10) scale(1.15 1)">*</text>
<text x="0" y="3.35" font-size="9.3" font-weight="bold" text-anchor="middle" fill="#000" stroke="#000" stroke-width="0.3" textLength="98.50" lengthAdjust="spacingAndGlyphs" transform="translate(608.60 594.80) rotate(-90)">H3K27me3<tspan font-size="5.6" dy="-3.2">+</tspan><tspan dy="3.2"> cells (%)</tspan></text>
<text x="0" y="3.02" font-size="8.4" font-weight="bold" text-anchor="middle" fill="#000" stroke="#000" stroke-width="0.3" transform="translate(643.30 638.60) rotate(-45) scale(1.05 1)">M3<tspan font-size="5.54" dy="-2.52">f/f</tspan></text>
<text x="0" y="3.02" font-size="8.4" font-weight="bold" text-anchor="middle" fill="#000" stroke="#000" stroke-width="0.3" transform="translate(663.50 640.30) rotate(-45) scale(1.05 1)">M3<tspan font-size="5.54" dy="-2.52">d/d</tspan></text>
<text x="0" y="0" font-size="15.0" font-weight="bold" fill="#000" stroke="#000" stroke-width="0.55" transform="translate(591.60 541.90) scale(1.129 1)">N</text>
<line x1="634.50" y1="672.70" x2="634.50" y2="739.30" stroke="#555" stroke-width="1.0"/>
<line x1="634.50" y1="739.30" x2="684.50" y2="739.30" stroke="#555" stroke-width="1.0"/>
<line x1="632.30" y1="739.30" x2="634.50" y2="739.30" stroke="#555" stroke-width="0.9"/>
<text x="0" y="3.02" font-size="8.4" font-weight="bold" text-anchor="end" fill="#000" stroke="#000" stroke-width="0.3" transform="translate(631.20 739.30) scale(1.08 1)">0</text>
<line x1="632.30" y1="717.10" x2="634.50" y2="717.10" stroke="#555" stroke-width="0.9"/>
<text x="0" y="3.02" font-size="8.4" font-weight="bold" text-anchor="end" fill="#000" stroke="#000" stroke-width="0.3" transform="translate(631.20 717.10) scale(1.08 1)">20</text>
<line x1="632.30" y1="694.90" x2="634.50" y2="694.90" stroke="#555" stroke-width="0.9"/>
<text x="0" y="3.02" font-size="8.4" font-weight="bold" text-anchor="end" fill="#000" stroke="#000" stroke-width="0.3" transform="translate(631.20 694.90) scale(1.08 1)">40</text>
<line x1="632.30" y1="672.70" x2="634.50" y2="672.70" stroke="#555" stroke-width="0.9"/>
<text x="0" y="3.02" font-size="8.4" font-weight="bold" text-anchor="end" fill="#000" stroke="#000" stroke-width="0.3" transform="translate(631.20 672.70) scale(1.08 1)">60</text>
<rect x="642.50" y="714.83" width="12.80" height="24.47" fill="#fff" stroke="#7ea6d8" stroke-width="1.0"/>
<line x1="648.90" y1="714.33" x2="648.90" y2="711.33" stroke="#111" stroke-width="0.9"/>
<line x1="645.90" y1="711.33" x2="651.90" y2="711.33" stroke="#111" stroke-width="0.9"/>
<circle cx="648.8" cy="708.8" r="1.45" fill="#111"/>
<circle cx="647.4" cy="715.2" r="1.45" fill="#111"/>
<circle cx="650.4" cy="718.0" r="1.45" fill="#111"/>
<rect x="663.00" y="689.35" width="14.00" height="49.95" fill="#f0f9cc"/>
<line x1="670.00" y1="689.35" x2="670.00" y2="682.80" stroke="#111" stroke-width="0.9"/>
<line x1="667.00" y1="682.80" x2="673.00" y2="682.80" stroke="#111" stroke-width="0.9"/>
<circle cx="669.7" cy="678.2" r="1.45" fill="#111"/>
<circle cx="669.7" cy="690.0" r="1.45" fill="#111"/>
<circle cx="669.7" cy="701.2" r="1.45" fill="#111"/>
<text x="0" y="3.78" font-size="10.5" font-weight="bold" text-anchor="middle" fill="#000" transform="translate(669.70 673.40) scale(1.15 1)">*</text>
<text x="0" y="3.35" font-size="9.3" font-weight="bold" text-anchor="middle" fill="#000" stroke="#000" stroke-width="0.3" textLength="89.40" lengthAdjust="spacingAndGlyphs" transform="translate(611.00 706.70) rotate(-90)">H3K27ac<tspan font-size="5.6" dy="-3.2">+</tspan><tspan dy="3.2"> cells (%)</tspan></text>
<text x="0" y="3.02" font-size="8.4" font-weight="bold" text-anchor="middle" fill="#000" stroke="#000" stroke-width="0.3" transform="translate(643.70 754.00) rotate(-45) scale(1.05 1)">M3<tspan font-size="5.54" dy="-2.52">f/f</tspan></text>
<text x="0" y="3.02" font-size="8.4" font-weight="bold" text-anchor="middle" fill="#000" stroke="#000" stroke-width="0.3" transform="translate(663.90 755.80) rotate(-45) scale(1.05 1)">M3<tspan font-size="5.54" dy="-2.52">d/d</tspan></text>
<text x="0" y="0" font-size="15.0" font-weight="bold" fill="#000" stroke="#000" stroke-width="0.55" transform="translate(591.70 661.80) scale(1.064 1)">O</text></svg>
</body></html>
